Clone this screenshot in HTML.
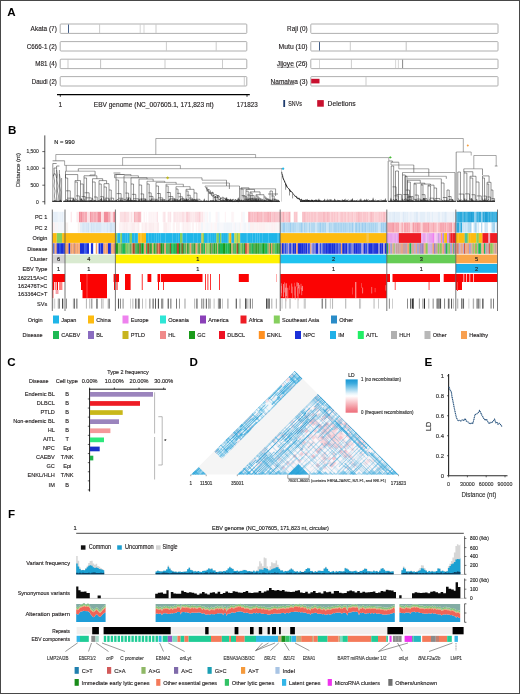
<!DOCTYPE html>
<html><head><meta charset="utf-8"><title>Figure</title>
<style>html,body{margin:0;padding:0;background:#fff;}body{width:520px;height:694px;overflow:hidden;font-family:"Liberation Sans",sans-serif;}svg{display:block;will-change:transform;}text{font-family:"Liberation Sans",sans-serif;}</style></head>
<body>
<svg width="520" height="694" viewBox="0 0 520 694" font-family="Liberation Sans, sans-serif" fill="#231f20">
<rect x="0" y="0" width="520" height="694" fill="#fff"/>
<text x="7.2" y="15.6" font-size="11.6" fill="#000" font-weight="bold">A</text>
<text x="56.8" y="31.2" font-size="7" text-anchor="end" stroke="#231f20" stroke-width="0.15" textLength="26.2" lengthAdjust="spacingAndGlyphs">Akata (7)</text>
<rect x="60.2" y="24" width="186.6" height="9.4" fill="#fff" stroke="#a6a6a6" stroke-width="0.9" rx="0.8"/>
<line x1="68.5" y1="24.5" x2="68.5" y2="32.9" stroke="#2b4a78" stroke-width="0.9"/>
<line x1="99.6" y1="24.5" x2="99.6" y2="32.9" stroke="#aaa" stroke-width="0.6"/>
<line x1="140.2" y1="24.5" x2="140.2" y2="32.9" stroke="#bbb" stroke-width="0.6"/>
<line x1="144" y1="24.5" x2="144" y2="32.9" stroke="#bbb" stroke-width="0.6"/>
<line x1="156" y1="24.5" x2="156" y2="32.9" stroke="#aaa" stroke-width="0.6"/>
<text x="56.8" y="48.8" font-size="7" text-anchor="end" stroke="#231f20" stroke-width="0.15" textLength="30" lengthAdjust="spacingAndGlyphs">C666-1 (2)</text>
<rect x="60.2" y="41.6" width="186.6" height="9.4" fill="#fff" stroke="#a6a6a6" stroke-width="0.9" rx="0.8"/>
<line x1="166.4" y1="42.1" x2="166.4" y2="50.5" stroke="#aaa" stroke-width="0.6"/>
<line x1="216.2" y1="42.1" x2="216.2" y2="50.5" stroke="#aaa" stroke-width="0.6"/>
<text x="56.8" y="66.4" font-size="7" text-anchor="end" stroke="#231f20" stroke-width="0.15" textLength="21.5" lengthAdjust="spacingAndGlyphs">M81 (4)</text>
<rect x="60.2" y="59.2" width="186.6" height="9.4" fill="#fff" stroke="#a6a6a6" stroke-width="0.9" rx="0.8"/>
<line x1="68" y1="59.7" x2="68" y2="68.1" stroke="#aaa" stroke-width="0.6"/>
<line x1="100.6" y1="59.7" x2="100.6" y2="68.1" stroke="#999" stroke-width="0.6"/>
<line x1="165" y1="59.7" x2="165" y2="68.1" stroke="#aaa" stroke-width="0.6"/>
<line x1="222.5" y1="59.7" x2="222.5" y2="68.1" stroke="#aaa" stroke-width="0.6"/>
<text x="56.8" y="83.8" font-size="7" text-anchor="end" stroke="#231f20" stroke-width="0.15" textLength="25" lengthAdjust="spacingAndGlyphs">Daudi (2)</text>
<rect x="60.2" y="76.6" width="186.6" height="9.4" fill="#fff" stroke="#a6a6a6" stroke-width="0.9" rx="0.8"/>
<line x1="244.3" y1="77.1" x2="244.3" y2="85.5" stroke="#aaa" stroke-width="0.6"/>
<text x="307.6" y="31.2" font-size="7" text-anchor="end" stroke="#231f20" stroke-width="0.15" textLength="20.5" lengthAdjust="spacingAndGlyphs">Raji (0)</text>
<rect x="310.8" y="24" width="187.2" height="9.4" fill="#fff" stroke="#a6a6a6" stroke-width="0.9" rx="0.8"/>
<text x="307.6" y="48.8" font-size="7" text-anchor="end" stroke="#231f20" stroke-width="0.15" textLength="29" lengthAdjust="spacingAndGlyphs">Mutu (10)</text>
<rect x="310.8" y="41.6" width="187.2" height="9.4" fill="#fff" stroke="#a6a6a6" stroke-width="0.9" rx="0.8"/>
<line x1="319.5" y1="42.1" x2="319.5" y2="50.5" stroke="#2b4a78" stroke-width="0.9"/>
<line x1="350.3" y1="42.1" x2="350.3" y2="50.5" stroke="#aaa" stroke-width="0.6"/>
<line x1="406.2" y1="42.1" x2="406.2" y2="50.5" stroke="#999" stroke-width="0.6"/>
<text x="307.6" y="66.4" font-size="7" text-anchor="end" stroke="#231f20" stroke-width="0.15" textLength="30.8" lengthAdjust="spacingAndGlyphs">Jijoye (26)</text>
<rect x="310.8" y="59.2" width="187.2" height="9.4" fill="#fff" stroke="#a6a6a6" stroke-width="0.9" rx="0.8"/>
<line x1="319.5" y1="59.7" x2="319.5" y2="68.1" stroke="#bbb" stroke-width="0.6"/>
<line x1="351.4" y1="59.7" x2="351.4" y2="68.1" stroke="#aaa" stroke-width="0.6"/>
<line x1="395.6" y1="59.7" x2="395.6" y2="68.1" stroke="#bbb" stroke-width="0.6"/>
<line x1="398.4" y1="59.7" x2="398.4" y2="68.1" stroke="#bbb" stroke-width="0.6"/>
<line x1="402.6" y1="59.7" x2="402.6" y2="68.1" stroke="#555" stroke-width="0.7"/>
<text x="307.6" y="83.8" font-size="7" text-anchor="end" stroke="#231f20" stroke-width="0.15" textLength="37" lengthAdjust="spacingAndGlyphs">Namalwa (3)</text>
<rect x="310.8" y="76.6" width="187.2" height="9.4" fill="#fff" stroke="#a6a6a6" stroke-width="0.9" rx="0.8"/>
<rect x="311.2" y="78.8" width="8.3" height="4.6" fill="#c8102e"/>
<line x1="366" y1="77.1" x2="366" y2="85.5" stroke="#aaa" stroke-width="0.6"/>
<line x1="277.2" y1="67.2" x2="294.5" y2="67.2" stroke="#231f20" stroke-width="0.5"/>
<line x1="270.8" y1="84.6" x2="294.3" y2="84.6" stroke="#231f20" stroke-width="0.5"/>
<line x1="57" y1="94.6" x2="249.8" y2="94.6" stroke="#000" stroke-width="1.1"/>
<line x1="60.3" y1="94.6" x2="60.3" y2="96.8" stroke="#000" stroke-width="0.8"/>
<line x1="247" y1="94.6" x2="247" y2="96.8" stroke="#000" stroke-width="0.8"/>
<text x="60.3" y="107" font-size="6.5" text-anchor="middle" stroke="#231f20" stroke-width="0.15">1</text>
<text x="93.8" y="107" font-size="6.5" stroke="#231f20" stroke-width="0.15" textLength="119.8" lengthAdjust="spacingAndGlyphs">EBV genome (NC_007605.1, 171,823 nt)</text>
<text x="236.8" y="107" font-size="6.5" stroke="#231f20" stroke-width="0.15" textLength="20.9" lengthAdjust="spacingAndGlyphs">171823</text>
<rect x="283.3" y="100" width="1.8" height="7" fill="#1f3c6e"/>
<text x="288.3" y="105.6" font-size="7" stroke="#231f20" stroke-width="0.15" textLength="13.5" lengthAdjust="spacingAndGlyphs">SNVs</text>
<rect x="317.2" y="100.1" width="6.6" height="6.6" fill="#c8102e"/>
<text x="327.6" y="105.6" font-size="7" stroke="#231f20" stroke-width="0.15" textLength="28" lengthAdjust="spacingAndGlyphs">Deletions</text>
<text x="8.1" y="133.7" font-size="11.6" fill="#000" font-weight="bold">B</text>
<line x1="44.8" y1="135.4" x2="44.8" y2="204.5" stroke="#222" stroke-width="0.8"/>
<line x1="42.3" y1="151.6" x2="44.8" y2="151.6" stroke="#222" stroke-width="0.7"/>
<text x="38.8" y="153.4" font-size="5.2" text-anchor="end" fill="#333" stroke="#333" stroke-width="0.15" textLength="12.36" lengthAdjust="spacingAndGlyphs">1,500</text>
<line x1="42.3" y1="168.2" x2="44.8" y2="168.2" stroke="#222" stroke-width="0.7"/>
<text x="38.8" y="170" font-size="5.2" text-anchor="end" fill="#333" stroke="#333" stroke-width="0.15" textLength="12.36" lengthAdjust="spacingAndGlyphs">1,000</text>
<line x1="42.3" y1="185.2" x2="44.8" y2="185.2" stroke="#222" stroke-width="0.7"/>
<text x="38.8" y="187" font-size="5.2" text-anchor="end" fill="#333" stroke="#333" stroke-width="0.15" textLength="8.24" lengthAdjust="spacingAndGlyphs">500</text>
<line x1="42.3" y1="201.7" x2="44.8" y2="201.7" stroke="#222" stroke-width="0.7"/>
<text x="38.8" y="203.5" font-size="5.2" text-anchor="end" fill="#333" stroke="#333" stroke-width="0.15" textLength="2.75" lengthAdjust="spacingAndGlyphs">0</text>
<text x="0" y="0" font-size="6.2" text-anchor="middle" fill="#333" stroke="#333" stroke-width="0.15" textLength="34" lengthAdjust="spacingAndGlyphs" transform="translate(19.8,170) rotate(-90)">Distance (nt)</text>
<text x="54.3" y="143.8" font-size="5.6" fill="#222" stroke="#222" stroke-width="0.15" textLength="20.3" lengthAdjust="spacingAndGlyphs">N = 990</text>
<path d="M52.6,160.8L64.6,160.8M78.3,168.7L78.3,171.2M66.2,165.4L66.2,171.2M52.8,163.5L52.8,201.6M56.6,166L56.6,201.6M59.4,170L59.4,201.6M61.6,178L61.6,201.6M52.8,163.5L56.6,163.5M56.6,166L59.4,166M54,168L56.6,168M54,168L54.3,172L53.6,176L54.6,181L54,186L55,191L54.4,196L55.2,201M56.6,170L57.4,175L56.9,180L58,186L57.4,191L58.4,196L58,201M59.4,174L60.3,180L59.8,186L60.8,192L60.4,201M53.4,176Q55,170 56.6,178M65.5,171.2L65.5,178M95.1,171.2L95.1,175M65.5,178L65.5,201.6M65.5,178L67.71,178M67.71,178L67.71,201.6M66.05,190.8L70.28,190.8M70.28,190.8L70.28,201.6M67.32,198.16L73,198.16M73,198.16L73,201.6M65.5,199.99L66.32,200.03L66.95,199.19L67.51,200.97L68.03,200.94L68.81,199.67L69.58,201.39L70.26,200.07L70.8,200.78L71.57,200.94L72.31,201.12M75,182L75,201.6M75,182L77.37,182M77.37,182L77.37,201.6M76.02,195.88L79.36,195.88M79.36,195.88L79.36,201.6M75,199.89L75.64,198.64L76.54,199.7L77.66,201.04L78.41,200.27L79,200.71L79.57,201.02M80.5,184L80.5,201.6M80.5,184L83.23,184M83.23,184L83.23,201.6M81.6,196.55L85.34,196.55M85.34,196.55L85.34,201.6M80.5,199.82L81.05,198.71L81.91,199.68L82.56,201.02L83.07,200.87L83.75,200.86L84.52,200.49L85.64,201.47M75,180.58L80.5,180.58M75,180.58L75,182M80.5,180.58L80.5,184M65.5,174.56L77.74,174.56M65.5,174.56L65.5,178M77.74,174.56L77.74,180.58M84,178L84,201.6M84,178L86.57,178M86.57,178L86.57,201.6M84.53,192.77L89.14,192.77M89.14,192.77L89.14,201.6M85.77,197.84L91.32,197.84M91.32,197.84L91.32,201.6M84,200.04L84.79,199.72L85.49,201.32L86.05,201.31L86.92,200.75L87.98,200.62L88.98,200.07L89.52,201.58L90.12,201.17L91.02,201.03L91.77,201.14M92.5,182L92.5,201.6M92.5,182L95.18,182M95.18,182L95.18,201.6M93.98,196.99L97.2,196.99M97.2,196.99L97.2,201.6M92.5,198.13L93.41,201.06L94.58,200.55L95.14,200.34L95.99,200.83L96.6,201.44L97.51,201.24M99,184L99,201.6M99,184L101.29,184M101.29,184L101.29,201.6M100.11,196.72L103.6,196.72M103.6,196.72L103.6,201.6M99,200.81L99.64,200.2L100.21,199.58L101.21,200.25L101.73,200.9L102.53,201.47L103.71,201.03M104,187L104,201.6M104,187L106.39,187M106.39,187L106.39,201.6M104.7,198.18L108.64,198.18M108.64,198.18L108.64,201.6M104,201.58L104.93,198.91L105.95,199.41L107.14,201.23L107.84,200.91M109,190L109,201.6M109,190L111.26,190M111.26,190L111.26,201.6M110.22,198.18L113.64,198.18M113.64,198.18L113.64,201.6M109,198.86L109.71,198.99L110.34,200.6L111.52,199.88L112.23,201.13L113.16,200.7M104,183.66L109,183.66M104,183.66L104,187M109,183.66L109,190M99,180.61L106.59,180.61M99,180.61L99,184M106.59,180.61L106.59,183.66M92.5,178.7L102.66,178.7M92.5,178.7L92.5,182M102.66,178.7L102.66,180.61M84,175.78L96.85,175.78M84,175.78L84,178M96.85,175.78L96.85,178.7M89.89,175.78L89.89,175M89.89,175L95.1,175M113.5,173L120.4,173M202,177.8L202,180.2M116,180L116,201.6M116,180L118.6,180M118.6,180L118.6,201.6M116.59,193.6L121.12,193.6M121.12,193.6L121.12,201.6M118.26,198.24L122.94,198.24M122.94,198.24L122.94,201.6M116,200.58L117.06,200.04L117.76,199.1L118.55,200.69L119.72,199.98L120.74,201.19L121.81,200.86L122.89,201.3L123.94,201.27M124,182L124,201.6M124,182L126.21,182M126.21,182L126.21,201.6M125.32,193.08L128.61,193.08M128.61,193.08L128.61,201.6M126.16,198.01L130.59,198.01M130.59,198.01L130.59,201.6M124,199.98L125.11,198.87L126.26,201.37L127.18,199.78L128.14,201.06L128.66,200.26L129.77,200.96L130.52,201.06M131,184L131,201.6M131,184L133.56,184M133.56,184L133.56,201.6M131.84,194.35L135.77,194.35M135.77,194.35L135.77,201.6M133.14,198.78L138.42,198.78M138.42,198.78L138.42,201.6M131,200.38L131.61,200.77L132.38,200.32L133.43,201.35L134.09,200.93L134.71,200.06L135.29,201.51L136.18,200.51L137.25,201L137.98,200.91L139,201.41M139,185L139,201.6M139,185L141.64,185M141.64,185L141.64,201.6M140.51,193.93L143.64,193.93M143.64,193.93L143.64,201.6M141.65,198.97L146,198.97M146,198.97L146,201.6M139,198.49L139.91,199.67L140.7,198.94L141.61,199.37L142.75,200.19L143.94,200.83L144.7,200.52L145.57,201.31L146.54,201.33M147,184L147,201.6M147,184L149.2,184M149.2,184L149.2,201.6M148.29,192.87L151.19,192.87M151.19,192.87L151.19,201.6M149.21,196.41L152.96,196.41M152.96,196.41L152.96,201.6M151.11,199.2L155.76,199.2M155.76,199.2L155.76,201.6M147,200.22L147.52,200.37L148.69,200.59L149.68,200.01L150.28,199.98L150.83,201.2L151.74,201.37L152.91,200.99L153.85,200.54L154.43,200.7L154.96,201.17L155.92,201.23M156,186L156,201.6M156,186L158.48,186M158.48,186L158.48,201.6M156.97,193.5L160.38,193.5M160.38,193.5L160.38,201.6M158.15,197.9L162.76,197.9M162.76,197.9L162.76,201.6M160.56,199.58L165.06,199.58M165.06,199.58L165.06,201.6M156,201.11L157,198.77L157.72,201.5L158.38,200.61L159.14,200.19L159.85,200.13L160.9,200.08L161.92,200.66L162.6,200.42L163.3,200.59L164.11,201.02L164.96,201.18L165.7,201.36M166,186L166,201.6M166,186L168.17,186M168.17,186L168.17,201.6M166.83,192.51L170.42,192.51M170.42,192.51L170.42,201.6M168.33,196.55L172.89,196.55M172.89,196.55L172.89,201.6M169.51,198.81L175.35,198.81M175.35,198.81L175.35,201.6M172.53,199.99L177.57,199.99M177.57,199.99L177.57,201.6M166,200.71L167.12,200.97L167.7,201.49L168.7,201.01L169.42,199.08L170.44,199.9L171.34,200.28L171.85,200.04L172.58,200.12L173.37,200.22L173.87,200.25L174.44,200.97L175.27,200.61L176.27,200.88L177.41,201.42M176,189L176,201.6M176,189L178.03,189M178.03,189L178.03,201.6M177.18,193.33L180.43,193.33M180.43,193.33L180.43,201.6M178.61,196.81L182.64,196.81M182.64,196.81L182.64,201.6M180.53,198.59L184.21,198.59M184.21,198.59L184.21,201.6M181.36,199.8L186.77,199.8M186.77,199.8L186.77,201.6M182.93,200.4L188.73,200.4M188.73,200.4L188.73,201.6M176,199.77L176.92,200.27L177.57,199.43L178.56,201.05L179.62,199.86L180.73,199.73L181.58,200.03L182.3,200.27L182.85,200.94L183.71,200.09L184.69,200.26L185.8,200.42L186.73,200.99L187.56,201.42L188.61,201.26L189.23,201.5L189.88,201.41M186,191L186,201.6M186,191L188.11,191M188.11,191L188.11,201.6M186.9,195.26L190.27,195.26M190.27,195.26L190.27,201.6M188.91,198.1L192.27,198.1M192.27,198.1L192.27,201.6M190.38,199.66L195.37,199.66M195.37,199.66L195.37,201.6M192.18,200.26L197.58,200.26M197.58,200.26L197.58,201.6M186,198.6L186.97,200.15L187.88,200.14L188.77,199.16L189.95,201.11L190.98,199.56L191.9,200.64L192.67,200.77L193.57,200.71L194.15,200.3L194.84,200.99L195.48,201L196.04,201.33L196.81,201.42L197.65,201.54M194,193L194,201.6M194,193L196.91,193M196.91,193L196.91,201.6M195.71,199.28L199.96,199.28M199.96,199.28L199.96,201.6M194,198.93L195.12,200.01L196.08,199.9L196.94,200.57L197.72,200.86L198.56,200.62L199.17,201.49M186,189.33L194,189.33M186,189.33L186,191M194,189.33L194,193M176,186.64L176,189M190.07,186.64L190.07,189.33M166,184.24L166,186M183.33,184.24L183.33,186.64M156,182.38L156,186M176.15,182.38L176.15,184.24M147,181.27L147,184M164.74,181.27L164.74,182.38M139,179.12L139,185M153.17,179.12L153.17,181.27M131,177.71L131,184M147.06,177.71L147.06,179.12M124,175.76L124,182M138.37,175.76L138.37,177.71M116,174.49L116,180M130.93,174.49L130.93,175.76M114.6,177.8L114.6,174.49M114.6,174.49L124.56,174.49M226.5,180.2L226.5,186M205,186.17L205.39,187.2L205.79,187.62L206.18,187.3L206.57,188.61L206.97,187.43L207.36,189.01L207.75,189.76L208.15,190.1L208.54,189.42L208.93,189.44L209.33,189.56L209.72,189.99L210.11,190.52L210.51,191.82L210.9,192.41L211.29,193.16L211.69,192.61L212.08,193.95L212.47,191.87L212.87,193.16L213.26,192.7L213.65,194.22L214.04,194.65L214.44,194.92L214.83,194.7L215.22,194.68L215.62,194.77L216.01,194.27L216.4,194.75L216.8,195.88L217.19,196.33L217.58,195.02L217.98,197.58L218.37,195.13L218.76,195.61L219.16,196.8L219.55,196.58L219.94,197.33L220.34,198.02L220.73,197.85L221.12,198.6L221.52,197.72L221.91,198.5L222.3,197.8L222.7,196.98L223.09,196.93L223.48,197.38L223.88,198.33L224.27,197.89L224.66,198.9L225.06,199.34L225.45,200.24L225.84,197.87L226.24,200.54L226.63,197.56L227.02,200.48L227.42,200.87L227.81,198.96L228.2,200.42L228.6,199.55L228.99,199.8L229.38,200.81L229.78,201.15L230.17,199.16L230.56,198.96L230.96,201.25L231.35,200.26L231.74,201.31L232.13,199.18L232.53,201.24L232.92,199.09L233.31,199.09L233.71,199.59L234.1,201.6L234.49,199.99L234.89,200.21L235.28,199.76L235.67,199.11L236.07,200.33L236.46,200.54L236.85,200.05L237.25,201.36L237.64,200.04L238.03,201.6L238.43,201.6L238.82,200.99L239.21,199.49L239.61,200.99L240,201.21M206,188.75L206.37,188.62L206.74,190.03L207.11,191.34L207.48,190.94L207.85,189.41L208.22,191.62L208.6,192.02L208.97,192.2L209.34,193.76L209.71,191.48L210.08,191.74L210.45,194.2L210.82,192.66L211.19,193.09L211.56,195.44L211.93,194.36L212.3,196.21L212.67,196.24L213.04,196.08L213.42,195.42L213.79,194.83L214.16,197.74L214.53,197.65L214.9,198L215.27,196.98L215.64,196.49L216.01,197.72L216.38,197.28L216.75,196.77L217.12,196.7L217.49,197.74L217.87,197.12L218.24,197.62L218.61,199.89L218.98,199.9L219.35,199.89L219.72,198.89L220.09,199.76L220.46,198.08L220.83,199.57L221.2,200.73L221.57,200.29L221.94,200.97L222.31,199.99L222.69,199.11L223.06,198.35L223.43,199.18L223.8,200.94L224.17,200.11L224.54,200.47L224.91,201.08L225.28,199.63L225.65,199.23L226.02,201.53L226.39,200.73L226.76,199.07L227.13,201.13L227.51,201.26L227.88,201.43L228.25,199.59L228.62,200.07L228.99,201.46L229.36,201.34L229.73,200.42L230.1,201.6L230.47,200.36L230.84,201.6L231.21,199.94L231.58,200.94L231.96,201.6L232.33,201.6L232.7,201.6L233.07,201.6L233.44,201.6L233.81,201.38L234.18,201.6L234.55,201.39L234.92,201.6L235.29,201.6L235.66,199.87L236.03,200.75L236.4,201.6L236.78,200.28L237.15,199.99L237.52,201.6L237.89,201.6L238.26,201.6L238.63,201.6L239,201.6M215.32,196.04L215.32,201.6M213.25,194.76L213.25,201.6M217.16,196.98L217.16,201.6M215.23,195.99L215.23,201.6M208.33,190.42L208.33,201.6M239.5,186L239.5,201.6M229.4,183L229.4,189M241,189L241,201.6M241,189L243.08,189M243.08,189L243.08,201.6M241.69,195.49L244.96,195.49M244.96,195.49L244.96,201.6M242.64,196.81L246.98,196.81M246.98,196.81L246.98,201.6M243.86,199.03L249.08,199.03M249.08,199.03L249.08,201.6M246.41,200.2L251.66,200.2M251.66,200.2L251.66,201.6M241,199.88L242.02,201.3L242.79,200.64L243.91,200.28L244.68,199.98L245.85,199.87L246.91,200.42L247.97,200.78L248.74,201.21L249.43,201.25L250.28,200.92L250.94,201.37L251.63,201.41M246,191.2L246,201.6M246,191.2L248.26,191.2M248.26,191.2L248.26,201.6M247.28,195.06L250.34,195.06M250.34,195.06L250.34,201.6M248.78,198.47L252.94,198.47M252.94,198.47L252.94,201.6M249.72,199.73L255.12,199.73M255.12,199.73L255.12,201.6M251.93,200.41L257.22,200.41M257.22,200.41L257.22,201.6M246,200.69L246.52,199.29L247.08,198.86L248.01,200.08L248.69,199.19L249.27,200.08L250.35,200.07L250.89,201.36L251.59,200.14L252.18,199.85L253.31,200.72L254.42,200.82L255.03,201.17L255.55,201.19L256.74,201.35L257.71,201.47M250,193L250,201.6M250,193L252.1,193M252.1,193L252.1,201.6M250.76,195.61L254.16,195.61M254.16,195.61L254.16,201.6M251.54,198.24L256.3,198.24M256.3,198.24L256.3,201.6M253.26,199.21L258.56,199.21M258.56,199.21L258.56,201.6M256.07,200.28L261.46,200.28M261.46,200.28L261.46,201.6M250,200.1L251.11,199.49L251.77,201.28L252.89,201.38L253.82,200.05L254.45,200.51L255.55,199.4L256.11,201.54L256.79,201.5L257.94,201.47L258.7,200.34L259.52,201.3L260.06,201.34L260.78,200.77L261.58,201.16L262.27,201.34L263.42,201.56M256,196L256,201.6M256,196L258.05,196M258.05,196L258.05,201.6M257,198.03L260.13,198.03M260.13,198.03L260.13,201.6M258.24,199.08L262.33,199.08M262.33,199.08L262.33,201.6M259.7,200.09L264.29,200.09M264.29,200.09L264.29,201.6M256,200.03L257.02,201.36L257.57,199.9L258.48,199.21L259,201.57L259.92,201.02L260.77,200.86L261.33,200.25L262.05,200.5L263.16,200.69L264.25,201.07L264.88,200.93L265.58,200.49L266.17,200.58L266.82,201.08L267.47,201.44L268.07,200.6L268.64,200.77L269.46,200.96L270.09,201.25L271.07,201.48L272,201.41M264,197L264,201.6M264,197L265.99,197M265.99,197L265.99,201.6M265.02,198.67L268.29,198.67M268.29,198.67L268.29,201.6M266.14,199.57L270.42,199.57M270.42,199.57L270.42,201.6M267.16,200.43L272.03,200.43M272.03,200.43L272.03,201.6M264,200.96L265.13,200.54L265.93,201.47L266.43,199.91L267.55,199.9L268.14,199.92L268.73,200.47L269.76,200.76L270.48,200.96L271.18,201.57L272.19,200.98L272.82,201.15L273.35,200.98L274.26,200.91L275.07,200.69L275.68,201.45L276.57,201.37L277.28,201.31M256,194.72L264,194.72M256,194.72L256,196M264,194.72L264,197M250,191.89L260.06,191.89M250,191.89L250,193M260.06,191.89L260.06,194.72M246,189.41L254.56,189.41M246,189.41L246,191.2M254.56,189.41L254.56,191.89M241,187.84L248.98,187.84M241,187.84L241,189M248.98,187.84L248.98,189.41M275.6,188.8L275.6,196M268,194L278,194M300,200.27L300.77,201.16L301.52,200.04L302.14,201.39L302.72,201.37L303.47,200.64L303.93,200.02L304.48,200.69L304.97,200.56L305.71,200.27L306.12,201.15L306.61,200.91L307.5,200.04L308.34,200.5L308.75,200.94L309.46,200.22L310.09,200.68L310.68,200.56L311.34,200.82L312.29,200.43L313.09,200.03L313.93,200.99L314.78,200.41L315.5,200.28L316.4,200.93L316.97,200.55L317.43,200.14L317.95,200.9L318.82,199.98L319.38,201.2L320.18,200.42L320.82,201.12L321.81,201.24L322.72,201.02L323.27,200.74L323.75,200.18L324.27,200.96L324.87,200.11L325.29,200.22L325.86,200.35L326.84,201.11L327.26,200.92L328.09,201.03L328.68,199.83L329.6,199.86L330.13,200.29L330.71,200.28L331.61,200.34L332.31,200.36L333.12,201.14L333.95,201.2L334.86,200.85L335.31,201.37L336.08,201.29L336.72,201.33L337.53,200.02L337.95,200.42L338.74,200.51L339.72,200.9L340.65,200.54L341.19,200.96L341.65,200.18L342.18,200.46L343.05,200.99L343.84,200.31L344.5,200.15L345.15,201.17L345.61,201.17L346.44,200.59L346.93,199.89L347.34,200.45L348.02,199.98L348.78,200.05L349.32,200.55L350.18,200.8L351.02,200.74L351.63,200.96L352.44,199.82L352.86,201.06L353.3,201.13L354,200.5L354.82,201.2L355.73,201.09L356.6,200.77L357.31,200.06L358.26,200.54L358.69,200.9L359.52,200.09L360.45,200.51L360.91,200.95L361.57,201.18L362.18,200.9L363.01,200.66L363.76,200.93L364.59,200.52L365.04,199.92L365.51,201L365.96,200.12L366.87,200.67L367.73,200.12L368.65,199.89L369.44,200.44L369.86,201.05L370.85,200.55L371.82,201.04L372.71,200.13L373.55,200.9L374.54,200.87L375.54,199.9L375.99,201.28L376.64,200.98L377.28,201.11L378.13,201.25L378.89,200.88L379.49,200.43L379.9,200.2L380.58,200.22L381.47,199.93L381.88,200.98L382.48,200.53L383.06,200.7L383.76,200.17L384.21,200.8L384.76,200.72L385.37,201.01L386.33,201.4L386.75,200.23M285.6,184L285.6,189.76M292.6,193.5L292.6,198.41M289.5,190L289.5,195.49M281.2,168.8L283.6,168.8M270,191L270,201.6M270,191L272.36,191M272.36,191L272.36,201.6M271.38,195.93L274.16,195.93M274.16,195.93L274.16,201.6M271.97,199.11L276.06,199.11M276.06,199.11L276.06,201.6M273.94,200.03L278.5,200.03M278.5,200.03L278.5,201.6M270,199.81L271.19,201.6L272.09,199.64L272.76,201.2L273.9,199.88L274.64,199.73L275.45,200.18L276.45,200.98L277.2,201.5L277.96,200.98L278.69,201.41L279.42,201.57M388.8,161L392.5,161M388.2,161L388.2,201.6M391,162.2L398.8,162.2M413.8,165L413.8,172.5M428.8,168.8L428.8,176.3M455,172.5L455,201.6M402.5,172.5L402.5,175M446.3,176.3L446.3,178.8M391.2,166L391.2,201.6M391.2,166L393.66,166M393.66,166L393.66,201.6M392.52,186.84L396.09,186.84M396.09,186.84L396.09,201.6M394.46,195.79L398.1,195.79M398.1,195.79L398.1,201.6M391.2,201.16L391.87,200.41L392.88,200.13L393.66,199.32L394.45,201.11L394.97,199.66L396.17,200.12L397.08,200.97L398.25,201.22L398.99,201.34M395.5,171L395.5,201.6M395.5,171L398.51,171M398.51,171L398.51,201.6M396.38,194.45L401.4,194.45M401.4,194.45L401.4,201.6M395.5,201.37L396.35,198.98L396.92,200.93L397.87,200.89L399,201.54L399.97,200.77L400.66,200.81L401.36,201.54M402.5,175L402.5,201.6M402.5,175L405.29,175M405.29,175L405.29,201.6M403.29,194.54L408.5,194.54M408.5,194.54L408.5,201.6M402.5,199.64L403.55,200.33L404.46,199.17L405.64,201.59L406.58,200.4L407.67,201.04L408.25,201.26L408.94,201.35M405,176.3L405,201.6M405,176.3L407.02,176.3M407.02,176.3L407.02,201.6M405.79,190.07L409.52,190.07M409.52,190.07L409.52,201.6M407.12,197.2L411.59,197.2M411.59,197.2L411.59,201.6M405,199.21L406.17,198.67L407.07,201.47L408.06,200.56L409.24,201.2L409.82,201.47L410.72,200.96L411.56,201.05M407.5,182L407.5,201.6M407.5,182L410.33,182M410.33,182L410.33,201.6M408.57,196.48L413.11,196.48M413.11,196.48L413.11,201.6M407.5,200.09L408.2,201.4L409.19,199.18L409.8,199.49L410.58,199.68L411.75,200.14L412.26,200.65L412.79,201.56L413.7,201.43M414,184L414,201.6M414,184L416.16,184M416.16,184L416.16,201.6M414.88,195.07L418.31,195.07M418.31,195.07L418.31,201.6M416.77,199.1L420.58,199.1M420.58,199.1L420.58,201.6M414,198.88L414.51,199.34L415.45,199.72L416.36,199.44L416.91,200.76L417.97,200.92L419.12,200.43L420.01,200.97L420.56,201.42M421,185L421,201.6M421,185L422.98,185M422.98,185L422.98,201.6M421.81,194.66L425.06,194.66M425.06,194.66L425.06,201.6M423.04,198.67L427.02,198.67M427.02,198.67L427.02,201.6M421,199.76L421.86,200.32L422.98,201.5L424.06,200.63L424.68,201.1L425.35,200.01L426.26,201.25L426.96,200.79L427.64,201.1M428,186L428,201.6M428,186L430.56,186M430.56,186L430.56,201.6M429.44,198.19L433.95,198.19M433.95,198.19L433.95,201.6M428,201.55L428.88,200.83L429.7,199.29L430.33,199.96L430.91,201.51L431.5,200.94L432.08,200.51L432.88,201.08L433.53,201.17M434,188L434,201.6M434,188L436.6,188M436.6,188L436.6,201.6M434.84,198.46L439.85,198.46M439.85,198.46L439.85,201.6M434,199.93L434.5,200.43L435.43,199.99L436.54,200.58L437.42,201.36L438.3,200.4L439.22,201.55M441.3,183L441.3,201.6M441.3,183L444.04,183M444.04,183L444.04,201.6M442.85,197.5L446.81,197.5M446.81,197.5L446.81,201.6M441.3,199.88L442.26,200.14L443.25,201.13L443.97,200.98L444.86,200.16L445.7,200.97L446.82,201.51M447,190L447,201.6M447,190L449.21,190M449.21,190L449.21,201.6M447.91,196.53L451.15,196.53M451.15,196.53L451.15,201.6M449.22,199.46L452.98,199.46M452.98,199.46L452.98,201.6M447,200.55L447.58,200.67L448.63,201.27L449.4,199.56L450.19,200.68L450.77,201.3L451.45,201.19L452.13,201.46L452.81,201.02L453.97,201.44M428,185.14L434,185.14M428,185.14L428,186M434,185.14L434,188M421,184.09L430.51,184.09M421,184.09L421,185M430.51,184.09L430.51,185.14M414,183.18L424.88,183.18M414,183.18L414,184M424.88,183.18L424.88,184.09M407.5,180.26L420.25,180.26M407.5,180.26L407.5,182M420.25,180.26L420.25,183.18M441.3,178.8L441.3,183M456.2,152L456.2,201.6M494.8,166L497.5,166M463.8,168.8L463.8,172M482.5,168.8L482.5,175M457.8,172L457.8,201.6M457.8,172L460.45,172M460.45,172L460.45,201.6M458.7,194.07L463.9,194.07M463.9,194.07L463.9,201.6M457.8,198.49L458.66,198.91L459.73,201.22L460.85,199.68L461.66,200.28L462.2,200.36L463.39,200.82M464,173L464,201.6M464,173L466.87,173M466.87,173L466.87,201.6M465.07,193.87L469.51,193.87M469.51,193.87L469.51,201.6M464,201.47L464.75,198.59L465.31,200.59L466.21,199.72L467.35,200.51L468.2,200.34L468.9,201.01L469.7,201.33M470,178L470,201.6M470,178L472.77,178M472.77,178L472.77,201.6M471.57,194.73L475.17,194.73M475.17,194.73L475.17,201.6M470,198.27L470.89,199.8L471.69,201.14L472.49,200.86L473.58,200.32L474.31,201.1L474.98,200.65L475.94,201.28M476,182L476,201.6M476,182L478.99,182M478.99,182L478.99,201.6M476.78,195.91L481.32,195.91M481.32,195.91L481.32,201.6M476,199.88L476.75,199.31L477.59,200.44L478.27,200.7L478.77,201.42L479.72,200.8L480.33,200.83L481.22,201.4L481.97,201.4M470,176.28L476,176.28M470,176.28L470,178M476,176.28L476,182M464,171.73L472.83,171.73M464,171.73L464,173M472.83,171.73L472.83,176.28M482.5,178L482.5,201.6M482.5,178L484.53,178M484.53,178L484.53,201.6M483.47,196.1L486.42,196.1M486.42,196.1L486.42,201.6M482.5,198.58L483.12,201.08L483.99,199.92L484.79,200.9L485.62,200.4L486.5,201.42M487,184L487,201.6M487,184L488.74,184M488.74,184L488.74,201.6M487.5,196.97L490.57,196.97M490.57,196.97L490.57,201.6M487,201.28L488.19,199.58L489.32,200.69L490.43,201.46M491,190L491,201.6M491,190L492.92,190M492.92,190L492.92,201.6M491.5,198.56L494.55,198.56M494.55,198.56L494.55,201.6M491,201.59L492.01,200.82L492.91,201.15L493.58,199.98L494.74,200.82M487,182.31L491,182.31M487,182.31L487,184M491,182.31L491,190M482.5,175.92L489.08,175.92M482.5,175.92L482.5,178M489.08,175.92L489.08,182.31" stroke="#2a2a2a" stroke-width="0.5" fill="none"/>
<path d="M281.61,171.76L281.85,173.83L282.57,175.48L282.81,177.19L283.36,179L284.18,180.46L284.53,181L284.81,182.22L285.51,183.14L285.96,185.3L286.45,185.07L286.98,187.28L287.32,187.19L288.2,188.05L288.43,188.45L289.08,188.84L289.68,190.47L290.16,190.14L290.31,191.05L290.99,192.05L291.55,191.66L292.17,192.37L292.37,192.83L292.95,193.39L293.59,194.23L293.85,194.76L294.63,195.59L294.83,196.16L295.5,196.43L296.1,196.16L296.58,197.69L297.17,197.39L297.39,198.38L298.2,199.11L298.54,198.2L299.17,198.15L299.56,199.68L300.02,199.74L300.47,199.82L300.89,199.93L301.36,199.16L301.85,199.58L302.3,200.41L303.17,200.81L303.32,200.26L303.85,200.46L304.31,201.21L304.98,199.88L305.47,200.19L305.99,200.44L306.64,200.28L306.73,200.72L307.35,200.38L307.99,201.27L308.22,200.01L308.86,201.22L309.33,200.51L309.51,200.75L310.08,201.14L310.37,201.57L310.98,200.36L311.46,199.97L312,200.84L312.2,199.97L312.79,201.33L313.12,201.6L313.72,200.84L314.32,200.57L314.66,200.62L314.97,200.9L315.66,200.14L315.9,200.08L316.35,200.12L316.96,201.23L317.47,201.34L317.68,201.15L318.06,200.83L318.49,201.6L319.16,200.53L319.56,200.79L320.16,201.32" stroke="#1e1e1e" stroke-width="1.0" fill="none"/>
<path d="M281.5,168.8L281.5,201.6" stroke="#aaa" stroke-width="0.5" fill="none"/>
<rect x="52.3" y="200.8" width="9.7" height="1.2" fill="#222" fill-opacity="0.75"/>
<rect x="63" y="200.8" width="217" height="1.2" fill="#222" fill-opacity="0.75"/>
<rect x="300" y="200.8" width="87" height="1.2" fill="#222" fill-opacity="0.75"/>
<rect x="388" y="200.8" width="68" height="1.2" fill="#222" fill-opacity="0.75"/>
<rect x="457" y="200.8" width="38" height="1.2" fill="#222" fill-opacity="0.75"/>
<path d="M166,177.8 l1.6,-1.6 l1.6,1.6 l-1.6,1.6z" fill="#e8e020"/>
<path d="M281.7,168.7 l1.4,-1.4 l1.4,1.4 l-1.4,1.4z" fill="#22b8e8"/>
<path d="M388.8,157.4 l1.5,-1.2 l1.5,1.2 l-1.5,1.2z" fill="#44bb33"/>
<path d="M466.6,145.5 l1.2,-1.2 l1.2,1.2 l-1.2,1.2z" fill="#f8a040"/>
<path d="M52.5,202L52.5,200.83L53.14,201.05L53.84,200.86L54.77,200.09L55.61,200.54L56.83,200.88L57.88,201.19L59.06,200.93L59.98,200.32L60.8,199.57L62,202ZM64,202L64,200.65L65.22,200.55L66.01,201.1L66.63,200.29L67.92,200.08L68.45,201.37L69.61,201.29L70.18,199.24L71.09,201.12L71.64,201.1L72.46,200.33L73.52,197.21L74.5,200.35L75.32,199.88L75.97,201.2L76.91,200.32L78.09,201.24L78.74,201.3L79.71,201.33L80.53,200.25L81.36,197.95L82.6,200.39L83.45,200.96L84.48,200.97L85.55,201.09L86.59,201.05L87.69,201.29L88.96,201.04L90.19,200.18L91.12,200.1L92.32,200.83L93.31,201L94.29,200.02L95.15,200.87L95.92,200.47L97.19,201.13L97.83,200.5L98.93,200.19L100.11,200.92L100.7,198.97L101.74,197.63L102.6,201.11L103.69,200.74L104.68,200.52L105.8,199.89L106.55,200.59L107.38,200.88L108.64,200.58L109.74,200.01L110.56,201.16L111.16,201.22L112.34,200.42L113.61,201.15L114.33,200.6L115.13,200.24L116.02,200.15L116.9,199.64L117.77,201.38L118.66,200.93L119.62,200.65L120.58,198.53L121.12,201.35L121.8,198.38L122.86,200.82L123.45,201.16L124.25,200.62L125.19,200.42L126.35,201.29L127.43,199.05L128.53,197.58L129.61,200.54L130.6,199.17L131.6,199.89L132.49,200.05L133,200.87L133.58,200.29L134.44,200.29L135,200.26L136.17,200.32L136.92,201.34L137.66,201.18L138.87,200.27L139.47,199.02L140.45,200.96L141.21,197.45L142.2,200.63L142.72,200.19L143.54,200.68L144.22,200.67L144.89,198.25L145.73,199.16L146.96,201.15L148.25,201.04L149.09,201.4L149.99,200.09L150.55,200.58L151.16,198.01L151.84,200.6L153.03,200.79L154.17,201.21L154.87,200.22L155.89,200.46L157.09,200.64L158,200.44L158.92,201.3L160.04,200.93L161.17,200.22L161.82,201.33L162.54,200.11L163.5,200.99L164.09,199.25L164.8,200.77L165.32,201.08L166.49,200.87L167.24,200.87L168.37,199.88L169.36,199.33L169.96,200.79L171.23,200.88L172.44,200.33L173.15,200.4L173.86,201.06L174.54,198.02L175.54,201.06L176.39,201.38L176.95,200.86L177.68,200.33L178.74,200.8L179.5,200.01L180.43,198.55L181.55,201.3L182.41,200.71L182.98,201.37L183.99,200.19L185.19,200.48L185.71,200.28L186.74,198.06L187.99,201L189.15,200.43L190.21,201.25L191.32,199.27L192.24,201.05L192.86,198.37L194.03,201.05L195.24,200.56L196.53,200.32L197.39,200.7L198.26,201.19L198.86,200.7L199.84,201.3L200.97,200.6L202.1,200.84L202.61,201.28L203.17,201.13L204.29,198.37L205.36,201.16L206.37,200.22L207.54,200.98L208.08,200.49L209.01,200.91L209.55,200.94L210.8,200.12L211.95,200.52L213.02,200.06L213.97,200.38L214.9,201.37L215.67,199.05L216.94,200.62L217.57,200.94L218.63,200.38L219.66,200.92L220.29,199.29L221.48,200.64L222.49,200.11L223.73,200.03L224.28,200.45L225.07,200.96L225.67,200.47L226.92,198.36L228.2,201.22L229.23,200.33L230.17,198.75L231.11,201.03L231.92,200.23L233.14,201.08L234.04,200.98L235.33,201.22L235.88,200.9L237.16,200.1L238.25,197.21L239.33,200.09L240.34,200.33L241.42,199.61L242.71,200.8L243.98,200.12L244.71,200.55L245.79,200.28L246.49,200.85L247.6,200.33L248.38,200.15L248.9,200.94L249.83,201.12L250.87,201.15L252.05,200.86L253.34,200.06L253.84,201.16L254.9,201.08L256.1,198.24L256.78,201.04L257.6,200.16L258.23,201.18L258.95,200.22L260.04,201.15L261.09,201.33L262.13,201.19L262.8,201.24L264.08,200.32L264.85,199.61L265.85,201.05L266.48,201.06L267.74,200.92L268.82,201.28L269.49,200.03L270.4,200.06L271.69,200.8L272.54,201.01L273.54,201.2L274.59,201.21L275.44,201.14L276.33,200.57L277.32,200.31L278.6,200.14L279,202ZM300,202L300,200.71L301.21,199.53L302.41,201.23L303.26,200.64L304.45,201.24L305.1,200.06L305.81,200.92L307.07,198.84L308.05,201.11L308.56,200.75L309.72,200.91L310.42,201.38L311.05,200.06L312.3,201.1L313.53,201L314.33,201.14L315.09,200.98L316.11,199.2L316.68,201.25L317.95,200.4L319,198.28L319.79,200.93L320.55,200.36L321.78,200.85L322.47,200.97L323.4,201.28L324.53,198.59L325.29,201.09L326.46,200.63L327.28,198.47L327.93,201.02L328.57,200.17L329.77,200.3L331.06,199.11L331.84,201.04L332.54,201.05L333.13,200.56L333.77,200.51L334.52,198.51L335.8,200.31L336.64,200.69L337.92,200.17L338.6,200.35L339.67,200.18L340.8,201.11L341.87,201.16L342.59,199.02L343.1,200.1L344.18,200.11L345.33,198.46L345.87,201.15L346.74,200.11L347.79,200.48L348.33,201.1L349.24,200.96L350.23,201.24L351.06,199.05L351.66,200.35L352.3,197.8L353.48,201.29L354.65,200.32L355.69,200.78L356.68,200.36L357.6,201.22L358.88,200.65L359.98,200.35L360.97,198.34L361.98,201.16L363.18,201.22L364.29,199.15L365.32,200.17L365.88,201.12L366.58,198.5L367.36,200.21L368.14,200.46L368.86,201.09L369.44,200.27L370.04,201.01L371.3,200.14L372.3,200.35L373.02,197.15L374.12,200.53L374.69,200.86L375.65,201.15L376.28,201.37L377.16,200.55L378.19,200.08L379.16,200.67L379.66,201.28L380.63,200.88L381.22,200.45L381.81,201.17L382.54,200.61L383.49,200.29L384.3,200.46L385.53,198.09L386.1,201.14L386.5,202ZM389,202L389,201.11L389.74,201.25L390.9,197.48L392.14,201.3L392.88,201.12L393.96,200.58L394.95,200.37L396.04,201.2L396.74,200.88L397.3,200.68L398.22,200.65L399.42,200.66L400.67,200.78L401.5,201.37L402.2,198.07L402.95,200.49L403.97,200.42L404.93,200.73L405.76,200.83L406.86,201.39L407.62,198.98L408.48,200.53L409.61,200.36L410.14,200.25L411.05,200.67L411.8,200.25L412.98,200.37L413.61,201L414.37,201.13L415.25,200.59L415.78,198.4L416.45,200.4L417.05,200.7L418.12,200.14L419.39,201.32L420.21,200.26L421.44,199.64L422.22,200.27L423.17,198.1L424.18,198.58L425.2,198.47L425.8,200.68L426.65,200.22L427.73,200.22L428.84,201.31L429.47,200.14L430.62,200.64L431.38,200.09L432,201.29L432.73,200.66L433.58,201.25L434.8,199.45L436.07,200.44L436.98,200.16L437.65,200.23L438.55,201.14L439.48,201.02L440.37,200.52L441,201.34L441.77,200.77L442.74,200.36L443.6,201.12L444.35,200.3L444.85,200.58L445.55,201.06L446.12,199.5L447.36,200.92L448.01,200.4L448.68,200.58L449.18,201.36L449.89,200.88L451.01,201.05L451.73,200.47L452.31,198.89L453.3,200.55L454.33,201.14L455.5,202ZM457,202L457,200.25L457.7,200.78L458.3,200.84L459.11,200.32L460,200.08L460.92,200.38L461.86,200.88L463.1,200.81L463.81,200.67L464.55,199.9L465.09,200.06L465.75,200.77L466.34,199.14L467.21,201.33L468.18,200.44L468.71,201.32L469.39,200.97L470.45,200.94L471.05,198.27L471.99,198.26L473.18,200.69L473.96,200.99L475.07,201.36L475.66,201.13L476.4,200.12L477.4,200.95L478.61,201.28L479.18,200.54L480.13,201.25L480.78,200.09L481.33,201.14L482.09,200.55L482.93,200.58L484.12,200.58L485.02,197.14L485.95,201.24L486.69,200.39L487.53,200.24L488.56,201.23L489.41,201.23L490.58,200.46L491.08,201.04L491.62,201.16L492.17,201.09L493.19,200.47L494.38,201.23L494.9,200.93L495,202Z" fill="#2a2a2a" fill-opacity="0.8"/>
<path d="M155.8,138.5L463.3,138.5M155.8,138.5L155.8,154.5M463.3,138.5L463.3,152M55.8,154.5L255.6,154.5M55.8,154.5L55.8,160.8M255.6,154.5L255.6,157.6M64.6,160.8L64.6,165.4M122.6,157.6L388.8,157.6M122.6,157.6L122.6,165.4M388.8,157.6L388.8,161M64.6,165.4L180.4,165.4M180.4,165.4L180.4,168.7M78.3,168.7L281.7,168.7M65.5,171.2L95.1,171.2M114.6,177.8L202,177.8M176,186.64L190.07,186.64M166,184.24L183.33,184.24M156,182.38L176.15,182.38M147,181.27L164.74,181.27M139,179.12L153.17,179.12M131,177.71L147.06,177.71M124,175.76L138.37,175.76M116,174.49L130.93,174.49M202,180.2L226.5,180.2M202,183L229.4,183M205,186L239.5,186M239.5,188.8L275.6,188.8M392.5,161L392.5,162.2M391,162.2L391,165M391,165L413.8,165M398.8,162.2L398.8,168.8M398.8,168.8L428.8,168.8M402.5,172.5L455,172.5M405,176.3L446.3,176.3M407.5,178.8L441.3,178.8M456.2,152L471.2,152M471.2,152L471.2,155.5M473.8,155.5L496.2,155.5M496.2,155.5L496.2,166M473.8,155.5L473.8,168.8M463.8,168.8L482.5,168.8" stroke="#555" stroke-width="0.5" fill="none"/>
<rect x="52.3" y="211.8" width="1.55" height="10.7" fill="#e6eff8"/><rect x="53.7" y="211.8" width="2.5" height="10.7" fill="#e6eff8"/><rect x="56.05" y="211.8" width="1.67" height="10.7" fill="#e6eff8"/><rect x="57.57" y="211.8" width="1.02" height="10.7" fill="#e6eff8"/><rect x="58.44" y="211.8" width="1.91" height="10.7" fill="#eef4fa"/><rect x="60.2" y="211.8" width="0.84" height="10.7" fill="#e6eff8"/><rect x="60.89" y="211.8" width="0.83" height="10.7" fill="#eef4fa"/><rect x="61.57" y="211.8" width="2.04" height="10.7" fill="#e6eff8"/><rect x="63.45" y="211.8" width="1.7" height="10.7" fill="#eef4fa"/>
<rect x="65" y="211.8" width="1.96" height="10.7" fill="#ffffff"/><rect x="66.81" y="211.8" width="0.96" height="10.7" fill="#ffffff"/><rect x="67.62" y="211.8" width="1.71" height="10.7" fill="#ffffff"/><rect x="69.18" y="211.8" width="1.03" height="10.7" fill="#ffffff"/><rect x="70.06" y="211.8" width="0.71" height="10.7" fill="#ffffff"/><rect x="70.62" y="211.8" width="1.53" height="10.7" fill="#fde9ec"/><rect x="72" y="211.8" width="1.69" height="10.7" fill="#ffffff"/><rect x="73.54" y="211.8" width="1.65" height="10.7" fill="#ffffff"/><rect x="75.04" y="211.8" width="1.56" height="10.7" fill="#ffffff"/><rect x="76.45" y="211.8" width="2.65" height="10.7" fill="#fde9ec"/><rect x="78.95" y="211.8" width="0.2" height="10.7" fill="#ffffff"/>
<rect x="79" y="211.8" width="1.64" height="10.7" fill="#f28d9b"/><rect x="80.49" y="211.8" width="1.59" height="10.7" fill="#f28d9b"/><rect x="81.93" y="211.8" width="2.64" height="10.7" fill="#f6aab4"/><rect x="84.42" y="211.8" width="2.81" height="10.7" fill="#f6aab4"/><rect x="87.08" y="211.8" width="3.06" height="10.7" fill="#fce1e5"/><rect x="89.99" y="211.8" width="0.95" height="10.7" fill="#f28d9b"/><rect x="90.79" y="211.8" width="2.95" height="10.7" fill="#f6aab4"/><rect x="93.59" y="211.8" width="3.11" height="10.7" fill="#f6aab4"/><rect x="96.55" y="211.8" width="1.11" height="10.7" fill="#f6aab4"/><rect x="97.51" y="211.8" width="2.66" height="10.7" fill="#f28d9b"/><rect x="100.02" y="211.8" width="1.14" height="10.7" fill="#f28d9b"/><rect x="101.01" y="211.8" width="3.07" height="10.7" fill="#fce1e5"/><rect x="103.93" y="211.8" width="1.21" height="10.7" fill="#f28d9b"/><rect x="104.99" y="211.8" width="1.17" height="10.7" fill="#f28d9b"/><rect x="106.01" y="211.8" width="2.7" height="10.7" fill="#f28d9b"/><rect x="108.57" y="211.8" width="2.18" height="10.7" fill="#f6aab4"/><rect x="110.6" y="211.8" width="1.37" height="10.7" fill="#fce1e5"/><rect x="111.82" y="211.8" width="1.24" height="10.7" fill="#fce1e5"/><rect x="112.91" y="211.8" width="1.21" height="10.7" fill="#f6aab4"/><rect x="113.96" y="211.8" width="1.42" height="10.7" fill="#f28d9b"/><rect x="115.23" y="211.8" width="0.32" height="10.7" fill="#fce1e5"/>
<rect x="115.4" y="211.8" width="1.26" height="10.7" fill="#fdeef0"/><rect x="116.51" y="211.8" width="1.07" height="10.7" fill="#ffffff"/><rect x="117.43" y="211.8" width="2.36" height="10.7" fill="#ffffff"/><rect x="119.64" y="211.8" width="0.51" height="10.7" fill="#fdeef0"/>
<rect x="120" y="211.8" width="1.08" height="10.7" fill="#fbe0e4"/><rect x="120.93" y="211.8" width="2.2" height="10.7" fill="#fbe0e4"/><rect x="122.97" y="211.8" width="1.24" height="10.7" fill="#fbe0e4"/><rect x="124.06" y="211.8" width="0.83" height="10.7" fill="#fad3d8"/><rect x="124.74" y="211.8" width="1.14" height="10.7" fill="#fad3d8"/><rect x="125.73" y="211.8" width="1.39" height="10.7" fill="#fbe0e4"/><rect x="126.97" y="211.8" width="2.57" height="10.7" fill="#fbe0e4"/><rect x="129.39" y="211.8" width="1.8" height="10.7" fill="#fdf0f2"/><rect x="131.04" y="211.8" width="1.02" height="10.7" fill="#fbe0e4"/><rect x="131.91" y="211.8" width="2.24" height="10.7" fill="#fdf0f2"/>
<rect x="134" y="211.8" width="1.15" height="10.7" fill="#f6b4bc"/><rect x="135" y="211.8" width="2.13" height="10.7" fill="#f8c4ca"/><rect x="136.98" y="211.8" width="1.04" height="10.7" fill="#f8c4ca"/><rect x="137.87" y="211.8" width="2.41" height="10.7" fill="#f6b4bc"/><rect x="140.14" y="211.8" width="1.01" height="10.7" fill="#f6b4bc"/>
<rect x="141" y="211.8" width="0.73" height="10.7" fill="#fbe4e8"/><rect x="141.58" y="211.8" width="1.13" height="10.7" fill="#ffffff"/><rect x="142.55" y="211.8" width="1.16" height="10.7" fill="#ffffff"/><rect x="143.57" y="211.8" width="1.84" height="10.7" fill="#fdf3f5"/><rect x="145.26" y="211.8" width="1" height="10.7" fill="#ffffff"/><rect x="146.11" y="211.8" width="0.79" height="10.7" fill="#fdf3f5"/><rect x="146.75" y="211.8" width="1.77" height="10.7" fill="#ffffff"/><rect x="148.37" y="211.8" width="1.88" height="10.7" fill="#fdf3f5"/><rect x="150.1" y="211.8" width="2.48" height="10.7" fill="#fdf3f5"/><rect x="152.43" y="211.8" width="0.68" height="10.7" fill="#fdf3f5"/><rect x="152.96" y="211.8" width="1.54" height="10.7" fill="#fdf3f5"/><rect x="154.36" y="211.8" width="1" height="10.7" fill="#fdf3f5"/><rect x="155.21" y="211.8" width="1.79" height="10.7" fill="#fdf3f5"/><rect x="156.85" y="211.8" width="1.37" height="10.7" fill="#fbe4e8"/><rect x="158.08" y="211.8" width="2.61" height="10.7" fill="#ffffff"/><rect x="160.54" y="211.8" width="2.03" height="10.7" fill="#ffffff"/><rect x="162.42" y="211.8" width="0.93" height="10.7" fill="#fdf3f5"/><rect x="163.2" y="211.8" width="0.69" height="10.7" fill="#fbe4e8"/><rect x="163.74" y="211.8" width="2.05" height="10.7" fill="#fbe4e8"/><rect x="165.64" y="211.8" width="0.69" height="10.7" fill="#ffffff"/><rect x="166.18" y="211.8" width="1.61" height="10.7" fill="#ffffff"/><rect x="167.65" y="211.8" width="1.29" height="10.7" fill="#fbe4e8"/><rect x="168.78" y="211.8" width="0.8" height="10.7" fill="#fdf3f5"/><rect x="169.43" y="211.8" width="2.12" height="10.7" fill="#fbe4e8"/><rect x="171.41" y="211.8" width="2.12" height="10.7" fill="#ffffff"/><rect x="173.38" y="211.8" width="1.77" height="10.7" fill="#fbe4e8"/>
<rect x="175" y="211.8" width="1.35" height="10.7" fill="#fce8eb"/><rect x="176.2" y="211.8" width="2.45" height="10.7" fill="#fce8eb"/><rect x="178.51" y="211.8" width="1.48" height="10.7" fill="#fce8eb"/><rect x="179.84" y="211.8" width="2.38" height="10.7" fill="#fce8eb"/><rect x="182.07" y="211.8" width="1.9" height="10.7" fill="#fbdde2"/><rect x="183.82" y="211.8" width="1.82" height="10.7" fill="#fce8eb"/><rect x="185.48" y="211.8" width="0.81" height="10.7" fill="#fce8eb"/><rect x="186.14" y="211.8" width="2.64" height="10.7" fill="#fad0d6"/><rect x="188.63" y="211.8" width="2.11" height="10.7" fill="#fbdde2"/><rect x="190.59" y="211.8" width="2.12" height="10.7" fill="#fce8eb"/><rect x="192.56" y="211.8" width="1.53" height="10.7" fill="#fce8eb"/><rect x="193.94" y="211.8" width="0.82" height="10.7" fill="#fce8eb"/><rect x="194.6" y="211.8" width="0.71" height="10.7" fill="#fce8eb"/><rect x="195.16" y="211.8" width="1.61" height="10.7" fill="#fbdde2"/><rect x="196.63" y="211.8" width="2.05" height="10.7" fill="#fbdde2"/><rect x="198.52" y="211.8" width="1.88" height="10.7" fill="#fad0d6"/><rect x="200.25" y="211.8" width="1.16" height="10.7" fill="#fbdde2"/><rect x="201.26" y="211.8" width="1.25" height="10.7" fill="#fce8eb"/><rect x="202.36" y="211.8" width="0.79" height="10.7" fill="#fbdde2"/>
<rect x="203" y="211.8" width="2.46" height="10.7" fill="#fdf4f6"/><rect x="205.31" y="211.8" width="1.53" height="10.7" fill="#f5f8fc"/><rect x="206.7" y="211.8" width="1.3" height="10.7" fill="#fdf4f6"/><rect x="207.85" y="211.8" width="1.05" height="10.7" fill="#ffffff"/><rect x="208.75" y="211.8" width="2.26" height="10.7" fill="#f5f8fc"/><rect x="210.86" y="211.8" width="2.41" height="10.7" fill="#ffffff"/><rect x="213.12" y="211.8" width="1.82" height="10.7" fill="#ffffff"/><rect x="214.78" y="211.8" width="0.92" height="10.7" fill="#ffffff"/><rect x="215.56" y="211.8" width="2.32" height="10.7" fill="#fdf4f6"/><rect x="217.73" y="211.8" width="2.07" height="10.7" fill="#f5f8fc"/><rect x="219.65" y="211.8" width="1.2" height="10.7" fill="#ffffff"/><rect x="220.71" y="211.8" width="1.55" height="10.7" fill="#ffffff"/><rect x="222.11" y="211.8" width="1.08" height="10.7" fill="#ffffff"/><rect x="223.04" y="211.8" width="1.9" height="10.7" fill="#ffffff"/><rect x="224.79" y="211.8" width="1.28" height="10.7" fill="#fdf4f6"/><rect x="225.92" y="211.8" width="2.61" height="10.7" fill="#ffffff"/><rect x="228.38" y="211.8" width="0.8" height="10.7" fill="#ffffff"/><rect x="229.03" y="211.8" width="2.4" height="10.7" fill="#ffffff"/><rect x="231.28" y="211.8" width="2.07" height="10.7" fill="#fdf4f6"/><rect x="233.2" y="211.8" width="1.27" height="10.7" fill="#fdf4f6"/><rect x="234.31" y="211.8" width="0.69" height="10.7" fill="#ffffff"/><rect x="234.85" y="211.8" width="1.56" height="10.7" fill="#ffffff"/><rect x="236.26" y="211.8" width="2.31" height="10.7" fill="#ffffff"/><rect x="238.42" y="211.8" width="0.93" height="10.7" fill="#ffffff"/><rect x="239.2" y="211.8" width="1.91" height="10.7" fill="#ffffff"/><rect x="240.96" y="211.8" width="1.91" height="10.7" fill="#fdf4f6"/><rect x="242.72" y="211.8" width="2.26" height="10.7" fill="#f5f8fc"/><rect x="244.84" y="211.8" width="2.02" height="10.7" fill="#ffffff"/><rect x="246.7" y="211.8" width="1.45" height="10.7" fill="#ffffff"/>
<rect x="248" y="211.8" width="0.67" height="10.7" fill="#f7b0b8"/><rect x="248.52" y="211.8" width="2.08" height="10.7" fill="#f7b0b8"/><rect x="250.45" y="211.8" width="1.19" height="10.7" fill="#f7b0b8"/><rect x="251.49" y="211.8" width="2.04" height="10.7" fill="#f9bcc4"/><rect x="253.39" y="211.8" width="1.88" height="10.7" fill="#f9bcc4"/><rect x="255.12" y="211.8" width="1.44" height="10.7" fill="#f9bcc4"/><rect x="256.41" y="211.8" width="2.46" height="10.7" fill="#f7b0b8"/><rect x="258.72" y="211.8" width="2.52" height="10.7" fill="#f9bcc4"/><rect x="261.08" y="211.8" width="0.91" height="10.7" fill="#f7b0b8"/><rect x="261.84" y="211.8" width="1.9" height="10.7" fill="#f8c6cc"/><rect x="263.59" y="211.8" width="1.4" height="10.7" fill="#f9bcc4"/><rect x="264.85" y="211.8" width="2.41" height="10.7" fill="#f9bcc4"/><rect x="267.11" y="211.8" width="2.54" height="10.7" fill="#f7b0b8"/><rect x="269.49" y="211.8" width="1.95" height="10.7" fill="#f7b0b8"/><rect x="271.3" y="211.8" width="2.09" height="10.7" fill="#f8c6cc"/><rect x="273.24" y="211.8" width="1.93" height="10.7" fill="#f9bcc4"/><rect x="275.02" y="211.8" width="1.08" height="10.7" fill="#f8c6cc"/><rect x="275.95" y="211.8" width="2.61" height="10.7" fill="#f8c6cc"/><rect x="278.41" y="211.8" width="1.72" height="10.7" fill="#f9bcc4"/><rect x="279.99" y="211.8" width="0.36" height="10.7" fill="#f8c6cc"/>
<rect x="280.2" y="211.8" width="1.95" height="10.7" fill="#fac6cc"/><rect x="282" y="211.8" width="0.87" height="10.7" fill="#fac6cc"/><rect x="282.71" y="211.8" width="1.52" height="10.7" fill="#f7aeb7"/><rect x="284.08" y="211.8" width="1.43" height="10.7" fill="#fac6cc"/><rect x="285.37" y="211.8" width="1.88" height="10.7" fill="#fac6cc"/><rect x="287.1" y="211.8" width="1.87" height="10.7" fill="#fac6cc"/><rect x="288.82" y="211.8" width="1.22" height="10.7" fill="#f7aeb7"/><rect x="289.89" y="211.8" width="0.95" height="10.7" fill="#fac6cc"/><rect x="290.69" y="211.8" width="1.47" height="10.7" fill="#ffffff"/><rect x="292.01" y="211.8" width="1.93" height="10.7" fill="#ffffff"/><rect x="293.78" y="211.8" width="2.07" height="10.7" fill="#fac6cc"/><rect x="295.71" y="211.8" width="2.08" height="10.7" fill="#fac6cc"/><rect x="297.64" y="211.8" width="1.06" height="10.7" fill="#ffffff"/><rect x="298.55" y="211.8" width="1.16" height="10.7" fill="#ffffff"/><rect x="299.55" y="211.8" width="1.64" height="10.7" fill="#ffffff"/><rect x="301.05" y="211.8" width="1.1" height="10.7" fill="#ffffff"/>
<rect x="302" y="211.8" width="1.27" height="10.7" fill="#fac6cc"/><rect x="303.12" y="211.8" width="2.34" height="10.7" fill="#f8bac2"/><rect x="305.31" y="211.8" width="1.07" height="10.7" fill="#f8bac2"/><rect x="306.23" y="211.8" width="2.59" height="10.7" fill="#fac6cc"/><rect x="308.67" y="211.8" width="1.8" height="10.7" fill="#fac6cc"/><rect x="310.31" y="211.8" width="1.72" height="10.7" fill="#fac6cc"/><rect x="311.89" y="211.8" width="1.86" height="10.7" fill="#fac6cc"/><rect x="313.6" y="211.8" width="2.59" height="10.7" fill="#fac6cc"/><rect x="316.03" y="211.8" width="1.45" height="10.7" fill="#fbd0d5"/><rect x="317.34" y="211.8" width="1.78" height="10.7" fill="#fac6cc"/><rect x="318.96" y="211.8" width="2.03" height="10.7" fill="#fac6cc"/><rect x="320.84" y="211.8" width="1.73" height="10.7" fill="#fac6cc"/><rect x="322.42" y="211.8" width="2.56" height="10.7" fill="#f8bac2"/><rect x="324.83" y="211.8" width="1.19" height="10.7" fill="#fac6cc"/><rect x="325.87" y="211.8" width="0.9" height="10.7" fill="#fac6cc"/><rect x="326.63" y="211.8" width="2.28" height="10.7" fill="#f8bac2"/><rect x="328.76" y="211.8" width="1.6" height="10.7" fill="#fac6cc"/><rect x="330.21" y="211.8" width="1.03" height="10.7" fill="#fbd0d5"/><rect x="331.09" y="211.8" width="2.5" height="10.7" fill="#fac6cc"/><rect x="333.44" y="211.8" width="2.21" height="10.7" fill="#fac6cc"/><rect x="335.5" y="211.8" width="1.04" height="10.7" fill="#fac6cc"/><rect x="336.39" y="211.8" width="2.02" height="10.7" fill="#fac6cc"/><rect x="338.27" y="211.8" width="1.36" height="10.7" fill="#fbd0d5"/><rect x="339.48" y="211.8" width="0.86" height="10.7" fill="#fbd0d5"/><rect x="340.19" y="211.8" width="0.9" height="10.7" fill="#fac6cc"/><rect x="340.93" y="211.8" width="1.15" height="10.7" fill="#fac6cc"/><rect x="341.93" y="211.8" width="1.71" height="10.7" fill="#fac6cc"/><rect x="343.49" y="211.8" width="1.4" height="10.7" fill="#fac6cc"/><rect x="344.74" y="211.8" width="1.71" height="10.7" fill="#fac6cc"/><rect x="346.3" y="211.8" width="1.06" height="10.7" fill="#fbd0d5"/><rect x="347.21" y="211.8" width="1.93" height="10.7" fill="#fac6cc"/><rect x="348.99" y="211.8" width="2.35" height="10.7" fill="#fbd0d5"/><rect x="351.19" y="211.8" width="2.36" height="10.7" fill="#fac6cc"/><rect x="353.41" y="211.8" width="2.13" height="10.7" fill="#fbd0d5"/><rect x="355.39" y="211.8" width="2.46" height="10.7" fill="#fac6cc"/><rect x="357.69" y="211.8" width="1.28" height="10.7" fill="#f8bac2"/><rect x="358.82" y="211.8" width="1.09" height="10.7" fill="#f8bac2"/><rect x="359.76" y="211.8" width="2.43" height="10.7" fill="#fac6cc"/><rect x="362.03" y="211.8" width="1.13" height="10.7" fill="#fbd0d5"/><rect x="363.01" y="211.8" width="1.17" height="10.7" fill="#fac6cc"/><rect x="364.03" y="211.8" width="2.31" height="10.7" fill="#fac6cc"/><rect x="366.2" y="211.8" width="2.23" height="10.7" fill="#fac6cc"/><rect x="368.28" y="211.8" width="1.46" height="10.7" fill="#fbd0d5"/><rect x="369.58" y="211.8" width="0.69" height="10.7" fill="#fac6cc"/><rect x="370.12" y="211.8" width="2.01" height="10.7" fill="#f8bac2"/><rect x="371.98" y="211.8" width="2.59" height="10.7" fill="#fac6cc"/><rect x="374.42" y="211.8" width="1.66" height="10.7" fill="#fbd0d5"/><rect x="375.93" y="211.8" width="1.66" height="10.7" fill="#fbd0d5"/><rect x="377.43" y="211.8" width="1.03" height="10.7" fill="#fac6cc"/><rect x="378.31" y="211.8" width="0.86" height="10.7" fill="#fac6cc"/><rect x="379.03" y="211.8" width="1.75" height="10.7" fill="#fac6cc"/><rect x="380.63" y="211.8" width="1.79" height="10.7" fill="#fac6cc"/><rect x="382.27" y="211.8" width="1.02" height="10.7" fill="#fac6cc"/><rect x="383.13" y="211.8" width="2.33" height="10.7" fill="#f8bac2"/><rect x="385.32" y="211.8" width="1.63" height="10.7" fill="#fac6cc"/>
<rect x="386.8" y="211.8" width="0.77" height="10.7" fill="#dde9f6"/><rect x="387.42" y="211.8" width="1.57" height="10.7" fill="#eef3fa"/><rect x="388.85" y="211.8" width="1.3" height="10.7" fill="#e4eef8"/><rect x="390" y="211.8" width="1.68" height="10.7" fill="#e4eef8"/><rect x="391.53" y="211.8" width="1.85" height="10.7" fill="#e4eef8"/><rect x="393.23" y="211.8" width="2.05" height="10.7" fill="#dde9f6"/><rect x="395.14" y="211.8" width="1.01" height="10.7" fill="#e4eef8"/><rect x="396" y="211.8" width="2.13" height="10.7" fill="#e4eef8"/><rect x="397.98" y="211.8" width="1.04" height="10.7" fill="#e4eef8"/><rect x="398.87" y="211.8" width="1.68" height="10.7" fill="#e4eef8"/><rect x="400.39" y="211.8" width="2.44" height="10.7" fill="#eef3fa"/><rect x="402.68" y="211.8" width="2.06" height="10.7" fill="#dde9f6"/><rect x="404.59" y="211.8" width="1.91" height="10.7" fill="#e4eef8"/><rect x="406.35" y="211.8" width="1.85" height="10.7" fill="#e4eef8"/><rect x="408.05" y="211.8" width="2.62" height="10.7" fill="#eef3fa"/><rect x="410.51" y="211.8" width="1.17" height="10.7" fill="#dde9f6"/><rect x="411.53" y="211.8" width="2.14" height="10.7" fill="#eef3fa"/><rect x="413.52" y="211.8" width="2.28" height="10.7" fill="#e4eef8"/><rect x="415.65" y="211.8" width="2.44" height="10.7" fill="#dde9f6"/><rect x="417.94" y="211.8" width="2.04" height="10.7" fill="#eef3fa"/><rect x="419.83" y="211.8" width="2.18" height="10.7" fill="#e4eef8"/><rect x="421.86" y="211.8" width="2.1" height="10.7" fill="#e4eef8"/><rect x="423.8" y="211.8" width="1.33" height="10.7" fill="#e4eef8"/><rect x="424.99" y="211.8" width="0.67" height="10.7" fill="#e4eef8"/><rect x="425.51" y="211.8" width="1.93" height="10.7" fill="#eef3fa"/><rect x="427.29" y="211.8" width="1.11" height="10.7" fill="#dde9f6"/><rect x="428.25" y="211.8" width="1.98" height="10.7" fill="#e4eef8"/><rect x="430.08" y="211.8" width="1.97" height="10.7" fill="#eef3fa"/><rect x="431.9" y="211.8" width="1.72" height="10.7" fill="#e4eef8"/><rect x="433.47" y="211.8" width="2.65" height="10.7" fill="#eef3fa"/><rect x="435.97" y="211.8" width="2.05" height="10.7" fill="#eef3fa"/><rect x="437.87" y="211.8" width="2.61" height="10.7" fill="#e4eef8"/><rect x="440.33" y="211.8" width="1.88" height="10.7" fill="#eef3fa"/><rect x="442.06" y="211.8" width="1.16" height="10.7" fill="#e4eef8"/><rect x="443.08" y="211.8" width="0.75" height="10.7" fill="#e4eef8"/><rect x="443.68" y="211.8" width="1.4" height="10.7" fill="#e4eef8"/><rect x="444.93" y="211.8" width="1.15" height="10.7" fill="#dde9f6"/><rect x="445.93" y="211.8" width="1.75" height="10.7" fill="#e4eef8"/><rect x="447.53" y="211.8" width="2.58" height="10.7" fill="#eef3fa"/><rect x="449.96" y="211.8" width="2.64" height="10.7" fill="#eef3fa"/><rect x="452.45" y="211.8" width="2.27" height="10.7" fill="#e4eef8"/><rect x="454.57" y="211.8" width="1.38" height="10.7" fill="#eef3fa"/>
<rect x="455.8" y="211.8" width="0.74" height="10.7" fill="#8fcfee"/><rect x="456.39" y="211.8" width="0.97" height="10.7" fill="#2aa9dc"/><rect x="457.21" y="211.8" width="0.99" height="10.7" fill="#2aa9dc"/><rect x="458.05" y="211.8" width="1.87" height="10.7" fill="#2aa9dc"/><rect x="459.77" y="211.8" width="2.54" height="10.7" fill="#2aa9dc"/><rect x="462.16" y="211.8" width="1.7" height="10.7" fill="#44b4e0"/><rect x="463.71" y="211.8" width="1.38" height="10.7" fill="#2aa9dc"/><rect x="464.95" y="211.8" width="1.96" height="10.7" fill="#44b4e0"/><rect x="466.76" y="211.8" width="1.22" height="10.7" fill="#44b4e0"/><rect x="467.82" y="211.8" width="1.24" height="10.7" fill="#2aa9dc"/><rect x="468.92" y="211.8" width="1.14" height="10.7" fill="#2aa9dc"/><rect x="469.91" y="211.8" width="0.96" height="10.7" fill="#1f9fd6"/><rect x="470.72" y="211.8" width="1.43" height="10.7" fill="#1f9fd6"/><rect x="472" y="211.8" width="2.15" height="10.7" fill="#2aa9dc"/><rect x="474" y="211.8" width="2.63" height="10.7" fill="#8fcfee"/><rect x="476.47" y="211.8" width="0.8" height="10.7" fill="#1f9fd6"/><rect x="477.12" y="211.8" width="1.51" height="10.7" fill="#2aa9dc"/><rect x="478.48" y="211.8" width="2.6" height="10.7" fill="#2aa9dc"/><rect x="480.93" y="211.8" width="1.7" height="10.7" fill="#8fcfee"/><rect x="482.47" y="211.8" width="2.1" height="10.7" fill="#2aa9dc"/><rect x="484.42" y="211.8" width="2.61" height="10.7" fill="#1f9fd6"/><rect x="486.87" y="211.8" width="1.86" height="10.7" fill="#2aa9dc"/><rect x="488.58" y="211.8" width="1.9" height="10.7" fill="#2aa9dc"/><rect x="490.33" y="211.8" width="1.06" height="10.7" fill="#2aa9dc"/><rect x="491.24" y="211.8" width="1.71" height="10.7" fill="#2aa9dc"/><rect x="492.79" y="211.8" width="1.54" height="10.7" fill="#44b4e0"/><rect x="494.18" y="211.8" width="1.56" height="10.7" fill="#2aa9dc"/><rect x="495.59" y="211.8" width="1.81" height="10.7" fill="#2aa9dc"/><rect x="497.26" y="211.8" width="0.39" height="10.7" fill="#44b4e0"/>
<rect x="52.3" y="222.5" width="2.65" height="10.1" fill="#fdf0f0"/><rect x="54.8" y="222.5" width="2.12" height="10.1" fill="#f3f6fa"/><rect x="56.76" y="222.5" width="0.88" height="10.1" fill="#fdf0f0"/><rect x="57.49" y="222.5" width="2.22" height="10.1" fill="#f3f6fa"/><rect x="59.56" y="222.5" width="1.37" height="10.1" fill="#f3f6fa"/><rect x="60.78" y="222.5" width="2.02" height="10.1" fill="#f3f6fa"/><rect x="62.65" y="222.5" width="1.83" height="10.1" fill="#f3f6fa"/><rect x="64.33" y="222.5" width="0.82" height="10.1" fill="#f3f6fa"/>
<rect x="65" y="222.5" width="1.15" height="10.1" fill="#f7f2f0"/><rect x="66" y="222.5" width="2.48" height="10.1" fill="#f7f2f0"/><rect x="68.33" y="222.5" width="0.73" height="10.1" fill="#ffffff"/><rect x="68.91" y="222.5" width="1.19" height="10.1" fill="#ffffff"/><rect x="69.95" y="222.5" width="1.9" height="10.1" fill="#ffffff"/><rect x="71.7" y="222.5" width="1.73" height="10.1" fill="#ffffff"/><rect x="73.28" y="222.5" width="0.82" height="10.1" fill="#ffffff"/><rect x="73.95" y="222.5" width="1.75" height="10.1" fill="#ffffff"/><rect x="75.55" y="222.5" width="1.4" height="10.1" fill="#ffffff"/><rect x="76.8" y="222.5" width="1.07" height="10.1" fill="#ffffff"/><rect x="77.72" y="222.5" width="2.14" height="10.1" fill="#f7f2f0"/><rect x="79.71" y="222.5" width="0.44" height="10.1" fill="#ffffff"/>
<rect x="80" y="222.5" width="2.27" height="10.1" fill="#e2edf8"/><rect x="82.12" y="222.5" width="2.19" height="10.1" fill="#d6e6f5"/><rect x="84.16" y="222.5" width="1.5" height="10.1" fill="#d6e6f5"/><rect x="85.5" y="222.5" width="2.27" height="10.1" fill="#d6e6f5"/><rect x="87.62" y="222.5" width="1.96" height="10.1" fill="#cfe2f3"/><rect x="89.43" y="222.5" width="1.3" height="10.1" fill="#e2edf8"/><rect x="90.58" y="222.5" width="2.14" height="10.1" fill="#cfe2f3"/><rect x="92.57" y="222.5" width="1.51" height="10.1" fill="#d6e6f5"/><rect x="93.93" y="222.5" width="0.84" height="10.1" fill="#cfe2f3"/><rect x="94.62" y="222.5" width="0.81" height="10.1" fill="#d6e6f5"/><rect x="95.28" y="222.5" width="1.78" height="10.1" fill="#d6e6f5"/><rect x="96.91" y="222.5" width="2.02" height="10.1" fill="#d6e6f5"/><rect x="98.78" y="222.5" width="2.2" height="10.1" fill="#d6e6f5"/><rect x="100.83" y="222.5" width="1.08" height="10.1" fill="#e2edf8"/><rect x="101.76" y="222.5" width="0.81" height="10.1" fill="#d6e6f5"/><rect x="102.42" y="222.5" width="2.1" height="10.1" fill="#e2edf8"/><rect x="104.37" y="222.5" width="1.22" height="10.1" fill="#d6e6f5"/><rect x="105.44" y="222.5" width="1.37" height="10.1" fill="#e2edf8"/><rect x="106.65" y="222.5" width="1.38" height="10.1" fill="#d6e6f5"/><rect x="107.89" y="222.5" width="2.07" height="10.1" fill="#e2edf8"/><rect x="109.8" y="222.5" width="2.49" height="10.1" fill="#cfe2f3"/><rect x="112.14" y="222.5" width="2.48" height="10.1" fill="#d6e6f5"/><rect x="114.47" y="222.5" width="1.08" height="10.1" fill="#d6e6f5"/>
<rect x="115.4" y="222.5" width="1.29" height="10.1" fill="#fdf3f4"/><rect x="116.54" y="222.5" width="2.52" height="10.1" fill="#ffffff"/><rect x="118.9" y="222.5" width="1.15" height="10.1" fill="#fdf3f4"/><rect x="119.9" y="222.5" width="1.38" height="10.1" fill="#fdf3f4"/><rect x="121.13" y="222.5" width="1.44" height="10.1" fill="#fdf3f4"/><rect x="122.42" y="222.5" width="1.04" height="10.1" fill="#fbecee"/><rect x="123.31" y="222.5" width="2.24" height="10.1" fill="#fbecee"/><rect x="125.41" y="222.5" width="2.32" height="10.1" fill="#fbecee"/><rect x="127.58" y="222.5" width="1" height="10.1" fill="#fbecee"/><rect x="128.43" y="222.5" width="2.41" height="10.1" fill="#fdf3f4"/><rect x="130.7" y="222.5" width="0.69" height="10.1" fill="#fbecee"/><rect x="131.24" y="222.5" width="1.74" height="10.1" fill="#fbecee"/><rect x="132.83" y="222.5" width="2.58" height="10.1" fill="#fbecee"/><rect x="135.26" y="222.5" width="2.26" height="10.1" fill="#fdf3f4"/><rect x="137.37" y="222.5" width="1.74" height="10.1" fill="#fbecee"/><rect x="138.96" y="222.5" width="0.82" height="10.1" fill="#fdf3f4"/><rect x="139.63" y="222.5" width="2.12" height="10.1" fill="#ffffff"/><rect x="141.61" y="222.5" width="0.82" height="10.1" fill="#fbecee"/><rect x="142.27" y="222.5" width="0.94" height="10.1" fill="#fbecee"/><rect x="143.06" y="222.5" width="1.95" height="10.1" fill="#fdf3f4"/><rect x="144.86" y="222.5" width="1.09" height="10.1" fill="#fbecee"/><rect x="145.8" y="222.5" width="1.69" height="10.1" fill="#fbecee"/><rect x="147.34" y="222.5" width="1.44" height="10.1" fill="#fdf3f4"/><rect x="148.63" y="222.5" width="2.59" height="10.1" fill="#fbecee"/><rect x="151.07" y="222.5" width="1.64" height="10.1" fill="#fbecee"/><rect x="152.56" y="222.5" width="2.09" height="10.1" fill="#fbecee"/><rect x="154.5" y="222.5" width="2.48" height="10.1" fill="#fdf3f4"/><rect x="156.83" y="222.5" width="2.3" height="10.1" fill="#fbecee"/><rect x="158.98" y="222.5" width="2.36" height="10.1" fill="#ffffff"/><rect x="161.19" y="222.5" width="2.32" height="10.1" fill="#ffffff"/><rect x="163.36" y="222.5" width="2.57" height="10.1" fill="#fbecee"/><rect x="165.77" y="222.5" width="1.7" height="10.1" fill="#fbecee"/><rect x="167.32" y="222.5" width="2.25" height="10.1" fill="#fdf3f4"/><rect x="169.42" y="222.5" width="1.49" height="10.1" fill="#fdf3f4"/><rect x="170.76" y="222.5" width="2.13" height="10.1" fill="#ffffff"/><rect x="172.75" y="222.5" width="1.4" height="10.1" fill="#fdf3f4"/><rect x="174" y="222.5" width="1.06" height="10.1" fill="#fdf3f4"/><rect x="174.91" y="222.5" width="1.23" height="10.1" fill="#ffffff"/><rect x="175.99" y="222.5" width="0.77" height="10.1" fill="#fdf3f4"/><rect x="176.61" y="222.5" width="0.88" height="10.1" fill="#fbecee"/><rect x="177.34" y="222.5" width="2.2" height="10.1" fill="#fdf3f4"/><rect x="179.39" y="222.5" width="0.77" height="10.1" fill="#fdf3f4"/><rect x="180.02" y="222.5" width="1.82" height="10.1" fill="#ffffff"/><rect x="181.68" y="222.5" width="0.72" height="10.1" fill="#fdf3f4"/><rect x="182.26" y="222.5" width="1.02" height="10.1" fill="#fdf3f4"/><rect x="183.13" y="222.5" width="1.12" height="10.1" fill="#fbecee"/><rect x="184.1" y="222.5" width="1.84" height="10.1" fill="#fdf3f4"/><rect x="185.79" y="222.5" width="1.02" height="10.1" fill="#fdf3f4"/><rect x="186.66" y="222.5" width="1" height="10.1" fill="#fbecee"/><rect x="187.5" y="222.5" width="1.27" height="10.1" fill="#fbecee"/><rect x="188.62" y="222.5" width="2.28" height="10.1" fill="#fdf3f4"/><rect x="190.76" y="222.5" width="1.17" height="10.1" fill="#ffffff"/><rect x="191.78" y="222.5" width="2.48" height="10.1" fill="#fdf3f4"/><rect x="194.11" y="222.5" width="1.74" height="10.1" fill="#ffffff"/><rect x="195.7" y="222.5" width="1.62" height="10.1" fill="#fdf3f4"/><rect x="197.17" y="222.5" width="0.75" height="10.1" fill="#ffffff"/><rect x="197.77" y="222.5" width="2.25" height="10.1" fill="#fdf3f4"/><rect x="199.87" y="222.5" width="0.28" height="10.1" fill="#fbecee"/>
<rect x="200" y="222.5" width="1.2" height="10.1" fill="#fdf5f6"/><rect x="201.05" y="222.5" width="1.97" height="10.1" fill="#f1f5fa"/><rect x="202.86" y="222.5" width="0.67" height="10.1" fill="#f8f8fb"/><rect x="203.39" y="222.5" width="1.39" height="10.1" fill="#fdf5f6"/><rect x="204.63" y="222.5" width="2.08" height="10.1" fill="#f8f8fb"/><rect x="206.56" y="222.5" width="0.96" height="10.1" fill="#f1f5fa"/><rect x="207.37" y="222.5" width="1.29" height="10.1" fill="#f1f5fa"/><rect x="208.51" y="222.5" width="2.39" height="10.1" fill="#f8f8fb"/><rect x="210.75" y="222.5" width="1.92" height="10.1" fill="#fdf5f6"/><rect x="212.53" y="222.5" width="1.18" height="10.1" fill="#f8f8fb"/><rect x="213.56" y="222.5" width="0.95" height="10.1" fill="#f8f8fb"/><rect x="214.36" y="222.5" width="0.65" height="10.1" fill="#fdf5f6"/><rect x="214.86" y="222.5" width="2.34" height="10.1" fill="#fdf5f6"/><rect x="217.06" y="222.5" width="0.81" height="10.1" fill="#f1f5fa"/><rect x="217.72" y="222.5" width="2.08" height="10.1" fill="#f1f5fa"/><rect x="219.65" y="222.5" width="1.61" height="10.1" fill="#f8f8fb"/><rect x="221.11" y="222.5" width="2.56" height="10.1" fill="#f8f8fb"/><rect x="223.52" y="222.5" width="2.36" height="10.1" fill="#f1f5fa"/><rect x="225.74" y="222.5" width="2.23" height="10.1" fill="#f1f5fa"/><rect x="227.82" y="222.5" width="2.48" height="10.1" fill="#f1f5fa"/><rect x="230.15" y="222.5" width="2.3" height="10.1" fill="#f1f5fa"/><rect x="232.3" y="222.5" width="1.74" height="10.1" fill="#f8f8fb"/><rect x="233.89" y="222.5" width="0.97" height="10.1" fill="#fdf5f6"/><rect x="234.71" y="222.5" width="1.27" height="10.1" fill="#f1f5fa"/><rect x="235.83" y="222.5" width="0.8" height="10.1" fill="#f1f5fa"/><rect x="236.48" y="222.5" width="1.58" height="10.1" fill="#f8f8fb"/><rect x="237.92" y="222.5" width="1.37" height="10.1" fill="#f8f8fb"/><rect x="239.13" y="222.5" width="0.86" height="10.1" fill="#f1f5fa"/><rect x="239.85" y="222.5" width="1.57" height="10.1" fill="#fdf5f6"/><rect x="241.27" y="222.5" width="2.31" height="10.1" fill="#f8f8fb"/><rect x="243.43" y="222.5" width="0.67" height="10.1" fill="#f1f5fa"/><rect x="243.95" y="222.5" width="2.07" height="10.1" fill="#f1f5fa"/><rect x="245.87" y="222.5" width="1.78" height="10.1" fill="#f8f8fb"/><rect x="247.5" y="222.5" width="0.67" height="10.1" fill="#fdf5f6"/><rect x="248.02" y="222.5" width="2.13" height="10.1" fill="#f1f5fa"/>
<rect x="250" y="222.5" width="1.88" height="10.1" fill="#fcf0f1"/><rect x="251.73" y="222.5" width="1.4" height="10.1" fill="#fcf0f1"/><rect x="252.98" y="222.5" width="1.25" height="10.1" fill="#fcf0f1"/><rect x="254.08" y="222.5" width="1.43" height="10.1" fill="#f9f4f5"/><rect x="255.36" y="222.5" width="1.16" height="10.1" fill="#fcf0f1"/><rect x="256.38" y="222.5" width="2.11" height="10.1" fill="#fcf0f1"/><rect x="258.34" y="222.5" width="2.54" height="10.1" fill="#fcf0f1"/><rect x="260.73" y="222.5" width="2.1" height="10.1" fill="#fcf0f1"/><rect x="262.68" y="222.5" width="2.3" height="10.1" fill="#fcf0f1"/><rect x="264.83" y="222.5" width="0.93" height="10.1" fill="#fcf0f1"/><rect x="265.61" y="222.5" width="2.01" height="10.1" fill="#f9f4f5"/><rect x="267.47" y="222.5" width="1.01" height="10.1" fill="#fcf0f1"/><rect x="268.33" y="222.5" width="2.32" height="10.1" fill="#f9f4f5"/><rect x="270.5" y="222.5" width="0.83" height="10.1" fill="#fcf0f1"/><rect x="271.18" y="222.5" width="0.96" height="10.1" fill="#fcf0f1"/><rect x="272" y="222.5" width="1.46" height="10.1" fill="#fcf0f1"/><rect x="273.31" y="222.5" width="2.49" height="10.1" fill="#fcf0f1"/><rect x="275.65" y="222.5" width="1.67" height="10.1" fill="#f9f4f5"/><rect x="277.18" y="222.5" width="2.18" height="10.1" fill="#f9f4f5"/><rect x="279.21" y="222.5" width="1.14" height="10.1" fill="#fcf0f1"/>
<rect x="280.2" y="222.5" width="1.47" height="10.1" fill="#a8d3ef"/><rect x="281.52" y="222.5" width="1.45" height="10.1" fill="#b4d9f1"/><rect x="282.83" y="222.5" width="2.61" height="10.1" fill="#9dcdee"/><rect x="285.29" y="222.5" width="1.97" height="10.1" fill="#b4d9f1"/><rect x="287.11" y="222.5" width="0.69" height="10.1" fill="#a8d3ef"/><rect x="287.65" y="222.5" width="1.33" height="10.1" fill="#b4d9f1"/><rect x="288.83" y="222.5" width="0.86" height="10.1" fill="#a8d3ef"/><rect x="289.54" y="222.5" width="1.67" height="10.1" fill="#9dcdee"/><rect x="291.06" y="222.5" width="2.3" height="10.1" fill="#b4d9f1"/><rect x="293.21" y="222.5" width="0.97" height="10.1" fill="#9dcdee"/><rect x="294.03" y="222.5" width="2.46" height="10.1" fill="#b4d9f1"/><rect x="296.34" y="222.5" width="1.36" height="10.1" fill="#b4d9f1"/><rect x="297.54" y="222.5" width="0.93" height="10.1" fill="#b4d9f1"/><rect x="298.32" y="222.5" width="2.62" height="10.1" fill="#b4d9f1"/><rect x="300.8" y="222.5" width="2.08" height="10.1" fill="#9dcdee"/><rect x="302.73" y="222.5" width="1.04" height="10.1" fill="#cfe5f5"/><rect x="303.62" y="222.5" width="1.9" height="10.1" fill="#a8d3ef"/><rect x="305.38" y="222.5" width="0.82" height="10.1" fill="#a8d3ef"/><rect x="306.04" y="222.5" width="1.8" height="10.1" fill="#b4d9f1"/><rect x="307.7" y="222.5" width="1.31" height="10.1" fill="#cfe5f5"/><rect x="308.86" y="222.5" width="1.37" height="10.1" fill="#a8d3ef"/><rect x="310.08" y="222.5" width="0.9" height="10.1" fill="#cfe5f5"/><rect x="310.83" y="222.5" width="0.92" height="10.1" fill="#9dcdee"/><rect x="311.6" y="222.5" width="1.74" height="10.1" fill="#b4d9f1"/><rect x="313.18" y="222.5" width="1.77" height="10.1" fill="#a8d3ef"/><rect x="314.8" y="222.5" width="2.47" height="10.1" fill="#cfe5f5"/><rect x="317.12" y="222.5" width="2.29" height="10.1" fill="#b4d9f1"/><rect x="319.26" y="222.5" width="0.9" height="10.1" fill="#9dcdee"/><rect x="320" y="222.5" width="1.23" height="10.1" fill="#9dcdee"/><rect x="321.08" y="222.5" width="1.13" height="10.1" fill="#b4d9f1"/><rect x="322.06" y="222.5" width="2.31" height="10.1" fill="#a8d3ef"/><rect x="324.22" y="222.5" width="1.75" height="10.1" fill="#a8d3ef"/><rect x="325.82" y="222.5" width="0.71" height="10.1" fill="#a8d3ef"/><rect x="326.38" y="222.5" width="2.62" height="10.1" fill="#cfe5f5"/><rect x="328.86" y="222.5" width="1.97" height="10.1" fill="#a8d3ef"/><rect x="330.67" y="222.5" width="1.99" height="10.1" fill="#b4d9f1"/><rect x="332.52" y="222.5" width="1.41" height="10.1" fill="#b4d9f1"/><rect x="333.78" y="222.5" width="2.26" height="10.1" fill="#a8d3ef"/><rect x="335.89" y="222.5" width="1.05" height="10.1" fill="#a8d3ef"/><rect x="336.79" y="222.5" width="0.94" height="10.1" fill="#a8d3ef"/><rect x="337.57" y="222.5" width="1.79" height="10.1" fill="#a8d3ef"/><rect x="339.21" y="222.5" width="1.69" height="10.1" fill="#a8d3ef"/><rect x="340.75" y="222.5" width="1.79" height="10.1" fill="#a8d3ef"/><rect x="342.39" y="222.5" width="1.93" height="10.1" fill="#a8d3ef"/><rect x="344.17" y="222.5" width="1.99" height="10.1" fill="#a8d3ef"/><rect x="346.01" y="222.5" width="2.57" height="10.1" fill="#b4d9f1"/><rect x="348.43" y="222.5" width="1.59" height="10.1" fill="#a8d3ef"/><rect x="349.87" y="222.5" width="1.9" height="10.1" fill="#b4d9f1"/><rect x="351.62" y="222.5" width="2.17" height="10.1" fill="#9dcdee"/><rect x="353.64" y="222.5" width="1.62" height="10.1" fill="#cfe5f5"/><rect x="355.11" y="222.5" width="2.33" height="10.1" fill="#9dcdee"/><rect x="357.28" y="222.5" width="1.47" height="10.1" fill="#a8d3ef"/><rect x="358.6" y="222.5" width="1.78" height="10.1" fill="#9dcdee"/><rect x="360.23" y="222.5" width="1.7" height="10.1" fill="#b4d9f1"/><rect x="361.79" y="222.5" width="1.51" height="10.1" fill="#9dcdee"/><rect x="363.15" y="222.5" width="1.29" height="10.1" fill="#a8d3ef"/><rect x="364.29" y="222.5" width="2.1" height="10.1" fill="#9dcdee"/><rect x="366.24" y="222.5" width="2.11" height="10.1" fill="#b4d9f1"/><rect x="368.21" y="222.5" width="2.15" height="10.1" fill="#a8d3ef"/><rect x="370.21" y="222.5" width="1.84" height="10.1" fill="#a8d3ef"/><rect x="371.9" y="222.5" width="0.9" height="10.1" fill="#a8d3ef"/><rect x="372.65" y="222.5" width="1.66" height="10.1" fill="#a8d3ef"/><rect x="374.15" y="222.5" width="0.75" height="10.1" fill="#b4d9f1"/><rect x="374.75" y="222.5" width="1.7" height="10.1" fill="#a8d3ef"/><rect x="376.31" y="222.5" width="1.26" height="10.1" fill="#a8d3ef"/><rect x="377.42" y="222.5" width="1.12" height="10.1" fill="#a8d3ef"/><rect x="378.39" y="222.5" width="2.47" height="10.1" fill="#cfe5f5"/><rect x="380.71" y="222.5" width="1.98" height="10.1" fill="#9dcdee"/><rect x="382.55" y="222.5" width="1.49" height="10.1" fill="#9dcdee"/><rect x="383.89" y="222.5" width="1.09" height="10.1" fill="#b4d9f1"/><rect x="384.83" y="222.5" width="1.78" height="10.1" fill="#9dcdee"/><rect x="386.47" y="222.5" width="0.48" height="10.1" fill="#9dcdee"/>
<rect x="386.8" y="222.5" width="0.9" height="10.1" fill="#f9bac1"/><rect x="387.55" y="222.5" width="2.55" height="10.1" fill="#f7a7b0"/><rect x="389.95" y="222.5" width="1.14" height="10.1" fill="#f7a7b0"/><rect x="390.94" y="222.5" width="1.3" height="10.1" fill="#f7a7b0"/><rect x="392.09" y="222.5" width="2.44" height="10.1" fill="#f59aa5"/><rect x="394.38" y="222.5" width="1.44" height="10.1" fill="#f7a7b0"/><rect x="395.67" y="222.5" width="1.82" height="10.1" fill="#f7a7b0"/><rect x="397.34" y="222.5" width="0.71" height="10.1" fill="#f59aa5"/><rect x="397.9" y="222.5" width="1.27" height="10.1" fill="#f7a7b0"/><rect x="399.02" y="222.5" width="2.52" height="10.1" fill="#fcd3d7"/><rect x="401.39" y="222.5" width="1.6" height="10.1" fill="#f7a7b0"/><rect x="402.83" y="222.5" width="1.24" height="10.1" fill="#fcd3d7"/><rect x="403.92" y="222.5" width="2.44" height="10.1" fill="#f7a7b0"/><rect x="406.22" y="222.5" width="2.33" height="10.1" fill="#f7a7b0"/><rect x="408.39" y="222.5" width="1.59" height="10.1" fill="#f7a7b0"/><rect x="409.84" y="222.5" width="2.41" height="10.1" fill="#fcd3d7"/><rect x="412.1" y="222.5" width="1.05" height="10.1" fill="#f9bac1"/><rect x="413" y="222.5" width="1.03" height="10.1" fill="#f59aa5"/><rect x="413.89" y="222.5" width="0.75" height="10.1" fill="#f7a7b0"/><rect x="414.49" y="222.5" width="2.1" height="10.1" fill="#f7a7b0"/><rect x="416.44" y="222.5" width="2.45" height="10.1" fill="#f59aa5"/><rect x="418.74" y="222.5" width="2.08" height="10.1" fill="#f7a7b0"/><rect x="420.66" y="222.5" width="2.04" height="10.1" fill="#fcd3d7"/><rect x="422.56" y="222.5" width="1.54" height="10.1" fill="#f7a7b0"/><rect x="423.95" y="222.5" width="1.1" height="10.1" fill="#f7a7b0"/><rect x="424.89" y="222.5" width="2.07" height="10.1" fill="#f7a7b0"/><rect x="426.81" y="222.5" width="1.01" height="10.1" fill="#f7a7b0"/><rect x="427.68" y="222.5" width="1.98" height="10.1" fill="#f59aa5"/><rect x="429.5" y="222.5" width="1.4" height="10.1" fill="#f9bac1"/><rect x="430.75" y="222.5" width="2.42" height="10.1" fill="#f9bac1"/><rect x="433.02" y="222.5" width="1.11" height="10.1" fill="#f7a7b0"/><rect x="433.98" y="222.5" width="2.5" height="10.1" fill="#f9bac1"/><rect x="436.33" y="222.5" width="1.2" height="10.1" fill="#f9bac1"/><rect x="437.38" y="222.5" width="0.83" height="10.1" fill="#fcd3d7"/><rect x="438.06" y="222.5" width="1.53" height="10.1" fill="#f9bac1"/><rect x="439.44" y="222.5" width="1.71" height="10.1" fill="#f7a7b0"/><rect x="441.01" y="222.5" width="1.85" height="10.1" fill="#f7a7b0"/><rect x="442.71" y="222.5" width="1.15" height="10.1" fill="#f59aa5"/><rect x="443.71" y="222.5" width="0.82" height="10.1" fill="#f7a7b0"/><rect x="444.38" y="222.5" width="2.16" height="10.1" fill="#f7a7b0"/><rect x="446.39" y="222.5" width="1.21" height="10.1" fill="#f9bac1"/><rect x="447.45" y="222.5" width="1.02" height="10.1" fill="#f59aa5"/><rect x="448.32" y="222.5" width="2.63" height="10.1" fill="#f7a7b0"/><rect x="450.8" y="222.5" width="1.57" height="10.1" fill="#f59aa5"/><rect x="452.22" y="222.5" width="1.42" height="10.1" fill="#fcd3d7"/><rect x="453.49" y="222.5" width="1.65" height="10.1" fill="#f7a7b0"/><rect x="454.99" y="222.5" width="0.96" height="10.1" fill="#f9bac1"/>
<rect x="455.8" y="222.5" width="1.37" height="10.1" fill="#7cc6ea"/><rect x="457.02" y="222.5" width="2.22" height="10.1" fill="#2aa9dc"/><rect x="459.09" y="222.5" width="1.66" height="10.1" fill="#7cc6ea"/><rect x="460.6" y="222.5" width="1.55" height="10.1" fill="#2aa9dc"/>
<rect x="462" y="222.5" width="2.55" height="10.1" fill="#c8e3f5"/><rect x="464.4" y="222.5" width="2.21" height="10.1" fill="#c8e3f5"/><rect x="466.46" y="222.5" width="1.87" height="10.1" fill="#c8e3f5"/><rect x="468.18" y="222.5" width="1.53" height="10.1" fill="#a5d4ef"/><rect x="469.56" y="222.5" width="2.22" height="10.1" fill="#a5d4ef"/><rect x="471.63" y="222.5" width="1.12" height="10.1" fill="#ffffff"/><rect x="472.6" y="222.5" width="1.09" height="10.1" fill="#ffffff"/><rect x="473.55" y="222.5" width="1.65" height="10.1" fill="#c8e3f5"/><rect x="475.04" y="222.5" width="1.84" height="10.1" fill="#a5d4ef"/><rect x="476.74" y="222.5" width="1.8" height="10.1" fill="#e8f2fa"/><rect x="478.38" y="222.5" width="1.01" height="10.1" fill="#c8e3f5"/><rect x="479.24" y="222.5" width="0.69" height="10.1" fill="#ffffff"/><rect x="479.78" y="222.5" width="1.52" height="10.1" fill="#ffffff"/><rect x="481.15" y="222.5" width="1.18" height="10.1" fill="#a5d4ef"/><rect x="482.17" y="222.5" width="0.8" height="10.1" fill="#e8f2fa"/><rect x="482.82" y="222.5" width="1.79" height="10.1" fill="#ffffff"/><rect x="484.46" y="222.5" width="2.23" height="10.1" fill="#c8e3f5"/><rect x="486.54" y="222.5" width="0.94" height="10.1" fill="#c8e3f5"/><rect x="487.33" y="222.5" width="0.73" height="10.1" fill="#c8e3f5"/><rect x="487.92" y="222.5" width="1.89" height="10.1" fill="#ffffff"/><rect x="489.66" y="222.5" width="1.18" height="10.1" fill="#ffffff"/><rect x="490.69" y="222.5" width="0.83" height="10.1" fill="#e8f2fa"/><rect x="491.37" y="222.5" width="0.99" height="10.1" fill="#c8e3f5"/><rect x="492.21" y="222.5" width="0.97" height="10.1" fill="#a5d4ef"/><rect x="493.03" y="222.5" width="2.31" height="10.1" fill="#a5d4ef"/><rect x="495.19" y="222.5" width="0.77" height="10.1" fill="#ffffff"/><rect x="495.81" y="222.5" width="1.38" height="10.1" fill="#c8e3f5"/><rect x="497.04" y="222.5" width="0.61" height="10.1" fill="#c8e3f5"/>
<rect x="52.3" y="233.1" width="4.5" height="9.8" fill="#fdbb10"/>
<rect x="56.8" y="233.1" width="5.3" height="9.8" fill="#86cf5e"/>
<rect x="62.1" y="233.1" width="2.9" height="9.8" fill="#fdbb10"/>
<rect x="65" y="233.1" width="50.4" height="9.8" fill="#fdbb10"/>
<rect x="115.4" y="233.1" width="2.03" height="9.8" fill="#86cf5e"/><rect x="117.28" y="233.1" width="3.12" height="9.8" fill="#1fb5e8"/><rect x="120.25" y="233.1" width="1.95" height="9.8" fill="#86cf5e"/><rect x="122.05" y="233.1" width="1.04" height="9.8" fill="#1fb5e8"/><rect x="122.93" y="233.1" width="2.91" height="9.8" fill="#1fb5e8"/><rect x="125.69" y="233.1" width="1.81" height="9.8" fill="#1fb5e8"/><rect x="127.36" y="233.1" width="1.88" height="9.8" fill="#1fb5e8"/><rect x="129.09" y="233.1" width="1.03" height="9.8" fill="#4bbf9a"/><rect x="129.97" y="233.1" width="2.18" height="9.8" fill="#86cf5e"/>
<rect x="132" y="233.1" width="1.11" height="9.8" fill="#1fb5e8"/><rect x="132.96" y="233.1" width="1.75" height="9.8" fill="#1fb5e8"/><rect x="134.56" y="233.1" width="1.57" height="9.8" fill="#1fb5e8"/><rect x="135.99" y="233.1" width="1.38" height="9.8" fill="#1fb5e8"/><rect x="137.21" y="233.1" width="0.94" height="9.8" fill="#1fb5e8"/>
<rect x="138" y="233.1" width="0.73" height="9.8" fill="#fdbb10"/><rect x="138.58" y="233.1" width="1.95" height="9.8" fill="#fdbb10"/><rect x="140.38" y="233.1" width="1.34" height="9.8" fill="#fdbb10"/><rect x="141.57" y="233.1" width="2.38" height="9.8" fill="#fdbb10"/><rect x="143.79" y="233.1" width="2.36" height="9.8" fill="#fdbb10"/>
<rect x="146" y="233.1" width="2.72" height="9.8" fill="#1fb5e8"/><rect x="148.57" y="233.1" width="2.67" height="9.8" fill="#1fb5e8"/><rect x="151.1" y="233.1" width="2.01" height="9.8" fill="#1fb5e8"/><rect x="152.96" y="233.1" width="1.88" height="9.8" fill="#1fb5e8"/><rect x="154.69" y="233.1" width="1.81" height="9.8" fill="#1fb5e8"/><rect x="156.35" y="233.1" width="2.01" height="9.8" fill="#1fb5e8"/><rect x="158.21" y="233.1" width="2.38" height="9.8" fill="#1fb5e8"/><rect x="160.44" y="233.1" width="5.12" height="9.8" fill="#1fb5e8"/><rect x="165.41" y="233.1" width="4.6" height="9.8" fill="#1fb5e8"/><rect x="169.86" y="233.1" width="2.68" height="9.8" fill="#1fb5e8"/><rect x="172.4" y="233.1" width="3.92" height="9.8" fill="#1fb5e8"/><rect x="176.16" y="233.1" width="2.25" height="9.8" fill="#1fb5e8"/><rect x="178.26" y="233.1" width="1.88" height="9.8" fill="#1fb5e8"/><rect x="179.99" y="233.1" width="2.72" height="9.8" fill="#86cf5e"/><rect x="182.56" y="233.1" width="4.01" height="9.8" fill="#1fb5e8"/><rect x="186.42" y="233.1" width="2.59" height="9.8" fill="#1fb5e8"/><rect x="188.86" y="233.1" width="4.9" height="9.8" fill="#1fb5e8"/><rect x="193.61" y="233.1" width="4.21" height="9.8" fill="#1fb5e8"/><rect x="197.67" y="233.1" width="2.48" height="9.8" fill="#1fb5e8"/>
<rect x="200" y="233.1" width="1.66" height="9.8" fill="#1fb5e8"/><rect x="201.51" y="233.1" width="1.13" height="9.8" fill="#fdbb10"/><rect x="202.49" y="233.1" width="1.67" height="9.8" fill="#86cf5e"/><rect x="204.01" y="233.1" width="2.09" height="9.8" fill="#1fb5e8"/><rect x="205.95" y="233.1" width="1.82" height="9.8" fill="#1fb5e8"/><rect x="207.62" y="233.1" width="1.04" height="9.8" fill="#1fb5e8"/><rect x="208.51" y="233.1" width="2.26" height="9.8" fill="#1fb5e8"/><rect x="210.62" y="233.1" width="1.64" height="9.8" fill="#1fb5e8"/><rect x="212.1" y="233.1" width="2.15" height="9.8" fill="#1fb5e8"/><rect x="214.1" y="233.1" width="2.5" height="9.8" fill="#1fb5e8"/><rect x="216.45" y="233.1" width="2.55" height="9.8" fill="#86cf5e"/><rect x="218.85" y="233.1" width="1.27" height="9.8" fill="#1fb5e8"/><rect x="219.97" y="233.1" width="1.57" height="9.8" fill="#86cf5e"/><rect x="221.39" y="233.1" width="1.84" height="9.8" fill="#1fb5e8"/><rect x="223.08" y="233.1" width="2.86" height="9.8" fill="#1fb5e8"/><rect x="225.79" y="233.1" width="1.59" height="9.8" fill="#1fb5e8"/><rect x="227.23" y="233.1" width="1.42" height="9.8" fill="#1fb5e8"/><rect x="228.5" y="233.1" width="1" height="9.8" fill="#86cf5e"/><rect x="229.36" y="233.1" width="2.2" height="9.8" fill="#fdbb10"/><rect x="231.4" y="233.1" width="3.1" height="9.8" fill="#1fb5e8"/><rect x="234.35" y="233.1" width="2.43" height="9.8" fill="#c8d848"/><rect x="236.63" y="233.1" width="1.43" height="9.8" fill="#86cf5e"/><rect x="237.9" y="233.1" width="2.42" height="9.8" fill="#c8d848"/><rect x="240.17" y="233.1" width="2.86" height="9.8" fill="#1fb5e8"/><rect x="242.88" y="233.1" width="0.27" height="9.8" fill="#1fb5e8"/>
<rect x="243" y="233.1" width="3.29" height="9.8" fill="#1fb5e8"/><rect x="246.14" y="233.1" width="1.45" height="9.8" fill="#1fb5e8"/><rect x="247.44" y="233.1" width="2.79" height="9.8" fill="#1fb5e8"/><rect x="250.08" y="233.1" width="2.55" height="9.8" fill="#1fb5e8"/><rect x="252.48" y="233.1" width="3.16" height="9.8" fill="#1fb5e8"/><rect x="255.49" y="233.1" width="1.98" height="9.8" fill="#1fb5e8"/><rect x="257.32" y="233.1" width="2.35" height="9.8" fill="#1fb5e8"/><rect x="259.52" y="233.1" width="2.86" height="9.8" fill="#1fb5e8"/><rect x="262.23" y="233.1" width="1.9" height="9.8" fill="#1fb5e8"/><rect x="263.99" y="233.1" width="4.66" height="9.8" fill="#1fb5e8"/><rect x="268.49" y="233.1" width="4.65" height="9.8" fill="#1fb5e8"/><rect x="272.99" y="233.1" width="3.11" height="9.8" fill="#1fb5e8"/><rect x="275.95" y="233.1" width="1.46" height="9.8" fill="#1fb5e8"/><rect x="277.27" y="233.1" width="1.42" height="9.8" fill="#1fb5e8"/><rect x="278.54" y="233.1" width="1.81" height="9.8" fill="#1fb5e8"/>
<rect x="280.2" y="233.1" width="106.6" height="9.8" fill="#fdbb10"/>
<rect x="366.38" y="233.1" width="2.52" height="9.8" fill="#f8c54a"/>
<rect x="386.8" y="233.1" width="2.25" height="9.8" fill="#e9a2ec"/><rect x="388.9" y="233.1" width="1" height="9.8" fill="#e9a2ec"/><rect x="389.75" y="233.1" width="2.52" height="9.8" fill="#e9a2ec"/><rect x="392.12" y="233.1" width="1.63" height="9.8" fill="#e9a2ec"/><rect x="393.59" y="233.1" width="1.3" height="9.8" fill="#e9a2ec"/><rect x="394.74" y="233.1" width="1.78" height="9.8" fill="#e9a2ec"/><rect x="396.37" y="233.1" width="1.9" height="9.8" fill="#e9a2ec"/><rect x="398.12" y="233.1" width="0.83" height="9.8" fill="#c9a0e0"/>
<rect x="398.8" y="233.1" width="22.4" height="9.8" fill="#ee1c24"/>
<rect x="421.2" y="233.1" width="1.38" height="9.8" fill="#e9a2ec"/><rect x="422.43" y="233.1" width="0.75" height="9.8" fill="#e9a2ec"/><rect x="423.03" y="233.1" width="2.44" height="9.8" fill="#e9a2ec"/><rect x="425.32" y="233.1" width="0.81" height="9.8" fill="#e9a2ec"/><rect x="425.98" y="233.1" width="1.62" height="9.8" fill="#f5c0f0"/><rect x="427.44" y="233.1" width="1.05" height="9.8" fill="#c9a0e0"/><rect x="428.35" y="233.1" width="1.62" height="9.8" fill="#e9a2ec"/><rect x="429.82" y="233.1" width="2.26" height="9.8" fill="#e9a2ec"/><rect x="431.93" y="233.1" width="0.77" height="9.8" fill="#ee82ee"/><rect x="432.55" y="233.1" width="1.96" height="9.8" fill="#ee82ee"/><rect x="434.36" y="233.1" width="1.2" height="9.8" fill="#f5c0f0"/><rect x="435.41" y="233.1" width="2.38" height="9.8" fill="#f5c0f0"/><rect x="437.64" y="233.1" width="1.54" height="9.8" fill="#c9a0e0"/><rect x="439.03" y="233.1" width="2.1" height="9.8" fill="#e9a2ec"/><rect x="440.98" y="233.1" width="0.17" height="9.8" fill="#e9a2ec"/>
<rect x="441" y="233.1" width="0.89" height="9.8" fill="#fdbb10"/><rect x="441.74" y="233.1" width="1.37" height="9.8" fill="#ee82ee"/><rect x="442.96" y="233.1" width="1.27" height="9.8" fill="#a0a0c0"/><rect x="444.08" y="233.1" width="0.67" height="9.8" fill="#fdbb10"/><rect x="444.6" y="233.1" width="2.57" height="9.8" fill="#fdbb10"/><rect x="447.01" y="233.1" width="1.7" height="9.8" fill="#ee82ee"/><rect x="448.57" y="233.1" width="0.58" height="9.8" fill="#a0a0c0"/>
<rect x="449" y="233.1" width="1.45" height="9.8" fill="#c07090"/><rect x="450.3" y="233.1" width="2.31" height="9.8" fill="#ee1c24"/><rect x="452.45" y="233.1" width="2.62" height="9.8" fill="#ee1c24"/><rect x="454.93" y="233.1" width="1.02" height="9.8" fill="#ee1c24"/>
<rect x="455.8" y="233.1" width="2.5" height="9.8" fill="#fdbb10"/><rect x="458.15" y="233.1" width="2.95" height="9.8" fill="#fdbb10"/><rect x="460.95" y="233.1" width="2.22" height="9.8" fill="#fdbb10"/><rect x="463.02" y="233.1" width="1.8" height="9.8" fill="#fdbb10"/><rect x="464.68" y="233.1" width="2.4" height="9.8" fill="#4bc0a0"/><rect x="466.92" y="233.1" width="1.75" height="9.8" fill="#86cf5e"/><rect x="468.52" y="233.1" width="1.73" height="9.8" fill="#fdbb10"/><rect x="470.1" y="233.1" width="2.94" height="9.8" fill="#fdbb10"/><rect x="472.89" y="233.1" width="1.16" height="9.8" fill="#fdbb10"/><rect x="473.9" y="233.1" width="2.58" height="9.8" fill="#fdbb10"/><rect x="476.33" y="233.1" width="2.59" height="9.8" fill="#86cf5e"/><rect x="478.77" y="233.1" width="2.45" height="9.8" fill="#fdbb10"/><rect x="481.06" y="233.1" width="1.18" height="9.8" fill="#fdbb10"/><rect x="482.1" y="233.1" width="0.55" height="9.8" fill="#fdbb10"/>
<rect x="482.5" y="233.1" width="15" height="9.8" fill="#ee1c24"/>
<rect x="488" y="233.1" width="0.67" height="9.8" fill="#f0b0c0"/><rect x="488.52" y="233.1" width="1.46" height="9.8" fill="#f0b0c0"/><rect x="489.83" y="233.1" width="0.32" height="9.8" fill="#f0b0c0"/>
<rect x="52.3" y="243.2" width="1.14" height="10.6" fill="#f0a070"/><rect x="53.29" y="243.2" width="1.36" height="10.6" fill="#2050e0"/><rect x="54.5" y="243.2" width="0.96" height="10.6" fill="#f0a070"/><rect x="55.3" y="243.2" width="1.57" height="10.6" fill="#f0a070"/><rect x="56.72" y="243.2" width="1.17" height="10.6" fill="#1a30d8"/><rect x="57.74" y="243.2" width="2.09" height="10.6" fill="#1a30d8"/><rect x="59.68" y="243.2" width="1.27" height="10.6" fill="#2050e0"/><rect x="60.8" y="243.2" width="2.55" height="10.6" fill="#1a30d8"/><rect x="63.2" y="243.2" width="1.1" height="10.6" fill="#1a30d8"/><rect x="64.15" y="243.2" width="1" height="10.6" fill="#1a30d8"/>
<rect x="65" y="243.2" width="1.92" height="10.6" fill="#f2a26e"/><rect x="66.77" y="243.2" width="1.94" height="10.6" fill="#f2a26e"/><rect x="68.56" y="243.2" width="1.88" height="10.6" fill="#1a30d8"/><rect x="70.29" y="243.2" width="2.36" height="10.6" fill="#f2a26e"/><rect x="72.5" y="243.2" width="1.66" height="10.6" fill="#f2a26e"/><rect x="74.01" y="243.2" width="0.88" height="10.6" fill="#b08080"/><rect x="74.74" y="243.2" width="2.03" height="10.6" fill="#f2a26e"/><rect x="76.62" y="243.2" width="1.98" height="10.6" fill="#f2a26e"/><rect x="78.45" y="243.2" width="1.42" height="10.6" fill="#f2a26e"/><rect x="79.72" y="243.2" width="0.43" height="10.6" fill="#f2a26e"/>
<rect x="80" y="243.2" width="2.08" height="10.6" fill="#1a30d8"/><rect x="81.93" y="243.2" width="2.33" height="10.6" fill="#1a30d8"/><rect x="84.11" y="243.2" width="2.26" height="10.6" fill="#3a5ce8"/><rect x="86.22" y="243.2" width="3" height="10.6" fill="#1a30d8"/><rect x="89.07" y="243.2" width="1.98" height="10.6" fill="#ffffff"/><rect x="90.9" y="243.2" width="2.57" height="10.6" fill="#1a30d8"/><rect x="93.32" y="243.2" width="2.57" height="10.6" fill="#ffffff"/><rect x="95.74" y="243.2" width="1.83" height="10.6" fill="#f2a26e"/><rect x="97.43" y="243.2" width="1.23" height="10.6" fill="#ffffff"/><rect x="98.51" y="243.2" width="2.03" height="10.6" fill="#1a30d8"/><rect x="100.39" y="243.2" width="0.76" height="10.6" fill="#3a5ce8"/>
<rect x="101" y="243.2" width="2.53" height="10.6" fill="#1a30d8"/><rect x="103.38" y="243.2" width="2.25" height="10.6" fill="#f2a26e"/><rect x="105.47" y="243.2" width="2.64" height="10.6" fill="#f2a26e"/><rect x="107.96" y="243.2" width="2.39" height="10.6" fill="#1a30d8"/><rect x="110.2" y="243.2" width="1.15" height="10.6" fill="#1a30d8"/><rect x="111.2" y="243.2" width="1.56" height="10.6" fill="#f2a26e"/><rect x="112.61" y="243.2" width="2.38" height="10.6" fill="#f2a26e"/><rect x="114.84" y="243.2" width="0.71" height="10.6" fill="#1a30d8"/>
<rect x="115.4" y="243.2" width="0.78" height="10.6" fill="#1a9a1a"/><rect x="116.03" y="243.2" width="1.99" height="10.6" fill="#1a9a1a"/><rect x="117.86" y="243.2" width="1.06" height="10.6" fill="#8ec85a"/><rect x="118.77" y="243.2" width="2.1" height="10.6" fill="#8ec85a"/><rect x="120.73" y="243.2" width="1.58" height="10.6" fill="#60b060"/><rect x="122.16" y="243.2" width="2" height="10.6" fill="#1db954"/><rect x="124.02" y="243.2" width="1.27" height="10.6" fill="#1db954"/><rect x="125.14" y="243.2" width="0.71" height="10.6" fill="#3aa03a"/><rect x="125.7" y="243.2" width="2.12" height="10.6" fill="#8ec85a"/><rect x="127.67" y="243.2" width="0.85" height="10.6" fill="#1db954"/><rect x="128.37" y="243.2" width="1.31" height="10.6" fill="#8ec85a"/><rect x="129.53" y="243.2" width="1.7" height="10.6" fill="#60b060"/><rect x="131.08" y="243.2" width="0.77" height="10.6" fill="#60b060"/><rect x="131.7" y="243.2" width="1" height="10.6" fill="#f2a26e"/><rect x="132.55" y="243.2" width="2.14" height="10.6" fill="#a05028"/><rect x="134.54" y="243.2" width="0.99" height="10.6" fill="#a05028"/><rect x="135.38" y="243.2" width="1.38" height="10.6" fill="#1db954"/><rect x="136.61" y="243.2" width="1.23" height="10.6" fill="#3aa03a"/><rect x="137.69" y="243.2" width="1.72" height="10.6" fill="#3aa03a"/><rect x="139.26" y="243.2" width="1.68" height="10.6" fill="#a05028"/><rect x="140.78" y="243.2" width="0.96" height="10.6" fill="#1db954"/><rect x="141.59" y="243.2" width="1.83" height="10.6" fill="#1a9a1a"/><rect x="143.27" y="243.2" width="0.87" height="10.6" fill="#1db954"/><rect x="143.99" y="243.2" width="2.25" height="10.6" fill="#f2a26e"/><rect x="146.09" y="243.2" width="1.26" height="10.6" fill="#1db954"/><rect x="147.2" y="243.2" width="2.34" height="10.6" fill="#a05028"/><rect x="149.39" y="243.2" width="1.9" height="10.6" fill="#3aa03a"/><rect x="151.14" y="243.2" width="1.18" height="10.6" fill="#3aa03a"/><rect x="152.17" y="243.2" width="0.9" height="10.6" fill="#f2a26e"/><rect x="152.92" y="243.2" width="1.37" height="10.6" fill="#8ec85a"/><rect x="154.14" y="243.2" width="1.35" height="10.6" fill="#1a9a1a"/><rect x="155.33" y="243.2" width="1.51" height="10.6" fill="#60b060"/><rect x="156.7" y="243.2" width="1.24" height="10.6" fill="#a05028"/><rect x="157.78" y="243.2" width="1.05" height="10.6" fill="#f2a26e"/><rect x="158.68" y="243.2" width="1.13" height="10.6" fill="#c04030"/><rect x="159.67" y="243.2" width="1.14" height="10.6" fill="#c04030"/><rect x="160.65" y="243.2" width="1.8" height="10.6" fill="#1a9a1a"/><rect x="162.31" y="243.2" width="2.24" height="10.6" fill="#3aa03a"/><rect x="164.39" y="243.2" width="1.91" height="10.6" fill="#f2a26e"/><rect x="166.16" y="243.2" width="1.41" height="10.6" fill="#1db954"/><rect x="167.42" y="243.2" width="1.36" height="10.6" fill="#3aa03a"/><rect x="168.63" y="243.2" width="1.4" height="10.6" fill="#60b060"/><rect x="169.88" y="243.2" width="1.15" height="10.6" fill="#a05028"/><rect x="170.88" y="243.2" width="1.79" height="10.6" fill="#1db954"/><rect x="172.52" y="243.2" width="1.35" height="10.6" fill="#1db954"/><rect x="173.72" y="243.2" width="2.17" height="10.6" fill="#1db954"/><rect x="175.74" y="243.2" width="1.37" height="10.6" fill="#3aa03a"/><rect x="176.96" y="243.2" width="2.04" height="10.6" fill="#c04030"/><rect x="178.85" y="243.2" width="1.65" height="10.6" fill="#1a9a1a"/><rect x="180.36" y="243.2" width="0.82" height="10.6" fill="#60b060"/><rect x="181.03" y="243.2" width="0.8" height="10.6" fill="#3aa03a"/><rect x="181.68" y="243.2" width="1.29" height="10.6" fill="#a05028"/><rect x="182.81" y="243.2" width="1.79" height="10.6" fill="#3aa03a"/><rect x="184.45" y="243.2" width="2.18" height="10.6" fill="#60b060"/><rect x="186.48" y="243.2" width="0.69" height="10.6" fill="#f2a26e"/><rect x="187.02" y="243.2" width="1.45" height="10.6" fill="#3aa03a"/><rect x="188.31" y="243.2" width="1.44" height="10.6" fill="#3aa03a"/><rect x="189.6" y="243.2" width="1.79" height="10.6" fill="#f2a26e"/><rect x="191.24" y="243.2" width="2.3" height="10.6" fill="#60b060"/><rect x="193.39" y="243.2" width="2.34" height="10.6" fill="#3aa03a"/><rect x="195.58" y="243.2" width="2.06" height="10.6" fill="#f2a26e"/><rect x="197.49" y="243.2" width="1.84" height="10.6" fill="#60b060"/><rect x="199.18" y="243.2" width="0.76" height="10.6" fill="#1a9a1a"/><rect x="199.8" y="243.2" width="1.33" height="10.6" fill="#f2a26e"/><rect x="200.98" y="243.2" width="1.02" height="10.6" fill="#60b060"/><rect x="201.85" y="243.2" width="1.01" height="10.6" fill="#3aa03a"/><rect x="202.7" y="243.2" width="0.89" height="10.6" fill="#3aa03a"/><rect x="203.45" y="243.2" width="1.91" height="10.6" fill="#1db954"/><rect x="205.21" y="243.2" width="0.93" height="10.6" fill="#f2a26e"/><rect x="205.99" y="243.2" width="1.71" height="10.6" fill="#8ec85a"/><rect x="207.55" y="243.2" width="1.08" height="10.6" fill="#8ec85a"/><rect x="208.48" y="243.2" width="1.89" height="10.6" fill="#8ec85a"/><rect x="210.22" y="243.2" width="0.85" height="10.6" fill="#1a9a1a"/><rect x="210.93" y="243.2" width="0.68" height="10.6" fill="#c04030"/><rect x="211.45" y="243.2" width="2.26" height="10.6" fill="#60b060"/><rect x="213.56" y="243.2" width="0.69" height="10.6" fill="#3aa03a"/><rect x="214.1" y="243.2" width="1.56" height="10.6" fill="#1a9a1a"/><rect x="215.51" y="243.2" width="0.84" height="10.6" fill="#8ec85a"/><rect x="216.2" y="243.2" width="1.16" height="10.6" fill="#1a9a1a"/><rect x="217.21" y="243.2" width="0.86" height="10.6" fill="#f2a26e"/><rect x="217.93" y="243.2" width="0.87" height="10.6" fill="#1db954"/><rect x="218.65" y="243.2" width="1.52" height="10.6" fill="#3aa03a"/><rect x="220.02" y="243.2" width="1.97" height="10.6" fill="#1db954"/><rect x="221.84" y="243.2" width="1.35" height="10.6" fill="#1db954"/><rect x="223.04" y="243.2" width="1.02" height="10.6" fill="#1a9a1a"/><rect x="223.91" y="243.2" width="1.6" height="10.6" fill="#1a9a1a"/><rect x="225.36" y="243.2" width="2.1" height="10.6" fill="#1db954"/><rect x="227.31" y="243.2" width="2.1" height="10.6" fill="#1db954"/><rect x="229.25" y="243.2" width="2.3" height="10.6" fill="#1a9a1a"/><rect x="231.4" y="243.2" width="1.34" height="10.6" fill="#f2a26e"/><rect x="232.59" y="243.2" width="2.12" height="10.6" fill="#60b060"/><rect x="234.56" y="243.2" width="1.35" height="10.6" fill="#1db954"/><rect x="235.76" y="243.2" width="0.91" height="10.6" fill="#8ec85a"/><rect x="236.53" y="243.2" width="1.9" height="10.6" fill="#a05028"/><rect x="238.27" y="243.2" width="0.92" height="10.6" fill="#1a9a1a"/><rect x="239.04" y="243.2" width="0.7" height="10.6" fill="#1db954"/><rect x="239.59" y="243.2" width="1.16" height="10.6" fill="#60b060"/><rect x="240.6" y="243.2" width="1.74" height="10.6" fill="#8ec85a"/><rect x="242.19" y="243.2" width="0.73" height="10.6" fill="#3aa03a"/><rect x="242.77" y="243.2" width="0.78" height="10.6" fill="#1db954"/><rect x="243.41" y="243.2" width="0.84" height="10.6" fill="#60b060"/><rect x="244.1" y="243.2" width="1.21" height="10.6" fill="#1a9a1a"/><rect x="245.15" y="243.2" width="1.76" height="10.6" fill="#c04030"/><rect x="246.77" y="243.2" width="2.26" height="10.6" fill="#f2a26e"/><rect x="248.88" y="243.2" width="1.5" height="10.6" fill="#60b060"/><rect x="250.23" y="243.2" width="1.32" height="10.6" fill="#3aa03a"/><rect x="251.4" y="243.2" width="1.91" height="10.6" fill="#1db954"/><rect x="253.15" y="243.2" width="1.28" height="10.6" fill="#3aa03a"/><rect x="254.28" y="243.2" width="1.46" height="10.6" fill="#3aa03a"/><rect x="255.59" y="243.2" width="1.38" height="10.6" fill="#1a9a1a"/><rect x="256.82" y="243.2" width="0.73" height="10.6" fill="#8ec85a"/><rect x="257.41" y="243.2" width="0.75" height="10.6" fill="#1a9a1a"/><rect x="258.01" y="243.2" width="1.58" height="10.6" fill="#3aa03a"/><rect x="259.44" y="243.2" width="1.03" height="10.6" fill="#1db954"/><rect x="260.32" y="243.2" width="1.28" height="10.6" fill="#3aa03a"/><rect x="261.45" y="243.2" width="1.47" height="10.6" fill="#1db954"/><rect x="262.78" y="243.2" width="1.92" height="10.6" fill="#1a9a1a"/><rect x="264.55" y="243.2" width="0.67" height="10.6" fill="#3aa03a"/><rect x="265.06" y="243.2" width="2.29" height="10.6" fill="#1db954"/><rect x="267.21" y="243.2" width="1.66" height="10.6" fill="#60b060"/><rect x="268.72" y="243.2" width="1.27" height="10.6" fill="#f2a26e"/><rect x="269.84" y="243.2" width="1.28" height="10.6" fill="#3aa03a"/><rect x="270.97" y="243.2" width="1.69" height="10.6" fill="#f2a26e"/><rect x="272.5" y="243.2" width="1.19" height="10.6" fill="#1a9a1a"/><rect x="273.54" y="243.2" width="1.53" height="10.6" fill="#8ec85a"/><rect x="274.91" y="243.2" width="0.74" height="10.6" fill="#1db954"/><rect x="275.5" y="243.2" width="1.08" height="10.6" fill="#1db954"/><rect x="276.43" y="243.2" width="2" height="10.6" fill="#3aa03a"/><rect x="278.29" y="243.2" width="2.06" height="10.6" fill="#3aa03a"/>
<rect x="280.2" y="243.2" width="1.14" height="10.6" fill="#2d4fe0"/><rect x="281.19" y="243.2" width="0.8" height="10.6" fill="#f2a26e"/><rect x="281.83" y="243.2" width="2.06" height="10.6" fill="#1a30d8"/><rect x="283.74" y="243.2" width="1.19" height="10.6" fill="#8a8cd8"/><rect x="284.78" y="243.2" width="1.99" height="10.6" fill="#2d4fe0"/><rect x="286.62" y="243.2" width="0.75" height="10.6" fill="#8a8cd8"/><rect x="287.22" y="243.2" width="0.73" height="10.6" fill="#2d4fe0"/><rect x="287.8" y="243.2" width="1.59" height="10.6" fill="#b4a4d8"/><rect x="289.24" y="243.2" width="1.74" height="10.6" fill="#1a30d8"/><rect x="290.83" y="243.2" width="2.24" height="10.6" fill="#8a8cd8"/><rect x="292.91" y="243.2" width="1.64" height="10.6" fill="#1a30d8"/><rect x="294.4" y="243.2" width="1.9" height="10.6" fill="#1a30d8"/><rect x="296.15" y="243.2" width="1.81" height="10.6" fill="#f2a26e"/><rect x="297.81" y="243.2" width="2.21" height="10.6" fill="#1a30d8"/><rect x="299.87" y="243.2" width="1.98" height="10.6" fill="#1a30d8"/><rect x="301.7" y="243.2" width="1.93" height="10.6" fill="#1a30d8"/><rect x="303.47" y="243.2" width="1.41" height="10.6" fill="#1a30d8"/><rect x="304.73" y="243.2" width="0.85" height="10.6" fill="#1a30d8"/><rect x="305.43" y="243.2" width="1.9" height="10.6" fill="#1a30d8"/><rect x="307.18" y="243.2" width="0.85" height="10.6" fill="#8a8cd8"/><rect x="307.88" y="243.2" width="1.78" height="10.6" fill="#2d4fe0"/><rect x="309.51" y="243.2" width="0.84" height="10.6" fill="#1a30d8"/><rect x="310.21" y="243.2" width="1.18" height="10.6" fill="#f2a26e"/><rect x="311.23" y="243.2" width="1.6" height="10.6" fill="#b4a4d8"/><rect x="312.69" y="243.2" width="1.01" height="10.6" fill="#1a30d8"/><rect x="313.54" y="243.2" width="1.56" height="10.6" fill="#8a8cd8"/><rect x="314.96" y="243.2" width="0.86" height="10.6" fill="#8a8cd8"/><rect x="315.67" y="243.2" width="1.45" height="10.6" fill="#1a30d8"/><rect x="316.97" y="243.2" width="1.38" height="10.6" fill="#1a30d8"/><rect x="318.2" y="243.2" width="1.8" height="10.6" fill="#b4a4d8"/><rect x="319.85" y="243.2" width="1.49" height="10.6" fill="#2d4fe0"/><rect x="321.19" y="243.2" width="1.31" height="10.6" fill="#8a8cd8"/><rect x="322.35" y="243.2" width="0.83" height="10.6" fill="#2d4fe0"/><rect x="323.03" y="243.2" width="0.93" height="10.6" fill="#2d4fe0"/><rect x="323.81" y="243.2" width="0.99" height="10.6" fill="#1a30d8"/><rect x="324.65" y="243.2" width="0.93" height="10.6" fill="#1a30d8"/><rect x="325.43" y="243.2" width="1.66" height="10.6" fill="#1a30d8"/><rect x="326.94" y="243.2" width="1.31" height="10.6" fill="#2d4fe0"/><rect x="328.1" y="243.2" width="2.08" height="10.6" fill="#1a30d8"/><rect x="330.03" y="243.2" width="1.64" height="10.6" fill="#1a30d8"/><rect x="331.52" y="243.2" width="2.32" height="10.6" fill="#1a30d8"/><rect x="333.69" y="243.2" width="1.84" height="10.6" fill="#1a30d8"/><rect x="335.38" y="243.2" width="1.09" height="10.6" fill="#2d4fe0"/><rect x="336.32" y="243.2" width="1.63" height="10.6" fill="#1a30d8"/><rect x="337.8" y="243.2" width="0.76" height="10.6" fill="#8a8cd8"/><rect x="338.41" y="243.2" width="1.29" height="10.6" fill="#2d4fe0"/><rect x="339.55" y="243.2" width="1.39" height="10.6" fill="#2d4fe0"/><rect x="340.78" y="243.2" width="1.6" height="10.6" fill="#f2a26e"/><rect x="342.23" y="243.2" width="2.2" height="10.6" fill="#1a30d8"/><rect x="344.28" y="243.2" width="1.48" height="10.6" fill="#1a30d8"/><rect x="345.61" y="243.2" width="1.93" height="10.6" fill="#1a30d8"/><rect x="347.39" y="243.2" width="1.17" height="10.6" fill="#8a8cd8"/><rect x="348.41" y="243.2" width="0.71" height="10.6" fill="#2d4fe0"/><rect x="348.97" y="243.2" width="1.62" height="10.6" fill="#2d4fe0"/><rect x="350.44" y="243.2" width="1.22" height="10.6" fill="#1a30d8"/><rect x="351.5" y="243.2" width="2.27" height="10.6" fill="#8a8cd8"/><rect x="353.62" y="243.2" width="2.02" height="10.6" fill="#1a30d8"/><rect x="355.49" y="243.2" width="1.98" height="10.6" fill="#1a30d8"/><rect x="357.32" y="243.2" width="0.99" height="10.6" fill="#1a30d8"/><rect x="358.16" y="243.2" width="1.69" height="10.6" fill="#1a30d8"/><rect x="359.7" y="243.2" width="1.95" height="10.6" fill="#2d4fe0"/><rect x="361.5" y="243.2" width="2.18" height="10.6" fill="#b4a4d8"/><rect x="363.53" y="243.2" width="1.82" height="10.6" fill="#1a30d8"/><rect x="365.2" y="243.2" width="2.27" height="10.6" fill="#2d4fe0"/><rect x="367.31" y="243.2" width="1.14" height="10.6" fill="#8a8cd8"/><rect x="368.31" y="243.2" width="1.89" height="10.6" fill="#1a30d8"/><rect x="370.04" y="243.2" width="1.07" height="10.6" fill="#1a30d8"/><rect x="370.97" y="243.2" width="1.56" height="10.6" fill="#1a30d8"/><rect x="372.38" y="243.2" width="1.15" height="10.6" fill="#1a30d8"/><rect x="373.38" y="243.2" width="0.87" height="10.6" fill="#1a30d8"/><rect x="374.1" y="243.2" width="1.11" height="10.6" fill="#1a30d8"/><rect x="375.07" y="243.2" width="1.12" height="10.6" fill="#1a30d8"/><rect x="376.04" y="243.2" width="2.14" height="10.6" fill="#1a30d8"/><rect x="378.02" y="243.2" width="2.11" height="10.6" fill="#8a8cd8"/><rect x="379.99" y="243.2" width="1.69" height="10.6" fill="#1a30d8"/><rect x="381.52" y="243.2" width="1.9" height="10.6" fill="#1a30d8"/><rect x="383.27" y="243.2" width="1.77" height="10.6" fill="#b4a4d8"/><rect x="384.89" y="243.2" width="1.97" height="10.6" fill="#1a30d8"/><rect x="386.71" y="243.2" width="0.24" height="10.6" fill="#b4a4d8"/>
<rect x="386.8" y="243.2" width="1.33" height="10.6" fill="#1db954"/><rect x="387.98" y="243.2" width="1.12" height="10.6" fill="#a8a0d0"/><rect x="388.95" y="243.2" width="1.34" height="10.6" fill="#f0a070"/><rect x="390.15" y="243.2" width="2.26" height="10.6" fill="#a8a0d0"/><rect x="392.26" y="243.2" width="1.66" height="10.6" fill="#e6a58a"/><rect x="393.76" y="243.2" width="1.12" height="10.6" fill="#8ec85a"/><rect x="394.73" y="243.2" width="0.93" height="10.6" fill="#d0b0e0"/><rect x="395.51" y="243.2" width="1.8" height="10.6" fill="#c8a0a0"/><rect x="397.16" y="243.2" width="2.19" height="10.6" fill="#c8a0a0"/><rect x="399.2" y="243.2" width="1.65" height="10.6" fill="#c8a0a0"/><rect x="400.71" y="243.2" width="2.33" height="10.6" fill="#e6a58a"/><rect x="402.89" y="243.2" width="2.15" height="10.6" fill="#c8a0a0"/><rect x="404.89" y="243.2" width="1.82" height="10.6" fill="#c8a0a0"/><rect x="406.55" y="243.2" width="0.8" height="10.6" fill="#9a80c0"/><rect x="407.2" y="243.2" width="2.32" height="10.6" fill="#f0a070"/><rect x="409.37" y="243.2" width="2.12" height="10.6" fill="#1db954"/><rect x="411.34" y="243.2" width="1.58" height="10.6" fill="#c8a0a0"/><rect x="412.77" y="243.2" width="1.59" height="10.6" fill="#e6a58a"/><rect x="414.22" y="243.2" width="1.59" height="10.6" fill="#a8a0d0"/><rect x="415.66" y="243.2" width="1.55" height="10.6" fill="#e6a58a"/><rect x="417.06" y="243.2" width="1.88" height="10.6" fill="#a8a0d0"/><rect x="418.79" y="243.2" width="1.53" height="10.6" fill="#c8a0a0"/><rect x="420.16" y="243.2" width="1.53" height="10.6" fill="#9a80c0"/><rect x="421.54" y="243.2" width="2.31" height="10.6" fill="#9a80c0"/><rect x="423.7" y="243.2" width="0.97" height="10.6" fill="#e6a58a"/><rect x="424.52" y="243.2" width="1.29" height="10.6" fill="#f0a070"/><rect x="425.65" y="243.2" width="2.25" height="10.6" fill="#8ec85a"/><rect x="427.75" y="243.2" width="2.27" height="10.6" fill="#d0b0e0"/><rect x="429.87" y="243.2" width="2.12" height="10.6" fill="#d0b0e0"/><rect x="431.85" y="243.2" width="0.78" height="10.6" fill="#a8a0d0"/><rect x="432.48" y="243.2" width="1.7" height="10.6" fill="#f0a070"/><rect x="434.03" y="243.2" width="1.73" height="10.6" fill="#9a80c0"/><rect x="435.61" y="243.2" width="2.24" height="10.6" fill="#c8a0a0"/><rect x="437.7" y="243.2" width="1.58" height="10.6" fill="#8ec85a"/><rect x="439.13" y="243.2" width="0.8" height="10.6" fill="#c8a0a0"/><rect x="439.78" y="243.2" width="2.14" height="10.6" fill="#8ec85a"/><rect x="441.77" y="243.2" width="0.79" height="10.6" fill="#c8a0a0"/><rect x="442.41" y="243.2" width="2.08" height="10.6" fill="#f0a070"/><rect x="444.34" y="243.2" width="1.58" height="10.6" fill="#9a80c0"/><rect x="445.77" y="243.2" width="1.96" height="10.6" fill="#1db954"/><rect x="447.58" y="243.2" width="0.75" height="10.6" fill="#c8a0a0"/><rect x="448.18" y="243.2" width="2.02" height="10.6" fill="#8ec85a"/><rect x="450.05" y="243.2" width="2.08" height="10.6" fill="#a8a0d0"/><rect x="451.99" y="243.2" width="1.29" height="10.6" fill="#e6a58a"/><rect x="453.12" y="243.2" width="0.77" height="10.6" fill="#1db954"/><rect x="453.75" y="243.2" width="1.17" height="10.6" fill="#9a80c0"/><rect x="454.77" y="243.2" width="1.18" height="10.6" fill="#e6a58a"/>
<rect x="455.8" y="243.2" width="1.83" height="10.6" fill="#e6a58a"/><rect x="457.48" y="243.2" width="1.13" height="10.6" fill="#d04020"/><rect x="458.45" y="243.2" width="1.03" height="10.6" fill="#c8a0a0"/><rect x="459.34" y="243.2" width="1.16" height="10.6" fill="#a8a0d0"/><rect x="460.34" y="243.2" width="2" height="10.6" fill="#e6a58a"/><rect x="462.2" y="243.2" width="1.13" height="10.6" fill="#f0a070"/><rect x="463.18" y="243.2" width="1.17" height="10.6" fill="#a8a0d0"/><rect x="464.19" y="243.2" width="1.16" height="10.6" fill="#d04020"/><rect x="465.2" y="243.2" width="1.05" height="10.6" fill="#e6a58a"/><rect x="466.1" y="243.2" width="1.23" height="10.6" fill="#e6a58a"/><rect x="467.18" y="243.2" width="1.91" height="10.6" fill="#f0a070"/><rect x="468.94" y="243.2" width="2.01" height="10.6" fill="#a8a0d0"/><rect x="470.81" y="243.2" width="0.88" height="10.6" fill="#f0a070"/><rect x="471.53" y="243.2" width="1.14" height="10.6" fill="#c8a0a0"/><rect x="472.52" y="243.2" width="1.41" height="10.6" fill="#8ec85a"/><rect x="473.79" y="243.2" width="1.34" height="10.6" fill="#e6a58a"/><rect x="474.98" y="243.2" width="2.21" height="10.6" fill="#8ec85a"/><rect x="477.04" y="243.2" width="1.37" height="10.6" fill="#c8a0a0"/><rect x="478.26" y="243.2" width="2.01" height="10.6" fill="#1db954"/><rect x="480.12" y="243.2" width="1.29" height="10.6" fill="#1db954"/><rect x="481.26" y="243.2" width="1.36" height="10.6" fill="#e6a58a"/><rect x="482.47" y="243.2" width="1.7" height="10.6" fill="#f0a070"/><rect x="484.02" y="243.2" width="1.51" height="10.6" fill="#1db954"/><rect x="485.38" y="243.2" width="0.77" height="10.6" fill="#a8a0d0"/><rect x="486" y="243.2" width="1.36" height="10.6" fill="#c8a0a0"/><rect x="487.21" y="243.2" width="2.21" height="10.6" fill="#c8a0a0"/><rect x="489.27" y="243.2" width="1.08" height="10.6" fill="#d04020"/><rect x="490.2" y="243.2" width="2.29" height="10.6" fill="#8ec85a"/><rect x="492.34" y="243.2" width="1.3" height="10.6" fill="#8ec85a"/><rect x="493.48" y="243.2" width="0.98" height="10.6" fill="#f0a070"/><rect x="494.31" y="243.2" width="2.26" height="10.6" fill="#c8a0a0"/><rect x="496.42" y="243.2" width="0.97" height="10.6" fill="#f0a070"/><rect x="497.24" y="243.2" width="0.41" height="10.6" fill="#f0a070"/>
<rect x="52.3" y="254.6" width="12.7" height="8.7" fill="#d3d3d3"/>
<text x="58.65" y="261.4" font-size="5.6" text-anchor="middle" fill="#222" stroke="#222" stroke-width="0.15">6</text>
<rect x="65" y="254.6" width="50.4" height="8.7" fill="#d9ead0"/>
<text x="88.8" y="261.4" font-size="5.6" text-anchor="middle" fill="#222" stroke="#222" stroke-width="0.15">4</text>
<rect x="115.4" y="254.6" width="164.8" height="8.7" fill="#fff200"/>
<text x="197.8" y="261.4" font-size="5.6" text-anchor="middle" fill="#222" stroke="#222" stroke-width="0.15">1</text>
<rect x="280.2" y="254.6" width="106.6" height="8.7" fill="#1ec3f0"/>
<text x="333.5" y="261.4" font-size="5.6" text-anchor="middle" fill="#222" stroke="#222" stroke-width="0.15">2</text>
<rect x="386.8" y="254.6" width="69" height="8.7" fill="#66cc55"/>
<text x="421.3" y="261.4" font-size="5.6" text-anchor="middle" fill="#222" stroke="#222" stroke-width="0.15">3</text>
<rect x="455.8" y="254.6" width="41.7" height="8.7" fill="#f9a64a"/>
<text x="476.65" y="261.4" font-size="5.6" text-anchor="middle" fill="#222" stroke="#222" stroke-width="0.15">5</text>
<rect x="455.8" y="264" width="41.7" height="8.8" fill="#1eb0ea"/>
<text x="58.65" y="270.9" font-size="5.6" text-anchor="middle" fill="#222" stroke="#222" stroke-width="0.15">1</text>
<text x="88.8" y="270.9" font-size="5.6" text-anchor="middle" fill="#222" stroke="#222" stroke-width="0.15">1</text>
<text x="197.8" y="270.9" font-size="5.6" text-anchor="middle" fill="#222" stroke="#222" stroke-width="0.15">1</text>
<text x="333.5" y="270.9" font-size="5.6" text-anchor="middle" fill="#222" stroke="#222" stroke-width="0.15">1</text>
<text x="421.3" y="270.9" font-size="5.6" text-anchor="middle" fill="#222" stroke="#222" stroke-width="0.15">1</text>
<text x="476.65" y="270.9" font-size="5.6" text-anchor="middle" fill="#222" stroke="#222" stroke-width="0.15">2</text>
<rect x="52.3" y="274" width="12.7" height="8" fill="#fb0303"/>
<rect x="52.3" y="282" width="1.9" height="8" fill="#fb0303"/>
<rect x="55.5" y="282" width="0.8" height="8" fill="#fb0303"/>
<rect x="57" y="282" width="1" height="8" fill="#fb0303"/>
<rect x="59.5" y="282" width="1" height="8" fill="#fb0303"/>
<rect x="61.5" y="282" width="0.7" height="8" fill="#fb0303"/>
<rect x="55.6" y="290" width="2.9" height="4" fill="#f7a0a8"/>
<rect x="52.5" y="290" width="0.8" height="8.2" fill="#fb0303"/>
<rect x="80" y="274" width="27" height="8" fill="#fb0303"/>
<rect x="81" y="282" width="26" height="8" fill="#fb0303"/>
<rect x="82.5" y="290" width="24.5" height="8.2" fill="#fb0303"/>
<line x1="87" y1="274" x2="87" y2="298.2" stroke="#fbb" stroke-width="0.4"/>
<rect x="113.6" y="274" width="5.4" height="8" fill="#fb0303"/>
<rect x="114" y="282" width="1" height="8" fill="#fb0303"/>
<rect x="116.5" y="282" width="1" height="8" fill="#fb0303"/>
<rect x="125" y="274" width="5.6" height="8" fill="#fb0303"/>
<rect x="125" y="282" width="5.6" height="8" fill="#fb0303"/>
<rect x="141.8" y="274" width="0.8" height="16" fill="#fb0303"/>
<rect x="147.5" y="274" width="3.8" height="8" fill="#fb0303"/>
<rect x="157.5" y="274" width="2.5" height="8" fill="#fb0303"/>
<rect x="158" y="282" width="1" height="8" fill="#fb0303"/>
<rect x="160.8" y="274" width="41.7" height="8" fill="#fb0303"/>
<rect x="163" y="282" width="0.8" height="8" fill="#fb0303"/>
<rect x="205" y="274" width="0.8" height="16" fill="#fb0303"/>
<rect x="207.5" y="274" width="0.8" height="16" fill="#fb0303"/>
<rect x="210.2" y="274" width="0.8" height="16" fill="#fb0303"/>
<rect x="219.2" y="274" width="0.8" height="16" fill="#fb0303"/>
<rect x="238.8" y="274" width="10" height="8" fill="#fb0303"/>
<rect x="276" y="274" width="0.6" height="8" fill="#f77"/>
<rect x="280.2" y="274" width="106.6" height="8" fill="#fb0303"/>
<rect x="280.2" y="282" width="106.6" height="16.2" fill="#fb0303"/>
<rect x="294.7" y="286.45" width="1.04" height="13.42" fill="#f8b0b0" fill-opacity="0.8"/>
<rect x="297.28" y="287.53" width="0.42" height="8.66" fill="#f8b0b0" fill-opacity="0.8"/>
<rect x="301.75" y="285.89" width="1.12" height="5.13" fill="#f8b0b0" fill-opacity="0.8"/>
<rect x="291.32" y="283.48" width="0.84" height="9.74" fill="#f8b0b0" fill-opacity="0.8"/>
<rect x="281.29" y="283.3" width="0.62" height="13.16" fill="#f8b0b0" fill-opacity="0.8"/>
<rect x="297.85" y="282.96" width="1.04" height="5.39" fill="#f8b0b0" fill-opacity="0.8"/>
<rect x="294.58" y="282.76" width="0.4" height="12.71" fill="#f8b0b0" fill-opacity="0.8"/>
<rect x="285.61" y="283.29" width="1.19" height="12.72" fill="#f8b0b0" fill-opacity="0.8"/>
<rect x="287.36" y="287.77" width="0.83" height="10.78" fill="#f8b0b0" fill-opacity="0.8"/>
<rect x="285.51" y="287.65" width="0.95" height="13.67" fill="#f8b0b0" fill-opacity="0.8"/>
<rect x="300.66" y="283.79" width="0.69" height="5.66" fill="#f8b0b0" fill-opacity="0.8"/>
<rect x="284.21" y="282.39" width="0.64" height="10.03" fill="#f8b0b0" fill-opacity="0.8"/>
<rect x="281.07" y="286.07" width="0.67" height="7.1" fill="#f8b0b0" fill-opacity="0.8"/>
<rect x="299.01" y="284.88" width="0.65" height="8.81" fill="#f8b0b0" fill-opacity="0.8"/>
<rect x="296.5" y="282.34" width="1.18" height="4.23" fill="#f8b0b0" fill-opacity="0.8"/>
<rect x="297.5" y="287.07" width="0.41" height="11.88" fill="#f8b0b0" fill-opacity="0.8"/>
<rect x="289.06" y="285.47" width="0.41" height="4.47" fill="#f8b0b0" fill-opacity="0.8"/>
<rect x="284.98" y="287.73" width="0.56" height="11.56" fill="#f8b0b0" fill-opacity="0.8"/>
<rect x="301.45" y="287.65" width="0.68" height="7.55" fill="#f8b0b0" fill-opacity="0.8"/>
<rect x="292.54" y="286.65" width="0.49" height="11.48" fill="#f8b0b0" fill-opacity="0.8"/>
<rect x="298.54" y="287.16" width="0.43" height="13.46" fill="#f8b0b0" fill-opacity="0.8"/>
<rect x="283.01" y="284.04" width="0.89" height="13.18" fill="#f8b0b0" fill-opacity="0.8"/>
<rect x="362.24" y="287.55" width="0.84" height="5.87" fill="#f8b0b0" fill-opacity="0.8"/>
<rect x="361.4" y="283.06" width="0.46" height="4.89" fill="#f8b0b0" fill-opacity="0.8"/>
<rect x="374.81" y="287.98" width="0.53" height="4.29" fill="#f8b0b0" fill-opacity="0.8"/>
<rect x="385.52" y="285.2" width="0.72" height="5.42" fill="#f8b0b0" fill-opacity="0.8"/>
<rect x="371.38" y="286.96" width="0.76" height="6.53" fill="#f8b0b0" fill-opacity="0.8"/>
<rect x="352.01" y="287.5" width="0.43" height="6.96" fill="#f8b0b0" fill-opacity="0.8"/>
<rect x="355.5" y="282" width="0.7" height="16.2" fill="#fff"/>
<rect x="386.8" y="274" width="3.2" height="8" fill="#fb0303"/>
<rect x="392.5" y="274" width="47.5" height="8" fill="#fb0303"/>
<rect x="443.7" y="274" width="12.1" height="8" fill="#fb0303"/>
<rect x="394.8" y="282" width="0.7" height="8" fill="#fb0303"/>
<rect x="428.7" y="282" width="0.7" height="8" fill="#fb0303"/>
<rect x="455.8" y="274" width="41.7" height="8" fill="#fb0303"/>
<rect x="463.5" y="274" width="0.7" height="8" fill="#fff"/>
<rect x="466" y="274" width="0.7" height="8" fill="#fff"/>
<rect x="469.5" y="274" width="0.7" height="8" fill="#fff"/>
<rect x="473" y="274" width="0.7" height="8" fill="#fff"/>
<rect x="455.8" y="282" width="6.2" height="8" fill="#fb0303"/>
<rect x="457" y="282" width="1" height="9" fill="#f44"/>
<rect x="54.48" y="298.6" width="0.64" height="10" fill="#aaa"/><rect x="62.62" y="298.6" width="0.9" height="10" fill="#aaa"/><rect x="58.65" y="298.6" width="0.89" height="10" fill="#333"/><rect x="52.67" y="298.6" width="0.53" height="10" fill="#aaa"/><rect x="62.03" y="298.6" width="0.85" height="10" fill="#333"/><rect x="57.74" y="298.6" width="0.81" height="10" fill="#aaa"/>
<rect x="65.96" y="298.6" width="0.85" height="10" fill="#777"/><rect x="74.26" y="298.6" width="0.58" height="10" fill="#888"/><rect x="76.54" y="298.6" width="0.73" height="10" fill="#222"/><rect x="72.95" y="298.6" width="0.58" height="10" fill="#777"/><rect x="74.48" y="298.6" width="0.54" height="10" fill="#333"/>
<rect x="85.92" y="298.6" width="0.88" height="10" fill="#aaa"/><rect x="102.88" y="298.6" width="0.54" height="10" fill="#aaa"/><rect x="96.8" y="298.6" width="0.6" height="10" fill="#777"/><rect x="107.7" y="298.6" width="0.65" height="10" fill="#aaa"/><rect x="108.64" y="298.6" width="1" height="10" fill="#555"/><rect x="91.6" y="298.6" width="0.58" height="10" fill="#222"/><rect x="101.48" y="298.6" width="0.75" height="10" fill="#888"/><rect x="96.51" y="298.6" width="0.79" height="10" fill="#333"/><rect x="89.56" y="298.6" width="0.59" height="10" fill="#888"/>
<rect x="122.72" y="298.6" width="0.67" height="10" fill="#555"/><rect x="149.63" y="298.6" width="0.58" height="10" fill="#222"/><rect x="170.16" y="298.6" width="0.69" height="10" fill="#777"/><rect x="155.05" y="298.6" width="0.98" height="10" fill="#aaa"/><rect x="137.64" y="298.6" width="0.8" height="10" fill="#bbb"/><rect x="167.64" y="298.6" width="0.83" height="10" fill="#777"/><rect x="170.99" y="298.6" width="0.53" height="10" fill="#999"/><rect x="162.73" y="298.6" width="0.53" height="10" fill="#777"/><rect x="130.14" y="298.6" width="0.64" height="10" fill="#bbb"/><rect x="138.43" y="298.6" width="0.94" height="10" fill="#222"/><rect x="152.66" y="298.6" width="0.87" height="10" fill="#333"/><rect x="142.18" y="298.6" width="0.76" height="10" fill="#aaa"/><rect x="157.9" y="298.6" width="0.95" height="10" fill="#333"/><rect x="135.04" y="298.6" width="0.8" height="10" fill="#555"/><rect x="138.84" y="298.6" width="0.65" height="10" fill="#777"/><rect x="145.66" y="298.6" width="0.51" height="10" fill="#aaa"/><rect x="155.17" y="298.6" width="0.63" height="10" fill="#888"/><rect x="132.55" y="298.6" width="0.71" height="10" fill="#999"/><rect x="155.04" y="298.6" width="0.57" height="10" fill="#333"/><rect x="117.97" y="298.6" width="0.82" height="10" fill="#222"/><rect x="161.53" y="298.6" width="0.83" height="10" fill="#222"/><rect x="119.97" y="298.6" width="0.7" height="10" fill="#555"/><rect x="167.94" y="298.6" width="0.59" height="10" fill="#333"/><rect x="135.8" y="298.6" width="0.88" height="10" fill="#999"/>
<rect x="208.21" y="298.6" width="0.89" height="10" fill="#aaa"/><rect x="218.49" y="298.6" width="0.93" height="10" fill="#777"/><rect x="196.89" y="298.6" width="0.62" height="10" fill="#aaa"/><rect x="228.02" y="298.6" width="0.52" height="10" fill="#aaa"/><rect x="196.39" y="298.6" width="0.91" height="10" fill="#555"/><rect x="219.17" y="298.6" width="0.55" height="10" fill="#999"/><rect x="208.06" y="298.6" width="0.66" height="10" fill="#aaa"/><rect x="203.43" y="298.6" width="0.76" height="10" fill="#999"/><rect x="205.84" y="298.6" width="0.99" height="10" fill="#555"/><rect x="194.54" y="298.6" width="0.55" height="10" fill="#777"/><rect x="179.19" y="298.6" width="0.75" height="10" fill="#777"/><rect x="227.09" y="298.6" width="0.72" height="10" fill="#aaa"/><rect x="203.46" y="298.6" width="0.54" height="10" fill="#777"/><rect x="176.37" y="298.6" width="0.62" height="10" fill="#222"/><rect x="213.73" y="298.6" width="0.71" height="10" fill="#aaa"/><rect x="218.87" y="298.6" width="0.74" height="10" fill="#555"/><rect x="209.75" y="298.6" width="0.52" height="10" fill="#222"/><rect x="184.51" y="298.6" width="0.95" height="10" fill="#999"/><rect x="217.87" y="298.6" width="0.83" height="10" fill="#999"/><rect x="222.24" y="298.6" width="0.63" height="10" fill="#aaa"/><rect x="201.47" y="298.6" width="0.81" height="10" fill="#555"/><rect x="220.37" y="298.6" width="0.58" height="10" fill="#222"/>
<rect x="240.45" y="298.6" width="0.57" height="10" fill="#bbb"/><rect x="249.94" y="298.6" width="0.81" height="10" fill="#555"/><rect x="245.14" y="298.6" width="1" height="10" fill="#222"/><rect x="239.49" y="298.6" width="0.67" height="10" fill="#aaa"/><rect x="252.32" y="298.6" width="0.54" height="10" fill="#555"/><rect x="235.77" y="298.6" width="0.95" height="10" fill="#333"/><rect x="248.69" y="298.6" width="0.64" height="10" fill="#aaa"/><rect x="245.23" y="298.6" width="0.7" height="10" fill="#aaa"/><rect x="247.44" y="298.6" width="0.59" height="10" fill="#aaa"/><rect x="245.39" y="298.6" width="0.99" height="10" fill="#333"/>
<rect x="269.01" y="298.6" width="0.97" height="10" fill="#aaa"/><rect x="275.86" y="298.6" width="0.79" height="10" fill="#999"/><rect x="271.57" y="298.6" width="0.62" height="10" fill="#777"/><rect x="266.11" y="298.6" width="0.99" height="10" fill="#222"/><rect x="268.66" y="298.6" width="0.69" height="10" fill="#222"/><rect x="267.89" y="298.6" width="0.76" height="10" fill="#777"/><rect x="266.69" y="298.6" width="0.94" height="10" fill="#777"/>
<rect x="285.26" y="298.6" width="0.96" height="10" fill="#bbb"/><rect x="297.73" y="298.6" width="0.54" height="10" fill="#999"/><rect x="289" y="298.6" width="0.59" height="10" fill="#bbb"/><rect x="281.66" y="298.6" width="0.77" height="10" fill="#bbb"/><rect x="290.08" y="298.6" width="0.67" height="10" fill="#bbb"/>
<rect x="325.39" y="298.6" width="0.82" height="10" fill="#555"/><rect x="303.77" y="298.6" width="0.53" height="10" fill="#bbb"/><rect x="345.48" y="298.6" width="0.68" height="10" fill="#888"/><rect x="332.25" y="298.6" width="0.75" height="10" fill="#999"/><rect x="359.5" y="298.6" width="0.52" height="10" fill="#888"/><rect x="322.31" y="298.6" width="0.7" height="10" fill="#555"/><rect x="360.34" y="298.6" width="0.71" height="10" fill="#bbb"/><rect x="329.94" y="298.6" width="0.52" height="10" fill="#999"/><rect x="332.24" y="298.6" width="0.82" height="10" fill="#bbb"/><rect x="304.75" y="298.6" width="0.58" height="10" fill="#777"/><rect x="373.63" y="298.6" width="0.84" height="10" fill="#aaa"/><rect x="321.04" y="298.6" width="0.77" height="10" fill="#bbb"/><rect x="378.4" y="298.6" width="0.61" height="10" fill="#aaa"/>
<rect x="419.02" y="298.6" width="0.51" height="10" fill="#555"/><rect x="411.28" y="298.6" width="0.51" height="10" fill="#999"/><rect x="412.95" y="298.6" width="0.97" height="10" fill="#333"/><rect x="424" y="298.6" width="0.61" height="10" fill="#333"/><rect x="422.51" y="298.6" width="0.87" height="10" fill="#777"/><rect x="447.91" y="298.6" width="0.62" height="10" fill="#222"/><rect x="428.36" y="298.6" width="0.91" height="10" fill="#aaa"/><rect x="411.99" y="298.6" width="0.96" height="10" fill="#222"/><rect x="452.87" y="298.6" width="0.87" height="10" fill="#aaa"/><rect x="438.18" y="298.6" width="0.76" height="10" fill="#999"/><rect x="448.76" y="298.6" width="0.58" height="10" fill="#222"/><rect x="432.69" y="298.6" width="0.89" height="10" fill="#777"/><rect x="438.85" y="298.6" width="0.59" height="10" fill="#555"/><rect x="444.07" y="298.6" width="0.63" height="10" fill="#777"/><rect x="424.11" y="298.6" width="0.89" height="10" fill="#222"/><rect x="410.19" y="298.6" width="0.87" height="10" fill="#555"/><rect x="437.43" y="298.6" width="0.57" height="10" fill="#aaa"/><rect x="389.26" y="298.6" width="0.65" height="10" fill="#999"/><rect x="444.44" y="298.6" width="0.61" height="10" fill="#777"/><rect x="437.66" y="298.6" width="0.84" height="10" fill="#777"/><rect x="388.87" y="298.6" width="0.75" height="10" fill="#888"/><rect x="418.84" y="298.6" width="0.72" height="10" fill="#aaa"/><rect x="436.58" y="298.6" width="0.88" height="10" fill="#555"/><rect x="412.87" y="298.6" width="0.9" height="10" fill="#777"/><rect x="451.04" y="298.6" width="0.95" height="10" fill="#555"/><rect x="392.33" y="298.6" width="0.56" height="10" fill="#aaa"/><rect x="438.87" y="298.6" width="0.84" height="10" fill="#888"/><rect x="407.41" y="298.6" width="0.57" height="10" fill="#333"/><rect x="440.21" y="298.6" width="0.84" height="10" fill="#222"/><rect x="410.12" y="298.6" width="0.5" height="10" fill="#555"/>
<rect x="490.63" y="298.6" width="0.85" height="10" fill="#555"/><rect x="473.25" y="298.6" width="0.83" height="10" fill="#999"/><rect x="457.36" y="298.6" width="0.85" height="10" fill="#999"/><rect x="476.26" y="298.6" width="0.69" height="10" fill="#999"/><rect x="482.27" y="298.6" width="0.57" height="10" fill="#555"/><rect x="472.77" y="298.6" width="0.73" height="10" fill="#aaa"/><rect x="477.31" y="298.6" width="0.51" height="10" fill="#333"/><rect x="482.55" y="298.6" width="0.89" height="10" fill="#333"/><rect x="493.04" y="298.6" width="0.75" height="10" fill="#555"/><rect x="463.19" y="298.6" width="0.85" height="10" fill="#555"/><rect x="468.62" y="298.6" width="0.59" height="10" fill="#aaa"/><rect x="462.64" y="298.6" width="0.61" height="10" fill="#333"/><rect x="461.03" y="298.6" width="0.81" height="10" fill="#222"/><rect x="461.45" y="298.6" width="0.85" height="10" fill="#aaa"/><rect x="478.32" y="298.6" width="0.61" height="10" fill="#333"/><rect x="479.51" y="298.6" width="0.79" height="10" fill="#777"/>
<line x1="52.3" y1="209.5" x2="52.3" y2="311" stroke="#555" stroke-width="0.8"/>
<line x1="65" y1="209.5" x2="65" y2="311" stroke="#555" stroke-width="0.8"/>
<line x1="115.4" y1="209.5" x2="115.4" y2="311" stroke="#555" stroke-width="0.8"/>
<line x1="280.2" y1="209.5" x2="280.2" y2="311" stroke="#555" stroke-width="0.8"/>
<line x1="386.8" y1="209.5" x2="386.8" y2="311" stroke="#555" stroke-width="0.8"/>
<line x1="455.8" y1="209.5" x2="455.8" y2="311" stroke="#555" stroke-width="0.8"/>
<line x1="497.5" y1="209.5" x2="497.5" y2="311" stroke="#555" stroke-width="0.8"/>
<text x="47.3" y="219.35" font-size="6.2" text-anchor="end" stroke="#231f20" stroke-width="0.15" textLength="12.41" lengthAdjust="spacingAndGlyphs">PC 1</text>
<text x="47.3" y="229.75" font-size="6.2" text-anchor="end" stroke="#231f20" stroke-width="0.15" textLength="12.41" lengthAdjust="spacingAndGlyphs">PC 2</text>
<text x="47.3" y="240.2" font-size="6.2" text-anchor="end" stroke="#231f20" stroke-width="0.15" textLength="14.88" lengthAdjust="spacingAndGlyphs">Origin</text>
<text x="47.3" y="250.7" font-size="6.2" text-anchor="end" stroke="#231f20" stroke-width="0.15" textLength="20.16" lengthAdjust="spacingAndGlyphs">Disease</text>
<text x="47.3" y="261.15" font-size="6.2" text-anchor="end" stroke="#231f20" stroke-width="0.15" textLength="17.67" lengthAdjust="spacingAndGlyphs">Cluster</text>
<text x="47.3" y="270.6" font-size="6.2" text-anchor="end" stroke="#231f20" stroke-width="0.15" textLength="24.71" lengthAdjust="spacingAndGlyphs">EBV Type</text>
<text x="47.3" y="280.2" font-size="6.2" text-anchor="end" stroke="#231f20" stroke-width="0.15" textLength="29.63" lengthAdjust="spacingAndGlyphs">162215A&gt;C</text>
<text x="47.3" y="288.2" font-size="6.2" text-anchor="end" stroke="#231f20" stroke-width="0.15" textLength="29.32" lengthAdjust="spacingAndGlyphs">162476T&gt;C</text>
<text x="47.3" y="296.3" font-size="6.2" text-anchor="end" stroke="#231f20" stroke-width="0.15" textLength="29.32" lengthAdjust="spacingAndGlyphs">163364C&gt;T</text>
<text x="47.3" y="305.8" font-size="6.2" text-anchor="end" stroke="#231f20" stroke-width="0.15" textLength="10.23" lengthAdjust="spacingAndGlyphs">SVs</text>
<text x="42.6" y="321.7" font-size="6.2" text-anchor="end" stroke="#231f20" stroke-width="0.15" textLength="14.88" lengthAdjust="spacingAndGlyphs">Origin</text>
<rect x="53" y="315.5" width="6" height="8" fill="#1fb5e8"/>
<text x="61.2" y="321.7" font-size="6.2" stroke="#231f20" stroke-width="0.15" textLength="15.2" lengthAdjust="spacingAndGlyphs">Japan</text>
<rect x="88" y="315.5" width="6" height="8" fill="#fdbb10"/>
<text x="96.2" y="321.7" font-size="6.2" stroke="#231f20" stroke-width="0.15" textLength="14.58" lengthAdjust="spacingAndGlyphs">China</text>
<rect x="122.5" y="315.5" width="6" height="8" fill="#ee82ee"/>
<text x="130.7" y="321.7" font-size="6.2" stroke="#231f20" stroke-width="0.15" textLength="17.99" lengthAdjust="spacingAndGlyphs">Europe</text>
<rect x="160" y="315.5" width="6" height="8" fill="#2ee6d6"/>
<text x="168.2" y="321.7" font-size="6.2" stroke="#231f20" stroke-width="0.15" textLength="20.78" lengthAdjust="spacingAndGlyphs">Oceania</text>
<rect x="200" y="315.5" width="6" height="8" fill="#8a40b8"/>
<text x="208.2" y="321.7" font-size="6.2" stroke="#231f20" stroke-width="0.15" textLength="20.46" lengthAdjust="spacingAndGlyphs">America</text>
<rect x="240.5" y="315.5" width="6" height="8" fill="#ee1c24"/>
<text x="248.7" y="321.7" font-size="6.2" stroke="#231f20" stroke-width="0.15" textLength="14.26" lengthAdjust="spacingAndGlyphs">Africa</text>
<rect x="273.8" y="315.5" width="6" height="8" fill="#86cf5e"/>
<text x="282" y="321.7" font-size="6.2" stroke="#231f20" stroke-width="0.15" textLength="37.22" lengthAdjust="spacingAndGlyphs">Southeast Asia</text>
<rect x="331" y="315.5" width="6" height="8" fill="#2a8cc8"/>
<text x="339.2" y="321.7" font-size="6.2" stroke="#231f20" stroke-width="0.15" textLength="13.95" lengthAdjust="spacingAndGlyphs">Other</text>
<text x="42.6" y="337.2" font-size="6.2" text-anchor="end" stroke="#231f20" stroke-width="0.15" textLength="20.16" lengthAdjust="spacingAndGlyphs">Disease</text>
<rect x="53" y="331" width="6" height="8" fill="#1db954"/>
<text x="61.2" y="337.2" font-size="6.2" stroke="#231f20" stroke-width="0.15" textLength="18.92" lengthAdjust="spacingAndGlyphs">CAEBV</text>
<rect x="88" y="331" width="6" height="8" fill="#8a6cc0"/>
<text x="96.2" y="337.2" font-size="6.2" stroke="#231f20" stroke-width="0.15" textLength="6.83" lengthAdjust="spacingAndGlyphs">BL</text>
<rect x="122.5" y="331" width="6" height="8" fill="#c8b41e"/>
<text x="130.7" y="337.2" font-size="6.2" stroke="#231f20" stroke-width="0.15" textLength="14.26" lengthAdjust="spacingAndGlyphs">PTLD</text>
<rect x="160" y="331" width="6" height="8" fill="#f08a8a"/>
<text x="168.2" y="337.2" font-size="6.2" stroke="#231f20" stroke-width="0.15" textLength="7.13" lengthAdjust="spacingAndGlyphs">HL</text>
<rect x="189" y="331" width="6" height="8" fill="#1a9a1a"/>
<text x="197.2" y="337.2" font-size="6.2" stroke="#231f20" stroke-width="0.15" textLength="8.37" lengthAdjust="spacingAndGlyphs">GC</text>
<rect x="219" y="331" width="6" height="8" fill="#ee1122"/>
<text x="227.2" y="337.2" font-size="6.2" stroke="#231f20" stroke-width="0.15" textLength="17.99" lengthAdjust="spacingAndGlyphs">DLBCL</text>
<rect x="258.8" y="331" width="6" height="8" fill="#ff9020"/>
<text x="267" y="337.2" font-size="6.2" stroke="#231f20" stroke-width="0.15" textLength="14.58" lengthAdjust="spacingAndGlyphs">ENKL</text>
<rect x="295" y="331" width="6" height="8" fill="#1a30d8"/>
<text x="303.2" y="337.2" font-size="6.2" stroke="#231f20" stroke-width="0.15" textLength="11.78" lengthAdjust="spacingAndGlyphs">NPC</text>
<rect x="330" y="331" width="6" height="8" fill="#20b0e8"/>
<text x="338.2" y="337.2" font-size="6.2" stroke="#231f20" stroke-width="0.15" textLength="6.2" lengthAdjust="spacingAndGlyphs">IM</text>
<rect x="357.8" y="331" width="6" height="8" fill="#22ee66"/>
<text x="366" y="337.2" font-size="6.2" stroke="#231f20" stroke-width="0.15" textLength="11.78" lengthAdjust="spacingAndGlyphs">AITL</text>
<rect x="391" y="331" width="6" height="8" fill="#b0b0b0"/>
<text x="399.2" y="337.2" font-size="6.2" stroke="#231f20" stroke-width="0.15" textLength="11.16" lengthAdjust="spacingAndGlyphs">HLH</text>
<rect x="424.5" y="331" width="6" height="8" fill="#b8b8b8"/>
<text x="432.7" y="337.2" font-size="6.2" stroke="#231f20" stroke-width="0.15" textLength="13.95" lengthAdjust="spacingAndGlyphs">Other</text>
<rect x="461" y="331" width="6" height="8" fill="#f8a050"/>
<text x="469.2" y="337.2" font-size="6.2" stroke="#231f20" stroke-width="0.15" textLength="18.92" lengthAdjust="spacingAndGlyphs">Healthy</text>
<text x="7.2" y="366.3" font-size="11.6" fill="#000" font-weight="bold">C</text>
<text x="128" y="374.3" font-size="6.2" text-anchor="middle" stroke="#231f20" stroke-width="0.15" textLength="41.5" lengthAdjust="spacingAndGlyphs">Type 2 frequency</text>
<text x="29" y="383" font-size="6" stroke="#231f20" stroke-width="0.15" textLength="19.5" lengthAdjust="spacingAndGlyphs">Disease</text>
<text x="55.8" y="383" font-size="6" stroke="#231f20" stroke-width="0.15" textLength="22" lengthAdjust="spacingAndGlyphs">Cell type</text>
<text x="89.6" y="383" font-size="6" text-anchor="middle" stroke="#231f20" stroke-width="0.15" textLength="15.82" lengthAdjust="spacingAndGlyphs">0.00%</text>
<text x="114.3" y="383" font-size="6" text-anchor="middle" stroke="#231f20" stroke-width="0.15" textLength="18.92" lengthAdjust="spacingAndGlyphs">10.00%</text>
<text x="139" y="383" font-size="6" text-anchor="middle" stroke="#231f20" stroke-width="0.15" textLength="18.92" lengthAdjust="spacingAndGlyphs">20.00%</text>
<text x="163.7" y="383" font-size="6" text-anchor="middle" stroke="#231f20" stroke-width="0.15" textLength="18.92" lengthAdjust="spacingAndGlyphs">30.00%</text>
<line x1="89.2" y1="389.2" x2="166" y2="389.2" stroke="#000" stroke-width="0.9"/>
<line x1="89.6" y1="387.6" x2="89.6" y2="389.2" stroke="#000" stroke-width="0.7"/>
<line x1="114.3" y1="387.6" x2="114.3" y2="389.2" stroke="#000" stroke-width="0.7"/>
<line x1="139" y1="387.6" x2="139" y2="389.2" stroke="#000" stroke-width="0.7"/>
<line x1="163.7" y1="387.6" x2="163.7" y2="389.2" stroke="#000" stroke-width="0.7"/>
<line x1="89.6" y1="388.8" x2="89.6" y2="491.5" stroke="#000" stroke-width="0.9"/>
<text x="54.8" y="395.5" font-size="6" text-anchor="end" stroke="#231f20" stroke-width="0.15" textLength="30.08" lengthAdjust="spacingAndGlyphs">Endemic BL</text>
<text x="67.2" y="395.5" font-size="6" text-anchor="middle" stroke="#231f20" stroke-width="0.15" textLength="3.72" lengthAdjust="spacingAndGlyphs">B</text>
<rect x="90" y="392" width="63" height="4.7" fill="#9b84bd"/>
<line x1="87.8" y1="398.95" x2="89.6" y2="398.95" stroke="#000" stroke-width="0.6"/>
<text x="54.8" y="404.6" font-size="6" text-anchor="end" stroke="#231f20" stroke-width="0.15" textLength="17.99" lengthAdjust="spacingAndGlyphs">DLBCL</text>
<text x="67.2" y="404.6" font-size="6" text-anchor="middle" stroke="#231f20" stroke-width="0.15" textLength="3.72" lengthAdjust="spacingAndGlyphs">B</text>
<rect x="90" y="401.1" width="50" height="4.7" fill="#ee1c25"/>
<line x1="87.8" y1="408.05" x2="89.6" y2="408.05" stroke="#000" stroke-width="0.6"/>
<text x="54.8" y="413.7" font-size="6" text-anchor="end" stroke="#231f20" stroke-width="0.15" textLength="14.26" lengthAdjust="spacingAndGlyphs">PTLD</text>
<text x="67.2" y="413.7" font-size="6" text-anchor="middle" stroke="#231f20" stroke-width="0.15" textLength="3.72" lengthAdjust="spacingAndGlyphs">B</text>
<rect x="90" y="410.2" width="32.7" height="4.7" fill="#c9b81a"/>
<line x1="87.8" y1="417.15" x2="89.6" y2="417.15" stroke="#000" stroke-width="0.6"/>
<text x="54.8" y="422.8" font-size="6" text-anchor="end" stroke="#231f20" stroke-width="0.15" textLength="41.56" lengthAdjust="spacingAndGlyphs">Non-endemic BL</text>
<text x="67.2" y="422.8" font-size="6" text-anchor="middle" stroke="#231f20" stroke-width="0.15" textLength="3.72" lengthAdjust="spacingAndGlyphs">B</text>
<rect x="90" y="419.3" width="29" height="4.7" fill="#9b84bd"/>
<line x1="87.8" y1="426.25" x2="89.6" y2="426.25" stroke="#000" stroke-width="0.6"/>
<text x="54.8" y="431.9" font-size="6" text-anchor="end" stroke="#231f20" stroke-width="0.15" textLength="7.13" lengthAdjust="spacingAndGlyphs">HL</text>
<text x="67.2" y="431.9" font-size="6" text-anchor="middle" stroke="#231f20" stroke-width="0.15" textLength="3.72" lengthAdjust="spacingAndGlyphs">B</text>
<rect x="90" y="428.4" width="20.4" height="4.7" fill="#f4989a"/>
<line x1="87.8" y1="435.35" x2="89.6" y2="435.35" stroke="#000" stroke-width="0.6"/>
<text x="54.8" y="441" font-size="6" text-anchor="end" stroke="#231f20" stroke-width="0.15" textLength="11.78" lengthAdjust="spacingAndGlyphs">AITL</text>
<text x="67.2" y="441" font-size="6" text-anchor="middle" stroke="#231f20" stroke-width="0.15" textLength="3.41" lengthAdjust="spacingAndGlyphs">T</text>
<rect x="90" y="437.5" width="14" height="4.7" fill="#2ee87c"/>
<line x1="87.8" y1="444.45" x2="89.6" y2="444.45" stroke="#000" stroke-width="0.6"/>
<text x="54.8" y="450.1" font-size="6" text-anchor="end" stroke="#231f20" stroke-width="0.15" textLength="11.78" lengthAdjust="spacingAndGlyphs">NPC</text>
<text x="67.2" y="450.1" font-size="6" text-anchor="middle" stroke="#231f20" stroke-width="0.15" textLength="8.06" lengthAdjust="spacingAndGlyphs">Epi</text>
<rect x="90" y="446.6" width="9.7" height="4.7" fill="#1932c8"/>
<line x1="87.8" y1="453.55" x2="89.6" y2="453.55" stroke="#000" stroke-width="0.6"/>
<text x="54.8" y="459.2" font-size="6" text-anchor="end" stroke="#231f20" stroke-width="0.15" textLength="18.92" lengthAdjust="spacingAndGlyphs">CAEBV</text>
<text x="67.2" y="459.2" font-size="6" text-anchor="middle" stroke="#231f20" stroke-width="0.15" textLength="12.71" lengthAdjust="spacingAndGlyphs">T/NK</text>
<rect x="90" y="455.7" width="3.3" height="4.7" fill="#1fb34a"/>
<line x1="87.8" y1="462.65" x2="89.6" y2="462.65" stroke="#000" stroke-width="0.6"/>
<text x="54.8" y="468.3" font-size="6" text-anchor="end" stroke="#231f20" stroke-width="0.15" textLength="8.37" lengthAdjust="spacingAndGlyphs">GC</text>
<text x="67.2" y="468.3" font-size="6" text-anchor="middle" stroke="#231f20" stroke-width="0.15" textLength="8.06" lengthAdjust="spacingAndGlyphs">Epi</text>
<line x1="87.8" y1="471.75" x2="89.6" y2="471.75" stroke="#000" stroke-width="0.6"/>
<text x="54.8" y="477.4" font-size="6" text-anchor="end" stroke="#231f20" stroke-width="0.15" textLength="27.29" lengthAdjust="spacingAndGlyphs">ENKL/HLH</text>
<text x="67.2" y="477.4" font-size="6" text-anchor="middle" stroke="#231f20" stroke-width="0.15" textLength="12.71" lengthAdjust="spacingAndGlyphs">T/NK</text>
<line x1="87.8" y1="480.85" x2="89.6" y2="480.85" stroke="#000" stroke-width="0.6"/>
<text x="54.8" y="486.5" font-size="6" text-anchor="end" stroke="#231f20" stroke-width="0.15" textLength="6.2" lengthAdjust="spacingAndGlyphs">IM</text>
<text x="67.2" y="486.5" font-size="6" text-anchor="middle" stroke="#231f20" stroke-width="0.15" textLength="3.72" lengthAdjust="spacingAndGlyphs">B</text>
<line x1="87.8" y1="489.95" x2="89.6" y2="489.95" stroke="#000" stroke-width="0.6"/>
<line x1="154.6" y1="392.3" x2="154.6" y2="433.5" stroke="#888" stroke-width="0.6"/>
<line x1="154.6" y1="437" x2="154.6" y2="479.5" stroke="#888" stroke-width="0.6"/>
<path d="M158.3,416.7 H162.2 V465 H158.3" stroke="#888" stroke-width="0.6" fill="none"/>
<text x="164.2" y="443.2" font-size="5.5" fill="#333" stroke="#333" stroke-width="0.15">*</text>
<text x="189.6" y="366" font-size="11.6" fill="#000" font-weight="bold">D</text>
<path d="M190.8,474.6 L398.5,474.6 L294.65,370.75 Z" fill="#f5f5f5"/>
<defs><clipPath id="ldc"><path d="M190.8,190.8 L206.2,206.2 L190.8,206.2 Z M190.8,237.3 L206.2,237.3 L206.2,398.5 L190.8,398.5 Z M237.3,237.3 L398.5,398.5 L237.3,398.5 Z"/></clipPath></defs>
<g transform="matrix(0.5,0.5,0.5,-0.5,0,474.6)" clip-path="url(#ldc)">
<rect x="190.8" y="190.8" width="15.4" height="15.4" fill="#eef7fc"/>
<rect x="190.8" y="237.3" width="15.4" height="161.2" fill="#f3f8fb"/>
<rect x="237.3" y="237.3" width="161.2" height="161.2" fill="#fbf6f8"/>
<rect x="237.3" y="264.9" width="4.6" height="4.6" fill="#fac7cf" fill-opacity="0.31"/><rect x="237.3" y="283.3" width="4.6" height="4.6" fill="#f4b6c0" fill-opacity="0.28"/><rect x="237.3" y="287.9" width="4.6" height="4.6" fill="#f7a8b4" fill-opacity="0.28"/><rect x="237.3" y="306.3" width="4.6" height="4.6" fill="#f7a8b4" fill-opacity="0.33"/><rect x="237.3" y="315.5" width="4.6" height="4.6" fill="#fac7cf" fill-opacity="0.41"/><rect x="237.3" y="343.1" width="4.6" height="4.6" fill="#f4b6c0" fill-opacity="0.38"/><rect x="237.3" y="356.9" width="4.6" height="4.6" fill="#f4b6c0" fill-opacity="0.25"/><rect x="237.3" y="389.1" width="4.6" height="4.6" fill="#f4b6c0" fill-opacity="0.26"/><rect x="237.3" y="393.7" width="4.6" height="4.6" fill="#f29aa8" fill-opacity="0.29"/><rect x="241.9" y="269.5" width="4.6" height="4.6" fill="#fac7cf" fill-opacity="0.28"/><rect x="241.9" y="283.3" width="4.6" height="4.6" fill="#fac7cf" fill-opacity="0.35"/><rect x="241.9" y="306.3" width="4.6" height="4.6" fill="#fac7cf" fill-opacity="0.18"/><rect x="241.9" y="320.1" width="4.6" height="4.6" fill="#f29aa8" fill-opacity="0.38"/><rect x="241.9" y="338.5" width="4.6" height="4.6" fill="#f4b6c0" fill-opacity="0.34"/><rect x="241.9" y="352.3" width="4.6" height="4.6" fill="#f4b6c0" fill-opacity="0.32"/><rect x="241.9" y="370.7" width="4.6" height="4.6" fill="#fac7cf" fill-opacity="0.37"/><rect x="241.9" y="389.1" width="4.6" height="4.6" fill="#fac7cf" fill-opacity="0.34"/><rect x="246.5" y="264.9" width="4.6" height="4.6" fill="#f4b6c0" fill-opacity="0.2"/><rect x="246.5" y="269.5" width="4.6" height="4.6" fill="#f4b6c0" fill-opacity="0.4"/><rect x="246.5" y="278.7" width="4.6" height="4.6" fill="#fac7cf" fill-opacity="0.28"/><rect x="246.5" y="352.3" width="4.6" height="4.6" fill="#f4b6c0" fill-opacity="0.3"/><rect x="246.5" y="361.5" width="4.6" height="4.6" fill="#f7a8b4" fill-opacity="0.45"/><rect x="246.5" y="366.1" width="4.6" height="4.6" fill="#f7a8b4" fill-opacity="0.32"/><rect x="246.5" y="379.9" width="4.6" height="4.6" fill="#f29aa8" fill-opacity="0.31"/><rect x="246.5" y="384.5" width="4.6" height="4.6" fill="#fac7cf" fill-opacity="0.31"/><rect x="246.5" y="398.3" width="4.6" height="4.6" fill="#f29aa8" fill-opacity="0.35"/><rect x="251.1" y="338.5" width="4.6" height="4.6" fill="#fac7cf" fill-opacity="0.47"/><rect x="251.1" y="347.7" width="4.6" height="4.6" fill="#fac7cf" fill-opacity="0.31"/><rect x="251.1" y="370.7" width="4.6" height="4.6" fill="#f29aa8" fill-opacity="0.35"/><rect x="251.1" y="379.9" width="4.6" height="4.6" fill="#fac7cf" fill-opacity="0.41"/><rect x="255.7" y="301.7" width="4.6" height="4.6" fill="#f29aa8" fill-opacity="0.18"/><rect x="255.7" y="343.1" width="4.6" height="4.6" fill="#f29aa8" fill-opacity="0.44"/><rect x="255.7" y="356.9" width="4.6" height="4.6" fill="#fac7cf" fill-opacity="0.33"/><rect x="255.7" y="361.5" width="4.6" height="4.6" fill="#f29aa8" fill-opacity="0.58"/><rect x="255.7" y="366.1" width="4.6" height="4.6" fill="#f7a8b4" fill-opacity="0.53"/><rect x="255.7" y="375.3" width="4.6" height="4.6" fill="#f4b6c0" fill-opacity="0.32"/><rect x="260.3" y="292.5" width="4.6" height="4.6" fill="#f7a8b4" fill-opacity="0.39"/><rect x="260.3" y="333.9" width="4.6" height="4.6" fill="#fac7cf" fill-opacity="0.4"/><rect x="260.3" y="347.7" width="4.6" height="4.6" fill="#f29aa8" fill-opacity="0.49"/><rect x="260.3" y="361.5" width="4.6" height="4.6" fill="#f4b6c0" fill-opacity="0.56"/><rect x="260.3" y="366.1" width="4.6" height="4.6" fill="#f7a8b4" fill-opacity="0.48"/><rect x="260.3" y="389.1" width="4.6" height="4.6" fill="#f7a8b4" fill-opacity="0.29"/><rect x="260.3" y="398.3" width="4.6" height="4.6" fill="#f29aa8" fill-opacity="0.38"/><rect x="264.9" y="283.3" width="4.6" height="4.6" fill="#f4b6c0" fill-opacity="0.32"/><rect x="264.9" y="292.5" width="4.6" height="4.6" fill="#f29aa8" fill-opacity="0.18"/><rect x="264.9" y="366.1" width="4.6" height="4.6" fill="#f4b6c0" fill-opacity="0.51"/><rect x="264.9" y="375.3" width="4.6" height="4.6" fill="#f29aa8" fill-opacity="0.34"/><rect x="264.9" y="379.9" width="4.6" height="4.6" fill="#f29aa8" fill-opacity="0.49"/><rect x="264.9" y="384.5" width="4.6" height="4.6" fill="#f7a8b4" fill-opacity="0.48"/><rect x="264.9" y="393.7" width="4.6" height="4.6" fill="#fac7cf" fill-opacity="0.46"/><rect x="264.9" y="398.3" width="4.6" height="4.6" fill="#f29aa8" fill-opacity="0.49"/><rect x="269.5" y="329.3" width="4.6" height="4.6" fill="#fac7cf" fill-opacity="0.31"/><rect x="269.5" y="333.9" width="4.6" height="4.6" fill="#f29aa8" fill-opacity="0.4"/><rect x="269.5" y="343.1" width="4.6" height="4.6" fill="#fac7cf" fill-opacity="0.42"/><rect x="269.5" y="347.7" width="4.6" height="4.6" fill="#f4b6c0" fill-opacity="0.3"/><rect x="269.5" y="356.9" width="4.6" height="4.6" fill="#f7a8b4" fill-opacity="0.4"/><rect x="269.5" y="366.1" width="4.6" height="4.6" fill="#f29aa8" fill-opacity="0.58"/><rect x="269.5" y="384.5" width="4.6" height="4.6" fill="#f29aa8" fill-opacity="0.45"/><rect x="269.5" y="393.7" width="4.6" height="4.6" fill="#f4b6c0" fill-opacity="0.27"/><rect x="274.1" y="287.9" width="4.6" height="4.6" fill="#f7a8b4" fill-opacity="0.43"/><rect x="274.1" y="297.1" width="4.6" height="4.6" fill="#f7a8b4" fill-opacity="0.41"/><rect x="274.1" y="310.9" width="4.6" height="4.6" fill="#f29aa8" fill-opacity="0.45"/><rect x="274.1" y="324.7" width="4.6" height="4.6" fill="#f4b6c0" fill-opacity="0.36"/><rect x="274.1" y="338.5" width="4.6" height="4.6" fill="#fac7cf" fill-opacity="0.31"/><rect x="274.1" y="347.7" width="4.6" height="4.6" fill="#f29aa8" fill-opacity="0.36"/><rect x="274.1" y="352.3" width="4.6" height="4.6" fill="#fac7cf" fill-opacity="0.37"/><rect x="274.1" y="366.1" width="4.6" height="4.6" fill="#f4b6c0" fill-opacity="0.38"/><rect x="274.1" y="370.7" width="4.6" height="4.6" fill="#f29aa8" fill-opacity="0.43"/><rect x="274.1" y="375.3" width="4.6" height="4.6" fill="#f29aa8" fill-opacity="0.58"/><rect x="274.1" y="384.5" width="4.6" height="4.6" fill="#fac7cf" fill-opacity="0.56"/><rect x="274.1" y="398.3" width="4.6" height="4.6" fill="#f4b6c0" fill-opacity="0.49"/><rect x="278.7" y="301.7" width="4.6" height="4.6" fill="#f7a8b4" fill-opacity="0.19"/><rect x="278.7" y="320.1" width="4.6" height="4.6" fill="#f29aa8" fill-opacity="0.38"/><rect x="278.7" y="333.9" width="4.6" height="4.6" fill="#fac7cf" fill-opacity="0.32"/><rect x="278.7" y="338.5" width="4.6" height="4.6" fill="#fac7cf" fill-opacity="0.32"/><rect x="278.7" y="343.1" width="4.6" height="4.6" fill="#fac7cf" fill-opacity="0.36"/><rect x="278.7" y="352.3" width="4.6" height="4.6" fill="#fac7cf" fill-opacity="0.4"/><rect x="278.7" y="356.9" width="4.6" height="4.6" fill="#fac7cf" fill-opacity="0.4"/><rect x="278.7" y="361.5" width="4.6" height="4.6" fill="#f4b6c0" fill-opacity="0.51"/><rect x="278.7" y="366.1" width="4.6" height="4.6" fill="#f7a8b4" fill-opacity="0.62"/><rect x="278.7" y="370.7" width="4.6" height="4.6" fill="#f29aa8" fill-opacity="0.39"/><rect x="278.7" y="375.3" width="4.6" height="4.6" fill="#fac7cf" fill-opacity="0.47"/><rect x="278.7" y="379.9" width="4.6" height="4.6" fill="#f4b6c0" fill-opacity="0.4"/><rect x="278.7" y="398.3" width="4.6" height="4.6" fill="#f29aa8" fill-opacity="0.34"/><rect x="283.3" y="310.9" width="4.6" height="4.6" fill="#f29aa8" fill-opacity="0.4"/><rect x="283.3" y="324.7" width="4.6" height="4.6" fill="#f7a8b4" fill-opacity="0.36"/><rect x="283.3" y="352.3" width="4.6" height="4.6" fill="#f4b6c0" fill-opacity="0.34"/><rect x="283.3" y="356.9" width="4.6" height="4.6" fill="#f29aa8" fill-opacity="0.64"/><rect x="283.3" y="366.1" width="4.6" height="4.6" fill="#f4b6c0" fill-opacity="0.58"/><rect x="283.3" y="370.7" width="4.6" height="4.6" fill="#f7a8b4" fill-opacity="0.38"/><rect x="283.3" y="379.9" width="4.6" height="4.6" fill="#f7a8b4" fill-opacity="0.49"/><rect x="283.3" y="389.1" width="4.6" height="4.6" fill="#fac7cf" fill-opacity="0.53"/><rect x="283.3" y="393.7" width="4.6" height="4.6" fill="#f4b6c0" fill-opacity="0.5"/><rect x="287.9" y="338.5" width="4.6" height="4.6" fill="#fac7cf" fill-opacity="0.31"/><rect x="287.9" y="352.3" width="4.6" height="4.6" fill="#f29aa8" fill-opacity="0.36"/><rect x="287.9" y="356.9" width="4.6" height="4.6" fill="#f7a8b4" fill-opacity="0.42"/><rect x="287.9" y="361.5" width="4.6" height="4.6" fill="#fac7cf" fill-opacity="0.56"/><rect x="287.9" y="366.1" width="4.6" height="4.6" fill="#f29aa8" fill-opacity="0.47"/><rect x="287.9" y="370.7" width="4.6" height="4.6" fill="#f4b6c0" fill-opacity="0.4"/><rect x="287.9" y="375.3" width="4.6" height="4.6" fill="#f29aa8" fill-opacity="0.37"/><rect x="287.9" y="379.9" width="4.6" height="4.6" fill="#f29aa8" fill-opacity="0.46"/><rect x="287.9" y="389.1" width="4.6" height="4.6" fill="#f4b6c0" fill-opacity="0.56"/><rect x="287.9" y="393.7" width="4.6" height="4.6" fill="#fac7cf" fill-opacity="0.29"/><rect x="292.5" y="329.3" width="4.6" height="4.6" fill="#f29aa8" fill-opacity="0.49"/><rect x="292.5" y="338.5" width="4.6" height="4.6" fill="#f29aa8" fill-opacity="0.54"/><rect x="292.5" y="343.1" width="4.6" height="4.6" fill="#f29aa8" fill-opacity="0.49"/><rect x="292.5" y="347.7" width="4.6" height="4.6" fill="#fac7cf" fill-opacity="0.39"/><rect x="292.5" y="352.3" width="4.6" height="4.6" fill="#f29aa8" fill-opacity="0.53"/><rect x="292.5" y="356.9" width="4.6" height="4.6" fill="#f7a8b4" fill-opacity="0.61"/><rect x="292.5" y="366.1" width="4.6" height="4.6" fill="#f29aa8" fill-opacity="0.48"/><rect x="292.5" y="370.7" width="4.6" height="4.6" fill="#f7a8b4" fill-opacity="0.61"/><rect x="292.5" y="375.3" width="4.6" height="4.6" fill="#fac7cf" fill-opacity="0.46"/><rect x="292.5" y="384.5" width="4.6" height="4.6" fill="#fac7cf" fill-opacity="0.31"/><rect x="292.5" y="393.7" width="4.6" height="4.6" fill="#f29aa8" fill-opacity="0.55"/><rect x="297.1" y="356.9" width="4.6" height="4.6" fill="#f29aa8" fill-opacity="0.53"/><rect x="297.1" y="361.5" width="4.6" height="4.6" fill="#fac7cf" fill-opacity="0.37"/><rect x="297.1" y="366.1" width="4.6" height="4.6" fill="#f4b6c0" fill-opacity="0.62"/><rect x="297.1" y="370.7" width="4.6" height="4.6" fill="#fac7cf" fill-opacity="0.46"/><rect x="297.1" y="375.3" width="4.6" height="4.6" fill="#fac7cf" fill-opacity="0.54"/><rect x="297.1" y="379.9" width="4.6" height="4.6" fill="#f29aa8" fill-opacity="0.37"/><rect x="297.1" y="389.1" width="4.6" height="4.6" fill="#f4b6c0" fill-opacity="0.32"/><rect x="297.1" y="393.7" width="4.6" height="4.6" fill="#f29aa8" fill-opacity="0.4"/><rect x="301.7" y="338.5" width="4.6" height="4.6" fill="#f7a8b4" fill-opacity="0.29"/><rect x="301.7" y="343.1" width="4.6" height="4.6" fill="#f4b6c0" fill-opacity="0.37"/><rect x="301.7" y="356.9" width="4.6" height="4.6" fill="#f4b6c0" fill-opacity="0.43"/><rect x="301.7" y="361.5" width="4.6" height="4.6" fill="#f7a8b4" fill-opacity="0.42"/><rect x="301.7" y="366.1" width="4.6" height="4.6" fill="#fac7cf" fill-opacity="0.51"/><rect x="301.7" y="370.7" width="4.6" height="4.6" fill="#f4b6c0" fill-opacity="0.47"/><rect x="301.7" y="375.3" width="4.6" height="4.6" fill="#f29aa8" fill-opacity="0.57"/><rect x="301.7" y="379.9" width="4.6" height="4.6" fill="#fac7cf" fill-opacity="0.42"/><rect x="301.7" y="393.7" width="4.6" height="4.6" fill="#f29aa8" fill-opacity="0.25"/><rect x="306.3" y="324.7" width="4.6" height="4.6" fill="#f29aa8" fill-opacity="0.47"/><rect x="306.3" y="333.9" width="4.6" height="4.6" fill="#f4b6c0" fill-opacity="0.25"/><rect x="306.3" y="338.5" width="4.6" height="4.6" fill="#f7a8b4" fill-opacity="0.52"/><rect x="306.3" y="361.5" width="4.6" height="4.6" fill="#f7a8b4" fill-opacity="0.47"/><rect x="306.3" y="366.1" width="4.6" height="4.6" fill="#f7a8b4" fill-opacity="0.36"/><rect x="306.3" y="375.3" width="4.6" height="4.6" fill="#fac7cf" fill-opacity="0.33"/><rect x="306.3" y="384.5" width="4.6" height="4.6" fill="#f7a8b4" fill-opacity="0.49"/><rect x="306.3" y="389.1" width="4.6" height="4.6" fill="#f4b6c0" fill-opacity="0.4"/><rect x="306.3" y="398.3" width="4.6" height="4.6" fill="#f7a8b4" fill-opacity="0.4"/><rect x="310.9" y="333.9" width="4.6" height="4.6" fill="#f4b6c0" fill-opacity="0.31"/><rect x="310.9" y="343.1" width="4.6" height="4.6" fill="#f29aa8" fill-opacity="0.31"/><rect x="310.9" y="352.3" width="4.6" height="4.6" fill="#f29aa8" fill-opacity="0.27"/><rect x="310.9" y="366.1" width="4.6" height="4.6" fill="#f29aa8" fill-opacity="0.37"/><rect x="310.9" y="375.3" width="4.6" height="4.6" fill="#fac7cf" fill-opacity="0.29"/><rect x="310.9" y="384.5" width="4.6" height="4.6" fill="#f7a8b4" fill-opacity="0.37"/><rect x="315.5" y="329.3" width="4.6" height="4.6" fill="#fac7cf" fill-opacity="0.48"/><rect x="315.5" y="338.5" width="4.6" height="4.6" fill="#fac7cf" fill-opacity="0.36"/><rect x="315.5" y="347.7" width="4.6" height="4.6" fill="#f29aa8" fill-opacity="0.53"/><rect x="315.5" y="361.5" width="4.6" height="4.6" fill="#f7a8b4" fill-opacity="0.55"/><rect x="315.5" y="370.7" width="4.6" height="4.6" fill="#f4b6c0" fill-opacity="0.39"/><rect x="315.5" y="375.3" width="4.6" height="4.6" fill="#f29aa8" fill-opacity="0.44"/><rect x="315.5" y="379.9" width="4.6" height="4.6" fill="#f29aa8" fill-opacity="0.27"/><rect x="315.5" y="393.7" width="4.6" height="4.6" fill="#f7a8b4" fill-opacity="0.25"/><rect x="320.1" y="338.5" width="4.6" height="4.6" fill="#f29aa8" fill-opacity="0.49"/><rect x="320.1" y="343.1" width="4.6" height="4.6" fill="#f29aa8" fill-opacity="0.42"/><rect x="320.1" y="361.5" width="4.6" height="4.6" fill="#f7a8b4" fill-opacity="0.28"/><rect x="320.1" y="366.1" width="4.6" height="4.6" fill="#f7a8b4" fill-opacity="0.56"/><rect x="320.1" y="379.9" width="4.6" height="4.6" fill="#fac7cf" fill-opacity="0.47"/><rect x="320.1" y="393.7" width="4.6" height="4.6" fill="#fac7cf" fill-opacity="0.35"/><rect x="324.7" y="361.5" width="4.6" height="4.6" fill="#f29aa8" fill-opacity="0.43"/><rect x="324.7" y="366.1" width="4.6" height="4.6" fill="#f7a8b4" fill-opacity="0.27"/><rect x="324.7" y="375.3" width="4.6" height="4.6" fill="#f7a8b4" fill-opacity="0.3"/><rect x="324.7" y="389.1" width="4.6" height="4.6" fill="#f7a8b4" fill-opacity="0.5"/><rect x="324.7" y="393.7" width="4.6" height="4.6" fill="#fac7cf" fill-opacity="0.42"/><rect x="329.3" y="366.1" width="4.6" height="4.6" fill="#f7a8b4" fill-opacity="0.49"/><rect x="329.3" y="389.1" width="4.6" height="4.6" fill="#f29aa8" fill-opacity="0.33"/><rect x="329.3" y="393.7" width="4.6" height="4.6" fill="#f7a8b4" fill-opacity="0.34"/><rect x="333.9" y="366.1" width="4.6" height="4.6" fill="#fac7cf" fill-opacity="0.32"/><rect x="333.9" y="389.1" width="4.6" height="4.6" fill="#f7a8b4" fill-opacity="0.32"/><rect x="338.5" y="352.3" width="4.6" height="4.6" fill="#f7a8b4" fill-opacity="0.32"/><rect x="338.5" y="361.5" width="4.6" height="4.6" fill="#f7a8b4" fill-opacity="0.23"/><rect x="338.5" y="379.9" width="4.6" height="4.6" fill="#f29aa8" fill-opacity="0.23"/><rect x="343.1" y="361.5" width="4.6" height="4.6" fill="#fac7cf" fill-opacity="0.44"/><rect x="343.1" y="389.1" width="4.6" height="4.6" fill="#fac7cf" fill-opacity="0.25"/><rect x="347.7" y="398.3" width="4.6" height="4.6" fill="#f4b6c0" fill-opacity="0.3"/><rect x="352.3" y="375.3" width="4.6" height="4.6" fill="#f7a8b4" fill-opacity="0.25"/><rect x="352.3" y="379.9" width="4.6" height="4.6" fill="#f4b6c0" fill-opacity="0.34"/><rect x="356.9" y="384.5" width="4.6" height="4.6" fill="#fac7cf" fill-opacity="0.33"/><rect x="361.5" y="398.3" width="4.6" height="4.6" fill="#fac7cf" fill-opacity="0.25"/><rect x="370.7" y="384.5" width="4.6" height="4.6" fill="#f29aa8" fill-opacity="0.18"/><rect x="190.8" y="237.3" width="4.6" height="4.6" fill="#f6b0bb" fill-opacity="0.34"/><rect x="190.8" y="246.5" width="1.07" height="4.6" fill="#2aa6dc" fill-opacity="0.42"/><rect x="190.8" y="260.3" width="2.46" height="4.6" fill="#2aa6dc" fill-opacity="0.48"/><rect x="190.8" y="264.9" width="1.56" height="4.6" fill="#2aa6dc" fill-opacity="0.19"/><rect x="190.8" y="269.5" width="4.6" height="4.6" fill="#f6b0bb" fill-opacity="0.29"/><rect x="190.8" y="274.1" width="3.78" height="4.6" fill="#2aa6dc" fill-opacity="0.2"/><rect x="190.8" y="278.7" width="4.6" height="4.6" fill="#f6b0bb" fill-opacity="0.19"/><rect x="190.8" y="287.9" width="3.06" height="4.6" fill="#2aa6dc" fill-opacity="0.47"/><rect x="190.8" y="297.1" width="4.6" height="4.6" fill="#f6b0bb" fill-opacity="0.24"/><rect x="190.8" y="301.7" width="4.6" height="4.6" fill="#f6b0bb" fill-opacity="0.19"/><rect x="190.8" y="306.3" width="4.6" height="4.6" fill="#f6b0bb" fill-opacity="0.25"/><rect x="190.8" y="324.7" width="4.01" height="4.6" fill="#2aa6dc" fill-opacity="0.17"/><rect x="190.8" y="333.9" width="3.19" height="4.6" fill="#2aa6dc" fill-opacity="0.37"/><rect x="190.8" y="338.5" width="4.6" height="4.6" fill="#f6b0bb" fill-opacity="0.33"/><rect x="190.8" y="370.7" width="4.6" height="4.6" fill="#f6b0bb" fill-opacity="0.27"/><rect x="190.8" y="379.9" width="4.6" height="4.6" fill="#f6b0bb" fill-opacity="0.38"/><rect x="190.8" y="384.5" width="4.6" height="4.6" fill="#f6b0bb" fill-opacity="0.24"/><rect x="190.8" y="389.1" width="4.6" height="4.6" fill="#f6b0bb" fill-opacity="0.39"/><rect x="190.8" y="398.3" width="4.6" height="4.6" fill="#f6b0bb" fill-opacity="0.37"/><rect x="195.4" y="251.1" width="2.4" height="4.6" fill="#2aa6dc" fill-opacity="0.31"/><rect x="195.4" y="269.5" width="1.9" height="4.6" fill="#2aa6dc" fill-opacity="0.29"/><rect x="195.4" y="274.1" width="2.81" height="4.6" fill="#2aa6dc" fill-opacity="0.21"/><rect x="195.4" y="278.7" width="4.6" height="4.6" fill="#f6b0bb" fill-opacity="0.4"/><rect x="195.4" y="283.3" width="2.61" height="4.6" fill="#2aa6dc" fill-opacity="0.37"/><rect x="195.4" y="301.7" width="1.24" height="4.6" fill="#2aa6dc" fill-opacity="0.28"/><rect x="195.4" y="306.3" width="3.89" height="4.6" fill="#2aa6dc" fill-opacity="0.33"/><rect x="195.4" y="315.5" width="4.6" height="4.6" fill="#f6b0bb" fill-opacity="0.18"/><rect x="195.4" y="324.7" width="3.59" height="4.6" fill="#2aa6dc" fill-opacity="0.18"/><rect x="195.4" y="347.7" width="4.6" height="4.6" fill="#f6b0bb" fill-opacity="0.17"/><rect x="195.4" y="361.5" width="4.6" height="4.6" fill="#f6b0bb" fill-opacity="0.18"/><rect x="195.4" y="370.7" width="3.92" height="4.6" fill="#2aa6dc" fill-opacity="0.43"/><rect x="195.4" y="384.5" width="4" height="4.6" fill="#2aa6dc" fill-opacity="0.36"/><rect x="195.4" y="389.1" width="2.17" height="4.6" fill="#2aa6dc" fill-opacity="0.36"/><rect x="195.4" y="398.3" width="1.91" height="4.6" fill="#2aa6dc" fill-opacity="0.49"/><rect x="200" y="237.3" width="3.13" height="4.6" fill="#2aa6dc" fill-opacity="0.37"/><rect x="200" y="241.9" width="2.34" height="4.6" fill="#2aa6dc" fill-opacity="0.22"/><rect x="200" y="246.5" width="3.29" height="4.6" fill="#2aa6dc" fill-opacity="0.25"/><rect x="200" y="251.1" width="2.36" height="4.6" fill="#2aa6dc" fill-opacity="0.43"/><rect x="200" y="255.7" width="3.77" height="4.6" fill="#2aa6dc" fill-opacity="0.17"/><rect x="200" y="269.5" width="2.88" height="4.6" fill="#2aa6dc" fill-opacity="0.39"/><rect x="200" y="278.7" width="2.93" height="4.6" fill="#2aa6dc" fill-opacity="0.45"/><rect x="200" y="287.9" width="2.35" height="4.6" fill="#2aa6dc" fill-opacity="0.28"/><rect x="200" y="292.5" width="4.6" height="4.6" fill="#f6b0bb" fill-opacity="0.23"/><rect x="200" y="297.1" width="4.6" height="4.6" fill="#f6b0bb" fill-opacity="0.21"/><rect x="200" y="310.9" width="2.86" height="4.6" fill="#2aa6dc" fill-opacity="0.26"/><rect x="200" y="343.1" width="2.05" height="4.6" fill="#2aa6dc" fill-opacity="0.37"/><rect x="200" y="347.7" width="2.31" height="4.6" fill="#2aa6dc" fill-opacity="0.17"/><rect x="200" y="352.3" width="3.21" height="4.6" fill="#2aa6dc" fill-opacity="0.17"/><rect x="200" y="356.9" width="4.6" height="4.6" fill="#f6b0bb" fill-opacity="0.29"/><rect x="200" y="361.5" width="2.88" height="4.6" fill="#2aa6dc" fill-opacity="0.34"/><rect x="200" y="366.1" width="2.08" height="4.6" fill="#2aa6dc" fill-opacity="0.2"/><rect x="200" y="370.7" width="3.98" height="4.6" fill="#2aa6dc" fill-opacity="0.21"/><rect x="200" y="375.3" width="4.6" height="4.6" fill="#f6b0bb" fill-opacity="0.35"/><rect x="200" y="384.5" width="1.23" height="4.6" fill="#2aa6dc" fill-opacity="0.2"/><rect x="200" y="393.7" width="3.92" height="4.6" fill="#2aa6dc" fill-opacity="0.49"/><rect x="200" y="398.3" width="4.6" height="4.6" fill="#f6b0bb" fill-opacity="0.36"/><rect x="204.6" y="255.7" width="2.77" height="4.6" fill="#2aa6dc" fill-opacity="0.21"/><rect x="204.6" y="260.3" width="4.6" height="4.6" fill="#f6b0bb" fill-opacity="0.17"/><rect x="204.6" y="264.9" width="4.6" height="4.6" fill="#f6b0bb" fill-opacity="0.2"/><rect x="204.6" y="269.5" width="4.6" height="4.6" fill="#f6b0bb" fill-opacity="0.38"/><rect x="204.6" y="274.1" width="4.6" height="4.6" fill="#f6b0bb" fill-opacity="0.3"/><rect x="204.6" y="283.3" width="4.6" height="4.6" fill="#f6b0bb" fill-opacity="0.25"/><rect x="204.6" y="287.9" width="3.31" height="4.6" fill="#2aa6dc" fill-opacity="0.38"/><rect x="204.6" y="292.5" width="3.21" height="4.6" fill="#2aa6dc" fill-opacity="0.33"/><rect x="204.6" y="297.1" width="4.6" height="4.6" fill="#f6b0bb" fill-opacity="0.31"/><rect x="204.6" y="310.9" width="2.94" height="4.6" fill="#2aa6dc" fill-opacity="0.28"/><rect x="204.6" y="315.5" width="4.28" height="4.6" fill="#2aa6dc" fill-opacity="0.18"/><rect x="204.6" y="324.7" width="4.6" height="4.6" fill="#f6b0bb" fill-opacity="0.4"/><rect x="204.6" y="329.3" width="3.32" height="4.6" fill="#2aa6dc" fill-opacity="0.19"/><rect x="204.6" y="347.7" width="1.19" height="4.6" fill="#2aa6dc" fill-opacity="0.37"/><rect x="204.6" y="370.7" width="4.34" height="4.6" fill="#2aa6dc" fill-opacity="0.46"/><rect x="204.6" y="375.3" width="4.6" height="4.6" fill="#f6b0bb" fill-opacity="0.28"/><rect x="204.6" y="379.9" width="4.6" height="4.6" fill="#f6b0bb" fill-opacity="0.38"/><rect x="204.6" y="389.1" width="1.57" height="4.6" fill="#2aa6dc" fill-opacity="0.47"/><rect x="204.6" y="393.7" width="4.6" height="4.6" fill="#f6b0bb" fill-opacity="0.25"/>
<rect x="192.35" y="192.35" width="1.4" height="25.83" fill="#1896d0" fill-opacity="0.85"/><rect x="192.35" y="218.18" width="1.4" height="15.37" fill="#1896d0" fill-opacity="0.65"/><rect x="192.35" y="233.55" width="1.4" height="12" fill="#1896d0" fill-opacity="0.69"/><rect x="192.35" y="251.57" width="1.4" height="7.76" fill="#1896d0" fill-opacity="0.34"/><rect x="192.35" y="259.33" width="1.4" height="28.15" fill="#1896d0" fill-opacity="0.36"/><rect x="192.35" y="287.48" width="1.4" height="4.75" fill="#1896d0" fill-opacity="0.74"/><rect x="192.35" y="292.23" width="1.4" height="20.48" fill="#1896d0" fill-opacity="0.77"/><rect x="192.35" y="312.71" width="1.4" height="5.71" fill="#1896d0" fill-opacity="0.51"/><rect x="192.35" y="343.68" width="1.4" height="27.17" fill="#1896d0" fill-opacity="0.85"/><rect x="190.8" y="192.35" width="9.35" height="1.4" fill="#1896d0" fill-opacity="0.25"/><rect x="194.69" y="194.69" width="1.37" height="20.42" fill="#1f9bd4" fill-opacity="0.33"/><rect x="194.69" y="221.65" width="1.37" height="9.33" fill="#1f9bd4" fill-opacity="0.55"/><rect x="194.69" y="230.98" width="1.37" height="4.54" fill="#1f9bd4" fill-opacity="0.46"/><rect x="194.69" y="235.52" width="1.37" height="22.61" fill="#1f9bd4" fill-opacity="0.48"/><rect x="194.69" y="258.13" width="1.37" height="29.06" fill="#1f9bd4" fill-opacity="0.84"/><rect x="194.69" y="287.2" width="1.37" height="20.08" fill="#1f9bd4" fill-opacity="0.54"/><rect x="194.69" y="322.62" width="1.37" height="13.02" fill="#1f9bd4" fill-opacity="0.63"/><rect x="194.69" y="351.63" width="1.37" height="8.43" fill="#1f9bd4" fill-opacity="0.4"/><rect x="194.69" y="383.88" width="1.37" height="4.11" fill="#1f9bd4" fill-opacity="0.6"/><rect x="194.69" y="387.99" width="1.37" height="24.72" fill="#1f9bd4" fill-opacity="0.6"/><rect x="190.8" y="194.69" width="25.63" height="1.37" fill="#1f9bd4" fill-opacity="0.78"/><rect x="196.07" y="196.07" width="0.95" height="6.86" fill="#35a8dc" fill-opacity="0.32"/><rect x="196.07" y="202.93" width="0.95" height="24.49" fill="#35a8dc" fill-opacity="0.8"/><rect x="196.07" y="227.41" width="0.95" height="20.33" fill="#35a8dc" fill-opacity="0.54"/><rect x="196.07" y="268.24" width="0.95" height="4.65" fill="#35a8dc" fill-opacity="0.44"/><rect x="196.07" y="272.89" width="0.95" height="27.43" fill="#35a8dc" fill-opacity="0.52"/><rect x="196.07" y="300.32" width="0.95" height="26.98" fill="#35a8dc" fill-opacity="0.58"/><rect x="196.07" y="345.13" width="0.95" height="23.58" fill="#35a8dc" fill-opacity="0.5"/><rect x="196.07" y="368.71" width="0.95" height="12.49" fill="#35a8dc" fill-opacity="0.84"/><rect x="196.07" y="381.2" width="0.95" height="21.21" fill="#35a8dc" fill-opacity="0.38"/><rect x="190.8" y="196.07" width="24.11" height="0.95" fill="#35a8dc" fill-opacity="0.3"/><rect x="197.75" y="208.71" width="1.42" height="25.49" fill="#35a8dc" fill-opacity="0.76"/><rect x="197.75" y="234.2" width="1.42" height="29.34" fill="#35a8dc" fill-opacity="0.67"/><rect x="197.75" y="263.54" width="1.42" height="13.06" fill="#35a8dc" fill-opacity="0.91"/><rect x="197.75" y="287.33" width="1.42" height="29.87" fill="#35a8dc" fill-opacity="0.71"/><rect x="197.75" y="317.2" width="1.42" height="9.08" fill="#35a8dc" fill-opacity="0.36"/><rect x="197.75" y="326.28" width="1.42" height="11.85" fill="#35a8dc" fill-opacity="0.45"/><rect x="197.75" y="356.28" width="1.42" height="16.06" fill="#35a8dc" fill-opacity="0.85"/><rect x="197.75" y="372.34" width="1.42" height="15.35" fill="#35a8dc" fill-opacity="0.93"/><rect x="197.75" y="387.69" width="1.42" height="11.7" fill="#35a8dc" fill-opacity="0.44"/><rect x="190.8" y="197.75" width="4.14" height="1.42" fill="#35a8dc" fill-opacity="0.72"/><rect x="194.94" y="197.75" width="22.23" height="1.42" fill="#35a8dc" fill-opacity="0.6"/><rect x="200.09" y="200.09" width="1.27" height="21.67" fill="#1896d0" fill-opacity="0.57"/><rect x="200.09" y="221.76" width="1.27" height="12.14" fill="#1896d0" fill-opacity="0.33"/><rect x="200.09" y="248.81" width="1.27" height="22.54" fill="#1896d0" fill-opacity="0.43"/><rect x="200.09" y="271.35" width="1.27" height="15.01" fill="#1896d0" fill-opacity="0.69"/><rect x="200.09" y="286.36" width="1.27" height="14.64" fill="#1896d0" fill-opacity="0.9"/><rect x="200.09" y="301.01" width="1.27" height="8.76" fill="#1896d0" fill-opacity="0.79"/><rect x="200.09" y="309.77" width="1.27" height="14.11" fill="#1896d0" fill-opacity="0.93"/><rect x="200.09" y="323.87" width="1.27" height="4.99" fill="#1896d0" fill-opacity="0.37"/><rect x="200.09" y="353.19" width="1.27" height="17.5" fill="#1896d0" fill-opacity="0.65"/><rect x="200.09" y="370.69" width="1.27" height="18.07" fill="#1896d0" fill-opacity="0.61"/><rect x="201.35" y="201.35" width="1.28" height="28.25" fill="#2aa0d6" fill-opacity="0.68"/><rect x="201.35" y="229.6" width="1.28" height="20.58" fill="#2aa0d6" fill-opacity="0.52"/><rect x="201.35" y="250.18" width="1.28" height="5.6" fill="#2aa0d6" fill-opacity="0.89"/><rect x="201.35" y="255.78" width="1.28" height="20.34" fill="#2aa0d6" fill-opacity="0.66"/><rect x="201.35" y="276.12" width="1.28" height="6.84" fill="#2aa0d6" fill-opacity="0.54"/><rect x="201.35" y="341.6" width="1.28" height="16.02" fill="#2aa0d6" fill-opacity="0.9"/><rect x="201.35" y="363.41" width="1.28" height="9.02" fill="#2aa0d6" fill-opacity="0.75"/><rect x="201.35" y="372.43" width="1.28" height="25.18" fill="#2aa0d6" fill-opacity="0.72"/><rect x="203.35" y="203.35" width="1.35" height="26.12" fill="#2aa0d6" fill-opacity="0.52"/><rect x="203.35" y="229.47" width="1.35" height="10.59" fill="#2aa0d6" fill-opacity="0.39"/><rect x="203.35" y="240.06" width="1.35" height="4.07" fill="#2aa0d6" fill-opacity="0.45"/><rect x="203.35" y="244.13" width="1.35" height="10.37" fill="#2aa0d6" fill-opacity="0.59"/><rect x="203.35" y="254.5" width="1.35" height="15.14" fill="#2aa0d6" fill-opacity="0.71"/><rect x="203.35" y="283.07" width="1.35" height="26.22" fill="#2aa0d6" fill-opacity="0.83"/><rect x="203.35" y="344.48" width="1.35" height="20.46" fill="#2aa0d6" fill-opacity="0.27"/><rect x="203.35" y="364.95" width="1.35" height="28.75" fill="#2aa0d6" fill-opacity="0.43"/><rect x="203.35" y="393.69" width="1.35" height="6.64" fill="#2aa0d6" fill-opacity="0.42"/><rect x="204.84" y="278.9" width="0.91" height="9.13" fill="#2aa0d6" fill-opacity="0.62"/><rect x="204.84" y="288.03" width="0.91" height="23.29" fill="#2aa0d6" fill-opacity="0.86"/><rect x="204.84" y="311.32" width="0.91" height="18.43" fill="#2aa0d6" fill-opacity="0.42"/><rect x="204.84" y="329.75" width="0.91" height="7.62" fill="#2aa0d6" fill-opacity="0.3"/><rect x="204.84" y="337.37" width="0.91" height="16.14" fill="#2aa0d6" fill-opacity="0.6"/><rect x="204.84" y="353.52" width="0.91" height="16.95" fill="#2aa0d6" fill-opacity="0.85"/><rect x="204.84" y="374.64" width="0.91" height="16.17" fill="#2aa0d6" fill-opacity="0.72"/><rect x="204.84" y="390.81" width="0.91" height="25.85" fill="#2aa0d6" fill-opacity="0.55"/><rect x="205.87" y="205.87" width="1.25" height="5.19" fill="#1f9bd4" fill-opacity="0.94"/><rect x="205.87" y="211.06" width="1.25" height="25.02" fill="#1f9bd4" fill-opacity="0.59"/><rect x="205.87" y="236.09" width="1.25" height="23.69" fill="#1f9bd4" fill-opacity="0.41"/><rect x="205.87" y="259.77" width="1.25" height="14.81" fill="#1f9bd4" fill-opacity="0.33"/><rect x="205.87" y="274.58" width="1.25" height="21.13" fill="#1f9bd4" fill-opacity="0.79"/><rect x="205.87" y="314.12" width="1.25" height="11.39" fill="#1f9bd4" fill-opacity="0.43"/><rect x="205.87" y="325.51" width="1.25" height="5.37" fill="#1f9bd4" fill-opacity="0.5"/><rect x="205.87" y="330.88" width="1.25" height="16.84" fill="#1f9bd4" fill-opacity="0.93"/><rect x="205.87" y="347.72" width="1.25" height="26.7" fill="#1f9bd4" fill-opacity="0.4"/><rect x="205.87" y="374.41" width="1.25" height="16.8" fill="#1f9bd4" fill-opacity="0.39"/><rect x="205.87" y="391.21" width="1.25" height="22.54" fill="#1f9bd4" fill-opacity="0.93"/><rect x="190.8" y="205.87" width="29.91" height="1.25" fill="#1f9bd4" fill-opacity="0.55"/><rect x="238.91" y="238.91" width="0.92" height="14.96" fill="#35a8dc" fill-opacity="0.95"/><rect x="238.91" y="258.22" width="0.92" height="7.61" fill="#35a8dc" fill-opacity="0.82"/><rect x="238.91" y="265.82" width="0.92" height="26.42" fill="#35a8dc" fill-opacity="0.31"/><rect x="238.91" y="292.25" width="0.92" height="4.53" fill="#35a8dc" fill-opacity="0.72"/><rect x="238.91" y="296.78" width="0.92" height="27.76" fill="#35a8dc" fill-opacity="0.68"/><rect x="238.91" y="349.98" width="0.92" height="14.95" fill="#35a8dc" fill-opacity="0.59"/><rect x="238.91" y="364.93" width="0.92" height="5.75" fill="#35a8dc" fill-opacity="0.73"/><rect x="238.91" y="370.68" width="0.92" height="29.82" fill="#35a8dc" fill-opacity="0.4"/><rect x="240.74" y="240.74" width="0.86" height="7.95" fill="#2aa0d6" fill-opacity="0.29"/><rect x="240.74" y="248.69" width="0.86" height="21.78" fill="#2aa0d6" fill-opacity="0.95"/><rect x="240.74" y="276.75" width="0.86" height="7.35" fill="#2aa0d6" fill-opacity="0.83"/><rect x="240.74" y="284.11" width="0.86" height="10.3" fill="#2aa0d6" fill-opacity="0.43"/><rect x="240.74" y="322.26" width="0.86" height="22.97" fill="#2aa0d6" fill-opacity="0.76"/><rect x="240.74" y="345.24" width="0.86" height="22.44" fill="#2aa0d6" fill-opacity="0.95"/><rect x="240.74" y="378.28" width="0.86" height="22.65" fill="#2aa0d6" fill-opacity="0.3"/><rect x="190.8" y="240.74" width="25.25" height="0.86" fill="#2aa0d6" fill-opacity="0.38"/><rect x="216.05" y="240.74" width="22.97" height="0.86" fill="#2aa0d6" fill-opacity="0.69"/><rect x="239.02" y="240.74" width="16.64" height="0.86" fill="#2aa0d6" fill-opacity="0.42"/><rect x="242.62" y="242.62" width="1.11" height="24.73" fill="#35a8dc" fill-opacity="0.77"/><rect x="242.62" y="267.35" width="1.11" height="20.37" fill="#35a8dc" fill-opacity="0.58"/><rect x="242.62" y="312.16" width="1.11" height="24.4" fill="#35a8dc" fill-opacity="0.51"/><rect x="242.62" y="364.42" width="1.11" height="12.63" fill="#35a8dc" fill-opacity="0.95"/><rect x="242.62" y="377.06" width="1.11" height="25.61" fill="#35a8dc" fill-opacity="0.52"/><rect x="190.8" y="242.62" width="27.09" height="1.11" fill="#35a8dc" fill-opacity="0.59"/><rect x="237.54" y="242.62" width="24.99" height="1.11" fill="#35a8dc" fill-opacity="0.21"/><rect x="243.96" y="267.81" width="1.1" height="11.5" fill="#1896d0" fill-opacity="0.95"/><rect x="243.96" y="279.31" width="1.1" height="29.81" fill="#1896d0" fill-opacity="0.95"/><rect x="243.96" y="309.13" width="1.1" height="24.73" fill="#1896d0" fill-opacity="0.87"/><rect x="243.96" y="333.85" width="1.1" height="17" fill="#1896d0" fill-opacity="0.69"/><rect x="243.96" y="350.85" width="1.1" height="16.6" fill="#1896d0" fill-opacity="0.88"/><rect x="243.96" y="390.23" width="1.1" height="12.05" fill="#1896d0" fill-opacity="0.58"/><rect x="246.44" y="246.44" width="1.21" height="15.95" fill="#1f9bd4" fill-opacity="0.89"/><rect x="246.44" y="262.39" width="1.21" height="24.08" fill="#1f9bd4" fill-opacity="0.72"/><rect x="246.44" y="313.79" width="1.21" height="17.57" fill="#1f9bd4" fill-opacity="0.73"/><rect x="246.44" y="331.36" width="1.21" height="8.92" fill="#1f9bd4" fill-opacity="0.42"/><rect x="246.44" y="340.27" width="1.21" height="22.23" fill="#1f9bd4" fill-opacity="0.71"/><rect x="246.44" y="362.5" width="1.21" height="14.46" fill="#1f9bd4" fill-opacity="0.4"/><rect x="246.44" y="382.13" width="1.21" height="13.73" fill="#1f9bd4" fill-opacity="0.76"/><rect x="246.44" y="395.85" width="1.21" height="24.47" fill="#1f9bd4" fill-opacity="0.73"/><rect x="190.8" y="246.44" width="17.51" height="1.21" fill="#1f9bd4" fill-opacity="0.23"/><rect x="238.06" y="246.44" width="16.64" height="1.21" fill="#1f9bd4" fill-opacity="0.36"/><rect x="248.66" y="273.95" width="1.1" height="10.6" fill="#2aa0d6" fill-opacity="0.44"/><rect x="248.66" y="284.56" width="1.1" height="8.7" fill="#2aa0d6" fill-opacity="0.33"/><rect x="248.66" y="327.66" width="1.1" height="27.66" fill="#2aa0d6" fill-opacity="0.73"/><rect x="248.66" y="355.32" width="1.1" height="14.33" fill="#2aa0d6" fill-opacity="0.95"/><rect x="248.66" y="369.65" width="1.1" height="10.69" fill="#2aa0d6" fill-opacity="0.77"/><rect x="248.66" y="380.34" width="1.1" height="28.87" fill="#2aa0d6" fill-opacity="0.58"/><rect x="198.95" y="248.66" width="29.78" height="1.1" fill="#2aa0d6" fill-opacity="0.23"/><rect x="228.74" y="248.66" width="10.65" height="1.1" fill="#2aa0d6" fill-opacity="0.71"/><rect x="249.64" y="257.41" width="1.35" height="28.42" fill="#2aa0d6" fill-opacity="0.51"/><rect x="249.64" y="305.21" width="1.35" height="6.74" fill="#2aa0d6" fill-opacity="0.48"/><rect x="249.64" y="311.95" width="1.35" height="7.23" fill="#2aa0d6" fill-opacity="0.41"/><rect x="249.64" y="319.18" width="1.35" height="10.2" fill="#2aa0d6" fill-opacity="0.79"/><rect x="249.64" y="329.38" width="1.35" height="4.33" fill="#2aa0d6" fill-opacity="0.43"/><rect x="249.64" y="374.91" width="1.35" height="7.63" fill="#2aa0d6" fill-opacity="0.36"/><rect x="190.8" y="249.64" width="15.76" height="1.35" fill="#2aa0d6" fill-opacity="0.67"/><rect x="206.56" y="249.64" width="16.42" height="1.35" fill="#2aa0d6" fill-opacity="0.29"/><rect x="222.98" y="249.64" width="9.76" height="1.35" fill="#2aa0d6" fill-opacity="0.61"/><rect x="232.74" y="249.64" width="18.39" height="1.35" fill="#2aa0d6" fill-opacity="0.69"/><rect x="251" y="251" width="1.09" height="18.85" fill="#35a8dc" fill-opacity="0.89"/><rect x="251" y="269.84" width="1.09" height="10.78" fill="#35a8dc" fill-opacity="0.63"/><rect x="251" y="280.62" width="1.09" height="16.54" fill="#35a8dc" fill-opacity="0.67"/><rect x="251" y="317.57" width="1.09" height="28.06" fill="#35a8dc" fill-opacity="0.91"/><rect x="251" y="352.72" width="1.09" height="29.24" fill="#35a8dc" fill-opacity="0.48"/><rect x="251" y="381.96" width="1.09" height="10.21" fill="#35a8dc" fill-opacity="0.58"/><rect x="251" y="392.17" width="1.09" height="14.81" fill="#35a8dc" fill-opacity="0.91"/><rect x="252.14" y="252.14" width="1.25" height="12.86" fill="#2aa0d6" fill-opacity="0.29"/><rect x="252.14" y="265" width="1.25" height="25.64" fill="#2aa0d6" fill-opacity="0.43"/><rect x="252.14" y="305.96" width="1.25" height="9.67" fill="#2aa0d6" fill-opacity="0.39"/><rect x="252.14" y="324.32" width="1.25" height="22.5" fill="#2aa0d6" fill-opacity="0.35"/><rect x="252.14" y="346.82" width="1.25" height="6.27" fill="#2aa0d6" fill-opacity="0.66"/><rect x="252.14" y="353.09" width="1.25" height="11.12" fill="#2aa0d6" fill-opacity="0.75"/><rect x="252.14" y="386.62" width="1.25" height="19.16" fill="#2aa0d6" fill-opacity="0.34"/><rect x="253.74" y="253.74" width="1.31" height="13.04" fill="#1f9bd4" fill-opacity="0.77"/><rect x="253.74" y="266.77" width="1.31" height="28.59" fill="#1f9bd4" fill-opacity="0.59"/><rect x="253.74" y="295.36" width="1.31" height="23.84" fill="#1f9bd4" fill-opacity="0.78"/><rect x="253.74" y="319.2" width="1.31" height="10.46" fill="#1f9bd4" fill-opacity="0.95"/><rect x="253.74" y="329.65" width="1.31" height="4.95" fill="#1f9bd4" fill-opacity="0.72"/><rect x="253.74" y="334.61" width="1.31" height="26.31" fill="#1f9bd4" fill-opacity="0.95"/><rect x="253.74" y="360.92" width="1.31" height="29.19" fill="#1f9bd4" fill-opacity="0.55"/><rect x="255.96" y="261.55" width="1.41" height="28.81" fill="#1896d0" fill-opacity="0.67"/><rect x="255.96" y="290.36" width="1.41" height="17.79" fill="#1896d0" fill-opacity="0.3"/><rect x="255.96" y="308.15" width="1.41" height="29.15" fill="#1896d0" fill-opacity="0.42"/><rect x="255.96" y="337.3" width="1.41" height="6.67" fill="#1896d0" fill-opacity="0.9"/><rect x="255.96" y="343.97" width="1.41" height="4.78" fill="#1896d0" fill-opacity="0.81"/><rect x="255.96" y="348.75" width="1.41" height="9.07" fill="#1896d0" fill-opacity="0.74"/><rect x="255.96" y="357.83" width="1.41" height="18.99" fill="#1896d0" fill-opacity="0.81"/><rect x="255.96" y="383.49" width="1.41" height="22.64" fill="#1896d0" fill-opacity="0.38"/><rect x="190.8" y="255.96" width="17.02" height="1.41" fill="#1896d0" fill-opacity="0.28"/><rect x="207.82" y="255.96" width="14.55" height="1.41" fill="#1896d0" fill-opacity="0.54"/><rect x="222.37" y="255.96" width="26.39" height="1.41" fill="#1896d0" fill-opacity="0.53"/><rect x="248.75" y="255.96" width="23.41" height="1.41" fill="#1896d0" fill-opacity="0.67"/><rect x="258.45" y="258.45" width="1.07" height="19.67" fill="#2aa0d6" fill-opacity="0.95"/><rect x="258.45" y="278.13" width="1.07" height="5.35" fill="#2aa0d6" fill-opacity="0.59"/><rect x="258.45" y="283.48" width="1.07" height="25.8" fill="#2aa0d6" fill-opacity="0.92"/><rect x="258.45" y="327.96" width="1.07" height="12.34" fill="#2aa0d6" fill-opacity="0.71"/><rect x="258.45" y="340.29" width="1.07" height="12.45" fill="#2aa0d6" fill-opacity="0.8"/><rect x="258.45" y="365.93" width="1.07" height="21.24" fill="#2aa0d6" fill-opacity="0.37"/><rect x="258.45" y="387.17" width="1.07" height="8.87" fill="#2aa0d6" fill-opacity="0.44"/><rect x="258.45" y="396.04" width="1.07" height="21.4" fill="#2aa0d6" fill-opacity="0.6"/><rect x="190.8" y="258.45" width="29.94" height="1.07" fill="#2aa0d6" fill-opacity="0.24"/><rect x="260.41" y="260.41" width="1.24" height="10.52" fill="#1f9bd4" fill-opacity="0.61"/><rect x="260.41" y="270.93" width="1.24" height="28.72" fill="#1f9bd4" fill-opacity="0.52"/><rect x="260.41" y="299.65" width="1.24" height="20.84" fill="#1f9bd4" fill-opacity="0.73"/><rect x="260.41" y="320.49" width="1.24" height="28.86" fill="#1f9bd4" fill-opacity="0.49"/><rect x="260.41" y="349.34" width="1.24" height="16.13" fill="#1f9bd4" fill-opacity="0.4"/><rect x="260.41" y="365.47" width="1.24" height="7.22" fill="#1f9bd4" fill-opacity="0.51"/><rect x="260.41" y="372.69" width="1.24" height="14.57" fill="#1f9bd4" fill-opacity="0.47"/><rect x="260.41" y="387.26" width="1.24" height="6.28" fill="#1f9bd4" fill-opacity="0.92"/><rect x="260.41" y="393.55" width="1.24" height="19.86" fill="#1f9bd4" fill-opacity="0.77"/><rect x="190.8" y="260.41" width="22.47" height="1.24" fill="#1f9bd4" fill-opacity="0.52"/><rect x="213.27" y="260.41" width="19.93" height="1.24" fill="#1f9bd4" fill-opacity="0.38"/><rect x="233.2" y="260.41" width="10.3" height="1.24" fill="#1f9bd4" fill-opacity="0.5"/><rect x="243.5" y="260.41" width="13.96" height="1.24" fill="#1f9bd4" fill-opacity="0.22"/><rect x="261.72" y="261.72" width="1.19" height="26.84" fill="#2aa0d6" fill-opacity="0.33"/><rect x="261.72" y="288.56" width="1.19" height="4.57" fill="#2aa0d6" fill-opacity="0.74"/><rect x="261.72" y="293.12" width="1.19" height="13.05" fill="#2aa0d6" fill-opacity="0.67"/><rect x="261.72" y="306.17" width="1.19" height="25.69" fill="#2aa0d6" fill-opacity="0.86"/><rect x="261.72" y="371.03" width="1.19" height="14.84" fill="#2aa0d6" fill-opacity="0.39"/><rect x="261.72" y="385.86" width="1.19" height="9.26" fill="#2aa0d6" fill-opacity="0.49"/><rect x="261.72" y="395.13" width="1.19" height="25.81" fill="#2aa0d6" fill-opacity="0.93"/><rect x="264.31" y="264.31" width="0.99" height="6.69" fill="#35a8dc" fill-opacity="0.7"/><rect x="264.31" y="271" width="0.99" height="7.05" fill="#35a8dc" fill-opacity="0.95"/><rect x="264.31" y="285.94" width="0.99" height="11.26" fill="#35a8dc" fill-opacity="0.37"/><rect x="264.31" y="297.2" width="0.99" height="26.14" fill="#35a8dc" fill-opacity="0.5"/><rect x="264.31" y="323.35" width="0.99" height="13.17" fill="#35a8dc" fill-opacity="0.68"/><rect x="264.31" y="336.52" width="0.99" height="19.48" fill="#35a8dc" fill-opacity="0.29"/><rect x="264.31" y="379.39" width="0.99" height="13.9" fill="#35a8dc" fill-opacity="0.69"/><rect x="264.31" y="393.29" width="0.99" height="24.88" fill="#35a8dc" fill-opacity="0.57"/><rect x="190.8" y="264.31" width="25.36" height="0.99" fill="#35a8dc" fill-opacity="0.75"/><rect x="216.16" y="264.31" width="19.81" height="0.99" fill="#35a8dc" fill-opacity="0.39"/><rect x="266.84" y="283.77" width="0.82" height="24.11" fill="#5ab8e2" fill-opacity="0.95"/><rect x="266.84" y="307.88" width="0.82" height="17.45" fill="#5ab8e2" fill-opacity="0.8"/><rect x="266.84" y="325.33" width="0.82" height="14.13" fill="#5ab8e2" fill-opacity="0.73"/><rect x="266.84" y="352.59" width="0.82" height="21.59" fill="#5ab8e2" fill-opacity="0.36"/><rect x="266.84" y="374.18" width="0.82" height="13.73" fill="#5ab8e2" fill-opacity="0.71"/><rect x="268.56" y="268.56" width="1.11" height="19.27" fill="#1896d0" fill-opacity="0.85"/><rect x="268.56" y="287.84" width="1.11" height="6.4" fill="#1896d0" fill-opacity="0.56"/><rect x="268.56" y="294.23" width="1.11" height="5.95" fill="#1896d0" fill-opacity="0.42"/><rect x="268.56" y="300.19" width="1.11" height="21.05" fill="#1896d0" fill-opacity="0.54"/><rect x="268.56" y="321.24" width="1.11" height="28.32" fill="#1896d0" fill-opacity="0.95"/><rect x="268.56" y="349.56" width="1.11" height="20.41" fill="#1896d0" fill-opacity="0.9"/><rect x="268.56" y="379.37" width="1.11" height="14.72" fill="#1896d0" fill-opacity="0.71"/><rect x="268.56" y="394.09" width="1.11" height="6.77" fill="#1896d0" fill-opacity="0.76"/><rect x="270.64" y="270.64" width="0.81" height="21.96" fill="#1f9bd4" fill-opacity="0.29"/><rect x="270.64" y="292.6" width="0.81" height="25.9" fill="#1f9bd4" fill-opacity="0.44"/><rect x="270.64" y="318.49" width="0.81" height="9.11" fill="#1f9bd4" fill-opacity="0.4"/><rect x="270.64" y="327.61" width="0.81" height="10.92" fill="#1f9bd4" fill-opacity="0.39"/><rect x="270.64" y="338.52" width="0.81" height="29.92" fill="#1f9bd4" fill-opacity="0.34"/><rect x="270.64" y="368.45" width="0.81" height="7.16" fill="#1f9bd4" fill-opacity="0.48"/><rect x="270.64" y="375.61" width="0.81" height="6.77" fill="#1f9bd4" fill-opacity="0.23"/><rect x="190.8" y="270.64" width="24.97" height="0.81" fill="#1f9bd4" fill-opacity="0.22"/><rect x="215.77" y="270.64" width="24.04" height="0.81" fill="#1f9bd4" fill-opacity="0.61"/><rect x="239.81" y="270.64" width="13.2" height="0.81" fill="#1f9bd4" fill-opacity="0.36"/><rect x="259.59" y="270.64" width="19.14" height="0.81" fill="#1f9bd4" fill-opacity="0.46"/><rect x="273.84" y="273.84" width="1.23" height="8.14" fill="#35a8dc" fill-opacity="0.24"/><rect x="273.84" y="286.15" width="1.23" height="15.84" fill="#35a8dc" fill-opacity="0.27"/><rect x="273.84" y="329.05" width="1.23" height="5.76" fill="#35a8dc" fill-opacity="0.45"/><rect x="273.84" y="334.8" width="1.23" height="19.21" fill="#35a8dc" fill-opacity="0.33"/><rect x="273.84" y="354.01" width="1.23" height="22.51" fill="#35a8dc" fill-opacity="0.53"/><rect x="273.84" y="376.51" width="1.23" height="6.27" fill="#35a8dc" fill-opacity="0.32"/><rect x="273.84" y="386.99" width="1.23" height="14.3" fill="#35a8dc" fill-opacity="0.3"/><rect x="275.31" y="275.31" width="1.26" height="27.74" fill="#1f9bd4" fill-opacity="0.33"/><rect x="275.31" y="303.05" width="1.26" height="16.14" fill="#1f9bd4" fill-opacity="0.35"/><rect x="275.31" y="319.19" width="1.26" height="11.26" fill="#1f9bd4" fill-opacity="0.5"/><rect x="275.31" y="330.45" width="1.26" height="10.29" fill="#1f9bd4" fill-opacity="0.25"/><rect x="275.31" y="358.9" width="1.26" height="18.43" fill="#1f9bd4" fill-opacity="0.5"/><rect x="275.31" y="377.33" width="1.26" height="10.24" fill="#1f9bd4" fill-opacity="0.25"/><rect x="275.31" y="387.58" width="1.26" height="14.53" fill="#1f9bd4" fill-opacity="0.41"/><rect x="190.8" y="275.31" width="16.37" height="1.26" fill="#1f9bd4" fill-opacity="0.69"/><rect x="228.73" y="275.31" width="29.95" height="1.26" fill="#1f9bd4" fill-opacity="0.46"/><rect x="258.68" y="275.31" width="29.74" height="1.26" fill="#1f9bd4" fill-opacity="0.44"/><rect x="190.8" y="277.08" width="26.15" height="0.89" fill="#1f9bd4" fill-opacity="0.64"/><rect x="216.95" y="277.08" width="4.75" height="0.89" fill="#1f9bd4" fill-opacity="0.29"/><rect x="221.69" y="277.08" width="4.39" height="0.89" fill="#1f9bd4" fill-opacity="0.6"/><rect x="226.08" y="277.08" width="24.18" height="0.89" fill="#1f9bd4" fill-opacity="0.32"/><rect x="250.26" y="277.08" width="27.17" height="0.89" fill="#1f9bd4" fill-opacity="0.72"/><rect x="279.35" y="279.35" width="1.33" height="12.09" fill="#35a8dc" fill-opacity="0.22"/><rect x="279.35" y="291.44" width="1.33" height="22.63" fill="#35a8dc" fill-opacity="0.33"/><rect x="279.35" y="368.66" width="1.33" height="7.44" fill="#35a8dc" fill-opacity="0.17"/><rect x="279.35" y="376.1" width="1.33" height="21.67" fill="#35a8dc" fill-opacity="0.31"/><rect x="279.35" y="397.77" width="1.33" height="14.73" fill="#35a8dc" fill-opacity="0.46"/><rect x="190.8" y="279.35" width="26.01" height="1.33" fill="#35a8dc" fill-opacity="0.4"/><rect x="216.81" y="279.35" width="8.72" height="1.33" fill="#35a8dc" fill-opacity="0.51"/><rect x="225.54" y="279.35" width="23.09" height="1.33" fill="#35a8dc" fill-opacity="0.17"/><rect x="248.62" y="279.35" width="5.04" height="1.33" fill="#35a8dc" fill-opacity="0.23"/><rect x="253.66" y="279.35" width="11.88" height="1.33" fill="#35a8dc" fill-opacity="0.17"/><rect x="265.54" y="279.35" width="12.08" height="1.33" fill="#35a8dc" fill-opacity="0.22"/><rect x="277.63" y="279.35" width="25.83" height="1.33" fill="#35a8dc" fill-opacity="0.43"/><rect x="280.68" y="284.71" width="1.1" height="24.19" fill="#1896d0" fill-opacity="0.18"/><rect x="280.68" y="308.9" width="1.1" height="26.21" fill="#1896d0" fill-opacity="0.18"/><rect x="280.68" y="335.1" width="1.1" height="10.36" fill="#1896d0" fill-opacity="0.5"/><rect x="280.68" y="354.92" width="1.1" height="23.49" fill="#1896d0" fill-opacity="0.46"/><rect x="280.68" y="378.41" width="1.1" height="14.23" fill="#1896d0" fill-opacity="0.51"/><rect x="280.68" y="392.65" width="1.1" height="11.31" fill="#1896d0" fill-opacity="0.56"/><rect x="190.8" y="280.68" width="28.19" height="1.1" fill="#1896d0" fill-opacity="0.44"/><rect x="218.99" y="280.68" width="25.58" height="1.1" fill="#1896d0" fill-opacity="0.33"/><rect x="244.57" y="280.68" width="5.41" height="1.1" fill="#1896d0" fill-opacity="0.32"/><rect x="274.6" y="280.68" width="5.14" height="1.1" fill="#1896d0" fill-opacity="0.46"/><rect x="279.74" y="280.68" width="10.79" height="1.1" fill="#1896d0" fill-opacity="0.53"/><rect x="190.8" y="282.67" width="13.03" height="1.18" fill="#35a8dc" fill-opacity="0.4"/><rect x="203.83" y="282.67" width="7.57" height="1.18" fill="#35a8dc" fill-opacity="0.34"/><rect x="211.39" y="282.67" width="16.55" height="1.18" fill="#35a8dc" fill-opacity="0.15"/><rect x="227.95" y="282.67" width="21.98" height="1.18" fill="#35a8dc" fill-opacity="0.4"/><rect x="249.93" y="282.67" width="22.15" height="1.18" fill="#35a8dc" fill-opacity="0.43"/><rect x="272.08" y="282.67" width="19.28" height="1.18" fill="#35a8dc" fill-opacity="0.4"/><rect x="220.26" y="283.77" width="14.56" height="1.1" fill="#35a8dc" fill-opacity="0.42"/><rect x="234.82" y="283.77" width="4.32" height="1.1" fill="#35a8dc" fill-opacity="0.17"/><rect x="239.14" y="283.77" width="27.29" height="1.1" fill="#35a8dc" fill-opacity="0.19"/><rect x="278.47" y="283.77" width="8.19" height="1.1" fill="#35a8dc" fill-opacity="0.37"/><rect x="285.16" y="314.95" width="1.19" height="6.18" fill="#1f9bd4" fill-opacity="0.58"/><rect x="285.16" y="321.14" width="1.19" height="18.65" fill="#1f9bd4" fill-opacity="0.37"/><rect x="285.16" y="339.79" width="1.19" height="15.29" fill="#1f9bd4" fill-opacity="0.39"/><rect x="285.16" y="359.3" width="1.19" height="20.76" fill="#1f9bd4" fill-opacity="0.56"/><rect x="285.16" y="380.06" width="1.19" height="20.97" fill="#1f9bd4" fill-opacity="0.27"/><rect x="195.52" y="285.16" width="25.83" height="1.19" fill="#1f9bd4" fill-opacity="0.22"/><rect x="241.94" y="285.16" width="28.09" height="1.19" fill="#1f9bd4" fill-opacity="0.46"/><rect x="270.03" y="285.16" width="25.59" height="1.19" fill="#1f9bd4" fill-opacity="0.28"/><rect x="286.37" y="293.92" width="1.38" height="25.78" fill="#5ab8e2" fill-opacity="0.19"/><rect x="286.37" y="354.44" width="1.38" height="14.48" fill="#5ab8e2" fill-opacity="0.25"/><rect x="286.37" y="368.92" width="1.38" height="15" fill="#5ab8e2" fill-opacity="0.58"/><rect x="286.37" y="383.92" width="1.38" height="19.67" fill="#5ab8e2" fill-opacity="0.22"/><rect x="190.8" y="286.37" width="7.6" height="1.38" fill="#5ab8e2" fill-opacity="0.31"/><rect x="227.85" y="286.37" width="16.46" height="1.38" fill="#5ab8e2" fill-opacity="0.3"/><rect x="244.32" y="286.37" width="4.83" height="1.38" fill="#5ab8e2" fill-opacity="0.48"/><rect x="249.15" y="286.37" width="17.29" height="1.38" fill="#5ab8e2" fill-opacity="0.18"/><rect x="266.44" y="286.37" width="5.44" height="1.38" fill="#5ab8e2" fill-opacity="0.5"/><rect x="271.88" y="286.37" width="5.63" height="1.38" fill="#5ab8e2" fill-opacity="0.52"/><rect x="277.51" y="286.37" width="8.58" height="1.38" fill="#5ab8e2" fill-opacity="0.3"/><rect x="288.42" y="288.42" width="1.2" height="12.42" fill="#2aa0d6" fill-opacity="0.57"/><rect x="288.42" y="377.91" width="1.2" height="5.56" fill="#2aa0d6" fill-opacity="0.42"/><rect x="288.42" y="383.47" width="1.2" height="11.72" fill="#2aa0d6" fill-opacity="0.57"/><rect x="288.42" y="395.2" width="1.2" height="16.5" fill="#2aa0d6" fill-opacity="0.29"/><rect x="190.8" y="288.42" width="27.01" height="1.2" fill="#2aa0d6" fill-opacity="0.22"/><rect x="217.81" y="288.42" width="21.65" height="1.2" fill="#2aa0d6" fill-opacity="0.18"/><rect x="239.46" y="288.42" width="21.17" height="1.2" fill="#2aa0d6" fill-opacity="0.38"/><rect x="260.63" y="288.42" width="14.83" height="1.2" fill="#2aa0d6" fill-opacity="0.37"/><rect x="275.46" y="288.42" width="14.3" height="1.2" fill="#2aa0d6" fill-opacity="0.22"/><rect x="290.83" y="290.83" width="1.18" height="25.77" fill="#1f9bd4" fill-opacity="0.24"/><rect x="290.83" y="316.6" width="1.18" height="21.43" fill="#1f9bd4" fill-opacity="0.26"/><rect x="290.83" y="338.03" width="1.18" height="15.91" fill="#1f9bd4" fill-opacity="0.46"/><rect x="190.8" y="290.83" width="17.08" height="1.18" fill="#1f9bd4" fill-opacity="0.48"/><rect x="207.88" y="290.83" width="28.65" height="1.18" fill="#1f9bd4" fill-opacity="0.52"/><rect x="236.53" y="290.83" width="17.39" height="1.18" fill="#1f9bd4" fill-opacity="0.42"/><rect x="272.08" y="290.83" width="8.98" height="1.18" fill="#1f9bd4" fill-opacity="0.19"/><rect x="281.06" y="290.83" width="13.71" height="1.18" fill="#1f9bd4" fill-opacity="0.31"/><rect x="294.78" y="294.78" width="1.44" height="23.38" fill="#5ab8e2" fill-opacity="0.49"/><rect x="294.78" y="339.85" width="1.44" height="7.19" fill="#5ab8e2" fill-opacity="0.47"/><rect x="294.78" y="347.04" width="1.44" height="28.65" fill="#5ab8e2" fill-opacity="0.18"/><rect x="294.78" y="375.69" width="1.44" height="19.7" fill="#5ab8e2" fill-opacity="0.39"/><rect x="294.78" y="395.39" width="1.44" height="24.88" fill="#5ab8e2" fill-opacity="0.55"/><rect x="296.11" y="296.11" width="0.94" height="29.71" fill="#2aa0d6" fill-opacity="0.5"/><rect x="296.11" y="325.82" width="0.94" height="16.69" fill="#2aa0d6" fill-opacity="0.27"/><rect x="296.11" y="350.41" width="0.94" height="26.72" fill="#2aa0d6" fill-opacity="0.52"/><rect x="296.11" y="377.13" width="0.94" height="19.3" fill="#2aa0d6" fill-opacity="0.58"/><rect x="296.11" y="396.43" width="0.94" height="23.8" fill="#2aa0d6" fill-opacity="0.35"/><rect x="190.8" y="296.11" width="29.86" height="0.94" fill="#2aa0d6" fill-opacity="0.34"/><rect x="225.48" y="296.11" width="5.94" height="0.94" fill="#2aa0d6" fill-opacity="0.4"/><rect x="251.02" y="296.11" width="29.16" height="0.94" fill="#2aa0d6" fill-opacity="0.32"/><rect x="290.13" y="296.11" width="17.44" height="0.94" fill="#2aa0d6" fill-opacity="0.36"/><rect x="297.54" y="297.54" width="0.89" height="8.41" fill="#1896d0" fill-opacity="0.36"/><rect x="297.54" y="305.95" width="0.89" height="19" fill="#1896d0" fill-opacity="0.31"/><rect x="297.54" y="324.95" width="0.89" height="4.16" fill="#1896d0" fill-opacity="0.3"/><rect x="297.54" y="329.11" width="0.89" height="4.53" fill="#1896d0" fill-opacity="0.58"/><rect x="297.54" y="333.64" width="0.89" height="5.18" fill="#1896d0" fill-opacity="0.45"/><rect x="297.54" y="338.82" width="0.89" height="11.09" fill="#1896d0" fill-opacity="0.37"/><rect x="297.54" y="349.91" width="0.89" height="10.81" fill="#1896d0" fill-opacity="0.39"/><rect x="297.54" y="389.61" width="0.89" height="4.89" fill="#1896d0" fill-opacity="0.49"/><rect x="190.8" y="299.52" width="24.71" height="1.05" fill="#5ab8e2" fill-opacity="0.18"/><rect x="215.51" y="299.52" width="29.04" height="1.05" fill="#5ab8e2" fill-opacity="0.29"/><rect x="244.55" y="299.52" width="26.18" height="1.05" fill="#5ab8e2" fill-opacity="0.49"/><rect x="270.73" y="299.52" width="22.61" height="1.05" fill="#5ab8e2" fill-opacity="0.42"/><rect x="302.9" y="317.2" width="0.94" height="28.17" fill="#2aa0d6" fill-opacity="0.22"/><rect x="302.9" y="345.37" width="0.94" height="22.72" fill="#2aa0d6" fill-opacity="0.4"/><rect x="302.9" y="389.21" width="0.94" height="5.91" fill="#2aa0d6" fill-opacity="0.55"/><rect x="302.9" y="395.13" width="0.94" height="19.21" fill="#2aa0d6" fill-opacity="0.31"/><rect x="217.56" y="305.45" width="20.29" height="1.28" fill="#1f9bd4" fill-opacity="0.16"/><rect x="237.85" y="305.45" width="5.24" height="1.28" fill="#1f9bd4" fill-opacity="0.5"/><rect x="243.09" y="305.45" width="11.35" height="1.28" fill="#1f9bd4" fill-opacity="0.19"/><rect x="254.44" y="305.45" width="10.29" height="1.28" fill="#1f9bd4" fill-opacity="0.2"/><rect x="264.73" y="305.45" width="5.26" height="1.28" fill="#1f9bd4" fill-opacity="0.47"/><rect x="269.99" y="305.45" width="18.96" height="1.28" fill="#1f9bd4" fill-opacity="0.15"/><rect x="288.95" y="305.45" width="11.04" height="1.28" fill="#1f9bd4" fill-opacity="0.16"/><rect x="299.99" y="305.45" width="12.4" height="1.28" fill="#1f9bd4" fill-opacity="0.28"/><rect x="307.83" y="307.83" width="0.82" height="21.65" fill="#2aa0d6" fill-opacity="0.19"/><rect x="307.83" y="329.48" width="0.82" height="14.77" fill="#2aa0d6" fill-opacity="0.43"/><rect x="307.83" y="344.25" width="0.82" height="12.7" fill="#2aa0d6" fill-opacity="0.42"/><rect x="307.83" y="356.95" width="0.82" height="10.68" fill="#2aa0d6" fill-opacity="0.17"/><rect x="307.83" y="367.63" width="0.82" height="28.06" fill="#2aa0d6" fill-opacity="0.58"/><rect x="307.83" y="395.69" width="0.82" height="5.46" fill="#2aa0d6" fill-opacity="0.47"/><rect x="190.8" y="307.83" width="6.43" height="0.82" fill="#2aa0d6" fill-opacity="0.21"/><rect x="197.23" y="307.83" width="23.95" height="0.82" fill="#2aa0d6" fill-opacity="0.47"/><rect x="221.18" y="307.83" width="15" height="0.82" fill="#2aa0d6" fill-opacity="0.38"/><rect x="236.18" y="307.83" width="18.43" height="0.82" fill="#2aa0d6" fill-opacity="0.38"/><rect x="254.61" y="307.83" width="12.6" height="0.82" fill="#2aa0d6" fill-opacity="0.25"/><rect x="289.71" y="307.83" width="24.18" height="0.82" fill="#2aa0d6" fill-opacity="0.45"/><rect x="310.39" y="310.39" width="1.12" height="17.77" fill="#5ab8e2" fill-opacity="0.27"/><rect x="310.39" y="328.16" width="1.12" height="18.51" fill="#5ab8e2" fill-opacity="0.5"/><rect x="310.39" y="346.67" width="1.12" height="29.4" fill="#5ab8e2" fill-opacity="0.43"/><rect x="310.39" y="390.49" width="1.12" height="28.36" fill="#5ab8e2" fill-opacity="0.21"/><rect x="190.8" y="311.64" width="7.88" height="1.34" fill="#5ab8e2" fill-opacity="0.44"/><rect x="198.68" y="311.64" width="27.96" height="1.34" fill="#5ab8e2" fill-opacity="0.16"/><rect x="226.64" y="311.64" width="24.23" height="1.34" fill="#5ab8e2" fill-opacity="0.53"/><rect x="250.87" y="311.64" width="16.97" height="1.34" fill="#5ab8e2" fill-opacity="0.28"/><rect x="267.84" y="311.64" width="24.81" height="1.34" fill="#5ab8e2" fill-opacity="0.28"/><rect x="292.66" y="311.64" width="27.49" height="1.34" fill="#5ab8e2" fill-opacity="0.44"/><rect x="190.8" y="312.65" width="9.93" height="1.25" fill="#2aa0d6" fill-opacity="0.5"/><rect x="200.73" y="312.65" width="13.76" height="1.25" fill="#2aa0d6" fill-opacity="0.49"/><rect x="214.5" y="312.65" width="4.8" height="1.25" fill="#2aa0d6" fill-opacity="0.43"/><rect x="219.29" y="312.65" width="10.29" height="1.25" fill="#2aa0d6" fill-opacity="0.28"/><rect x="229.58" y="312.65" width="15.07" height="1.25" fill="#2aa0d6" fill-opacity="0.49"/><rect x="261.61" y="312.65" width="24.56" height="1.25" fill="#2aa0d6" fill-opacity="0.51"/><rect x="310.17" y="312.65" width="7.55" height="1.25" fill="#2aa0d6" fill-opacity="0.18"/><rect x="313.56" y="313.56" width="1.41" height="21.75" fill="#35a8dc" fill-opacity="0.35"/><rect x="313.56" y="377.19" width="1.41" height="26.45" fill="#35a8dc" fill-opacity="0.53"/><rect x="314.96" y="314.96" width="0.82" height="27.73" fill="#1f9bd4" fill-opacity="0.29"/><rect x="314.96" y="342.69" width="0.82" height="17.07" fill="#1f9bd4" fill-opacity="0.48"/><rect x="314.96" y="359.76" width="0.82" height="16.08" fill="#1f9bd4" fill-opacity="0.34"/><rect x="314.96" y="375.84" width="0.82" height="20.7" fill="#1f9bd4" fill-opacity="0.33"/><rect x="316.21" y="316.21" width="1.24" height="17.12" fill="#1f9bd4" fill-opacity="0.34"/><rect x="316.21" y="333.33" width="1.24" height="6.73" fill="#1f9bd4" fill-opacity="0.58"/><rect x="316.21" y="352.28" width="1.24" height="7.13" fill="#1f9bd4" fill-opacity="0.22"/><rect x="316.21" y="359.42" width="1.24" height="15.14" fill="#1f9bd4" fill-opacity="0.45"/><rect x="316.21" y="374.56" width="1.24" height="7.85" fill="#1f9bd4" fill-opacity="0.37"/><rect x="316.21" y="382.4" width="1.24" height="6.92" fill="#1f9bd4" fill-opacity="0.37"/><rect x="316.21" y="389.33" width="1.24" height="27.89" fill="#1f9bd4" fill-opacity="0.25"/><rect x="201.79" y="318.61" width="9.11" height="1.31" fill="#5ab8e2" fill-opacity="0.46"/><rect x="210.9" y="318.61" width="28.75" height="1.31" fill="#5ab8e2" fill-opacity="0.28"/><rect x="239.65" y="318.61" width="5.08" height="1.31" fill="#5ab8e2" fill-opacity="0.26"/><rect x="244.73" y="318.61" width="12.6" height="1.31" fill="#5ab8e2" fill-opacity="0.54"/><rect x="257.33" y="318.61" width="23.38" height="1.31" fill="#5ab8e2" fill-opacity="0.31"/><rect x="280.71" y="318.61" width="18.04" height="1.31" fill="#5ab8e2" fill-opacity="0.21"/><rect x="320.87" y="337.9" width="1.43" height="22.04" fill="#1f9bd4" fill-opacity="0.58"/><rect x="320.87" y="359.94" width="1.43" height="25.46" fill="#1f9bd4" fill-opacity="0.2"/><rect x="320.87" y="385.4" width="1.43" height="20.14" fill="#1f9bd4" fill-opacity="0.47"/><rect x="190.8" y="320.87" width="18.52" height="1.43" fill="#1f9bd4" fill-opacity="0.32"/><rect x="209.32" y="320.87" width="21.37" height="1.43" fill="#1f9bd4" fill-opacity="0.38"/><rect x="230.69" y="320.87" width="16.31" height="1.43" fill="#1f9bd4" fill-opacity="0.33"/><rect x="247" y="320.87" width="12.9" height="1.43" fill="#1f9bd4" fill-opacity="0.3"/><rect x="285.35" y="320.87" width="26.61" height="1.43" fill="#1f9bd4" fill-opacity="0.18"/><rect x="311.96" y="320.87" width="29.37" height="1.43" fill="#1f9bd4" fill-opacity="0.41"/><rect x="190.8" y="325.38" width="19.33" height="0.98" fill="#2aa0d6" fill-opacity="0.54"/><rect x="215.84" y="325.38" width="13.47" height="0.98" fill="#2aa0d6" fill-opacity="0.22"/><rect x="229.31" y="325.38" width="13.51" height="0.98" fill="#2aa0d6" fill-opacity="0.21"/><rect x="242.82" y="325.38" width="21.21" height="0.98" fill="#2aa0d6" fill-opacity="0.52"/><rect x="264.02" y="325.38" width="26.25" height="0.98" fill="#2aa0d6" fill-opacity="0.51"/><rect x="290.27" y="325.38" width="12.37" height="0.98" fill="#2aa0d6" fill-opacity="0.49"/><rect x="302.64" y="325.38" width="15.13" height="0.98" fill="#2aa0d6" fill-opacity="0.42"/><rect x="317.77" y="325.38" width="13.75" height="0.98" fill="#2aa0d6" fill-opacity="0.41"/><rect x="327.17" y="327.17" width="1.01" height="11.55" fill="#1f9bd4" fill-opacity="0.21"/><rect x="327.17" y="338.72" width="1.01" height="20.5" fill="#1f9bd4" fill-opacity="0.24"/><rect x="327.17" y="359.22" width="1.01" height="17.45" fill="#1f9bd4" fill-opacity="0.22"/><rect x="327.17" y="376.67" width="1.01" height="16.71" fill="#1f9bd4" fill-opacity="0.43"/><rect x="190.8" y="327.17" width="18.46" height="1.01" fill="#1f9bd4" fill-opacity="0.25"/><rect x="209.26" y="327.17" width="19.36" height="1.01" fill="#1f9bd4" fill-opacity="0.36"/><rect x="228.62" y="327.17" width="27.84" height="1.01" fill="#1f9bd4" fill-opacity="0.25"/><rect x="256.46" y="327.17" width="15.39" height="1.01" fill="#1f9bd4" fill-opacity="0.34"/><rect x="271.85" y="327.17" width="6.31" height="1.01" fill="#1f9bd4" fill-opacity="0.52"/><rect x="289.71" y="327.17" width="27.93" height="1.01" fill="#1f9bd4" fill-opacity="0.3"/><rect x="322.73" y="327.17" width="29.21" height="1.01" fill="#1f9bd4" fill-opacity="0.39"/><rect x="328.5" y="348.59" width="0.97" height="26.14" fill="#1896d0" fill-opacity="0.19"/><rect x="328.5" y="384.01" width="0.97" height="6.08" fill="#1896d0" fill-opacity="0.33"/><rect x="330.75" y="346.77" width="0.88" height="14.79" fill="#1896d0" fill-opacity="0.54"/><rect x="330.75" y="361.55" width="0.88" height="15.44" fill="#1896d0" fill-opacity="0.38"/><rect x="330.75" y="376.99" width="0.88" height="25.44" fill="#1896d0" fill-opacity="0.48"/><rect x="190.8" y="330.75" width="5.06" height="0.88" fill="#1896d0" fill-opacity="0.37"/><rect x="219.86" y="330.75" width="7.07" height="0.88" fill="#1896d0" fill-opacity="0.18"/><rect x="226.93" y="330.75" width="25.25" height="0.88" fill="#1896d0" fill-opacity="0.18"/><rect x="252.18" y="330.75" width="23.59" height="0.88" fill="#1896d0" fill-opacity="0.17"/><rect x="275.77" y="330.75" width="21.71" height="0.88" fill="#1896d0" fill-opacity="0.34"/><rect x="297.47" y="330.75" width="5.42" height="0.88" fill="#1896d0" fill-opacity="0.31"/><rect x="190.8" y="331.9" width="18.01" height="1.03" fill="#1896d0" fill-opacity="0.18"/><rect x="208.81" y="331.9" width="13.98" height="1.03" fill="#1896d0" fill-opacity="0.27"/><rect x="237.05" y="331.9" width="21.71" height="1.03" fill="#1896d0" fill-opacity="0.25"/><rect x="258.76" y="331.9" width="13.89" height="1.03" fill="#1896d0" fill-opacity="0.36"/><rect x="272.65" y="331.9" width="11.93" height="1.03" fill="#1896d0" fill-opacity="0.23"/><rect x="305.53" y="331.9" width="21.06" height="1.03" fill="#1896d0" fill-opacity="0.21"/><rect x="326.6" y="331.9" width="28.19" height="1.03" fill="#1896d0" fill-opacity="0.33"/><rect x="334" y="339.76" width="1.26" height="25.41" fill="#5ab8e2" fill-opacity="0.26"/><rect x="334" y="365.17" width="1.26" height="15.42" fill="#5ab8e2" fill-opacity="0.25"/><rect x="334" y="380.58" width="1.26" height="29.3" fill="#5ab8e2" fill-opacity="0.33"/><rect x="335.25" y="335.25" width="0.94" height="20.62" fill="#35a8dc" fill-opacity="0.53"/><rect x="335.25" y="355.87" width="0.94" height="5.87" fill="#35a8dc" fill-opacity="0.24"/><rect x="335.25" y="361.74" width="0.94" height="27.98" fill="#35a8dc" fill-opacity="0.5"/><rect x="335.25" y="389.72" width="0.94" height="16.95" fill="#35a8dc" fill-opacity="0.45"/><rect x="208.08" y="335.25" width="9.38" height="0.94" fill="#35a8dc" fill-opacity="0.19"/><rect x="241.85" y="335.25" width="14.78" height="0.94" fill="#35a8dc" fill-opacity="0.25"/><rect x="256.63" y="335.25" width="27.55" height="0.94" fill="#35a8dc" fill-opacity="0.21"/><rect x="284.18" y="335.25" width="5.47" height="0.94" fill="#35a8dc" fill-opacity="0.17"/><rect x="289.66" y="335.25" width="25.74" height="0.94" fill="#35a8dc" fill-opacity="0.24"/><rect x="315.39" y="335.25" width="19.13" height="0.94" fill="#35a8dc" fill-opacity="0.37"/><rect x="337.99" y="337.99" width="1.48" height="20.66" fill="#5ab8e2" fill-opacity="0.39"/><rect x="337.99" y="358.65" width="1.48" height="6.43" fill="#5ab8e2" fill-opacity="0.47"/><rect x="337.99" y="365.08" width="1.48" height="15.18" fill="#5ab8e2" fill-opacity="0.21"/><rect x="337.99" y="380.26" width="1.48" height="25.54" fill="#5ab8e2" fill-opacity="0.55"/><rect x="340.49" y="372.07" width="1.17" height="9.21" fill="#5ab8e2" fill-opacity="0.29"/><rect x="230.92" y="340.49" width="19.05" height="1.17" fill="#5ab8e2" fill-opacity="0.38"/><rect x="249.97" y="340.49" width="6.62" height="1.17" fill="#5ab8e2" fill-opacity="0.23"/><rect x="256.59" y="340.49" width="7.96" height="1.17" fill="#5ab8e2" fill-opacity="0.22"/><rect x="264.55" y="340.49" width="13.11" height="1.17" fill="#5ab8e2" fill-opacity="0.28"/><rect x="277.65" y="340.49" width="13.47" height="1.17" fill="#5ab8e2" fill-opacity="0.47"/><rect x="291.12" y="340.49" width="25.03" height="1.17" fill="#5ab8e2" fill-opacity="0.33"/><rect x="316.15" y="340.49" width="23.42" height="1.17" fill="#5ab8e2" fill-opacity="0.21"/><rect x="339.57" y="340.49" width="14.22" height="1.17" fill="#5ab8e2" fill-opacity="0.17"/><rect x="342.37" y="342.37" width="1.09" height="25.77" fill="#35a8dc" fill-opacity="0.47"/><rect x="342.37" y="368.14" width="1.09" height="23.09" fill="#35a8dc" fill-opacity="0.44"/><rect x="342.37" y="391.23" width="1.09" height="6.34" fill="#35a8dc" fill-opacity="0.43"/><rect x="342.37" y="397.57" width="1.09" height="25.76" fill="#35a8dc" fill-opacity="0.27"/><rect x="190.8" y="342.37" width="10.21" height="1.09" fill="#35a8dc" fill-opacity="0.26"/><rect x="201.01" y="342.37" width="18.07" height="1.09" fill="#35a8dc" fill-opacity="0.25"/><rect x="219.07" y="342.37" width="18.78" height="1.09" fill="#35a8dc" fill-opacity="0.25"/><rect x="237.85" y="342.37" width="28.68" height="1.09" fill="#35a8dc" fill-opacity="0.37"/><rect x="296.22" y="342.37" width="22.89" height="1.09" fill="#35a8dc" fill-opacity="0.24"/><rect x="319.12" y="342.37" width="6.47" height="1.09" fill="#35a8dc" fill-opacity="0.17"/><rect x="325.59" y="342.37" width="24.58" height="1.09" fill="#35a8dc" fill-opacity="0.23"/><rect x="344.54" y="344.54" width="0.86" height="10.87" fill="#35a8dc" fill-opacity="0.33"/><rect x="344.54" y="355.4" width="0.86" height="17.47" fill="#35a8dc" fill-opacity="0.54"/><rect x="344.54" y="372.87" width="0.86" height="6.19" fill="#35a8dc" fill-opacity="0.26"/><rect x="345.54" y="345.54" width="0.97" height="6.55" fill="#1896d0" fill-opacity="0.49"/><rect x="345.54" y="352.09" width="0.97" height="8.54" fill="#1896d0" fill-opacity="0.2"/><rect x="345.54" y="360.63" width="0.97" height="23.74" fill="#1896d0" fill-opacity="0.24"/><rect x="345.54" y="396.63" width="0.97" height="24.45" fill="#1896d0" fill-opacity="0.5"/><rect x="190.8" y="345.54" width="17.3" height="0.97" fill="#1896d0" fill-opacity="0.46"/><rect x="208.1" y="345.54" width="24.02" height="0.97" fill="#1896d0" fill-opacity="0.51"/><rect x="232.12" y="345.54" width="21.84" height="0.97" fill="#1896d0" fill-opacity="0.18"/><rect x="258.03" y="345.54" width="4.98" height="0.97" fill="#1896d0" fill-opacity="0.28"/><rect x="263.01" y="345.54" width="5.79" height="0.97" fill="#1896d0" fill-opacity="0.17"/><rect x="268.81" y="345.54" width="26.53" height="0.97" fill="#1896d0" fill-opacity="0.29"/><rect x="295.34" y="345.54" width="14.7" height="0.97" fill="#1896d0" fill-opacity="0.53"/><rect x="349.6" y="349.6" width="1.36" height="14.03" fill="#1896d0" fill-opacity="0.56"/><rect x="349.6" y="363.63" width="1.36" height="17.34" fill="#1896d0" fill-opacity="0.41"/><rect x="349.6" y="380.97" width="1.36" height="21.04" fill="#1896d0" fill-opacity="0.19"/><rect x="351.86" y="351.86" width="1.33" height="19.28" fill="#35a8dc" fill-opacity="0.53"/><rect x="351.86" y="390.09" width="1.33" height="27.13" fill="#35a8dc" fill-opacity="0.44"/><rect x="211.1" y="351.86" width="12.91" height="1.33" fill="#35a8dc" fill-opacity="0.52"/><rect x="224" y="351.86" width="9.94" height="1.33" fill="#35a8dc" fill-opacity="0.46"/><rect x="255.19" y="351.86" width="15.09" height="1.33" fill="#35a8dc" fill-opacity="0.27"/><rect x="289.98" y="351.86" width="26.83" height="1.33" fill="#35a8dc" fill-opacity="0.31"/><rect x="316.81" y="351.86" width="11.79" height="1.33" fill="#35a8dc" fill-opacity="0.36"/><rect x="328.6" y="351.86" width="6.16" height="1.33" fill="#35a8dc" fill-opacity="0.33"/><rect x="334.76" y="351.86" width="4.85" height="1.33" fill="#35a8dc" fill-opacity="0.54"/><rect x="348.47" y="351.86" width="14.59" height="1.33" fill="#35a8dc" fill-opacity="0.24"/><rect x="201.86" y="353.13" width="13.42" height="1.24" fill="#2aa0d6" fill-opacity="0.5"/><rect x="235.15" y="353.13" width="14.25" height="1.24" fill="#2aa0d6" fill-opacity="0.52"/><rect x="275.5" y="353.13" width="8.22" height="1.24" fill="#2aa0d6" fill-opacity="0.15"/><rect x="308.1" y="353.13" width="10.52" height="1.24" fill="#2aa0d6" fill-opacity="0.19"/><rect x="336.99" y="353.13" width="17.36" height="1.24" fill="#2aa0d6" fill-opacity="0.51"/><rect x="190.8" y="355.55" width="10.92" height="1.27" fill="#1f9bd4" fill-opacity="0.27"/><rect x="201.72" y="355.55" width="22.44" height="1.27" fill="#1f9bd4" fill-opacity="0.52"/><rect x="224.17" y="355.55" width="25.03" height="1.27" fill="#1f9bd4" fill-opacity="0.41"/><rect x="249.19" y="355.55" width="16.83" height="1.27" fill="#1f9bd4" fill-opacity="0.16"/><rect x="292.77" y="355.55" width="7.1" height="1.27" fill="#1f9bd4" fill-opacity="0.27"/><rect x="299.87" y="355.55" width="17.32" height="1.27" fill="#1f9bd4" fill-opacity="0.39"/><rect x="333.13" y="355.55" width="16.54" height="1.27" fill="#1f9bd4" fill-opacity="0.52"/><rect x="349.67" y="355.55" width="11.06" height="1.27" fill="#1f9bd4" fill-opacity="0.51"/><rect x="190.8" y="358.69" width="18.25" height="1.33" fill="#5ab8e2" fill-opacity="0.18"/><rect x="209.05" y="358.69" width="28.7" height="1.33" fill="#5ab8e2" fill-opacity="0.34"/><rect x="237.75" y="358.69" width="29.34" height="1.33" fill="#5ab8e2" fill-opacity="0.5"/><rect x="279.52" y="358.69" width="16.89" height="1.33" fill="#5ab8e2" fill-opacity="0.36"/><rect x="296.41" y="358.69" width="27.24" height="1.33" fill="#5ab8e2" fill-opacity="0.46"/><rect x="323.65" y="358.69" width="5.6" height="1.33" fill="#5ab8e2" fill-opacity="0.35"/><rect x="360.91" y="360.91" width="1.05" height="27.17" fill="#35a8dc" fill-opacity="0.42"/><rect x="360.91" y="388.08" width="1.05" height="28.13" fill="#35a8dc" fill-opacity="0.45"/><rect x="203.11" y="360.91" width="16.29" height="1.05" fill="#35a8dc" fill-opacity="0.51"/><rect x="219.4" y="360.91" width="20.19" height="1.05" fill="#35a8dc" fill-opacity="0.31"/><rect x="247.74" y="360.91" width="5.14" height="1.05" fill="#35a8dc" fill-opacity="0.36"/><rect x="274.08" y="360.91" width="14.7" height="1.05" fill="#35a8dc" fill-opacity="0.3"/><rect x="288.79" y="360.91" width="22.65" height="1.05" fill="#35a8dc" fill-opacity="0.47"/><rect x="311.44" y="360.91" width="26.14" height="1.05" fill="#35a8dc" fill-opacity="0.33"/><rect x="337.57" y="360.91" width="4.31" height="1.05" fill="#35a8dc" fill-opacity="0.42"/><rect x="341.88" y="360.91" width="11.95" height="1.05" fill="#35a8dc" fill-opacity="0.29"/><rect x="190.8" y="363.3" width="25" height="0.87" fill="#1896d0" fill-opacity="0.27"/><rect x="236.57" y="363.3" width="20.48" height="0.87" fill="#1896d0" fill-opacity="0.45"/><rect x="271.3" y="363.3" width="23.3" height="0.87" fill="#1896d0" fill-opacity="0.3"/><rect x="294.61" y="363.3" width="24.95" height="0.87" fill="#1896d0" fill-opacity="0.22"/><rect x="319.56" y="363.3" width="26.66" height="0.87" fill="#1896d0" fill-opacity="0.35"/><rect x="190.8" y="364.43" width="4.08" height="1.04" fill="#1f9bd4" fill-opacity="0.24"/><rect x="194.88" y="364.43" width="15.25" height="1.04" fill="#1f9bd4" fill-opacity="0.43"/><rect x="210.13" y="364.43" width="24.42" height="1.04" fill="#1f9bd4" fill-opacity="0.48"/><rect x="234.54" y="364.43" width="7.44" height="1.04" fill="#1f9bd4" fill-opacity="0.48"/><rect x="241.99" y="364.43" width="10.21" height="1.04" fill="#1f9bd4" fill-opacity="0.26"/><rect x="257.06" y="364.43" width="28.19" height="1.04" fill="#1f9bd4" fill-opacity="0.26"/><rect x="342.59" y="364.43" width="19.73" height="1.04" fill="#1f9bd4" fill-opacity="0.39"/><rect x="362.31" y="364.43" width="27.5" height="1.04" fill="#1f9bd4" fill-opacity="0.29"/><rect x="366.3" y="366.3" width="1.42" height="22.19" fill="#1f9bd4" fill-opacity="0.52"/><rect x="366.3" y="388.48" width="1.42" height="12.45" fill="#1f9bd4" fill-opacity="0.43"/><rect x="190.8" y="366.3" width="11.15" height="1.42" fill="#1f9bd4" fill-opacity="0.32"/><rect x="225.41" y="366.3" width="6.87" height="1.42" fill="#1f9bd4" fill-opacity="0.4"/><rect x="232.28" y="366.3" width="12.84" height="1.42" fill="#1f9bd4" fill-opacity="0.37"/><rect x="264.22" y="366.3" width="25.03" height="1.42" fill="#1f9bd4" fill-opacity="0.16"/><rect x="289.25" y="366.3" width="24.23" height="1.42" fill="#1f9bd4" fill-opacity="0.35"/><rect x="313.48" y="366.3" width="15.02" height="1.42" fill="#1f9bd4" fill-opacity="0.4"/><rect x="328.5" y="366.3" width="22.84" height="1.42" fill="#1f9bd4" fill-opacity="0.31"/><rect x="351.34" y="366.3" width="17.31" height="1.42" fill="#1f9bd4" fill-opacity="0.24"/><rect x="190.8" y="368.67" width="29.64" height="1.5" fill="#5ab8e2" fill-opacity="0.34"/><rect x="220.44" y="368.67" width="7.48" height="1.5" fill="#5ab8e2" fill-opacity="0.42"/><rect x="227.92" y="368.67" width="22.42" height="1.5" fill="#5ab8e2" fill-opacity="0.28"/><rect x="250.34" y="368.67" width="8.94" height="1.5" fill="#5ab8e2" fill-opacity="0.26"/><rect x="259.28" y="368.67" width="9.05" height="1.5" fill="#5ab8e2" fill-opacity="0.35"/><rect x="268.33" y="368.67" width="15.4" height="1.5" fill="#5ab8e2" fill-opacity="0.42"/><rect x="283.73" y="368.67" width="9.12" height="1.5" fill="#5ab8e2" fill-opacity="0.37"/><rect x="338.52" y="368.67" width="27.92" height="1.5" fill="#5ab8e2" fill-opacity="0.43"/><rect x="366.43" y="368.67" width="5.63" height="1.5" fill="#5ab8e2" fill-opacity="0.16"/><rect x="371.04" y="371.04" width="1.31" height="13.24" fill="#1896d0" fill-opacity="0.43"/><rect x="371.04" y="384.28" width="1.31" height="29.78" fill="#1896d0" fill-opacity="0.18"/><rect x="204.04" y="371.04" width="24.92" height="1.31" fill="#1896d0" fill-opacity="0.19"/><rect x="228.95" y="371.04" width="6.77" height="1.31" fill="#1896d0" fill-opacity="0.45"/><rect x="296.07" y="371.04" width="7.34" height="1.31" fill="#1896d0" fill-opacity="0.37"/><rect x="303.4" y="371.04" width="17.21" height="1.31" fill="#1896d0" fill-opacity="0.25"/><rect x="347.63" y="371.04" width="29.49" height="1.31" fill="#1896d0" fill-opacity="0.44"/><rect x="372.59" y="372.59" width="1.37" height="4.33" fill="#2aa0d6" fill-opacity="0.41"/><rect x="372.59" y="376.93" width="1.37" height="13.85" fill="#2aa0d6" fill-opacity="0.51"/><rect x="372.59" y="390.78" width="1.37" height="24.44" fill="#2aa0d6" fill-opacity="0.18"/><rect x="374.4" y="374.4" width="0.85" height="18.55" fill="#5ab8e2" fill-opacity="0.64"/><rect x="374.4" y="392.95" width="0.85" height="27.51" fill="#5ab8e2" fill-opacity="0.33"/><rect x="190.8" y="374.4" width="26.9" height="0.85" fill="#5ab8e2" fill-opacity="0.49"/><rect x="217.7" y="374.4" width="28.57" height="0.85" fill="#5ab8e2" fill-opacity="0.37"/><rect x="246.26" y="374.4" width="27.93" height="0.85" fill="#5ab8e2" fill-opacity="0.51"/><rect x="274.19" y="374.4" width="23.8" height="0.85" fill="#5ab8e2" fill-opacity="0.43"/><rect x="298" y="374.4" width="26.4" height="0.85" fill="#5ab8e2" fill-opacity="0.4"/><rect x="350.81" y="374.4" width="22.64" height="0.85" fill="#5ab8e2" fill-opacity="0.49"/><rect x="373.45" y="374.4" width="19.75" height="0.85" fill="#5ab8e2" fill-opacity="0.34"/><rect x="375.95" y="375.95" width="1.29" height="18.72" fill="#35a8dc" fill-opacity="0.34"/><rect x="375.95" y="394.67" width="1.29" height="23.2" fill="#35a8dc" fill-opacity="0.35"/><rect x="377.19" y="387.44" width="0.8" height="9.71" fill="#2aa0d6" fill-opacity="0.73"/><rect x="190.8" y="377.19" width="7.99" height="0.8" fill="#2aa0d6" fill-opacity="0.45"/><rect x="205.49" y="377.19" width="22.46" height="0.8" fill="#2aa0d6" fill-opacity="0.46"/><rect x="227.95" y="377.19" width="8.23" height="0.8" fill="#2aa0d6" fill-opacity="0.19"/><rect x="260.64" y="377.19" width="27.83" height="0.8" fill="#2aa0d6" fill-opacity="0.48"/><rect x="306.92" y="377.19" width="17.06" height="0.8" fill="#2aa0d6" fill-opacity="0.38"/><rect x="323.98" y="377.19" width="24.79" height="0.8" fill="#2aa0d6" fill-opacity="0.17"/><rect x="348.77" y="377.19" width="18.18" height="0.8" fill="#2aa0d6" fill-opacity="0.3"/><rect x="366.95" y="377.19" width="4.2" height="0.8" fill="#2aa0d6" fill-opacity="0.16"/><rect x="378.87" y="378.87" width="0.89" height="29.57" fill="#35a8dc" fill-opacity="0.26"/><rect x="381.99" y="381.99" width="1.06" height="11.69" fill="#5ab8e2" fill-opacity="0.53"/><rect x="381.99" y="393.68" width="1.06" height="12.71" fill="#5ab8e2" fill-opacity="0.26"/><rect x="212.55" y="381.99" width="9.56" height="1.06" fill="#5ab8e2" fill-opacity="0.53"/><rect x="222.12" y="381.99" width="28.02" height="1.06" fill="#5ab8e2" fill-opacity="0.23"/><rect x="273.86" y="381.99" width="6.08" height="1.06" fill="#5ab8e2" fill-opacity="0.17"/><rect x="279.93" y="381.99" width="22.96" height="1.06" fill="#5ab8e2" fill-opacity="0.2"/><rect x="330.58" y="381.99" width="5.43" height="1.06" fill="#5ab8e2" fill-opacity="0.26"/><rect x="336.01" y="381.99" width="10.64" height="1.06" fill="#5ab8e2" fill-opacity="0.46"/><rect x="346.65" y="381.99" width="26" height="1.06" fill="#5ab8e2" fill-opacity="0.3"/><rect x="372.65" y="381.99" width="8.22" height="1.06" fill="#5ab8e2" fill-opacity="0.52"/><rect x="380.87" y="381.99" width="21.05" height="1.06" fill="#5ab8e2" fill-opacity="0.39"/><rect x="384.17" y="384.17" width="1.33" height="10.49" fill="#5ab8e2" fill-opacity="0.22"/><rect x="227.5" y="384.17" width="24.66" height="1.33" fill="#5ab8e2" fill-opacity="0.37"/><rect x="252.16" y="384.17" width="25.46" height="1.33" fill="#5ab8e2" fill-opacity="0.76"/><rect x="277.62" y="384.17" width="13.55" height="1.33" fill="#5ab8e2" fill-opacity="0.95"/><rect x="291.16" y="384.17" width="8.19" height="1.33" fill="#5ab8e2" fill-opacity="0.77"/><rect x="353.88" y="384.17" width="6.33" height="1.33" fill="#5ab8e2" fill-opacity="0.5"/><rect x="360.21" y="384.17" width="27.57" height="1.33" fill="#5ab8e2" fill-opacity="0.48"/><rect x="386.29" y="386.29" width="1.49" height="19.97" fill="#35a8dc" fill-opacity="0.74"/><rect x="190.8" y="386.29" width="14.16" height="1.49" fill="#35a8dc" fill-opacity="0.95"/><rect x="211.35" y="386.29" width="20.67" height="1.49" fill="#35a8dc" fill-opacity="0.78"/><rect x="232.02" y="386.29" width="23.25" height="1.49" fill="#35a8dc" fill-opacity="0.34"/><rect x="255.27" y="386.29" width="5.77" height="1.49" fill="#35a8dc" fill-opacity="0.35"/><rect x="261.04" y="386.29" width="22.97" height="1.49" fill="#35a8dc" fill-opacity="0.34"/><rect x="284.01" y="386.29" width="5.94" height="1.49" fill="#35a8dc" fill-opacity="0.83"/><rect x="289.94" y="386.29" width="20.86" height="1.49" fill="#35a8dc" fill-opacity="0.94"/><rect x="310.8" y="386.29" width="27.94" height="1.49" fill="#35a8dc" fill-opacity="0.95"/><rect x="338.74" y="386.29" width="10.63" height="1.49" fill="#35a8dc" fill-opacity="0.81"/><rect x="384.7" y="386.29" width="15.98" height="1.49" fill="#35a8dc" fill-opacity="0.44"/><rect x="190.8" y="387.85" width="21.44" height="1.35" fill="#1f9bd4" fill-opacity="0.29"/><rect x="221.18" y="387.85" width="8.11" height="1.35" fill="#1f9bd4" fill-opacity="0.73"/><rect x="229.29" y="387.85" width="21.19" height="1.35" fill="#1f9bd4" fill-opacity="0.39"/><rect x="257" y="387.85" width="13.96" height="1.35" fill="#1f9bd4" fill-opacity="0.71"/><rect x="270.96" y="387.85" width="9.8" height="1.35" fill="#1f9bd4" fill-opacity="0.3"/><rect x="280.77" y="387.85" width="26.17" height="1.35" fill="#1f9bd4" fill-opacity="0.95"/><rect x="306.93" y="387.85" width="13.45" height="1.35" fill="#1f9bd4" fill-opacity="0.39"/><rect x="320.39" y="387.85" width="24.49" height="1.35" fill="#1f9bd4" fill-opacity="0.56"/><rect x="344.87" y="387.85" width="17.6" height="1.35" fill="#1f9bd4" fill-opacity="0.47"/><rect x="362.47" y="387.85" width="24.7" height="1.35" fill="#1f9bd4" fill-opacity="0.57"/><rect x="387.17" y="387.85" width="23.88" height="1.35" fill="#1f9bd4" fill-opacity="0.43"/><rect x="389.12" y="389.12" width="1.07" height="27.21" fill="#5ab8e2" fill-opacity="0.22"/><rect x="190.8" y="389.12" width="13.81" height="1.07" fill="#5ab8e2" fill-opacity="0.5"/><rect x="204.61" y="389.12" width="16.29" height="1.07" fill="#5ab8e2" fill-opacity="0.37"/><rect x="220.9" y="389.12" width="18.44" height="1.07" fill="#5ab8e2" fill-opacity="0.59"/><rect x="255.95" y="389.12" width="27.66" height="1.07" fill="#5ab8e2" fill-opacity="0.33"/><rect x="283.6" y="389.12" width="8.96" height="1.07" fill="#5ab8e2" fill-opacity="0.62"/><rect x="292.56" y="389.12" width="10.22" height="1.07" fill="#5ab8e2" fill-opacity="0.33"/><rect x="302.78" y="389.12" width="17.24" height="1.07" fill="#5ab8e2" fill-opacity="0.45"/><rect x="339.91" y="389.12" width="28.14" height="1.07" fill="#5ab8e2" fill-opacity="0.33"/><rect x="368.05" y="389.12" width="15.23" height="1.07" fill="#5ab8e2" fill-opacity="0.68"/><rect x="383.28" y="389.12" width="17.27" height="1.07" fill="#5ab8e2" fill-opacity="0.36"/><rect x="190.8" y="390.83" width="24.98" height="1.13" fill="#2aa0d6" fill-opacity="0.36"/><rect x="227.07" y="390.83" width="5.77" height="1.13" fill="#2aa0d6" fill-opacity="0.64"/><rect x="232.84" y="390.83" width="10.69" height="1.13" fill="#2aa0d6" fill-opacity="0.76"/><rect x="268.63" y="390.83" width="20.73" height="1.13" fill="#2aa0d6" fill-opacity="0.31"/><rect x="310.23" y="390.83" width="21.28" height="1.13" fill="#2aa0d6" fill-opacity="0.56"/><rect x="345.57" y="390.83" width="12.37" height="1.13" fill="#2aa0d6" fill-opacity="0.93"/><rect x="357.94" y="390.83" width="21.07" height="1.13" fill="#2aa0d6" fill-opacity="0.81"/><rect x="379.01" y="390.83" width="4.41" height="1.13" fill="#2aa0d6" fill-opacity="0.83"/><rect x="392.22" y="392.22" width="1.48" height="12.16" fill="#35a8dc" fill-opacity="0.25"/><rect x="190.8" y="392.22" width="8.29" height="1.48" fill="#35a8dc" fill-opacity="0.65"/><rect x="199.09" y="392.22" width="5.71" height="1.48" fill="#35a8dc" fill-opacity="0.93"/><rect x="204.81" y="392.22" width="23.3" height="1.48" fill="#35a8dc" fill-opacity="0.45"/><rect x="228.11" y="392.22" width="27.56" height="1.48" fill="#35a8dc" fill-opacity="0.64"/><rect x="278.77" y="392.22" width="23.65" height="1.48" fill="#35a8dc" fill-opacity="0.42"/><rect x="302.42" y="392.22" width="14.74" height="1.48" fill="#35a8dc" fill-opacity="0.71"/><rect x="317.16" y="392.22" width="24.02" height="1.48" fill="#35a8dc" fill-opacity="0.91"/><rect x="349.2" y="392.22" width="19.77" height="1.48" fill="#35a8dc" fill-opacity="0.7"/><rect x="368.98" y="392.22" width="14.05" height="1.48" fill="#35a8dc" fill-opacity="0.71"/><rect x="383.03" y="392.22" width="11.12" height="1.48" fill="#35a8dc" fill-opacity="0.95"/><rect x="190.8" y="394.81" width="10.09" height="0.89" fill="#5ab8e2" fill-opacity="0.73"/><rect x="200.89" y="394.81" width="15.76" height="0.89" fill="#5ab8e2" fill-opacity="0.95"/><rect x="237.86" y="394.81" width="28.88" height="0.89" fill="#5ab8e2" fill-opacity="0.95"/><rect x="266.74" y="394.81" width="14.6" height="0.89" fill="#5ab8e2" fill-opacity="0.95"/><rect x="281.34" y="394.81" width="6.71" height="0.89" fill="#5ab8e2" fill-opacity="0.5"/><rect x="299.56" y="394.81" width="26.63" height="0.89" fill="#5ab8e2" fill-opacity="0.68"/><rect x="352.26" y="394.81" width="20.99" height="0.89" fill="#5ab8e2" fill-opacity="0.37"/><rect x="373.25" y="394.81" width="10.34" height="0.89" fill="#5ab8e2" fill-opacity="0.73"/><rect x="397.35" y="397.35" width="0.93" height="10.59" fill="#1f9bd4" fill-opacity="0.69"/><rect x="190.8" y="397.35" width="20.73" height="0.93" fill="#1f9bd4" fill-opacity="0.95"/><rect x="222.22" y="397.35" width="22.23" height="0.93" fill="#1f9bd4" fill-opacity="0.8"/><rect x="244.45" y="397.35" width="9.52" height="0.93" fill="#1f9bd4" fill-opacity="0.95"/><rect x="253.97" y="397.35" width="15.57" height="0.93" fill="#1f9bd4" fill-opacity="0.86"/><rect x="298.39" y="397.35" width="16.1" height="0.93" fill="#1f9bd4" fill-opacity="0.95"/><rect x="314.5" y="397.35" width="29.43" height="0.93" fill="#1f9bd4" fill-opacity="0.95"/><rect x="343.93" y="397.35" width="18.11" height="0.93" fill="#1f9bd4" fill-opacity="0.39"/><rect x="362.04" y="397.35" width="23.43" height="0.93" fill="#1f9bd4" fill-opacity="0.82"/><rect x="385.47" y="397.35" width="13.88" height="0.93" fill="#1f9bd4" fill-opacity="0.56"/><rect x="190.8" y="399.95" width="27" height="1.25" fill="#5ab8e2" fill-opacity="0.77"/><rect x="217.8" y="399.95" width="16.21" height="1.25" fill="#5ab8e2" fill-opacity="0.54"/><rect x="234.01" y="399.95" width="18.12" height="1.25" fill="#5ab8e2" fill-opacity="0.85"/><rect x="264.3" y="399.95" width="22.02" height="1.25" fill="#5ab8e2" fill-opacity="0.87"/><rect x="286.32" y="399.95" width="14.24" height="1.25" fill="#5ab8e2" fill-opacity="0.76"/><rect x="300.57" y="399.95" width="11.6" height="1.25" fill="#5ab8e2" fill-opacity="0.44"/><rect x="312.16" y="399.95" width="10.46" height="1.25" fill="#5ab8e2" fill-opacity="0.86"/><rect x="336.23" y="399.95" width="20.87" height="1.25" fill="#5ab8e2" fill-opacity="0.34"/><rect x="357.09" y="399.95" width="15.83" height="1.25" fill="#5ab8e2" fill-opacity="0.86"/><rect x="378.11" y="399.95" width="19.48" height="1.25" fill="#5ab8e2" fill-opacity="0.71"/>
<rect x="190.8" y="190.8" width="8.86" height="8.86" fill="#2aa6dc" fill-opacity="0.33"/><rect x="197" y="197" width="4.22" height="4.22" fill="#2aa6dc" fill-opacity="0.36"/><rect x="201.05" y="201.05" width="8.5" height="8.5" fill="#2aa6dc" fill-opacity="0.38"/><rect x="206.23" y="206.23" width="3.58" height="3.58" fill="#2aa6dc" fill-opacity="0.33"/><rect x="208.66" y="208.66" width="6.29" height="6.29" fill="#2aa6dc" fill-opacity="0.33"/><rect x="213.31" y="213.31" width="5.04" height="5.04" fill="#2aa6dc" fill-opacity="0.56"/><rect x="218.1" y="218.1" width="5.33" height="5.33" fill="#2aa6dc" fill-opacity="0.62"/><rect x="221.86" y="221.86" width="4.86" height="4.86" fill="#2aa6dc" fill-opacity="0.32"/><rect x="224.87" y="224.87" width="9.81" height="9.81" fill="#2aa6dc" fill-opacity="0.35"/><rect x="234.17" y="234.17" width="5.3" height="5.3" fill="#2aa6dc" fill-opacity="0.48"/><rect x="237.65" y="237.65" width="7.24" height="7.24" fill="#2aa6dc" fill-opacity="0.65"/><rect x="244.32" y="244.32" width="8.26" height="8.26" fill="#2aa6dc" fill-opacity="0.59"/><rect x="250.68" y="250.68" width="5.07" height="5.07" fill="#2aa6dc" fill-opacity="0.31"/><rect x="254.35" y="254.35" width="3.51" height="3.51" fill="#2aa6dc" fill-opacity="0.47"/><rect x="256.54" y="256.54" width="4.07" height="4.07" fill="#2aa6dc" fill-opacity="0.58"/><rect x="259.72" y="259.72" width="6.28" height="6.28" fill="#2aa6dc" fill-opacity="0.59"/><rect x="265.05" y="265.05" width="8.77" height="8.77" fill="#2aa6dc" fill-opacity="0.47"/><rect x="271.84" y="271.84" width="3.09" height="3.09" fill="#2aa6dc" fill-opacity="0.63"/><rect x="273.96" y="273.96" width="8.88" height="8.88" fill="#2aa6dc" fill-opacity="0.46"/><rect x="281.96" y="281.96" width="6.51" height="6.51" fill="#2aa6dc" fill-opacity="0.48"/><rect x="286.73" y="286.73" width="3.4" height="3.4" fill="#2aa6dc" fill-opacity="0.38"/><rect x="288.8" y="288.8" width="6.59" height="6.59" fill="#2aa6dc" fill-opacity="0.37"/><rect x="294.64" y="294.64" width="6.18" height="6.18" fill="#2aa6dc" fill-opacity="0.37"/><rect x="298.81" y="298.81" width="9.9" height="9.9" fill="#2aa6dc" fill-opacity="0.65"/><rect x="308.31" y="308.31" width="3.92" height="3.92" fill="#2aa6dc" fill-opacity="0.32"/><rect x="311.38" y="311.38" width="5.37" height="5.37" fill="#2aa6dc" fill-opacity="0.55"/><rect x="316.07" y="316.07" width="7.91" height="7.91" fill="#2aa6dc" fill-opacity="0.58"/><rect x="322.08" y="322.08" width="6.66" height="6.66" fill="#2aa6dc" fill-opacity="0.41"/><rect x="328.14" y="328.14" width="5.21" height="5.21" fill="#2aa6dc" fill-opacity="0.4"/><rect x="331.94" y="331.94" width="4.65" height="4.65" fill="#2aa6dc" fill-opacity="0.36"/><rect x="335.9" y="335.9" width="4.72" height="4.72" fill="#2aa6dc" fill-opacity="0.31"/><rect x="339.34" y="339.34" width="8.5" height="8.5" fill="#2aa6dc" fill-opacity="0.55"/><rect x="347.39" y="347.39" width="7.8" height="7.8" fill="#2aa6dc" fill-opacity="0.47"/><rect x="353.04" y="353.04" width="3.52" height="3.52" fill="#2aa6dc" fill-opacity="0.53"/><rect x="356.03" y="356.03" width="6.06" height="6.06" fill="#2aa6dc" fill-opacity="0.32"/><rect x="361.62" y="361.62" width="6.59" height="6.59" fill="#2aa6dc" fill-opacity="0.46"/><rect x="367.82" y="367.82" width="9.57" height="9.57" fill="#2aa6dc" fill-opacity="0.45"/><rect x="376.26" y="376.26" width="6.74" height="6.74" fill="#2aa6dc" fill-opacity="0.57"/><rect x="382.26" y="382.26" width="5.2" height="5.2" fill="#2aa6dc" fill-opacity="0.32"/><rect x="386.99" y="386.99" width="3.62" height="3.62" fill="#2aa6dc" fill-opacity="0.62"/><rect x="389.35" y="389.35" width="9.01" height="9.01" fill="#2aa6dc" fill-opacity="0.63"/><rect x="396.76" y="396.76" width="3.44" height="3.44" fill="#2aa6dc" fill-opacity="0.54"/>
<defs><linearGradient id="ldb" x1="0" y1="0" x2="1" y2="1"><stop offset="0.5" stop-color="#1e9fd8" stop-opacity="0.9"/><stop offset="1" stop-color="#1e9fd8" stop-opacity="0.35"/></linearGradient></defs>
<rect x="288" y="288" width="21" height="21" fill="url(#ldb)"/>
<rect x="190.8" y="190.8" width="15.4" height="15.4" fill="#3aaede" fill-opacity="0.5"/>
<rect x="190.8" y="190.8" width="1" height="207.7" fill="#2aa0d6" fill-opacity="0.35"/>
<rect x="237.3" y="237.3" width="1.2" height="161.2" fill="#2aa0d6" fill-opacity="0.5"/>
<rect x="237.3" y="397.3" width="161.2" height="1.2" fill="#2aa0d6" fill-opacity="0.6"/>
<rect x="190.8" y="397.5" width="15.4" height="1" fill="#2aa0d6" fill-opacity="0.4"/>
</g>
<line x1="190.8" y1="474.6" x2="190.8" y2="476.2" stroke="#444" stroke-width="0.5"/>
<line x1="206.2" y1="474.6" x2="206.2" y2="476.2" stroke="#444" stroke-width="0.5"/>
<line x1="237.3" y1="474.6" x2="237.3" y2="476.2" stroke="#444" stroke-width="0.5"/>
<line x1="398.5" y1="474.6" x2="398.5" y2="476.2" stroke="#444" stroke-width="0.5"/>
<text x="190.8" y="485" font-size="4.6" text-anchor="middle" fill="#333" stroke="#333" stroke-width="0.15">1</text>
<text x="206.2" y="485" font-size="4.6" text-anchor="middle" fill="#333" stroke="#333" stroke-width="0.15">11501</text>
<text x="237.3" y="485" font-size="4.6" text-anchor="middle" fill="#333" stroke="#333" stroke-width="0.15">35001</text>
<text x="398.5" y="485" font-size="4.6" text-anchor="middle" fill="#333" stroke="#333" stroke-width="0.15">171823</text>
<path d="M287.8,474.8 V478.4 H309.2 V474.8" stroke="#444" stroke-width="0.5" fill="none"/>
<text x="288" y="481.6" font-size="4.3" fill="#333" stroke="#333" stroke-width="0.15" textLength="98" lengthAdjust="spacingAndGlyphs">78001-96001 (contains EBNA-2A/B/C, BZLF1, and BRLF1)</text>
<defs><linearGradient id="ldg" x1="0" y1="0" x2="0" y2="1"><stop offset="0" stop-color="#1596d3"/><stop offset="0.12" stop-color="#3aaade"/><stop offset="0.42" stop-color="#e4f3fa"/><stop offset="0.5" stop-color="#ffffff"/><stop offset="0.58" stop-color="#fde6e8"/><stop offset="0.88" stop-color="#f18a94"/><stop offset="1" stop-color="#ee6e7a"/></linearGradient></defs>
<rect x="345.6" y="379.4" width="12.1" height="33.3" fill="url(#ldg)"/>
<text x="351.4" y="376.6" font-size="5.6" text-anchor="middle" fill="#222" stroke="#222" stroke-width="0.15" textLength="6.4" lengthAdjust="spacingAndGlyphs">LD</text>
<text x="361" y="381.2" font-size="4.8" fill="#333" stroke="#333" stroke-width="0.15" textLength="40" lengthAdjust="spacingAndGlyphs">1 (no recombination)</text>
<text x="361" y="413.8" font-size="4.8" fill="#333" stroke="#333" stroke-width="0.15" textLength="52.5" lengthAdjust="spacingAndGlyphs">0 (frequent recombination)</text>
<text x="424.6" y="366.2" font-size="11.6" fill="#000" font-weight="bold">E</text>
<line x1="448.6" y1="374" x2="448.6" y2="475.7" stroke="#2a2a2a" stroke-width="1.15"/>
<line x1="448.6" y1="475.7" x2="507.5" y2="475.7" stroke="#2a2a2a" stroke-width="1.15"/>
<line x1="447" y1="475.7" x2="448.6" y2="475.7" stroke="#222" stroke-width="0.7"/>
<text x="444" y="477.7" font-size="5.9" text-anchor="end" fill="#333" stroke="#333" stroke-width="0.15">0</text>
<line x1="447" y1="455.72" x2="448.6" y2="455.72" stroke="#222" stroke-width="0.7"/>
<text x="444" y="457.72" font-size="5.9" text-anchor="end" fill="#333" stroke="#333" stroke-width="0.15">0.2</text>
<line x1="447" y1="435.74" x2="448.6" y2="435.74" stroke="#222" stroke-width="0.7"/>
<text x="444" y="437.74" font-size="5.9" text-anchor="end" fill="#333" stroke="#333" stroke-width="0.15">0.4</text>
<line x1="447" y1="415.76" x2="448.6" y2="415.76" stroke="#222" stroke-width="0.7"/>
<text x="444" y="417.76" font-size="5.9" text-anchor="end" fill="#333" stroke="#333" stroke-width="0.15">0.6</text>
<line x1="447" y1="395.78" x2="448.6" y2="395.78" stroke="#222" stroke-width="0.7"/>
<text x="444" y="397.78" font-size="5.9" text-anchor="end" fill="#333" stroke="#333" stroke-width="0.15">0.8</text>
<line x1="447" y1="375.8" x2="448.6" y2="375.8" stroke="#222" stroke-width="0.7"/>
<text x="444" y="377.8" font-size="5.9" text-anchor="end" fill="#333" stroke="#333" stroke-width="0.15">1</text>
<line x1="448.6" y1="475.7" x2="448.6" y2="477.3" stroke="#222" stroke-width="0.7"/>
<text x="448.6" y="486.4" font-size="5.9" text-anchor="middle" fill="#333" stroke="#333" stroke-width="0.15" textLength="2.96" lengthAdjust="spacingAndGlyphs">0</text>
<line x1="467.4" y1="475.7" x2="467.4" y2="477.3" stroke="#222" stroke-width="0.7"/>
<text x="467.4" y="486.4" font-size="5.9" text-anchor="middle" fill="#333" stroke="#333" stroke-width="0.15" textLength="14.79" lengthAdjust="spacingAndGlyphs">30000</text>
<line x1="486.2" y1="475.7" x2="486.2" y2="477.3" stroke="#222" stroke-width="0.7"/>
<text x="486.2" y="486.4" font-size="5.9" text-anchor="middle" fill="#333" stroke="#333" stroke-width="0.15" textLength="14.79" lengthAdjust="spacingAndGlyphs">60000</text>
<line x1="505" y1="475.7" x2="505" y2="477.3" stroke="#222" stroke-width="0.7"/>
<text x="505" y="486.4" font-size="5.9" text-anchor="middle" fill="#333" stroke="#333" stroke-width="0.15" textLength="14.79" lengthAdjust="spacingAndGlyphs">90000</text>
<text x="478.9" y="497.2" font-size="7.2" text-anchor="middle" fill="#333" stroke="#333" stroke-width="0.15" textLength="34.7" lengthAdjust="spacingAndGlyphs">Distance (nt)</text>
<text x="0" y="0" font-size="7.2" text-anchor="middle" fill="#333" stroke="#333" stroke-width="0.15" transform="translate(430.6,426.5) rotate(-90)">LD</text>
<path d="M449,386.9 L450.2,390.4 L451.3,391.5 L451.9,396.1 L453.1,401.9 L454.2,407.7 L455.4,413.4 L456.5,418 L458.3,421 L459.4,420.4 L461.1,421 L462.3,419.8 L464,420.4 L465.2,418.6 L466.3,421 L467.5,421.5 L469.2,423.2 L470.4,423.8 L471.5,422.7 L472.7,423.8 L473.8,419.8 L475,414.6 L476.7,414 L478.4,412.3 L479.6,410.6 L480.8,412.9 L481.9,415.2 L483.6,418.1 L485.4,420.4 L486.5,419.2 L487.7,421.5 L489.4,423.8 L490.6,422.1 L491.7,422.7 L493.4,421 L494.6,419.2 L495.8,422.7 L496.9,422.1 L498.1,424.4 L499.2,423.2 L500.4,424.4 L502.1,426.7" stroke="#7d9cba" stroke-width="0.5" fill="none"/>
<path d="M449,386.9 L450.2,390.4 L451.3,391.5 L451.9,396.1 L453.1,401.9 L454.2,407.7 L455.4,413.4 L456.5,418 L458.3,421 L459.4,420.4 L461.1,421 L462.3,419.8 L464,420.4 L465.2,418.6 L466.3,421 L467.5,421.5 L469.2,423.2 L470.4,423.8 L471.5,422.7 L472.7,423.8 L473.8,419.8 L475,414.6 L476.7,414 L478.4,412.3 L479.6,410.6 L480.8,412.9 L481.9,415.2 L483.6,418.1 L485.4,420.4 L486.5,419.2 L487.7,421.5 L489.4,423.8 L490.6,422.1 L491.7,422.7 L493.4,421 L494.6,419.2 L495.8,422.7 L496.9,422.1 L498.1,424.4 L499.2,423.2 L500.4,424.4 L502.1,426.7" stroke="#1f4a75" stroke-width="1.05" fill="none" stroke-dasharray="1.1,0.7"/>
<text x="8.1" y="518.2" font-size="11.6" fill="#000" font-weight="bold">F</text>
<text x="75.2" y="529.6" font-size="5.8" text-anchor="middle" fill="#222" stroke="#222" stroke-width="0.15">1</text>
<text x="212" y="529.6" font-size="6.2" fill="#222" stroke="#222" stroke-width="0.15" textLength="116.8" lengthAdjust="spacingAndGlyphs">EBV genome (NC_007605, 171,823 nt, circular)</text>
<line x1="76.2" y1="533.3" x2="463.8" y2="533.3" stroke="#333" stroke-width="0.9"/>
<rect x="80.9" y="545.3" width="4.6" height="4.4" fill="#111"/>
<text x="88.8" y="549.2" font-size="6.3" stroke="#231f20" stroke-width="0.15" textLength="22.2" lengthAdjust="spacingAndGlyphs">Common</text>
<rect x="117.2" y="545.3" width="4.6" height="4.4" fill="#1c9fd0"/>
<text x="125" y="549.2" font-size="6.3" stroke="#231f20" stroke-width="0.15" textLength="28.7" lengthAdjust="spacingAndGlyphs">Uncommon</text>
<rect x="156" y="545.3" width="4.6" height="4.4" fill="#d4d4d4"/>
<text x="162.6" y="549.2" font-size="6.3" stroke="#231f20" stroke-width="0.15" textLength="15" lengthAdjust="spacingAndGlyphs">Single</text>
<text x="70" y="564.9" font-size="6.2" text-anchor="end" stroke="#231f20" stroke-width="0.15" textLength="43.8" lengthAdjust="spacingAndGlyphs">Variant frequency</text>
<text x="70" y="594.5" font-size="6.2" text-anchor="end" stroke="#231f20" stroke-width="0.15" textLength="52.3" lengthAdjust="spacingAndGlyphs">Synonymous variants</text>
<text x="70" y="616" font-size="6.2" text-anchor="end" stroke="#231f20" stroke-width="0.15" textLength="44.6" lengthAdjust="spacingAndGlyphs">Alteration pattern</text>
<text x="70" y="632.6" font-size="6.2" text-anchor="end" stroke="#231f20" stroke-width="0.15" textLength="17.8" lengthAdjust="spacingAndGlyphs">Repeats</text>
<text x="70" y="640.9" font-size="6.2" text-anchor="end" stroke="#231f20" stroke-width="0.15" textLength="38.5" lengthAdjust="spacingAndGlyphs">EBV components</text>
<line x1="76.2" y1="574.5" x2="463.8" y2="574.5" stroke="#9a9a9a" stroke-width="0.5"/>
<path d="M76.2,574.3V555.94H77.7V560.87H79.2V567.4H80.7V570.02H82.2V569.83H83.7V570.04H85.2V567.89H86.7V565.78H88.2V562.88H89.7V561.08H91.2V560.65H92.7V563.43H94.2V564.67H95.7V563.83H97.2V565.9H98.7V566.87H100.2V568.07H101.7V568.97H103.2V569.97H104.2V574.3ZM155.6,574.3V571.43H157.1V570.32H158.6V571.02H160.1V571.06H161.6V571H163.1V570.74H164.6V570.74H166.1V568.97H167.6V565.55H169.1V567.83H170.6V570.26H172.1V570.86H173.6V571.63H175.1V571.27H176.6V571.71H178.1V571.55H179.6V571.56H181.1V571.88H182.6V571.64H184.1V571.25H185.6V571.23H187.1V568.97H188.6V567.61H190.1V569.61H191.6V570.08H193.1V571.22H194.6V570.74H196.1V571.29H197.6V570.91H199.1V571.73H200.6V571.73H202.1V570.7H203.6V570.72H205.1V570.43H206.6V569.64H208.1V568.21H209.6V568.59H211.1V568.26H212.6V570.22H214.1V570.14H215.6V571.67H217.1V571.69H218.6V571.36H220.1V571.25H221.6V571.22H223.1V570.89H224.6V570.61H226.1V569.91H227.6V568.39H229.1V566.61H230.6V567.81H232.1V568.56H233.6V570.59H235.1V570.89H236.6V570.33H238.1V571.16H239.6V570.43H241.1V570.58H242.6V569.85H244.1V569.7H245.6V570.14H247.1V571.15H248.6V571.02H250.1V570.89H251.6V571.44H253.1V570.41H254.6V571.35H256.1V570H257.6V566.61H259.1V561.24H260.6V563.5H262.1V566.22H263.6V557.46H265.1V558.14H266.6V566.46H268.1V569.19H269.6V566.37H271.1V562.3H272.6V563.33H274.1V563.17H275.6V560.42H277.1V564.76H278.6V567.81H280.1V570.23H281.6V570.04H283.1V571.4H284.6V570.74H286.1V570.88H287.6V570.62H289.1V569.53H290.6V568.09H292.1V569.29H293.6V571.12H295.1V571.41H296.6V571.17H298.1V572.16H299.6V570.7H301.1V571.78H302.6V571.65H304.1V570.6H305.6V568.97H307.1V567.78H308.6V568.23H310.1V571.03H311.6V570.84H313.1V572.16H314.6V571.04H316.1V571.49H317.6V570.67H319.1V570.43H320.6V570.79H322.1V570.73H323.6V567.99H325.1V566.77H326.6V568.56H328.1V570.86H329.6V571.98H331.1V571.62H332.6V570.67H334.1V571.63H335.6V570.74H337.1V571.41H338.6V570.99H340.1V571.15H341.6V571.55H343.1V570.95H344.6V567.84H346.1V568.54H347.6V569.31H349.1V570.87H350.6V571.06H352.1V571.06H353.6V570.65H355.1V570.83H356.6V571.71H358.1V571.91H359.6V570.78H361.1V570.7H362.6V569.45H364.1V568.14H365.6V568.41H367.1V570.76H368.6V570.94H370.1V571.23H371.6V571.28H373.1V570.34H374.6V571.09H376.1V570.87H377.6V571.68H379.1V570.47H380.6V568.58H382.1V568.1H383.6V569.39H385.1V570.78H386.6V570.52H388.1V570.56H389.6V571.51H391.1V571.42H392.6V571.1H393.6V574.3ZM401.4,574.3V569.79H402.9V566.42H404.4V567.86H405.9V571.04H407.4V571.27H408.9V571.45H410.4V570.38H411.9V571.43H413.4V571.13H414.9V571.9H416.4V571.11H417.9V569.83H419.4V567.92H420.9V565.3H422.4V565.43H423.9V568.09H425.4V569.94H426.9V571.77H428.4V570.86H429.9V571.25H431.4V570.77H432.9V571.21H434.4V571.21H435.9V570.89H437.4V568.25H438.9V568.51H440.4V570.75H441.9V570.62H443.4V570.91H444.9V571.53H446.4V570.76H447.9V566.26H449.4V563.7H450.9V561H452.4V557.58H453.9V552.51H455.4V545.91H456.9V544.35H458.4V545.24H459.9V544.42H460.4V574.3Z" fill="#d6d6d6"/>
<path d="M76.2,574.3V563.48H77.7V566.42H79.2V568.91H80.7V570.24H82.2V570.02H83.7V570.27H85.2V568.65H86.7V567.28H88.2V565.79H89.7V565.35H91.2V565.64H92.7V567.19H94.2V568.04H95.7V567.46H97.2V568.05H98.7V568.91H100.2V569.25H101.7V569.73H103.2V570.32H104.2V574.3ZM155.6,574.3V571.47H157.1V570.82H158.6V571.15H160.1V571.48H161.6V571.54H163.1V570.8H164.6V570.8H166.1V569.44H167.6V566.86H169.1V568.81H170.6V570.59H172.1V571.37H173.6V571.63H175.1V571.73H176.6V572.15H178.1V571.75H179.6V571.86H181.1V572.03H182.6V571.76H184.1V571.84H185.6V571.41H187.1V569.22H188.6V567.72H190.1V569.95H191.6V570.61H193.1V571.59H194.6V571.2H196.1V571.75H197.6V571.08H199.1V571.85H200.6V572.03H202.1V570.93H203.6V570.76H205.1V570.63H206.6V569.85H208.1V568.56H209.6V569.14H211.1V568.78H212.6V570.38H214.1V570.41H215.6V571.92H217.1V571.88H218.6V571.4H220.1V571.51H221.6V571.76H223.1V571.02H224.6V571.14H226.1V570.29H227.6V568.51H229.1V567.18H230.6V568.2H232.1V569.02H233.6V570.88H235.1V571.03H236.6V570.85H238.1V571.43H239.6V571.1H241.1V571.1H242.6V570.24H244.1V570.09H245.6V570.49H247.1V571.37H248.6V571.05H250.1V571.44H251.6V571.81H253.1V570.87H254.6V571.67H256.1V570.97H257.6V571.16H259.1V569.38H260.6V569.59H262.1V569.78H263.6V567.97H265.1V568.13H266.6V568.9H268.1V570.6H269.6V570.28H271.1V569.34H272.6V568.55H274.1V568.35H275.6V567.3H277.1V567.33H278.6V568.92H280.1V570.56H281.6V570.49H283.1V571.68H284.6V570.97H286.1V571.14H287.6V570.81H289.1V569.7H290.6V568.7H292.1V569.85H293.6V571.28H295.1V571.68H296.6V571.29H298.1V572.19H299.6V571.2H301.1V572.12H302.6V572.03H304.1V570.97H305.6V569.11H307.1V568.22H308.6V568.61H310.1V571.06H311.6V571.28H313.1V572.17H314.6V571.28H316.1V571.92H317.6V570.87H319.1V570.85H320.6V571.07H322.1V571.1H323.6V568.67H325.1V567.4H326.6V568.89H328.1V571.03H329.6V572H331.1V571.74H332.6V571.02H334.1V572.19H335.6V571.13H337.1V571.73H338.6V571.02H340.1V571.32H341.6V571.58H343.1V571.15H344.6V568.35H346.1V568.68H347.6V569.69H349.1V571H350.6V571.59H352.1V571.44H353.6V571.1H355.1V570.85H356.6V571.77H358.1V572.04H359.6V571H361.1V570.93H362.6V570.08H364.1V568.84H365.6V569.08H367.1V571.14H368.6V571.24H370.1V571.44H371.6V571.75H373.1V570.85H374.6V571.57H376.1V571.12H377.6V572.07H379.1V570.84H380.6V568.75H382.1V568.25H383.6V569.85H385.1V571.35H386.6V571.01H388.1V570.93H389.6V571.82H391.1V571.45H392.6V571.32H393.6V574.3ZM401.4,574.3V570.31H402.9V567.82H404.4V569.01H405.9V571.45H407.4V571.4H408.9V571.61H410.4V570.96H411.9V571.81H413.4V571.45H414.9V571.96H416.4V571.8H417.9V571.08H419.4V570.17H420.9V568.29H422.4V568.48H423.9V569.86H425.4V570.7H426.9V572.1H428.4V570.89H429.9V571.74H431.4V571.24H432.9V571.66H434.4V571.74H435.9V571.03H437.4V568.51H438.9V568.72H440.4V571.13H441.9V570.83H443.4V571.48H444.9V571.79H446.4V571.26H447.9V567.95H449.4V566.07H450.9V564.16H452.4V563.54H453.9V562.02H455.4V559.51H456.9V558.93H458.4V559.35H459.9V558.5H460.4V574.3Z" fill="#1aa0d2"/>
<path d="M76.2,574.3V572.65H77.7V573.23H79.2V572.77H80.7V573.23H82.2V572.87H83.7V573.06H85.2V572.99H86.7V572.89H88.2V572.7H89.7V573.15H91.2V572.7H92.7V572.59H94.2V572.56H95.7V573.01H97.2V573.06H98.7V572.89H100.2V572.84H101.7V572.94H103.2V572.87H104.2V574.3ZM155.6,574.3V573.09H157.1V572.93H158.6V573.09H160.1V573.28H161.6V572.81H163.1V572.57H164.6V572.87H166.1V572.78H167.6V572.96H169.1V573.15H170.6V573.02H172.1V572.52H173.6V572.7H175.1V572.64H176.6V573.07H178.1V572.87H179.6V573.07H181.1V572.76H182.6V573.01H184.1V572.67H185.6V572.95H187.1V572.88H188.6V572.85H190.1V573.05H191.6V572.53H193.1V573.17H194.6V572.96H196.1V572.7H197.6V573.11H199.1V573.29H200.6V572.96H202.1V573.16H203.6V573.03H205.1V572.53H206.6V572.61H208.1V573.19H209.6V572.59H211.1V572.67H212.6V572.61H214.1V573.08H215.6V572.57H217.1V573.27H218.6V572.76H220.1V573.09H221.6V572.55H223.1V573.13H224.6V572.55H226.1V573H227.6V572.72H229.1V572.91H230.6V573.19H232.1V573.12H233.6V572.62H235.1V572.54H236.6V572.91H238.1V572.52H239.6V573.15H241.1V573.14H242.6V573.2H244.1V573.06H245.6V573.05H247.1V572.85H248.6V572.87H250.1V572.74H251.6V572.58H253.1V573.21H254.6V573.04H256.1V572.52H257.6V573.21H259.1V572.99H260.6V573.27H262.1V572.71H263.6V572.65H265.1V573.09H266.6V573.22H268.1V572.78H269.6V573.29H271.1V572.93H272.6V573.04H274.1V572.6H275.6V573.06H277.1V572.83H278.6V573.24H280.1V573.18H281.6V573.14H283.1V573.23H284.6V573.25H286.1V572.69H287.6V572.9H289.1V572.71H290.6V572.77H292.1V573.13H293.6V572.88H295.1V572.65H296.6V573.2H298.1V573.09H299.6V572.99H301.1V572.54H302.6V572.5H304.1V572.65H305.6V572.67H307.1V572.82H308.6V572.56H310.1V573.19H311.6V572.57H313.1V572.99H314.6V573.08H316.1V572.81H317.6V572.92H319.1V573.09H320.6V573.23H322.1V573.05H323.6V573.09H325.1V573.29H326.6V573.17H328.1V573.27H329.6V573.02H331.1V573.16H332.6V572.81H334.1V573.27H335.6V572.97H337.1V572.83H338.6V573.23H340.1V572.84H341.6V572.64H343.1V572.71H344.6V572.56H346.1V572.93H347.6V572.8H349.1V572.85H350.6V573.05H352.1V572.74H353.6V573.19H355.1V572.71H356.6V573.01H358.1V572.53H359.6V572.9H361.1V573.19H362.6V572.53H364.1V572.97H365.6V572.58H367.1V573.24H368.6V572.83H370.1V573.19H371.6V573.08H373.1V573.09H374.6V573.29H376.1V572.76H377.6V573.25H379.1V572.79H380.6V573.01H382.1V573.1H383.6V572.64H385.1V573.02H386.6V572.7H388.1V572.6H389.6V572.84H391.1V573.09H392.6V572.74H393.6V574.3ZM401.4,574.3V573.19H402.9V573.05H404.4V573.01H405.9V572.57H407.4V573.29H408.9V572.53H410.4V572.57H411.9V572.86H413.4V573.13H414.9V572.75H416.4V572.78H417.9V573.23H419.4V573H420.9V573.3H422.4V572.94H423.9V573.22H425.4V572.74H426.9V573.14H428.4V573.28H429.9V573.15H431.4V572.82H432.9V573.2H434.4V573.13H435.9V572.87H437.4V572.89H438.9V572.91H440.4V572.55H441.9V573.14H443.4V573.11H444.9V572.55H446.4V572.98H447.9V572.68H449.4V573.01H450.9V572.93H452.4V572.8H453.9V572.09H455.4V572.17H456.9V571.55H458.4V571.75H459.9V571.89H460.4V574.3Z" fill="#0d3d5e"/>
<line x1="464.6" y1="536.2" x2="464.6" y2="574.6" stroke="#222" stroke-width="0.7"/>
<line x1="464.6" y1="538.5" x2="466.4" y2="538.5" stroke="#222" stroke-width="0.6"/>
<text x="470" y="540.4" font-size="5.4" fill="#222" stroke="#222" stroke-width="0.15" textLength="18.75" lengthAdjust="spacingAndGlyphs">800 (/kb)</text>
<line x1="464.6" y1="547.6" x2="466.4" y2="547.6" stroke="#222" stroke-width="0.6"/>
<text x="470" y="549.5" font-size="5.4" fill="#222" stroke="#222" stroke-width="0.15" textLength="7.93" lengthAdjust="spacingAndGlyphs">600</text>
<line x1="464.6" y1="556.5" x2="466.4" y2="556.5" stroke="#222" stroke-width="0.6"/>
<text x="470" y="558.4" font-size="5.4" fill="#222" stroke="#222" stroke-width="0.15" textLength="7.93" lengthAdjust="spacingAndGlyphs">400</text>
<line x1="464.6" y1="565.4" x2="466.4" y2="565.4" stroke="#222" stroke-width="0.6"/>
<text x="470" y="567.3" font-size="5.4" fill="#222" stroke="#222" stroke-width="0.15" textLength="7.93" lengthAdjust="spacingAndGlyphs">200</text>
<line x1="464.6" y1="574.3" x2="466.4" y2="574.3" stroke="#222" stroke-width="0.6"/>
<line x1="76.2" y1="598.4" x2="463.8" y2="598.4" stroke="#9a9a9a" stroke-width="0.5"/>
<path d="M76.2,598.2V586.5H78.4V590.2H80.6V591.7H84.2V591.4H86.5V593H89.8V598.2ZM97.6,598.2V595.4H100.8V598.2ZM155.2,598.2V593.8H157.8V592.7H160.4V592.4H163V593.66H165.6V593.79H168.2V593.39H168.6V598.2ZM166.4,598.2V590.2H168.6V598.2ZM170.8,598.2V591.94H173.4V593.41H176V593.7H178.6V593.86H181.2V590.85H183.8V592.12H186.4V592.71H189V592.18H191.6V592.71H194.2V593.47H196.8V594.67H199.4V593.54H202V591.99H204.6V593.42H207.2V594.52H209.8V592.75H212.4V592.23H215V593.47H217.6V591.87H220.2V593.94H222.8V592.94H225.4V591.43H228V592.82H230V598.2ZM230,598.2V593.05H232.6V591.31H235.2V591.75H237.8V592.45H240.4V592.67H243V591.89H245.6V590.89H248.2V592.73H250.8V593H253.4V592.46H256V592.4H258.6V591.12H261.2V592.85H263.8V591.57H266.4V590.59H269V588.09H271.6V590H274.2V590.56H276.8V590.02H279.4V590.64H282V590.03H284.6V591.5H287.2V591.77H289.8V591.88H292.4V591.66H295V590.73H297.6V590.15H300V598.2ZM300,598.2V592.43H302.6V593.02H305.2V591.63H307.8V593.4H310.4V592.36H313V591.08H315.6V593.08H318.2V592.54H320.8V593.51H323.4V591.21H326V592.37H328.6V591.8H331.2V593.59H333.8V591.08H336.4V590.99H339V592.64H341.6V593.14H344.2V592.98H346.8V591.18H349.4V590.59H352V591.31H354.6V592.6H357.2V591.01H359.8V592.78H362.4V591.81H365V592.43H367.6V592.37H370.2V592.08H372.8V591.52H375.4V593.09H378V592.49H380.6V591.04H383.2V591.47H385.8V589.68H388.4V590.34H391V590.41H393.6V592.06H396V598.2ZM399.2,598.2V595.3H401.6V598.2ZM412,598.2V593.22H414.6V592.34H417.2V592.63H419.8V592.95H422.4V592.68H425V592.57H427.6V593.34H430.2V591.64H432.8V591.28H435.4V592.27H438V593.27H440.6V591.95H443.2V593.25H445.8V592.66H446V598.2ZM446,598.2V586.84H448.6V588.74H451.2V589.45H453.8V590.64H455.6V598.2ZM455.6,598.2V582.3H458V587H460.4V598.2Z" fill="#0a0a0a"/>
<line x1="464.6" y1="578.5" x2="464.6" y2="598.5" stroke="#222" stroke-width="0.7"/>
<line x1="464.6" y1="580" x2="466.4" y2="580" stroke="#222" stroke-width="0.6"/>
<text x="470" y="581.9" font-size="5.4" fill="#222" stroke="#222" stroke-width="0.15" textLength="18.75" lengthAdjust="spacingAndGlyphs">200 (/kb)</text>
<line x1="464.6" y1="589.2" x2="466.4" y2="589.2" stroke="#222" stroke-width="0.6"/>
<text x="470" y="591.1" font-size="5.4" fill="#222" stroke="#222" stroke-width="0.15" textLength="7.93" lengthAdjust="spacingAndGlyphs">100</text>
<line x1="464.6" y1="598.2" x2="466.4" y2="598.2" stroke="#222" stroke-width="0.6"/>
<text x="470" y="600.1" font-size="5.4" fill="#222" stroke="#222" stroke-width="0.15" textLength="2.64" lengthAdjust="spacingAndGlyphs">0</text>
<path d="M76.2,614.06 L77.1,614.08 L78,614.65 L78.9,613.67 L79.8,612.49 L80.7,611.57 L81.6,611.54 L82.5,611.28 L83.4,610.69 L84.3,611.02 L85.2,610.92 L86.1,611.15 L87,611.1 L87.9,611.35 L88.8,611.85 L89.7,612.61 L90.6,614.2 L91.5,615.23 L92.4,616.26 L93.3,617.24 L94.2,616.69 L95.1,615.65 L96,614.61 L96.9,614.32 L97.8,615.16 L98.7,616.29 L99.6,616.75 L100.5,616.88 L101.4,615.83 L102.3,614.83 L103.2,613.73 L104.1,613.18 L105,612.61 L105.6,612.24 L105.6,622 L105,622 L104.1,622 L103.2,622 L102.3,622 L101.4,622 L100.5,622 L99.6,622 L98.7,622 L97.8,622 L96.9,622 L96,622 L95.1,622 L94.2,622 L93.3,622 L92.4,622 L91.5,622 L90.6,622 L89.7,622 L88.8,622 L87.9,622 L87,622 L86.1,622 L85.2,622 L84.3,622 L83.4,622 L82.5,622 L81.6,622 L80.7,622 L79.8,622 L78.9,622 L78,622 L77.1,622 L76.2,622Z" fill="#1f9dd8"/>
<path d="M76.2,609.25 L77.1,609.81 L78,610.24 L78.9,609.07 L79.8,608.01 L80.7,607.52 L81.6,607.15 L82.5,607.04 L83.4,606.45 L84.3,606.04 L85.2,606.52 L86.1,606.91 L87,606.89 L87.9,606.33 L88.8,606.97 L89.7,607.69 L90.6,610.01 L91.5,610.63 L92.4,611.52 L93.3,612.23 L94.2,611.85 L95.1,610.63 L96,610.32 L96.9,609.75 L97.8,610.95 L98.7,611.88 L99.6,612.73 L100.5,612.67 L101.4,611.85 L102.3,610.56 L103.2,609.7 L104.1,608.8 L105,607.99 L105.6,607.88 L105.6,612.24 L105,612.61 L104.1,613.18 L103.2,613.73 L102.3,614.83 L101.4,615.83 L100.5,616.88 L99.6,616.75 L98.7,616.29 L97.8,615.16 L96.9,614.32 L96,614.61 L95.1,615.65 L94.2,616.69 L93.3,617.24 L92.4,616.26 L91.5,615.23 L90.6,614.2 L89.7,612.61 L88.8,611.85 L87.9,611.35 L87,611.1 L86.1,611.15 L85.2,610.92 L84.3,611.02 L83.4,610.69 L82.5,611.28 L81.6,611.54 L80.7,611.57 L79.8,612.49 L78.9,613.67 L78,614.65 L77.1,614.08 L76.2,614.06Z" fill="#ef6458"/>
<path d="M76.2,608.35 L77.1,608.91 L78,609.34 L78.9,608.17 L79.8,607.11 L80.7,606.62 L81.6,606.25 L82.5,606.14 L83.4,605.55 L84.3,605.14 L85.2,605.62 L86.1,606.01 L87,605.99 L87.9,605.43 L88.8,606.07 L89.7,606.79 L90.6,609.11 L91.5,609.73 L92.4,610.62 L93.3,611.33 L94.2,610.95 L95.1,609.73 L96,609.42 L96.9,608.85 L97.8,610.05 L98.7,610.98 L99.6,611.83 L100.5,611.77 L101.4,610.95 L102.3,609.66 L103.2,608.8 L104.1,607.9 L105,607.09 L105.6,606.98 L105.6,607.88 L105,607.99 L104.1,608.8 L103.2,609.7 L102.3,610.56 L101.4,611.85 L100.5,612.67 L99.6,612.73 L98.7,611.88 L97.8,610.95 L96.9,609.75 L96,610.32 L95.1,610.63 L94.2,611.85 L93.3,612.23 L92.4,611.52 L91.5,610.63 L90.6,610.01 L89.7,607.69 L88.8,606.97 L87.9,606.33 L87,606.89 L86.1,606.91 L85.2,606.52 L84.3,606.04 L83.4,606.45 L82.5,607.04 L81.6,607.15 L80.7,607.52 L79.8,608.01 L78.9,609.07 L78,610.24 L77.1,609.81 L76.2,609.25Z" fill="#e0a060"/>
<path d="M76.2,606.85 L77.1,606.94 L78,607.26 L78.9,606.64 L79.8,605.32 L80.7,604.61 L81.6,604.47 L82.5,604.02 L83.4,603.43 L84.3,603.33 L85.2,604.17 L86.1,604.14 L87,604.24 L87.9,603.6 L88.8,604.04 L89.7,605.06 L90.6,607.43 L91.5,608.07 L92.4,608.49 L93.3,609.87 L94.2,609.24 L95.1,608.17 L96,607.68 L96.9,606.92 L97.8,608.3 L98.7,608.93 L99.6,609.94 L100.5,610.31 L101.4,608.89 L102.3,607.69 L103.2,607.24 L104.1,606.22 L105,605.17 L105.6,605.1 L105.6,606.98 L105,607.09 L104.1,607.9 L103.2,608.8 L102.3,609.66 L101.4,610.95 L100.5,611.77 L99.6,611.83 L98.7,610.98 L97.8,610.05 L96.9,608.85 L96,609.42 L95.1,609.73 L94.2,610.95 L93.3,611.33 L92.4,610.62 L91.5,609.73 L90.6,609.11 L89.7,606.79 L88.8,606.07 L87.9,605.43 L87,605.99 L86.1,606.01 L85.2,605.62 L84.3,605.14 L83.4,605.55 L82.5,606.14 L81.6,606.25 L80.7,606.62 L79.8,607.11 L78.9,608.17 L78,609.34 L77.1,608.91 L76.2,608.35Z" fill="#86c47c"/>
<path d="M76.2,604 L77.1,604 L78,604 L78.9,604 L79.8,604 L80.7,604 L81.6,604 L82.5,604 L83.4,604 L84.3,604 L85.2,604 L86.1,604 L87,604 L87.9,604 L88.8,604 L89.7,604 L90.6,604 L91.5,604 L92.4,604 L93.3,604 L94.2,604 L95.1,604 L96,604 L96.9,604 L97.8,604 L98.7,604 L99.6,604 L100.5,604 L101.4,604 L102.3,604 L103.2,604 L104.1,604 L105,604 L105.6,604 L105.6,605.1 L105,605.17 L104.1,606.22 L103.2,607.24 L102.3,607.69 L101.4,608.89 L100.5,610.31 L99.6,609.94 L98.7,608.93 L97.8,608.3 L96.9,606.92 L96,607.68 L95.1,608.17 L94.2,609.24 L93.3,609.87 L92.4,608.49 L91.5,608.07 L90.6,607.43 L89.7,605.06 L88.8,604.04 L87.9,603.6 L87,604.24 L86.1,604.14 L85.2,604.17 L84.3,603.33 L83.4,603.43 L82.5,604.02 L81.6,604.47 L80.7,604.61 L79.8,605.32 L78.9,606.64 L78,607.26 L77.1,606.94 L76.2,606.85Z" fill="#82aca4"/>
<path d="M155.6,614.42 L156.5,613.54 L157.4,613.54 L158.3,614.04 L159.2,613.75 L160.1,613.44 L161,613.18 L161.9,615.21 L162.8,613.8 L163.7,613.21 L164.6,613.36 L165.5,613.19 L166.4,613.35 L167.3,613.64 L168.2,614.01 L169.1,613.73 L170,614.1 L170.9,613.27 L171.8,613.16 L172.7,613.62 L173.6,612.99 L174.5,613.25 L175.4,612.83 L176.3,612.91 L177.2,611.87 L178.1,612.02 L179,612.04 L179.9,611.91 L180.8,614.42 L181.7,611.84 L182.6,612.29 L183.5,611.88 L184.4,611.92 L185.3,612.56 L186.2,612.04 L187.1,612.51 L188,612.38 L188.9,612.63 L189.8,613.35 L190.7,613.23 L191.6,612.69 L192.5,612.52 L193.4,612.76 L194.3,612.76 L195.2,612.76 L196.1,612.52 L197,612.97 L197.9,612.21 L198.8,612.52 L199.7,612.55 L200.6,612.77 L201.5,613.13 L202.4,613.77 L203.3,613.31 L204.2,613.17 L205.1,614.38 L206,614.14 L206.9,614.75 L207.8,614.22 L208.7,614.36 L209.6,614.94 L210.5,614.13 L211.4,614.11 L212.3,614.31 L213.2,614.09 L214.1,614.61 L215,613.98 L215.9,613.96 L216.8,613.93 L217.7,613.1 L218.6,613.44 L219.5,613.34 L220.4,613.26 L221.3,613.49 L222.2,613.03 L223.1,615.17 L224,613.14 L224.9,613.24 L225.8,613.29 L226.7,615.89 L227.6,613.57 L228.5,614.01 L229.4,613.43 L230.3,613.49 L231.2,612.79 L232.1,612.52 L233,612.32 L233.9,612.94 L234.8,612.66 L235.7,612.24 L236.6,612.03 L237.5,611.85 L238.4,611.58 L239.3,611.55 L240.2,611.37 L241.1,611.43 L242,611.99 L242.9,611.71 L243.8,612.77 L244.7,612.86 L245.6,613 L246.5,612.53 L247.4,612.82 L248.3,613.02 L249.2,613.45 L250.1,613.57 L251,613.67 L251.9,613.48 L252.8,613.62 L253.7,612.86 L254.6,612.9 L255.5,613.39 L256.4,612.43 L257.3,613.27 L258.2,613.34 L259.1,613.07 L260,613.04 L260.9,613.32 L261.8,614.12 L262.7,613.49 L263.6,613.77 L264.5,613.98 L265.4,614 L266.3,614.08 L267.2,614.2 L268.1,614.75 L269,614.56 L269.9,614.44 L270.8,614.25 L271.7,613.85 L272.6,614.25 L273.5,613.6 L274.4,613.73 L275.3,613.24 L276.2,613.8 L277.1,613.7 L278,613.52 L278.9,613.47 L279.8,613.58 L280.7,613.54 L281.6,613.08 L282.5,613.11 L283.4,612.82 L284.3,613.2 L285.2,613.75 L286.1,613.09 L287,612.78 L287.9,612.89 L288.8,613.28 L289.7,612.52 L290.6,612.36 L291.5,612.07 L292.4,612.12 L293.3,612.12 L294.2,611.66 L295.1,611.55 L296,611.66 L296.9,611.64 L297.8,611.85 L298.7,612.21 L299.6,611.64 L300.5,612.45 L301.4,612.31 L302.3,612.04 L303.2,612.75 L304.1,612.81 L305,612.54 L305.9,612.74 L306.8,613.27 L307.7,613.89 L308.6,613.24 L309.5,613.84 L310.4,614.78 L311.3,613.22 L312.2,613.43 L313.1,613.07 L314,613.29 L314.9,612.64 L315.8,612.78 L316.7,612.93 L317.6,613.74 L318.5,613.83 L319.4,613.76 L320.3,613.77 L321.2,613.84 L322.1,614.34 L323,614.18 L323.9,613.92 L324.8,614.55 L325.7,615.11 L326.6,614.35 L327.5,614.44 L328.4,614.06 L329.3,614.48 L330.2,614.49 L331.1,614.19 L332,614.1 L332.9,613.55 L333.8,612.82 L334.7,613.57 L335.6,612.75 L336.5,612.66 L337.4,612.54 L338.3,612.73 L339.2,612.55 L340.1,612.46 L341,613.13 L341.9,613.49 L342.8,613.02 L343.7,612.65 L344.6,612.71 L345.5,612.96 L346.4,613.17 L347.3,615.39 L348.2,612.84 L349.1,612.87 L350,612.12 L350.9,612.68 L351.8,611.67 L352.7,611.63 L353.6,611.55 L354.5,611.85 L355.4,612.05 L356.3,611.4 L357.2,611.64 L358.1,612.49 L359,615.14 L359.9,612.97 L360.8,612.71 L361.7,613.22 L362.6,612.54 L363.5,613.06 L364.4,613.17 L365.3,613.78 L366.2,613.85 L367.1,613.05 L368,613.46 L368.9,613.03 L369.8,612.94 L370.7,613.89 L371.6,612.98 L372.5,613.08 L373.4,613.66 L374.3,613.23 L375.2,612.96 L376.1,613.3 L377,613.94 L377.9,613.43 L378.8,613.56 L379.7,613.74 L380.6,614.04 L381.5,614.12 L382.4,614.53 L383.3,614.22 L384.2,615.01 L385.1,614.36 L386,614.81 L386.9,614.48 L387.8,614.27 L388.7,614.26 L389.6,614.29 L390.5,613.74 L391.4,613.6 L392.3,613.42 L393.2,612.72 L394.1,613.1 L394.8,613.26 L394.8,622 L394.1,622 L393.2,622 L392.3,622 L391.4,622 L390.5,622 L389.6,622 L388.7,622 L387.8,622 L386.9,622 L386,622 L385.1,622 L384.2,622 L383.3,622 L382.4,622 L381.5,622 L380.6,622 L379.7,622 L378.8,622 L377.9,622 L377,622 L376.1,622 L375.2,622 L374.3,622 L373.4,622 L372.5,622 L371.6,622 L370.7,622 L369.8,622 L368.9,622 L368,622 L367.1,622 L366.2,622 L365.3,622 L364.4,622 L363.5,622 L362.6,622 L361.7,622 L360.8,622 L359.9,622 L359,622 L358.1,622 L357.2,622 L356.3,622 L355.4,622 L354.5,622 L353.6,622 L352.7,622 L351.8,622 L350.9,622 L350,622 L349.1,622 L348.2,622 L347.3,622 L346.4,622 L345.5,622 L344.6,622 L343.7,622 L342.8,622 L341.9,622 L341,622 L340.1,622 L339.2,622 L338.3,622 L337.4,622 L336.5,622 L335.6,622 L334.7,622 L333.8,622 L332.9,622 L332,622 L331.1,622 L330.2,622 L329.3,622 L328.4,622 L327.5,622 L326.6,622 L325.7,622 L324.8,622 L323.9,622 L323,622 L322.1,622 L321.2,622 L320.3,622 L319.4,622 L318.5,622 L317.6,622 L316.7,622 L315.8,622 L314.9,622 L314,622 L313.1,622 L312.2,622 L311.3,622 L310.4,622 L309.5,622 L308.6,622 L307.7,622 L306.8,622 L305.9,622 L305,622 L304.1,622 L303.2,622 L302.3,622 L301.4,622 L300.5,622 L299.6,622 L298.7,622 L297.8,622 L296.9,622 L296,622 L295.1,622 L294.2,622 L293.3,622 L292.4,622 L291.5,622 L290.6,622 L289.7,622 L288.8,622 L287.9,622 L287,622 L286.1,622 L285.2,622 L284.3,622 L283.4,622 L282.5,622 L281.6,622 L280.7,622 L279.8,622 L278.9,622 L278,622 L277.1,622 L276.2,622 L275.3,622 L274.4,622 L273.5,622 L272.6,622 L271.7,622 L270.8,622 L269.9,622 L269,622 L268.1,622 L267.2,622 L266.3,622 L265.4,622 L264.5,622 L263.6,622 L262.7,622 L261.8,622 L260.9,622 L260,622 L259.1,622 L258.2,622 L257.3,622 L256.4,622 L255.5,622 L254.6,622 L253.7,622 L252.8,622 L251.9,622 L251,622 L250.1,622 L249.2,622 L248.3,622 L247.4,622 L246.5,622 L245.6,622 L244.7,622 L243.8,622 L242.9,622 L242,622 L241.1,622 L240.2,622 L239.3,622 L238.4,622 L237.5,622 L236.6,622 L235.7,622 L234.8,622 L233.9,622 L233,622 L232.1,622 L231.2,622 L230.3,622 L229.4,622 L228.5,622 L227.6,622 L226.7,622 L225.8,622 L224.9,622 L224,622 L223.1,622 L222.2,622 L221.3,622 L220.4,622 L219.5,622 L218.6,622 L217.7,622 L216.8,622 L215.9,622 L215,622 L214.1,622 L213.2,622 L212.3,622 L211.4,622 L210.5,622 L209.6,622 L208.7,622 L207.8,622 L206.9,622 L206,622 L205.1,622 L204.2,622 L203.3,622 L202.4,622 L201.5,622 L200.6,622 L199.7,622 L198.8,622 L197.9,622 L197,622 L196.1,622 L195.2,622 L194.3,622 L193.4,622 L192.5,622 L191.6,622 L190.7,622 L189.8,622 L188.9,622 L188,622 L187.1,622 L186.2,622 L185.3,622 L184.4,622 L183.5,622 L182.6,622 L181.7,622 L180.8,622 L179.9,622 L179,622 L178.1,622 L177.2,622 L176.3,622 L175.4,622 L174.5,622 L173.6,622 L172.7,622 L171.8,622 L170.9,622 L170,622 L169.1,622 L168.2,622 L167.3,622 L166.4,622 L165.5,622 L164.6,622 L163.7,622 L162.8,622 L161.9,622 L161,622 L160.1,622 L159.2,622 L158.3,622 L157.4,622 L156.5,622 L155.6,622Z" fill="#1f9dd8"/>
<path d="M155.6,609.69 L156.5,608.8 L157.4,609.06 L158.3,609.97 L159.2,609.76 L160.1,609.39 L161,609.03 L161.9,610.75 L162.8,609.68 L163.7,608.6 L164.6,609.14 L165.5,608.72 L166.4,608.67 L167.3,608.83 L168.2,609 L169.1,609.53 L170,609.59 L170.9,608.44 L171.8,608.73 L172.7,609.64 L173.6,608.65 L174.5,608.24 L175.4,608.65 L176.3,608.79 L177.2,606.95 L178.1,607.54 L179,607.16 L179.9,607.52 L180.8,610.15 L181.7,606.97 L182.6,607.37 L183.5,607.44 L184.4,607.4 L185.3,608.21 L186.2,607.18 L187.1,607.67 L188,608.23 L188.9,607.94 L189.8,608.37 L190.7,608.71 L191.6,608.06 L192.5,607.89 L193.4,608.54 L194.3,607.98 L195.2,608.33 L196.1,608.33 L197,608.85 L197.9,608.22 L198.8,608.11 L199.7,607.85 L200.6,608.06 L201.5,608.96 L202.4,609.79 L203.3,608.88 L204.2,608.75 L205.1,610.34 L206,609.43 L206.9,609.87 L207.8,609.34 L208.7,610.21 L209.6,610.89 L210.5,610.05 L211.4,609.09 L212.3,610.25 L213.2,609.6 L214.1,610.42 L215,609.02 L215.9,609.21 L216.8,609.12 L217.7,608.06 L218.6,609.39 L219.5,608.5 L220.4,609.16 L221.3,608.91 L222.2,608.09 L223.1,610.53 L224,608.84 L224.9,609.02 L225.8,609.14 L226.7,611.75 L227.6,609.27 L228.5,609.29 L229.4,608.88 L230.3,608.65 L231.2,607.81 L232.1,607.93 L233,608.33 L233.9,608.56 L234.8,607.91 L235.7,607.4 L236.6,607.22 L237.5,607.18 L238.4,606.62 L239.3,607.16 L240.2,606.7 L241.1,607.27 L242,608 L242.9,607.42 L243.8,607.81 L244.7,608.66 L245.6,608.94 L246.5,608.24 L247.4,608.61 L248.3,608.6 L249.2,609.44 L250.1,609.46 L251,609.66 L251.9,609.42 L252.8,608.99 L253.7,608.71 L254.6,608.68 L255.5,608.65 L256.4,607.63 L257.3,608.61 L258.2,608.8 L259.1,609.03 L260,608.89 L260.9,608.95 L261.8,609.28 L262.7,609.34 L263.6,608.88 L264.5,609.14 L265.4,609.98 L266.3,609.72 L267.2,610.01 L268.1,610 L269,610.49 L269.9,610.1 L270.8,610.21 L271.7,609.1 L272.6,609.57 L273.5,608.69 L274.4,608.87 L275.3,609.06 L276.2,608.9 L277.1,609.64 L278,609.39 L278.9,608.63 L279.8,609.42 L280.7,608.57 L281.6,609.06 L282.5,608.34 L283.4,608.32 L284.3,608.53 L285.2,609.22 L286.1,608.6 L287,607.94 L287.9,608.48 L288.8,608.34 L289.7,608 L290.6,607.41 L291.5,607.13 L292.4,607.71 L293.3,608.15 L294.2,607.11 L295.1,606.73 L296,607 L296.9,606.77 L297.8,607.12 L298.7,607.21 L299.6,606.64 L300.5,608.22 L301.4,607.71 L302.3,607.01 L303.2,607.93 L304.1,608.26 L305,608.24 L305.9,607.94 L306.8,609.19 L307.7,609.63 L308.6,608.8 L309.5,609.57 L310.4,610.4 L311.3,608.4 L312.2,609.19 L313.1,608.82 L314,608.59 L314.9,607.7 L315.8,608.33 L316.7,608.72 L317.6,609.57 L318.5,608.84 L319.4,608.94 L320.3,608.97 L321.2,609.64 L322.1,610.37 L323,609.5 L323.9,609.02 L324.8,609.58 L325.7,610.75 L326.6,609.9 L327.5,609.4 L328.4,609.45 L329.3,610 L330.2,610.08 L331.1,609.16 L332,609.27 L332.9,608.78 L333.8,608.76 L334.7,608.78 L335.6,608.28 L336.5,608.33 L337.4,608.39 L338.3,608.37 L339.2,607.57 L340.1,607.98 L341,608.9 L341.9,608.99 L342.8,608.55 L343.7,607.62 L344.6,608.01 L345.5,607.98 L346.4,608.39 L347.3,611.25 L348.2,608.36 L349.1,607.85 L350,607.74 L350.9,608.29 L351.8,607.34 L352.7,607.21 L353.6,607.31 L354.5,607.16 L355.4,607.72 L356.3,607.22 L357.2,607.17 L358.1,608.21 L359,610.95 L359.9,608.25 L360.8,608.65 L361.7,608.62 L362.6,607.63 L363.5,608.45 L364.4,608.54 L365.3,609.47 L366.2,609.02 L367.1,608.42 L368,608.86 L368.9,608.45 L369.8,608.25 L370.7,609.23 L371.6,608.3 L372.5,608.92 L373.4,608.63 L374.3,608.44 L375.2,608.63 L376.1,608.87 L377,609.84 L377.9,608.42 L378.8,609.38 L379.7,608.97 L380.6,609.49 L381.5,609.77 L382.4,610.1 L383.3,609.73 L384.2,610.4 L385.1,609.84 L386,610.51 L386.9,610.25 L387.8,610.04 L388.7,609.55 L389.6,610.23 L390.5,609.49 L391.4,609.19 L392.3,608.81 L393.2,607.91 L394.1,608.1 L394.8,608.7 L394.8,613.26 L394.1,613.1 L393.2,612.72 L392.3,613.42 L391.4,613.6 L390.5,613.74 L389.6,614.29 L388.7,614.26 L387.8,614.27 L386.9,614.48 L386,614.81 L385.1,614.36 L384.2,615.01 L383.3,614.22 L382.4,614.53 L381.5,614.12 L380.6,614.04 L379.7,613.74 L378.8,613.56 L377.9,613.43 L377,613.94 L376.1,613.3 L375.2,612.96 L374.3,613.23 L373.4,613.66 L372.5,613.08 L371.6,612.98 L370.7,613.89 L369.8,612.94 L368.9,613.03 L368,613.46 L367.1,613.05 L366.2,613.85 L365.3,613.78 L364.4,613.17 L363.5,613.06 L362.6,612.54 L361.7,613.22 L360.8,612.71 L359.9,612.97 L359,615.14 L358.1,612.49 L357.2,611.64 L356.3,611.4 L355.4,612.05 L354.5,611.85 L353.6,611.55 L352.7,611.63 L351.8,611.67 L350.9,612.68 L350,612.12 L349.1,612.87 L348.2,612.84 L347.3,615.39 L346.4,613.17 L345.5,612.96 L344.6,612.71 L343.7,612.65 L342.8,613.02 L341.9,613.49 L341,613.13 L340.1,612.46 L339.2,612.55 L338.3,612.73 L337.4,612.54 L336.5,612.66 L335.6,612.75 L334.7,613.57 L333.8,612.82 L332.9,613.55 L332,614.1 L331.1,614.19 L330.2,614.49 L329.3,614.48 L328.4,614.06 L327.5,614.44 L326.6,614.35 L325.7,615.11 L324.8,614.55 L323.9,613.92 L323,614.18 L322.1,614.34 L321.2,613.84 L320.3,613.77 L319.4,613.76 L318.5,613.83 L317.6,613.74 L316.7,612.93 L315.8,612.78 L314.9,612.64 L314,613.29 L313.1,613.07 L312.2,613.43 L311.3,613.22 L310.4,614.78 L309.5,613.84 L308.6,613.24 L307.7,613.89 L306.8,613.27 L305.9,612.74 L305,612.54 L304.1,612.81 L303.2,612.75 L302.3,612.04 L301.4,612.31 L300.5,612.45 L299.6,611.64 L298.7,612.21 L297.8,611.85 L296.9,611.64 L296,611.66 L295.1,611.55 L294.2,611.66 L293.3,612.12 L292.4,612.12 L291.5,612.07 L290.6,612.36 L289.7,612.52 L288.8,613.28 L287.9,612.89 L287,612.78 L286.1,613.09 L285.2,613.75 L284.3,613.2 L283.4,612.82 L282.5,613.11 L281.6,613.08 L280.7,613.54 L279.8,613.58 L278.9,613.47 L278,613.52 L277.1,613.7 L276.2,613.8 L275.3,613.24 L274.4,613.73 L273.5,613.6 L272.6,614.25 L271.7,613.85 L270.8,614.25 L269.9,614.44 L269,614.56 L268.1,614.75 L267.2,614.2 L266.3,614.08 L265.4,614 L264.5,613.98 L263.6,613.77 L262.7,613.49 L261.8,614.12 L260.9,613.32 L260,613.04 L259.1,613.07 L258.2,613.34 L257.3,613.27 L256.4,612.43 L255.5,613.39 L254.6,612.9 L253.7,612.86 L252.8,613.62 L251.9,613.48 L251,613.67 L250.1,613.57 L249.2,613.45 L248.3,613.02 L247.4,612.82 L246.5,612.53 L245.6,613 L244.7,612.86 L243.8,612.77 L242.9,611.71 L242,611.99 L241.1,611.43 L240.2,611.37 L239.3,611.55 L238.4,611.58 L237.5,611.85 L236.6,612.03 L235.7,612.24 L234.8,612.66 L233.9,612.94 L233,612.32 L232.1,612.52 L231.2,612.79 L230.3,613.49 L229.4,613.43 L228.5,614.01 L227.6,613.57 L226.7,615.89 L225.8,613.29 L224.9,613.24 L224,613.14 L223.1,615.17 L222.2,613.03 L221.3,613.49 L220.4,613.26 L219.5,613.34 L218.6,613.44 L217.7,613.1 L216.8,613.93 L215.9,613.96 L215,613.98 L214.1,614.61 L213.2,614.09 L212.3,614.31 L211.4,614.11 L210.5,614.13 L209.6,614.94 L208.7,614.36 L207.8,614.22 L206.9,614.75 L206,614.14 L205.1,614.38 L204.2,613.17 L203.3,613.31 L202.4,613.77 L201.5,613.13 L200.6,612.77 L199.7,612.55 L198.8,612.52 L197.9,612.21 L197,612.97 L196.1,612.52 L195.2,612.76 L194.3,612.76 L193.4,612.76 L192.5,612.52 L191.6,612.69 L190.7,613.23 L189.8,613.35 L188.9,612.63 L188,612.38 L187.1,612.51 L186.2,612.04 L185.3,612.56 L184.4,611.92 L183.5,611.88 L182.6,612.29 L181.7,611.84 L180.8,614.42 L179.9,611.91 L179,612.04 L178.1,612.02 L177.2,611.87 L176.3,612.91 L175.4,612.83 L174.5,613.25 L173.6,612.99 L172.7,613.62 L171.8,613.16 L170.9,613.27 L170,614.1 L169.1,613.73 L168.2,614.01 L167.3,613.64 L166.4,613.35 L165.5,613.19 L164.6,613.36 L163.7,613.21 L162.8,613.8 L161.9,615.21 L161,613.18 L160.1,613.44 L159.2,613.75 L158.3,614.04 L157.4,613.54 L156.5,613.54 L155.6,614.42Z" fill="#ef6458"/>
<path d="M155.6,608.79 L156.5,607.9 L157.4,608.16 L158.3,609.07 L159.2,608.86 L160.1,608.49 L161,608.13 L161.9,609.85 L162.8,608.78 L163.7,607.7 L164.6,608.24 L165.5,607.82 L166.4,607.77 L167.3,607.93 L168.2,608.1 L169.1,608.63 L170,608.69 L170.9,607.54 L171.8,607.83 L172.7,608.74 L173.6,607.75 L174.5,607.34 L175.4,607.75 L176.3,607.89 L177.2,606.05 L178.1,606.64 L179,606.26 L179.9,606.62 L180.8,609.25 L181.7,606.07 L182.6,606.47 L183.5,606.54 L184.4,606.5 L185.3,607.31 L186.2,606.28 L187.1,606.77 L188,607.33 L188.9,607.04 L189.8,607.47 L190.7,607.81 L191.6,607.16 L192.5,606.99 L193.4,607.64 L194.3,607.08 L195.2,607.43 L196.1,607.43 L197,607.95 L197.9,607.32 L198.8,607.21 L199.7,606.95 L200.6,607.16 L201.5,608.06 L202.4,608.89 L203.3,607.98 L204.2,607.85 L205.1,609.44 L206,608.53 L206.9,608.97 L207.8,608.44 L208.7,609.31 L209.6,609.99 L210.5,609.15 L211.4,608.19 L212.3,609.35 L213.2,608.7 L214.1,609.52 L215,608.12 L215.9,608.31 L216.8,608.22 L217.7,607.16 L218.6,608.49 L219.5,607.6 L220.4,608.26 L221.3,608.01 L222.2,607.19 L223.1,609.63 L224,607.94 L224.9,608.12 L225.8,608.24 L226.7,610.85 L227.6,608.37 L228.5,608.39 L229.4,607.98 L230.3,607.75 L231.2,606.91 L232.1,607.03 L233,607.43 L233.9,607.66 L234.8,607.01 L235.7,606.5 L236.6,606.32 L237.5,606.28 L238.4,605.72 L239.3,606.26 L240.2,605.8 L241.1,606.37 L242,607.1 L242.9,606.52 L243.8,606.91 L244.7,607.76 L245.6,608.04 L246.5,607.34 L247.4,607.71 L248.3,607.7 L249.2,608.54 L250.1,608.56 L251,608.76 L251.9,608.52 L252.8,608.09 L253.7,607.81 L254.6,607.78 L255.5,607.75 L256.4,606.73 L257.3,607.71 L258.2,607.9 L259.1,608.13 L260,607.99 L260.9,608.05 L261.8,608.38 L262.7,608.44 L263.6,607.98 L264.5,608.24 L265.4,609.08 L266.3,608.82 L267.2,609.11 L268.1,609.1 L269,609.59 L269.9,609.2 L270.8,609.31 L271.7,608.2 L272.6,608.67 L273.5,607.79 L274.4,607.97 L275.3,608.16 L276.2,608 L277.1,608.74 L278,608.49 L278.9,607.73 L279.8,608.52 L280.7,607.67 L281.6,608.16 L282.5,607.44 L283.4,607.42 L284.3,607.63 L285.2,608.32 L286.1,607.7 L287,607.04 L287.9,607.58 L288.8,607.44 L289.7,607.1 L290.6,606.51 L291.5,606.23 L292.4,606.81 L293.3,607.25 L294.2,606.21 L295.1,605.83 L296,606.1 L296.9,605.87 L297.8,606.22 L298.7,606.31 L299.6,605.74 L300.5,607.32 L301.4,606.81 L302.3,606.11 L303.2,607.03 L304.1,607.36 L305,607.34 L305.9,607.04 L306.8,608.29 L307.7,608.73 L308.6,607.9 L309.5,608.67 L310.4,609.5 L311.3,607.5 L312.2,608.29 L313.1,607.92 L314,607.69 L314.9,606.8 L315.8,607.43 L316.7,607.82 L317.6,608.67 L318.5,607.94 L319.4,608.04 L320.3,608.07 L321.2,608.74 L322.1,609.47 L323,608.6 L323.9,608.12 L324.8,608.68 L325.7,609.85 L326.6,609 L327.5,608.5 L328.4,608.55 L329.3,609.1 L330.2,609.18 L331.1,608.26 L332,608.37 L332.9,607.88 L333.8,607.86 L334.7,607.88 L335.6,607.38 L336.5,607.43 L337.4,607.49 L338.3,607.47 L339.2,606.67 L340.1,607.08 L341,608 L341.9,608.09 L342.8,607.65 L343.7,606.72 L344.6,607.11 L345.5,607.08 L346.4,607.49 L347.3,610.35 L348.2,607.46 L349.1,606.95 L350,606.84 L350.9,607.39 L351.8,606.44 L352.7,606.31 L353.6,606.41 L354.5,606.26 L355.4,606.82 L356.3,606.32 L357.2,606.27 L358.1,607.31 L359,610.05 L359.9,607.35 L360.8,607.75 L361.7,607.72 L362.6,606.73 L363.5,607.55 L364.4,607.64 L365.3,608.57 L366.2,608.12 L367.1,607.52 L368,607.96 L368.9,607.55 L369.8,607.35 L370.7,608.33 L371.6,607.4 L372.5,608.02 L373.4,607.73 L374.3,607.54 L375.2,607.73 L376.1,607.97 L377,608.94 L377.9,607.52 L378.8,608.48 L379.7,608.07 L380.6,608.59 L381.5,608.87 L382.4,609.2 L383.3,608.83 L384.2,609.5 L385.1,608.94 L386,609.61 L386.9,609.35 L387.8,609.14 L388.7,608.65 L389.6,609.33 L390.5,608.59 L391.4,608.29 L392.3,607.91 L393.2,607.01 L394.1,607.2 L394.8,607.8 L394.8,608.7 L394.1,608.1 L393.2,607.91 L392.3,608.81 L391.4,609.19 L390.5,609.49 L389.6,610.23 L388.7,609.55 L387.8,610.04 L386.9,610.25 L386,610.51 L385.1,609.84 L384.2,610.4 L383.3,609.73 L382.4,610.1 L381.5,609.77 L380.6,609.49 L379.7,608.97 L378.8,609.38 L377.9,608.42 L377,609.84 L376.1,608.87 L375.2,608.63 L374.3,608.44 L373.4,608.63 L372.5,608.92 L371.6,608.3 L370.7,609.23 L369.8,608.25 L368.9,608.45 L368,608.86 L367.1,608.42 L366.2,609.02 L365.3,609.47 L364.4,608.54 L363.5,608.45 L362.6,607.63 L361.7,608.62 L360.8,608.65 L359.9,608.25 L359,610.95 L358.1,608.21 L357.2,607.17 L356.3,607.22 L355.4,607.72 L354.5,607.16 L353.6,607.31 L352.7,607.21 L351.8,607.34 L350.9,608.29 L350,607.74 L349.1,607.85 L348.2,608.36 L347.3,611.25 L346.4,608.39 L345.5,607.98 L344.6,608.01 L343.7,607.62 L342.8,608.55 L341.9,608.99 L341,608.9 L340.1,607.98 L339.2,607.57 L338.3,608.37 L337.4,608.39 L336.5,608.33 L335.6,608.28 L334.7,608.78 L333.8,608.76 L332.9,608.78 L332,609.27 L331.1,609.16 L330.2,610.08 L329.3,610 L328.4,609.45 L327.5,609.4 L326.6,609.9 L325.7,610.75 L324.8,609.58 L323.9,609.02 L323,609.5 L322.1,610.37 L321.2,609.64 L320.3,608.97 L319.4,608.94 L318.5,608.84 L317.6,609.57 L316.7,608.72 L315.8,608.33 L314.9,607.7 L314,608.59 L313.1,608.82 L312.2,609.19 L311.3,608.4 L310.4,610.4 L309.5,609.57 L308.6,608.8 L307.7,609.63 L306.8,609.19 L305.9,607.94 L305,608.24 L304.1,608.26 L303.2,607.93 L302.3,607.01 L301.4,607.71 L300.5,608.22 L299.6,606.64 L298.7,607.21 L297.8,607.12 L296.9,606.77 L296,607 L295.1,606.73 L294.2,607.11 L293.3,608.15 L292.4,607.71 L291.5,607.13 L290.6,607.41 L289.7,608 L288.8,608.34 L287.9,608.48 L287,607.94 L286.1,608.6 L285.2,609.22 L284.3,608.53 L283.4,608.32 L282.5,608.34 L281.6,609.06 L280.7,608.57 L279.8,609.42 L278.9,608.63 L278,609.39 L277.1,609.64 L276.2,608.9 L275.3,609.06 L274.4,608.87 L273.5,608.69 L272.6,609.57 L271.7,609.1 L270.8,610.21 L269.9,610.1 L269,610.49 L268.1,610 L267.2,610.01 L266.3,609.72 L265.4,609.98 L264.5,609.14 L263.6,608.88 L262.7,609.34 L261.8,609.28 L260.9,608.95 L260,608.89 L259.1,609.03 L258.2,608.8 L257.3,608.61 L256.4,607.63 L255.5,608.65 L254.6,608.68 L253.7,608.71 L252.8,608.99 L251.9,609.42 L251,609.66 L250.1,609.46 L249.2,609.44 L248.3,608.6 L247.4,608.61 L246.5,608.24 L245.6,608.94 L244.7,608.66 L243.8,607.81 L242.9,607.42 L242,608 L241.1,607.27 L240.2,606.7 L239.3,607.16 L238.4,606.62 L237.5,607.18 L236.6,607.22 L235.7,607.4 L234.8,607.91 L233.9,608.56 L233,608.33 L232.1,607.93 L231.2,607.81 L230.3,608.65 L229.4,608.88 L228.5,609.29 L227.6,609.27 L226.7,611.75 L225.8,609.14 L224.9,609.02 L224,608.84 L223.1,610.53 L222.2,608.09 L221.3,608.91 L220.4,609.16 L219.5,608.5 L218.6,609.39 L217.7,608.06 L216.8,609.12 L215.9,609.21 L215,609.02 L214.1,610.42 L213.2,609.6 L212.3,610.25 L211.4,609.09 L210.5,610.05 L209.6,610.89 L208.7,610.21 L207.8,609.34 L206.9,609.87 L206,609.43 L205.1,610.34 L204.2,608.75 L203.3,608.88 L202.4,609.79 L201.5,608.96 L200.6,608.06 L199.7,607.85 L198.8,608.11 L197.9,608.22 L197,608.85 L196.1,608.33 L195.2,608.33 L194.3,607.98 L193.4,608.54 L192.5,607.89 L191.6,608.06 L190.7,608.71 L189.8,608.37 L188.9,607.94 L188,608.23 L187.1,607.67 L186.2,607.18 L185.3,608.21 L184.4,607.4 L183.5,607.44 L182.6,607.37 L181.7,606.97 L180.8,610.15 L179.9,607.52 L179,607.16 L178.1,607.54 L177.2,606.95 L176.3,608.79 L175.4,608.65 L174.5,608.24 L173.6,608.65 L172.7,609.64 L171.8,608.73 L170.9,608.44 L170,609.59 L169.1,609.53 L168.2,609 L167.3,608.83 L166.4,608.67 L165.5,608.72 L164.6,609.14 L163.7,608.6 L162.8,609.68 L161.9,610.75 L161,609.03 L160.1,609.39 L159.2,609.76 L158.3,609.97 L157.4,609.06 L156.5,608.8 L155.6,609.69Z" fill="#e0a060"/>
<path d="M155.6,606.67 L156.5,605.95 L157.4,606.15 L158.3,607.18 L159.2,606.76 L160.1,606.84 L161,606.61 L161.9,607.99 L162.8,606.83 L163.7,605.81 L164.6,606.63 L165.5,605.68 L166.4,606.19 L167.3,606.08 L168.2,606.03 L169.1,606.81 L170,606.92 L170.9,605.92 L171.8,606.12 L172.7,607.01 L173.6,606.13 L174.5,605.36 L175.4,606.03 L176.3,605.81 L177.2,603.92 L178.1,604.94 L179,604.6 L179.9,605.06 L180.8,607.33 L181.7,604.57 L182.6,604.83 L183.5,604.74 L184.4,604.81 L185.3,605.32 L186.2,604.74 L187.1,604.64 L188,605.4 L188.9,604.95 L189.8,605.78 L190.7,606.34 L191.6,605.19 L192.5,604.88 L193.4,605.76 L194.3,605.59 L195.2,605.79 L196.1,605.8 L197,606.29 L197.9,605.45 L198.8,605.76 L199.7,604.99 L200.6,605.66 L201.5,606.09 L202.4,606.81 L203.3,606.2 L204.2,606.15 L205.1,607.63 L206,606.95 L206.9,607.23 L207.8,606.63 L208.7,607.69 L209.6,608.22 L210.5,607.38 L211.4,606.54 L212.3,607.65 L213.2,606.88 L214.1,608.05 L215,606.54 L215.9,606.56 L216.8,606.6 L217.7,605.6 L218.6,606.6 L219.5,606.15 L220.4,606.33 L221.3,606.57 L222.2,605.27 L223.1,608.02 L224,606.41 L224.9,606.35 L225.8,606.66 L226.7,608.92 L227.6,606.57 L228.5,606.9 L229.4,606.27 L230.3,605.81 L231.2,605.09 L232.1,605.13 L233,605.38 L233.9,605.78 L234.8,604.92 L235.7,604.77 L236.6,604.81 L237.5,604.66 L238.4,604.06 L239.3,604.16 L240.2,603.8 L241.1,604.69 L242,605.46 L242.9,604.83 L243.8,604.79 L244.7,605.73 L245.6,606 L246.5,605.4 L247.4,605.82 L248.3,606.05 L249.2,606.42 L250.1,606.88 L251,606.62 L251.9,606.58 L252.8,605.95 L253.7,605.92 L254.6,606.06 L255.5,606.27 L256.4,605.16 L257.3,605.77 L258.2,606.19 L259.1,606.65 L260,606.2 L260.9,605.93 L261.8,606.87 L262.7,606.9 L263.6,605.97 L264.5,606.63 L265.4,607.3 L266.3,606.92 L267.2,607.46 L268.1,607.09 L269,607.77 L269.9,607.33 L270.8,607.6 L271.7,606.14 L272.6,606.85 L273.5,606.35 L274.4,606.08 L275.3,606.03 L276.2,606.43 L277.1,607.06 L278,606.92 L278.9,605.69 L279.8,606.79 L280.7,605.83 L281.6,606.2 L282.5,605.8 L283.4,605.67 L284.3,606.02 L285.2,606.29 L286.1,606.06 L287,605.06 L287.9,605.72 L288.8,605.51 L289.7,605.39 L290.6,604.57 L291.5,604.38 L292.4,605.12 L293.3,605.67 L294.2,604.64 L295.1,604.22 L296,603.96 L296.9,604.21 L297.8,604.52 L298.7,604.28 L299.6,603.71 L300.5,605.43 L301.4,605.27 L302.3,604.37 L303.2,605.1 L304.1,605.85 L305,605.81 L305.9,605.4 L306.8,606.79 L307.7,606.89 L308.6,606.16 L309.5,607 L310.4,607.98 L311.3,605.73 L312.2,606.64 L313.1,606.06 L314,605.74 L314.9,604.76 L315.8,605.51 L316.7,606.16 L317.6,607.1 L318.5,606.03 L319.4,605.92 L320.3,605.95 L321.2,606.74 L322.1,607.67 L323,606.79 L323.9,606.67 L324.8,607.09 L325.7,608.27 L326.6,606.9 L327.5,606.99 L328.4,606.56 L329.3,606.98 L330.2,607.19 L331.1,606.59 L332,606.92 L332.9,605.75 L333.8,606.25 L334.7,606.04 L335.6,605.71 L336.5,605.94 L337.4,605.61 L338.3,605.76 L339.2,604.67 L340.1,605.26 L341,605.93 L341.9,606.43 L342.8,606.11 L343.7,604.96 L344.6,605.46 L345.5,605.22 L346.4,605.36 L347.3,608.39 L348.2,605.63 L349.1,605.25 L350,605.12 L350.9,605.82 L351.8,604.4 L352.7,604.33 L353.6,604.54 L354.5,604.18 L355.4,605.3 L356.3,604.25 L357.2,604.72 L358.1,605.84 L359,608.05 L359.9,605.38 L360.8,606.23 L361.7,606.27 L362.6,605.03 L363.5,605.49 L364.4,606.06 L365.3,607 L366.2,606.56 L367.1,605.47 L368,606.2 L368.9,605.88 L369.8,605.57 L370.7,606.25 L371.6,605.92 L372.5,605.94 L373.4,606 L374.3,605.89 L375.2,606.14 L376.1,606.36 L377,607.42 L377.9,605.73 L378.8,606.75 L379.7,606.32 L380.6,606.79 L381.5,606.71 L382.4,607.3 L383.3,606.71 L384.2,607.73 L385.1,606.93 L386,607.81 L386.9,607.45 L387.8,607.57 L388.7,607.09 L389.6,607.27 L390.5,607.06 L391.4,606.58 L392.3,606.36 L393.2,605.47 L394.1,605.56 L394.8,606.34 L394.8,607.8 L394.1,607.2 L393.2,607.01 L392.3,607.91 L391.4,608.29 L390.5,608.59 L389.6,609.33 L388.7,608.65 L387.8,609.14 L386.9,609.35 L386,609.61 L385.1,608.94 L384.2,609.5 L383.3,608.83 L382.4,609.2 L381.5,608.87 L380.6,608.59 L379.7,608.07 L378.8,608.48 L377.9,607.52 L377,608.94 L376.1,607.97 L375.2,607.73 L374.3,607.54 L373.4,607.73 L372.5,608.02 L371.6,607.4 L370.7,608.33 L369.8,607.35 L368.9,607.55 L368,607.96 L367.1,607.52 L366.2,608.12 L365.3,608.57 L364.4,607.64 L363.5,607.55 L362.6,606.73 L361.7,607.72 L360.8,607.75 L359.9,607.35 L359,610.05 L358.1,607.31 L357.2,606.27 L356.3,606.32 L355.4,606.82 L354.5,606.26 L353.6,606.41 L352.7,606.31 L351.8,606.44 L350.9,607.39 L350,606.84 L349.1,606.95 L348.2,607.46 L347.3,610.35 L346.4,607.49 L345.5,607.08 L344.6,607.11 L343.7,606.72 L342.8,607.65 L341.9,608.09 L341,608 L340.1,607.08 L339.2,606.67 L338.3,607.47 L337.4,607.49 L336.5,607.43 L335.6,607.38 L334.7,607.88 L333.8,607.86 L332.9,607.88 L332,608.37 L331.1,608.26 L330.2,609.18 L329.3,609.1 L328.4,608.55 L327.5,608.5 L326.6,609 L325.7,609.85 L324.8,608.68 L323.9,608.12 L323,608.6 L322.1,609.47 L321.2,608.74 L320.3,608.07 L319.4,608.04 L318.5,607.94 L317.6,608.67 L316.7,607.82 L315.8,607.43 L314.9,606.8 L314,607.69 L313.1,607.92 L312.2,608.29 L311.3,607.5 L310.4,609.5 L309.5,608.67 L308.6,607.9 L307.7,608.73 L306.8,608.29 L305.9,607.04 L305,607.34 L304.1,607.36 L303.2,607.03 L302.3,606.11 L301.4,606.81 L300.5,607.32 L299.6,605.74 L298.7,606.31 L297.8,606.22 L296.9,605.87 L296,606.1 L295.1,605.83 L294.2,606.21 L293.3,607.25 L292.4,606.81 L291.5,606.23 L290.6,606.51 L289.7,607.1 L288.8,607.44 L287.9,607.58 L287,607.04 L286.1,607.7 L285.2,608.32 L284.3,607.63 L283.4,607.42 L282.5,607.44 L281.6,608.16 L280.7,607.67 L279.8,608.52 L278.9,607.73 L278,608.49 L277.1,608.74 L276.2,608 L275.3,608.16 L274.4,607.97 L273.5,607.79 L272.6,608.67 L271.7,608.2 L270.8,609.31 L269.9,609.2 L269,609.59 L268.1,609.1 L267.2,609.11 L266.3,608.82 L265.4,609.08 L264.5,608.24 L263.6,607.98 L262.7,608.44 L261.8,608.38 L260.9,608.05 L260,607.99 L259.1,608.13 L258.2,607.9 L257.3,607.71 L256.4,606.73 L255.5,607.75 L254.6,607.78 L253.7,607.81 L252.8,608.09 L251.9,608.52 L251,608.76 L250.1,608.56 L249.2,608.54 L248.3,607.7 L247.4,607.71 L246.5,607.34 L245.6,608.04 L244.7,607.76 L243.8,606.91 L242.9,606.52 L242,607.1 L241.1,606.37 L240.2,605.8 L239.3,606.26 L238.4,605.72 L237.5,606.28 L236.6,606.32 L235.7,606.5 L234.8,607.01 L233.9,607.66 L233,607.43 L232.1,607.03 L231.2,606.91 L230.3,607.75 L229.4,607.98 L228.5,608.39 L227.6,608.37 L226.7,610.85 L225.8,608.24 L224.9,608.12 L224,607.94 L223.1,609.63 L222.2,607.19 L221.3,608.01 L220.4,608.26 L219.5,607.6 L218.6,608.49 L217.7,607.16 L216.8,608.22 L215.9,608.31 L215,608.12 L214.1,609.52 L213.2,608.7 L212.3,609.35 L211.4,608.19 L210.5,609.15 L209.6,609.99 L208.7,609.31 L207.8,608.44 L206.9,608.97 L206,608.53 L205.1,609.44 L204.2,607.85 L203.3,607.98 L202.4,608.89 L201.5,608.06 L200.6,607.16 L199.7,606.95 L198.8,607.21 L197.9,607.32 L197,607.95 L196.1,607.43 L195.2,607.43 L194.3,607.08 L193.4,607.64 L192.5,606.99 L191.6,607.16 L190.7,607.81 L189.8,607.47 L188.9,607.04 L188,607.33 L187.1,606.77 L186.2,606.28 L185.3,607.31 L184.4,606.5 L183.5,606.54 L182.6,606.47 L181.7,606.07 L180.8,609.25 L179.9,606.62 L179,606.26 L178.1,606.64 L177.2,606.05 L176.3,607.89 L175.4,607.75 L174.5,607.34 L173.6,607.75 L172.7,608.74 L171.8,607.83 L170.9,607.54 L170,608.69 L169.1,608.63 L168.2,608.1 L167.3,607.93 L166.4,607.77 L165.5,607.82 L164.6,608.24 L163.7,607.7 L162.8,608.78 L161.9,609.85 L161,608.13 L160.1,608.49 L159.2,608.86 L158.3,609.07 L157.4,608.16 L156.5,607.9 L155.6,608.79Z" fill="#86c47c"/>
<path d="M155.6,604 L156.5,604 L157.4,604 L158.3,604 L159.2,604 L160.1,604 L161,604 L161.9,604 L162.8,604 L163.7,604 L164.6,604 L165.5,604 L166.4,604 L167.3,604 L168.2,604 L169.1,604 L170,604 L170.9,604 L171.8,604 L172.7,604 L173.6,604 L174.5,604 L175.4,604 L176.3,604 L177.2,604 L178.1,604 L179,604 L179.9,604 L180.8,604 L181.7,604 L182.6,604 L183.5,604 L184.4,604 L185.3,604 L186.2,604 L187.1,604 L188,604 L188.9,604 L189.8,604 L190.7,604 L191.6,604 L192.5,604 L193.4,604 L194.3,604 L195.2,604 L196.1,604 L197,604 L197.9,604 L198.8,604 L199.7,604 L200.6,604 L201.5,604 L202.4,604 L203.3,604 L204.2,604 L205.1,604 L206,604 L206.9,604 L207.8,604 L208.7,604 L209.6,604 L210.5,604 L211.4,604 L212.3,604 L213.2,604 L214.1,604 L215,604 L215.9,604 L216.8,604 L217.7,604 L218.6,604 L219.5,604 L220.4,604 L221.3,604 L222.2,604 L223.1,604 L224,604 L224.9,604 L225.8,604 L226.7,604 L227.6,604 L228.5,604 L229.4,604 L230.3,604 L231.2,604 L232.1,604 L233,604 L233.9,604 L234.8,604 L235.7,604 L236.6,604 L237.5,604 L238.4,604 L239.3,604 L240.2,604 L241.1,604 L242,604 L242.9,604 L243.8,604 L244.7,604 L245.6,604 L246.5,604 L247.4,604 L248.3,604 L249.2,604 L250.1,604 L251,604 L251.9,604 L252.8,604 L253.7,604 L254.6,604 L255.5,604 L256.4,604 L257.3,604 L258.2,604 L259.1,604 L260,604 L260.9,604 L261.8,604 L262.7,604 L263.6,604 L264.5,604 L265.4,604 L266.3,604 L267.2,604 L268.1,604 L269,604 L269.9,604 L270.8,604 L271.7,604 L272.6,604 L273.5,604 L274.4,604 L275.3,604 L276.2,604 L277.1,604 L278,604 L278.9,604 L279.8,604 L280.7,604 L281.6,604 L282.5,604 L283.4,604 L284.3,604 L285.2,604 L286.1,604 L287,604 L287.9,604 L288.8,604 L289.7,604 L290.6,604 L291.5,604 L292.4,604 L293.3,604 L294.2,604 L295.1,604 L296,604 L296.9,604 L297.8,604 L298.7,604 L299.6,604 L300.5,604 L301.4,604 L302.3,604 L303.2,604 L304.1,604 L305,604 L305.9,604 L306.8,604 L307.7,604 L308.6,604 L309.5,604 L310.4,604 L311.3,604 L312.2,604 L313.1,604 L314,604 L314.9,604 L315.8,604 L316.7,604 L317.6,604 L318.5,604 L319.4,604 L320.3,604 L321.2,604 L322.1,604 L323,604 L323.9,604 L324.8,604 L325.7,604 L326.6,604 L327.5,604 L328.4,604 L329.3,604 L330.2,604 L331.1,604 L332,604 L332.9,604 L333.8,604 L334.7,604 L335.6,604 L336.5,604 L337.4,604 L338.3,604 L339.2,604 L340.1,604 L341,604 L341.9,604 L342.8,604 L343.7,604 L344.6,604 L345.5,604 L346.4,604 L347.3,604 L348.2,604 L349.1,604 L350,604 L350.9,604 L351.8,604 L352.7,604 L353.6,604 L354.5,604 L355.4,604 L356.3,604 L357.2,604 L358.1,604 L359,604 L359.9,604 L360.8,604 L361.7,604 L362.6,604 L363.5,604 L364.4,604 L365.3,604 L366.2,604 L367.1,604 L368,604 L368.9,604 L369.8,604 L370.7,604 L371.6,604 L372.5,604 L373.4,604 L374.3,604 L375.2,604 L376.1,604 L377,604 L377.9,604 L378.8,604 L379.7,604 L380.6,604 L381.5,604 L382.4,604 L383.3,604 L384.2,604 L385.1,604 L386,604 L386.9,604 L387.8,604 L388.7,604 L389.6,604 L390.5,604 L391.4,604 L392.3,604 L393.2,604 L394.1,604 L394.8,604 L394.8,606.34 L394.1,605.56 L393.2,605.47 L392.3,606.36 L391.4,606.58 L390.5,607.06 L389.6,607.27 L388.7,607.09 L387.8,607.57 L386.9,607.45 L386,607.81 L385.1,606.93 L384.2,607.73 L383.3,606.71 L382.4,607.3 L381.5,606.71 L380.6,606.79 L379.7,606.32 L378.8,606.75 L377.9,605.73 L377,607.42 L376.1,606.36 L375.2,606.14 L374.3,605.89 L373.4,606 L372.5,605.94 L371.6,605.92 L370.7,606.25 L369.8,605.57 L368.9,605.88 L368,606.2 L367.1,605.47 L366.2,606.56 L365.3,607 L364.4,606.06 L363.5,605.49 L362.6,605.03 L361.7,606.27 L360.8,606.23 L359.9,605.38 L359,608.05 L358.1,605.84 L357.2,604.72 L356.3,604.25 L355.4,605.3 L354.5,604.18 L353.6,604.54 L352.7,604.33 L351.8,604.4 L350.9,605.82 L350,605.12 L349.1,605.25 L348.2,605.63 L347.3,608.39 L346.4,605.36 L345.5,605.22 L344.6,605.46 L343.7,604.96 L342.8,606.11 L341.9,606.43 L341,605.93 L340.1,605.26 L339.2,604.67 L338.3,605.76 L337.4,605.61 L336.5,605.94 L335.6,605.71 L334.7,606.04 L333.8,606.25 L332.9,605.75 L332,606.92 L331.1,606.59 L330.2,607.19 L329.3,606.98 L328.4,606.56 L327.5,606.99 L326.6,606.9 L325.7,608.27 L324.8,607.09 L323.9,606.67 L323,606.79 L322.1,607.67 L321.2,606.74 L320.3,605.95 L319.4,605.92 L318.5,606.03 L317.6,607.1 L316.7,606.16 L315.8,605.51 L314.9,604.76 L314,605.74 L313.1,606.06 L312.2,606.64 L311.3,605.73 L310.4,607.98 L309.5,607 L308.6,606.16 L307.7,606.89 L306.8,606.79 L305.9,605.4 L305,605.81 L304.1,605.85 L303.2,605.1 L302.3,604.37 L301.4,605.27 L300.5,605.43 L299.6,603.71 L298.7,604.28 L297.8,604.52 L296.9,604.21 L296,603.96 L295.1,604.22 L294.2,604.64 L293.3,605.67 L292.4,605.12 L291.5,604.38 L290.6,604.57 L289.7,605.39 L288.8,605.51 L287.9,605.72 L287,605.06 L286.1,606.06 L285.2,606.29 L284.3,606.02 L283.4,605.67 L282.5,605.8 L281.6,606.2 L280.7,605.83 L279.8,606.79 L278.9,605.69 L278,606.92 L277.1,607.06 L276.2,606.43 L275.3,606.03 L274.4,606.08 L273.5,606.35 L272.6,606.85 L271.7,606.14 L270.8,607.6 L269.9,607.33 L269,607.77 L268.1,607.09 L267.2,607.46 L266.3,606.92 L265.4,607.3 L264.5,606.63 L263.6,605.97 L262.7,606.9 L261.8,606.87 L260.9,605.93 L260,606.2 L259.1,606.65 L258.2,606.19 L257.3,605.77 L256.4,605.16 L255.5,606.27 L254.6,606.06 L253.7,605.92 L252.8,605.95 L251.9,606.58 L251,606.62 L250.1,606.88 L249.2,606.42 L248.3,606.05 L247.4,605.82 L246.5,605.4 L245.6,606 L244.7,605.73 L243.8,604.79 L242.9,604.83 L242,605.46 L241.1,604.69 L240.2,603.8 L239.3,604.16 L238.4,604.06 L237.5,604.66 L236.6,604.81 L235.7,604.77 L234.8,604.92 L233.9,605.78 L233,605.38 L232.1,605.13 L231.2,605.09 L230.3,605.81 L229.4,606.27 L228.5,606.9 L227.6,606.57 L226.7,608.92 L225.8,606.66 L224.9,606.35 L224,606.41 L223.1,608.02 L222.2,605.27 L221.3,606.57 L220.4,606.33 L219.5,606.15 L218.6,606.6 L217.7,605.6 L216.8,606.6 L215.9,606.56 L215,606.54 L214.1,608.05 L213.2,606.88 L212.3,607.65 L211.4,606.54 L210.5,607.38 L209.6,608.22 L208.7,607.69 L207.8,606.63 L206.9,607.23 L206,606.95 L205.1,607.63 L204.2,606.15 L203.3,606.2 L202.4,606.81 L201.5,606.09 L200.6,605.66 L199.7,604.99 L198.8,605.76 L197.9,605.45 L197,606.29 L196.1,605.8 L195.2,605.79 L194.3,605.59 L193.4,605.76 L192.5,604.88 L191.6,605.19 L190.7,606.34 L189.8,605.78 L188.9,604.95 L188,605.4 L187.1,604.64 L186.2,604.74 L185.3,605.32 L184.4,604.81 L183.5,604.74 L182.6,604.83 L181.7,604.57 L180.8,607.33 L179.9,605.06 L179,604.6 L178.1,604.94 L177.2,603.92 L176.3,605.81 L175.4,606.03 L174.5,605.36 L173.6,606.13 L172.7,607.01 L171.8,606.12 L170.9,605.92 L170,606.92 L169.1,606.81 L168.2,606.03 L167.3,606.08 L166.4,606.19 L165.5,605.68 L164.6,606.63 L163.7,605.81 L162.8,606.83 L161.9,607.99 L161,606.61 L160.1,606.84 L159.2,606.76 L158.3,607.18 L157.4,606.15 L156.5,605.95 L155.6,606.67Z" fill="#82aca4"/>
<path d="M399.4,612.64 L400.3,612.53 L401.2,612.99 L402.1,613.07 L403,613.14 L403.9,612.78 L404.8,613.39 L405.7,612.55 L406.6,612.4 L407.5,612.87 L408.4,612.51 L409.3,612.54 L410.2,614.07 L411.1,612.14 L412,612.29 L412.9,611.66 L413.8,611.88 L414.7,611.53 L415.6,612.44 L416.5,612.12 L417.4,611.95 L418.3,612.17 L419.2,612.33 L420.1,612.89 L421,612.99 L421.9,612.99 L422.8,613.55 L423.7,613.33 L424.6,613.63 L425.5,613.64 L426.4,613.24 L427.3,614 L428.2,613.35 L429.1,613.15 L430,613.61 L430.9,613.81 L431.8,613.26 L432.7,613.08 L433.6,613.96 L434.5,613.35 L435.4,613.55 L436.3,614.07 L437.2,614.26 L438.1,613.93 L439,614.69 L439.9,613.89 L440.8,614.72 L441.7,615.44 L442.6,614.79 L443.5,614.49 L444.4,614.25 L445.3,614.67 L446.2,613.89 L447.1,614.77 L448,614.27 L448.9,614.81 L449.8,614.79 L450.7,615.28 L451.6,615.08 L452.5,615.38 L453.4,615.85 L454.3,616.25 L455.2,615.99 L456.1,617.99 L457,616.54 L457.9,616.95 L458.8,617.67 L459.7,618.04 L460.2,618.2 L460.2,622 L459.7,622 L458.8,622 L457.9,622 L457,622 L456.1,622 L455.2,622 L454.3,622 L453.4,622 L452.5,622 L451.6,622 L450.7,622 L449.8,622 L448.9,622 L448,622 L447.1,622 L446.2,622 L445.3,622 L444.4,622 L443.5,622 L442.6,622 L441.7,622 L440.8,622 L439.9,622 L439,622 L438.1,622 L437.2,622 L436.3,622 L435.4,622 L434.5,622 L433.6,622 L432.7,622 L431.8,622 L430.9,622 L430,622 L429.1,622 L428.2,622 L427.3,622 L426.4,622 L425.5,622 L424.6,622 L423.7,622 L422.8,622 L421.9,622 L421,622 L420.1,622 L419.2,622 L418.3,622 L417.4,622 L416.5,622 L415.6,622 L414.7,622 L413.8,622 L412.9,622 L412,622 L411.1,622 L410.2,622 L409.3,622 L408.4,622 L407.5,622 L406.6,622 L405.7,622 L404.8,622 L403.9,622 L403,622 L402.1,622 L401.2,622 L400.3,622 L399.4,622Z" fill="#1f9dd8"/>
<path d="M399.4,607.66 L400.3,607.55 L401.2,608.25 L402.1,608.32 L403,608.57 L403.9,608.66 L404.8,609.17 L405.7,607.57 L406.6,607.68 L407.5,608.3 L408.4,608.28 L409.3,608.01 L410.2,609.21 L411.1,607.55 L412,608.05 L412.9,606.91 L413.8,607.6 L414.7,606.97 L415.6,607.83 L416.5,607.09 L417.4,607.53 L418.3,607.79 L419.2,608.3 L420.1,608.51 L421,608.71 L421.9,608.33 L422.8,608.55 L423.7,608.77 L424.6,609.33 L425.5,609.08 L426.4,608.59 L427.3,608.96 L428.2,609.13 L429.1,608.48 L430,608.89 L430.9,608.94 L431.8,609.16 L432.7,608.08 L433.6,609.63 L434.5,608.71 L435.4,608.74 L436.3,610.05 L437.2,609.27 L438.1,609.25 L439,610.04 L439.9,609.07 L440.8,609.86 L441.7,611.09 L442.6,610.36 L443.5,610.23 L444.4,609.68 L445.3,610.11 L446.2,609.11 L447.1,610.61 L448,609.43 L448.9,610.43 L449.8,610.21 L450.7,611.2 L451.6,610.93 L452.5,610.54 L453.4,610.95 L454.3,611.81 L455.2,611.68 L456.1,613.27 L457,612.45 L457.9,612.72 L458.8,612.64 L459.7,613.52 L460.2,613.71 L460.2,618.2 L459.7,618.04 L458.8,617.67 L457.9,616.95 L457,616.54 L456.1,617.99 L455.2,615.99 L454.3,616.25 L453.4,615.85 L452.5,615.38 L451.6,615.08 L450.7,615.28 L449.8,614.79 L448.9,614.81 L448,614.27 L447.1,614.77 L446.2,613.89 L445.3,614.67 L444.4,614.25 L443.5,614.49 L442.6,614.79 L441.7,615.44 L440.8,614.72 L439.9,613.89 L439,614.69 L438.1,613.93 L437.2,614.26 L436.3,614.07 L435.4,613.55 L434.5,613.35 L433.6,613.96 L432.7,613.08 L431.8,613.26 L430.9,613.81 L430,613.61 L429.1,613.15 L428.2,613.35 L427.3,614 L426.4,613.24 L425.5,613.64 L424.6,613.63 L423.7,613.33 L422.8,613.55 L421.9,612.99 L421,612.99 L420.1,612.89 L419.2,612.33 L418.3,612.17 L417.4,611.95 L416.5,612.12 L415.6,612.44 L414.7,611.53 L413.8,611.88 L412.9,611.66 L412,612.29 L411.1,612.14 L410.2,614.07 L409.3,612.54 L408.4,612.51 L407.5,612.87 L406.6,612.4 L405.7,612.55 L404.8,613.39 L403.9,612.78 L403,613.14 L402.1,613.07 L401.2,612.99 L400.3,612.53 L399.4,612.64Z" fill="#ef6458"/>
<path d="M399.4,606.76 L400.3,606.65 L401.2,607.35 L402.1,607.42 L403,607.67 L403.9,607.76 L404.8,608.27 L405.7,606.67 L406.6,606.78 L407.5,607.4 L408.4,607.38 L409.3,607.11 L410.2,608.31 L411.1,606.65 L412,607.15 L412.9,606.01 L413.8,606.7 L414.7,606.07 L415.6,606.93 L416.5,606.19 L417.4,606.63 L418.3,606.89 L419.2,607.4 L420.1,607.61 L421,607.81 L421.9,607.43 L422.8,607.65 L423.7,607.87 L424.6,608.43 L425.5,608.18 L426.4,607.69 L427.3,608.06 L428.2,608.23 L429.1,607.58 L430,607.99 L430.9,608.04 L431.8,608.26 L432.7,607.18 L433.6,608.73 L434.5,607.81 L435.4,607.84 L436.3,609.15 L437.2,608.37 L438.1,608.35 L439,609.14 L439.9,608.17 L440.8,608.96 L441.7,610.19 L442.6,609.46 L443.5,609.33 L444.4,608.78 L445.3,609.21 L446.2,608.21 L447.1,609.71 L448,608.53 L448.9,609.53 L449.8,609.31 L450.7,610.3 L451.6,610.03 L452.5,609.64 L453.4,610.05 L454.3,610.91 L455.2,610.78 L456.1,612.37 L457,611.55 L457.9,611.82 L458.8,611.74 L459.7,612.62 L460.2,612.81 L460.2,613.71 L459.7,613.52 L458.8,612.64 L457.9,612.72 L457,612.45 L456.1,613.27 L455.2,611.68 L454.3,611.81 L453.4,610.95 L452.5,610.54 L451.6,610.93 L450.7,611.2 L449.8,610.21 L448.9,610.43 L448,609.43 L447.1,610.61 L446.2,609.11 L445.3,610.11 L444.4,609.68 L443.5,610.23 L442.6,610.36 L441.7,611.09 L440.8,609.86 L439.9,609.07 L439,610.04 L438.1,609.25 L437.2,609.27 L436.3,610.05 L435.4,608.74 L434.5,608.71 L433.6,609.63 L432.7,608.08 L431.8,609.16 L430.9,608.94 L430,608.89 L429.1,608.48 L428.2,609.13 L427.3,608.96 L426.4,608.59 L425.5,609.08 L424.6,609.33 L423.7,608.77 L422.8,608.55 L421.9,608.33 L421,608.71 L420.1,608.51 L419.2,608.3 L418.3,607.79 L417.4,607.53 L416.5,607.09 L415.6,607.83 L414.7,606.97 L413.8,607.6 L412.9,606.91 L412,608.05 L411.1,607.55 L410.2,609.21 L409.3,608.01 L408.4,608.28 L407.5,608.3 L406.6,607.68 L405.7,607.57 L404.8,609.17 L403.9,608.66 L403,608.57 L402.1,608.32 L401.2,608.25 L400.3,607.55 L399.4,607.66Z" fill="#e0a060"/>
<path d="M399.4,604.83 L400.3,605.09 L401.2,605.59 L402.1,605.69 L403,605.6 L403.9,606.03 L404.8,606.78 L405.7,604.9 L406.6,604.87 L407.5,605.46 L408.4,605.92 L409.3,605.45 L410.2,606.38 L411.1,605.12 L412,605.6 L412.9,604.26 L413.8,604.62 L414.7,604.18 L415.6,604.87 L416.5,604.47 L417.4,604.51 L418.3,604.87 L419.2,605.29 L420.1,605.74 L421,605.79 L421.9,605.4 L422.8,605.55 L423.7,606.13 L424.6,606.4 L425.5,606.18 L426.4,605.73 L427.3,606.2 L428.2,606.08 L429.1,605.87 L430,606.29 L430.9,606.25 L431.8,606.16 L432.7,605.16 L433.6,607.27 L434.5,605.86 L435.4,605.95 L436.3,607.36 L437.2,606.51 L438.1,606.88 L439,607.13 L439.9,606.29 L440.8,607.18 L441.7,608.57 L442.6,607.76 L443.5,607.68 L444.4,606.65 L445.3,607.25 L446.2,606.4 L447.1,608.21 L448,607.01 L448.9,607.71 L449.8,607.25 L450.7,608.64 L451.6,608 L452.5,607.98 L453.4,608.09 L454.3,608.98 L455.2,608.83 L456.1,610.34 L457,609.76 L457.9,610.36 L458.8,610.15 L459.7,610.74 L460.2,610.85 L460.2,612.81 L459.7,612.62 L458.8,611.74 L457.9,611.82 L457,611.55 L456.1,612.37 L455.2,610.78 L454.3,610.91 L453.4,610.05 L452.5,609.64 L451.6,610.03 L450.7,610.3 L449.8,609.31 L448.9,609.53 L448,608.53 L447.1,609.71 L446.2,608.21 L445.3,609.21 L444.4,608.78 L443.5,609.33 L442.6,609.46 L441.7,610.19 L440.8,608.96 L439.9,608.17 L439,609.14 L438.1,608.35 L437.2,608.37 L436.3,609.15 L435.4,607.84 L434.5,607.81 L433.6,608.73 L432.7,607.18 L431.8,608.26 L430.9,608.04 L430,607.99 L429.1,607.58 L428.2,608.23 L427.3,608.06 L426.4,607.69 L425.5,608.18 L424.6,608.43 L423.7,607.87 L422.8,607.65 L421.9,607.43 L421,607.81 L420.1,607.61 L419.2,607.4 L418.3,606.89 L417.4,606.63 L416.5,606.19 L415.6,606.93 L414.7,606.07 L413.8,606.7 L412.9,606.01 L412,607.15 L411.1,606.65 L410.2,608.31 L409.3,607.11 L408.4,607.38 L407.5,607.4 L406.6,606.78 L405.7,606.67 L404.8,608.27 L403.9,607.76 L403,607.67 L402.1,607.42 L401.2,607.35 L400.3,606.65 L399.4,606.76Z" fill="#86c47c"/>
<path d="M399.4,604 L400.3,604 L401.2,604 L402.1,604 L403,604 L403.9,604 L404.8,604 L405.7,604 L406.6,604 L407.5,604 L408.4,604 L409.3,604 L410.2,604 L411.1,604 L412,604 L412.9,604 L413.8,604 L414.7,604 L415.6,604 L416.5,604 L417.4,604 L418.3,604 L419.2,604 L420.1,604 L421,604 L421.9,604 L422.8,604 L423.7,604 L424.6,604 L425.5,604 L426.4,604 L427.3,604 L428.2,604 L429.1,604 L430,604 L430.9,604 L431.8,604 L432.7,604 L433.6,604 L434.5,604 L435.4,604 L436.3,604 L437.2,604 L438.1,604 L439,604 L439.9,604 L440.8,604 L441.7,604 L442.6,604 L443.5,604 L444.4,604 L445.3,604 L446.2,604 L447.1,604 L448,604 L448.9,604 L449.8,604 L450.7,604 L451.6,604 L452.5,604 L453.4,604 L454.3,604 L455.2,604 L456.1,604 L457,604 L457.9,604 L458.8,604 L459.7,604 L460.2,604 L460.2,610.85 L459.7,610.74 L458.8,610.15 L457.9,610.36 L457,609.76 L456.1,610.34 L455.2,608.83 L454.3,608.98 L453.4,608.09 L452.5,607.98 L451.6,608 L450.7,608.64 L449.8,607.25 L448.9,607.71 L448,607.01 L447.1,608.21 L446.2,606.4 L445.3,607.25 L444.4,606.65 L443.5,607.68 L442.6,607.76 L441.7,608.57 L440.8,607.18 L439.9,606.29 L439,607.13 L438.1,606.88 L437.2,606.51 L436.3,607.36 L435.4,605.95 L434.5,605.86 L433.6,607.27 L432.7,605.16 L431.8,606.16 L430.9,606.25 L430,606.29 L429.1,605.87 L428.2,606.08 L427.3,606.2 L426.4,605.73 L425.5,606.18 L424.6,606.4 L423.7,606.13 L422.8,605.55 L421.9,605.4 L421,605.79 L420.1,605.74 L419.2,605.29 L418.3,604.87 L417.4,604.51 L416.5,604.47 L415.6,604.87 L414.7,604.18 L413.8,604.62 L412.9,604.26 L412,605.6 L411.1,605.12 L410.2,606.38 L409.3,605.45 L408.4,605.92 L407.5,605.46 L406.6,604.87 L405.7,604.9 L404.8,606.78 L403.9,606.03 L403,605.6 L402.1,605.69 L401.2,605.59 L400.3,605.09 L399.4,604.83Z" fill="#82aca4"/>
<path d="M466.4,603.8 H464.6 V622.3 H466.4 M464.6,613 H466.4" stroke="#222" stroke-width="0.7" fill="none"/>
<rect x="76.6" y="627" width="387.2" height="7.3" fill="#f2efee"/>
<rect x="98.9" y="627" width="4.7" height="7.3" fill="#fff"/>
<rect x="92.2" y="627" width="6.7" height="7.3" fill="#000"/>
<rect x="103.6" y="627" width="67.1" height="7.3" fill="#000"/>
<rect x="205.2" y="627" width="3.4" height="7.3" fill="#000"/>
<rect x="234.6" y="627" width="3.8" height="7.3" fill="#000"/>
<rect x="250" y="627" width="3.6" height="7.3" fill="#000"/>
<rect x="258.8" y="627" width="3.4" height="7.3" fill="#000"/>
<rect x="267.6" y="627" width="2.2" height="7.3" fill="#000"/>
<rect x="272" y="627" width="4" height="7.3" fill="#000"/>
<rect x="279" y="627" width="1.8" height="7.3" fill="#000"/>
<rect x="290.2" y="627" width="4.7" height="7.3" fill="#000"/>
<rect x="387.4" y="627" width="15.6" height="7.3" fill="#000"/>
<rect x="452.6" y="627" width="11" height="7.3" fill="#000"/>
<rect x="76.6" y="635.8" width="3.4" height="6.1" fill="#33b6e8"/><rect x="80" y="635.8" width="8.8" height="6.1" fill="#20cc96"/><rect x="91.3" y="635.8" width="4.2" height="6.1" fill="#8a8a8a"/><rect x="95.5" y="635.8" width="3.3" height="6.1" fill="#a6d8c8"/><rect x="103.8" y="635.8" width="2.4" height="6.1" fill="#20cc96"/><rect x="107.25" y="635.8" width="2.4" height="6.1" fill="#20cc96"/><rect x="110.7" y="635.8" width="2.4" height="6.1" fill="#20cc96"/><rect x="114.15" y="635.8" width="2.4" height="6.1" fill="#20cc96"/><rect x="117.6" y="635.8" width="2.4" height="6.1" fill="#20cc96"/><rect x="121.05" y="635.8" width="2.4" height="6.1" fill="#20cc96"/><rect x="124.5" y="635.8" width="2.4" height="6.1" fill="#20cc96"/><rect x="127.95" y="635.8" width="2.4" height="6.1" fill="#20cc96"/><rect x="131.4" y="635.8" width="2.4" height="6.1" fill="#20cc96"/><rect x="134.85" y="635.8" width="2.4" height="6.1" fill="#20cc96"/><rect x="138.3" y="635.8" width="2.4" height="6.1" fill="#20cc96"/><rect x="141.75" y="635.8" width="2.4" height="6.1" fill="#20cc96"/><rect x="145.2" y="635.8" width="2.4" height="6.1" fill="#20cc96"/><rect x="148.65" y="635.8" width="2.4" height="6.1" fill="#20cc96"/><rect x="152.1" y="635.8" width="2.4" height="6.1" fill="#20cc96"/><rect x="155.55" y="635.8" width="2.4" height="6.1" fill="#20cc96"/><rect x="158.6" y="635.8" width="3" height="6.1" fill="#33b6e8"/><rect x="162.6" y="635.8" width="5.2" height="6.1" fill="#20cc96"/><rect x="167.8" y="635.8" width="4.5" height="6.1" fill="#9a5cc8"/><rect x="172.3" y="635.8" width="5.1" height="6.1" fill="#7fdcc0"/><rect x="177.4" y="635.8" width="3.2" height="6.1" fill="#f47a5a"/><rect x="180.6" y="635.8" width="3.8" height="6.1" fill="#20cc96"/><rect x="184.4" y="635.8" width="4.2" height="6.1" fill="#f47a5a"/><rect x="188.6" y="635.8" width="22.4" height="6.1" fill="#20cc96"/><rect x="211" y="635.8" width="10.8" height="6.1" fill="#f47a5a"/><rect x="221.8" y="635.8" width="7.4" height="6.1" fill="#20cc96"/><rect x="229.2" y="635.8" width="1.8" height="6.1" fill="#f47a5a"/><rect x="231" y="635.8" width="5" height="6.1" fill="#20cc96"/><rect x="236" y="635.8" width="8.7" height="6.1" fill="#f47a5a"/><rect x="244.7" y="635.8" width="11.3" height="6.1" fill="#20cc96"/><rect x="256" y="635.8" width="22" height="6.1" fill="#33b6e8"/><rect x="278" y="635.8" width="3.4" height="6.1" fill="#c8a878"/><rect x="281.4" y="635.8" width="4.1" height="6.1" fill="#1a8c1a"/><rect x="285.5" y="635.8" width="4" height="6.1" fill="#33c266"/><rect x="289.5" y="635.8" width="1.8" height="6.1" fill="#20cc96"/><rect x="291.3" y="635.8" width="4.9" height="6.1" fill="#33b6e8"/><rect x="296.2" y="635.8" width="5" height="6.1" fill="#c8a878"/><rect x="301.2" y="635.8" width="10.8" height="6.1" fill="#f47a5a"/><rect x="312" y="635.8" width="1.4" height="6.1" fill="#c8a878"/><rect x="313.4" y="635.8" width="4.4" height="6.1" fill="#f47a5a"/><rect x="317.8" y="635.8" width="9.8" height="6.1" fill="#20cc96"/><rect x="327.6" y="635.8" width="11" height="6.1" fill="#f47a5a"/><rect x="338.6" y="635.8" width="1.4" height="6.1" fill="#c8a878"/><rect x="340" y="635.8" width="2.4" height="6.1" fill="#7fdcc0"/><rect x="342.4" y="635.8" width="5.4" height="6.1" fill="#20cc96"/><rect x="347.8" y="635.8" width="23.5" height="6.1" fill="#f47a5a"/><rect x="371.3" y="635.8" width="6.7" height="6.1" fill="#20cc96"/><rect x="378" y="635.8" width="8.3" height="6.1" fill="#f47a5a"/><rect x="386.3" y="635.8" width="1.6" height="6.1" fill="#20cc96"/><rect x="389.5" y="635.8" width="2.1" height="6.1" fill="#ee33ee"/><rect x="392.9" y="635.8" width="8.7" height="6.1" fill="#8a8a8a"/><rect x="404.6" y="635.8" width="7.5" height="6.1" fill="#ee33ee"/><rect x="412.1" y="635.8" width="1.5" height="6.1" fill="#50a0a0"/><rect x="413.6" y="635.8" width="7.3" height="6.1" fill="#22b8c0"/><rect x="422.2" y="635.8" width="8.8" height="6.1" fill="#f47a5a"/><rect x="431" y="635.8" width="4.8" height="6.1" fill="#8a8a8a"/><rect x="435.8" y="635.8" width="3.2" height="6.1" fill="#c08070"/><rect x="439" y="635.8" width="8.2" height="6.1" fill="#f47a5a"/><rect x="447.2" y="635.8" width="4.6" height="6.1" fill="#20cc96"/><rect x="454.5" y="635.8" width="3.4" height="6.1" fill="#33b6e8"/>
<rect x="395.5" y="635.8" width="0.6" height="6.1" fill="#b0b0b0"/>
<rect x="398.5" y="635.8" width="0.6" height="6.1" fill="#b0b0b0"/>
<line x1="65.4" y1="651.5" x2="77.7" y2="642.8" stroke="#444" stroke-width="0.55"/>
<line x1="88.5" y1="651.5" x2="91.5" y2="643" stroke="#444" stroke-width="0.55"/>
<line x1="108.5" y1="651.5" x2="96.2" y2="643" stroke="#444" stroke-width="0.55"/>
<line x1="125" y1="651.5" x2="102" y2="643" stroke="#444" stroke-width="0.55"/>
<line x1="163.5" y1="651.5" x2="159.6" y2="643" stroke="#444" stroke-width="0.55"/>
<line x1="184.6" y1="651.5" x2="168.3" y2="643" stroke="#444" stroke-width="0.55"/>
<line x1="255.6" y1="650.6" x2="262.5" y2="643" stroke="#444" stroke-width="0.55"/>
<line x1="255.6" y1="650.6" x2="268.5" y2="643" stroke="#444" stroke-width="0.55"/>
<line x1="255.6" y1="650.6" x2="275" y2="643" stroke="#444" stroke-width="0.55"/>
<line x1="270.4" y1="650.6" x2="278.7" y2="643" stroke="#444" stroke-width="0.55"/>
<line x1="289.2" y1="650.6" x2="284.4" y2="643" stroke="#444" stroke-width="0.55"/>
<line x1="309.4" y1="650.6" x2="295" y2="643" stroke="#444" stroke-width="0.55"/>
<line x1="378.5" y1="651.5" x2="389.8" y2="643" stroke="#444" stroke-width="0.55"/>
<line x1="378.5" y1="651.5" x2="408" y2="643" stroke="#444" stroke-width="0.55"/>
<line x1="402.5" y1="651.2" x2="397.5" y2="643" stroke="#444" stroke-width="0.55"/>
<line x1="429" y1="651.5" x2="452.5" y2="643" stroke="#444" stroke-width="0.55"/>
<line x1="456" y1="643" x2="456" y2="651" stroke="#444" stroke-width="0.55" stroke-dasharray="1,0.6"/>
<text x="46.9" y="660" font-size="5.1" fill="#3a3a3a" stroke="#3a3a3a" stroke-width="0.15" textLength="21.6" lengthAdjust="spacingAndGlyphs">LMP2A/2B</text>
<text x="78.8" y="660" font-size="5.1" fill="#3a3a3a" stroke="#3a3a3a" stroke-width="0.15" textLength="16.9" lengthAdjust="spacingAndGlyphs">EBER1/2</text>
<text x="106.2" y="660" font-size="5.1" fill="#3a3a3a" stroke="#3a3a3a" stroke-width="0.15" textLength="7.3" lengthAdjust="spacingAndGlyphs">oriP</text>
<text x="120.2" y="660" font-size="5.1" fill="#3a3a3a" stroke="#3a3a3a" stroke-width="0.15" textLength="23.6" lengthAdjust="spacingAndGlyphs">C promoter</text>
<text x="155.8" y="660" font-size="5.1" fill="#3a3a3a" stroke="#3a3a3a" stroke-width="0.15" textLength="14.4" lengthAdjust="spacingAndGlyphs">EBNA2</text>
<text x="179.8" y="660" font-size="5.1" fill="#3a3a3a" stroke="#3a3a3a" stroke-width="0.15" textLength="11.5" lengthAdjust="spacingAndGlyphs">oriLyt</text>
<text x="223.5" y="660" font-size="5.1" fill="#3a3a3a" stroke="#3a3a3a" stroke-width="0.15" textLength="31.1" lengthAdjust="spacingAndGlyphs">EBNA3A/3B/3C</text>
<text x="264.2" y="660" font-size="5.1" fill="#3a3a3a" stroke="#3a3a3a" stroke-width="0.15" textLength="11.6" lengthAdjust="spacingAndGlyphs" font-style="italic">BRLF1</text>
<text x="283.5" y="660" font-size="5.1" fill="#3a3a3a" stroke="#3a3a3a" stroke-width="0.15" textLength="11.5" lengthAdjust="spacingAndGlyphs" font-style="italic">BZLF1</text>
<text x="302.7" y="660" font-size="5.1" fill="#3a3a3a" stroke="#3a3a3a" stroke-width="0.15" textLength="12.5" lengthAdjust="spacingAndGlyphs">EBNA1</text>
<text x="337.5" y="660" font-size="5.1" fill="#3a3a3a" stroke="#3a3a3a" stroke-width="0.15" textLength="49" lengthAdjust="spacingAndGlyphs">BART miRNA cluster 1/2</text>
<text x="398.7" y="660" font-size="5.1" fill="#3a3a3a" stroke="#3a3a3a" stroke-width="0.15" textLength="9.3" lengthAdjust="spacingAndGlyphs">oriLyt</text>
<text x="418.3" y="660" font-size="5.1" fill="#3a3a3a" stroke="#3a3a3a" stroke-width="0.15" textLength="22.1" lengthAdjust="spacingAndGlyphs" font-style="italic">BNLF2a/2b</text>
<text x="450.6" y="660" font-size="5.1" fill="#3a3a3a" stroke="#3a3a3a" stroke-width="0.15" textLength="11.4" lengthAdjust="spacingAndGlyphs">LMP1</text>
<rect x="74.6" y="667" width="4.2" height="6.8" fill="#1f7fae"/>
<text x="81.8" y="672.6" font-size="6.2" stroke="#231f20" stroke-width="0.15" textLength="10.93" lengthAdjust="spacingAndGlyphs">C&gt;T</text>
<rect x="107" y="667" width="4.2" height="6.8" fill="#d25a5a"/>
<text x="114.2" y="672.6" font-size="6.2" stroke="#231f20" stroke-width="0.15" textLength="11.26" lengthAdjust="spacingAndGlyphs">C&gt;A</text>
<rect x="141.4" y="667" width="4.2" height="6.8" fill="#8fb866"/>
<text x="148.6" y="672.6" font-size="6.2" stroke="#231f20" stroke-width="0.15" textLength="11.57" lengthAdjust="spacingAndGlyphs">A&gt;G</text>
<rect x="174" y="667" width="4.2" height="6.8" fill="#7f6aaa"/>
<text x="181.2" y="672.6" font-size="6.2" stroke="#231f20" stroke-width="0.15" textLength="11.26" lengthAdjust="spacingAndGlyphs">A&gt;C</text>
<rect x="207.5" y="667" width="4.2" height="6.8" fill="#1a9fb4"/>
<text x="214.7" y="672.6" font-size="6.2" stroke="#231f20" stroke-width="0.15" textLength="11.89" lengthAdjust="spacingAndGlyphs">G&gt;C</text>
<rect x="241" y="667" width="4.2" height="6.8" fill="#f59a3c"/>
<text x="248.2" y="672.6" font-size="6.2" stroke="#231f20" stroke-width="0.15" textLength="10.62" lengthAdjust="spacingAndGlyphs">A&gt;T</text>
<rect x="275.4" y="667" width="4.2" height="6.8" fill="#a8c4e4"/>
<text x="282.6" y="672.6" font-size="6.2" stroke="#231f20" stroke-width="0.15" textLength="12.37" lengthAdjust="spacingAndGlyphs">Indel</text>
<rect x="74.6" y="679" width="4.2" height="6.8" fill="#1a8c1a"/>
<text x="81.6" y="684.6" font-size="6.2" stroke="#231f20" stroke-width="0.15" textLength="68.1" lengthAdjust="spacingAndGlyphs">Immediate early lytic genes</text>
<rect x="156.2" y="679" width="4.2" height="6.8" fill="#f47a5a"/>
<text x="163.2" y="684.6" font-size="6.2" stroke="#231f20" stroke-width="0.15" textLength="53.9" lengthAdjust="spacingAndGlyphs">Other essential genes</text>
<rect x="224.8" y="679" width="4.2" height="6.8" fill="#33c266"/>
<text x="231.8" y="684.6" font-size="6.2" stroke="#231f20" stroke-width="0.15" textLength="42.5" lengthAdjust="spacingAndGlyphs">Other lytic genes</text>
<rect x="282" y="679" width="4.2" height="6.8" fill="#33b6e8"/>
<text x="289" y="684.6" font-size="6.2" stroke="#231f20" stroke-width="0.15" textLength="31.5" lengthAdjust="spacingAndGlyphs">Latent genes</text>
<rect x="327.7" y="679" width="4.2" height="6.8" fill="#ee33ee"/>
<text x="334.7" y="684.6" font-size="6.2" stroke="#231f20" stroke-width="0.15" textLength="45.2" lengthAdjust="spacingAndGlyphs">MicroRNA clusters</text>
<rect x="388.3" y="679" width="4.2" height="6.8" fill="#707070"/>
<text x="395.3" y="684.6" font-size="6.2" stroke="#231f20" stroke-width="0.15" textLength="41.8" lengthAdjust="spacingAndGlyphs">Others/unknown</text>
<rect x="0.5" y="0.5" width="519" height="693" fill="none" stroke="#484848" stroke-width="1"/>
</svg>
</body></html>
